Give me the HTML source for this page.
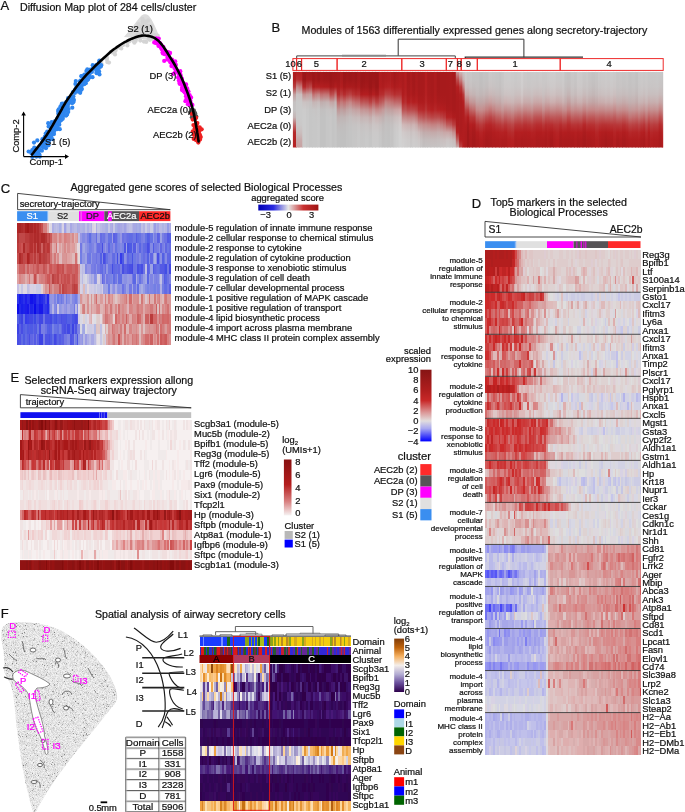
<!DOCTYPE html>
<html><head><meta charset="utf-8"><style>
html,body{margin:0;padding:0;background:#fff;width:685px;height:812px;overflow:hidden}
svg{display:block;will-change:transform}
text{font-family:"Liberation Sans",sans-serif}
</style></head><body>
<svg width="685" height="812" viewBox="0 0 685 812" font-family="Liberation Sans, sans-serif">
<text x="0.5" y="9.8" font-size="13" fill="#111" stroke="#111" stroke-width="0.22">A</text>
<text x="20.0" y="10.9" font-size="10.67" fill="#111" stroke="#111" stroke-width="0.22">Diffusion Map plot of 284 cells/cluster</text>
<path d="M124 37 C130 30 136 22 141 16 C143 13.5 147 13.5 149 16 C153 21 156 28 159 36 C160 40 157 42 153 41 L136 38 Z" fill="#dcdcdc"/>
<circle cx="119.4" cy="47.5" r="2.1" fill="#d4d4d4"/>
<circle cx="115.0" cy="51.2" r="2.1" fill="#d4d4d4"/>
<circle cx="151.0" cy="29.7" r="2.1" fill="#d4d4d4"/>
<circle cx="133.5" cy="41.1" r="2.1" fill="#d4d4d4"/>
<circle cx="152.3" cy="38.2" r="2.1" fill="#d4d4d4"/>
<circle cx="135.6" cy="40.9" r="2.1" fill="#d4d4d4"/>
<circle cx="127.4" cy="45.5" r="2.1" fill="#d4d4d4"/>
<circle cx="139.1" cy="37.0" r="2.1" fill="#d4d4d4"/>
<circle cx="134.0" cy="28.0" r="2.1" fill="#d4d4d4"/>
<circle cx="109.0" cy="62.6" r="2.1" fill="#d4d4d4"/>
<circle cx="146.2" cy="41.9" r="2.1" fill="#d4d4d4"/>
<circle cx="112.2" cy="52.4" r="2.1" fill="#d4d4d4"/>
<circle cx="106.8" cy="59.2" r="2.1" fill="#d4d4d4"/>
<circle cx="149.1" cy="26.2" r="2.1" fill="#d4d4d4"/>
<circle cx="139.6" cy="35.7" r="2.1" fill="#d4d4d4"/>
<circle cx="123.1" cy="44.9" r="2.1" fill="#d4d4d4"/>
<circle cx="154.9" cy="35.1" r="2.1" fill="#d4d4d4"/>
<circle cx="151.2" cy="35.7" r="2.1" fill="#d4d4d4"/>
<circle cx="147.2" cy="27.2" r="2.1" fill="#d4d4d4"/>
<circle cx="121.3" cy="48.5" r="2.1" fill="#d4d4d4"/>
<circle cx="101.6" cy="64.2" r="2.1" fill="#d4d4d4"/>
<circle cx="143.9" cy="31.9" r="2.1" fill="#d4d4d4"/>
<circle cx="110.8" cy="51.9" r="2.1" fill="#d4d4d4"/>
<circle cx="138.1" cy="34.6" r="2.1" fill="#d4d4d4"/>
<circle cx="100.4" cy="67.1" r="2.1" fill="#d4d4d4"/>
<circle cx="115.0" cy="54.4" r="2.1" fill="#d4d4d4"/>
<circle cx="137.7" cy="28.2" r="2.1" fill="#d4d4d4"/>
<circle cx="148.8" cy="39.1" r="2.1" fill="#d4d4d4"/>
<circle cx="134.4" cy="42.7" r="2.1" fill="#d4d4d4"/>
<circle cx="137.9" cy="27.6" r="2.1" fill="#d4d4d4"/>
<circle cx="100.2" cy="65.8" r="2.1" fill="#d4d4d4"/>
<circle cx="138.3" cy="24.0" r="2.1" fill="#d4d4d4"/>
<circle cx="107.3" cy="62.1" r="2.1" fill="#d4d4d4"/>
<circle cx="101.3" cy="60.7" r="2.1" fill="#d4d4d4"/>
<circle cx="143.2" cy="25.6" r="2.1" fill="#d4d4d4"/>
<circle cx="143.9" cy="41.6" r="2.1" fill="#d4d4d4"/>
<circle cx="142.4" cy="18.8" r="2.1" fill="#d4d4d4"/>
<circle cx="107.0" cy="57.7" r="2.1" fill="#d4d4d4"/>
<circle cx="148.1" cy="20.4" r="2.1" fill="#d4d4d4"/>
<circle cx="151.5" cy="31.5" r="2.1" fill="#d4d4d4"/>
<circle cx="149.2" cy="38.0" r="2.1" fill="#d4d4d4"/>
<circle cx="119.6" cy="46.6" r="2.1" fill="#d4d4d4"/>
<circle cx="129.4" cy="41.3" r="2.1" fill="#d4d4d4"/>
<circle cx="140.5" cy="26.5" r="2.1" fill="#d4d4d4"/>
<circle cx="143.2" cy="35.6" r="2.1" fill="#d4d4d4"/>
<circle cx="151.4" cy="34.9" r="2.1" fill="#d4d4d4"/>
<circle cx="136.6" cy="29.3" r="2.1" fill="#d4d4d4"/>
<circle cx="113.2" cy="51.9" r="2.1" fill="#d4d4d4"/>
<circle cx="137.4" cy="34.7" r="2.1" fill="#d4d4d4"/>
<circle cx="115.8" cy="49.8" r="2.1" fill="#d4d4d4"/>
<circle cx="143.7" cy="30.8" r="2.1" fill="#d4d4d4"/>
<circle cx="143.3" cy="20.9" r="2.1" fill="#d4d4d4"/>
<circle cx="150.7" cy="27.2" r="2.1" fill="#d4d4d4"/>
<circle cx="137.4" cy="28.7" r="2.1" fill="#d4d4d4"/>
<circle cx="147.0" cy="26.1" r="2.1" fill="#d4d4d4"/>
<circle cx="144.3" cy="32.5" r="2.1" fill="#d4d4d4"/>
<circle cx="119.8" cy="47.4" r="2.1" fill="#d4d4d4"/>
<circle cx="151.8" cy="26.1" r="2.1" fill="#d4d4d4"/>
<circle cx="145.8" cy="22.5" r="2.1" fill="#d4d4d4"/>
<circle cx="142.8" cy="33.5" r="2.1" fill="#d4d4d4"/>
<circle cx="157.7" cy="35.5" r="2.1" fill="#d4d4d4"/>
<circle cx="144.6" cy="21.3" r="2.1" fill="#d4d4d4"/>
<circle cx="127.2" cy="42.6" r="2.1" fill="#d4d4d4"/>
<circle cx="149.8" cy="39.8" r="2.1" fill="#d4d4d4"/>
<circle cx="140.3" cy="40.6" r="2.1" fill="#d4d4d4"/>
<circle cx="144.6" cy="24.6" r="2.1" fill="#d4d4d4"/>
<circle cx="149.1" cy="29.8" r="2.1" fill="#d4d4d4"/>
<circle cx="140.9" cy="33.6" r="2.1" fill="#d4d4d4"/>
<circle cx="149.1" cy="38.3" r="2.1" fill="#d4d4d4"/>
<circle cx="144.0" cy="29.9" r="2.1" fill="#d4d4d4"/>
<circle cx="142.8" cy="22.1" r="2.1" fill="#d4d4d4"/>
<circle cx="136.0" cy="39.2" r="2.1" fill="#d4d4d4"/>
<circle cx="135.8" cy="36.8" r="2.1" fill="#d4d4d4"/>
<circle cx="98.7" cy="68.7" r="2.1" fill="#d4d4d4"/>
<circle cx="137.0" cy="37.6" r="2.1" fill="#d4d4d4"/>
<circle cx="51.4" cy="135.7" r="2.1" fill="#2f86ee"/>
<circle cx="63.9" cy="111.8" r="2.1" fill="#2f86ee"/>
<circle cx="40.9" cy="145.9" r="2.1" fill="#2f86ee"/>
<circle cx="34.3" cy="155.2" r="2.1" fill="#2f86ee"/>
<circle cx="61.9" cy="111.3" r="2.1" fill="#2f86ee"/>
<circle cx="79.1" cy="90.5" r="2.1" fill="#2f86ee"/>
<circle cx="59.7" cy="116.3" r="2.1" fill="#2f86ee"/>
<circle cx="93.5" cy="68.6" r="2.1" fill="#2f86ee"/>
<circle cx="62.7" cy="118.8" r="2.1" fill="#2f86ee"/>
<circle cx="42.4" cy="139.2" r="2.1" fill="#2f86ee"/>
<circle cx="32.3" cy="157.0" r="2.1" fill="#2f86ee"/>
<circle cx="31.6" cy="151.9" r="2.1" fill="#2f86ee"/>
<circle cx="99.5" cy="74.5" r="2.1" fill="#2f86ee"/>
<circle cx="66.2" cy="115.5" r="2.1" fill="#2f86ee"/>
<circle cx="54.5" cy="130.3" r="2.1" fill="#2f86ee"/>
<circle cx="80.2" cy="92.8" r="2.1" fill="#2f86ee"/>
<circle cx="54.8" cy="124.9" r="2.1" fill="#2f86ee"/>
<circle cx="46.0" cy="141.9" r="2.1" fill="#2f86ee"/>
<circle cx="46.6" cy="140.4" r="2.1" fill="#2f86ee"/>
<circle cx="85.2" cy="76.2" r="2.1" fill="#2f86ee"/>
<circle cx="35.3" cy="153.5" r="2.1" fill="#2f86ee"/>
<circle cx="70.5" cy="101.4" r="2.1" fill="#2f86ee"/>
<circle cx="39.4" cy="154.6" r="2.1" fill="#2f86ee"/>
<circle cx="58.7" cy="109.3" r="2.1" fill="#2f86ee"/>
<circle cx="64.0" cy="109.1" r="2.1" fill="#2f86ee"/>
<circle cx="33.1" cy="154.2" r="2.1" fill="#2f86ee"/>
<circle cx="84.4" cy="78.3" r="2.1" fill="#2f86ee"/>
<circle cx="36.5" cy="150.8" r="2.1" fill="#2f86ee"/>
<circle cx="42.2" cy="142.6" r="2.1" fill="#2f86ee"/>
<circle cx="58.2" cy="110.8" r="2.1" fill="#2f86ee"/>
<circle cx="89.3" cy="77.2" r="2.1" fill="#2f86ee"/>
<circle cx="55.4" cy="124.0" r="2.1" fill="#2f86ee"/>
<circle cx="91.9" cy="71.9" r="2.1" fill="#2f86ee"/>
<circle cx="49.3" cy="132.8" r="2.1" fill="#2f86ee"/>
<circle cx="49.3" cy="137.1" r="2.1" fill="#2f86ee"/>
<circle cx="81.4" cy="86.4" r="2.1" fill="#2f86ee"/>
<circle cx="55.1" cy="121.2" r="2.1" fill="#2f86ee"/>
<circle cx="54.4" cy="122.2" r="2.1" fill="#2f86ee"/>
<circle cx="75.8" cy="81.1" r="2.1" fill="#2f86ee"/>
<circle cx="60.5" cy="119.7" r="2.1" fill="#2f86ee"/>
<circle cx="38.4" cy="150.2" r="2.1" fill="#2f86ee"/>
<circle cx="87.0" cy="74.9" r="2.1" fill="#2f86ee"/>
<circle cx="99.1" cy="66.4" r="2.1" fill="#2f86ee"/>
<circle cx="66.9" cy="109.0" r="2.1" fill="#2f86ee"/>
<circle cx="60.1" cy="109.7" r="2.1" fill="#2f86ee"/>
<circle cx="97.6" cy="66.8" r="2.1" fill="#2f86ee"/>
<circle cx="87.3" cy="69.4" r="2.1" fill="#2f86ee"/>
<circle cx="62.4" cy="107.2" r="2.1" fill="#2f86ee"/>
<circle cx="70.7" cy="98.0" r="2.1" fill="#2f86ee"/>
<circle cx="59.2" cy="117.9" r="2.1" fill="#2f86ee"/>
<circle cx="96.1" cy="69.1" r="2.1" fill="#2f86ee"/>
<circle cx="47.5" cy="134.1" r="2.1" fill="#2f86ee"/>
<circle cx="36.4" cy="156.6" r="2.1" fill="#2f86ee"/>
<circle cx="50.8" cy="132.3" r="2.1" fill="#2f86ee"/>
<circle cx="37.3" cy="140.4" r="2.1" fill="#2f86ee"/>
<circle cx="76.7" cy="88.9" r="2.1" fill="#2f86ee"/>
<circle cx="100.8" cy="66.4" r="2.1" fill="#2f86ee"/>
<circle cx="66.2" cy="115.3" r="2.1" fill="#2f86ee"/>
<circle cx="96.6" cy="72.6" r="2.1" fill="#2f86ee"/>
<circle cx="95.5" cy="67.4" r="2.1" fill="#2f86ee"/>
<circle cx="92.5" cy="77.2" r="2.1" fill="#2f86ee"/>
<circle cx="63.2" cy="110.9" r="2.1" fill="#2f86ee"/>
<circle cx="58.9" cy="111.3" r="2.1" fill="#2f86ee"/>
<circle cx="64.5" cy="106.1" r="2.1" fill="#2f86ee"/>
<circle cx="83.1" cy="83.2" r="2.1" fill="#2f86ee"/>
<circle cx="45.5" cy="147.0" r="2.1" fill="#2f86ee"/>
<circle cx="89.6" cy="74.0" r="2.1" fill="#2f86ee"/>
<circle cx="50.6" cy="132.1" r="2.1" fill="#2f86ee"/>
<circle cx="63.0" cy="112.6" r="2.1" fill="#2f86ee"/>
<circle cx="37.7" cy="151.2" r="2.1" fill="#2f86ee"/>
<circle cx="58.9" cy="122.4" r="2.1" fill="#2f86ee"/>
<circle cx="46.4" cy="137.7" r="2.1" fill="#2f86ee"/>
<circle cx="57.0" cy="126.7" r="2.1" fill="#2f86ee"/>
<circle cx="38.4" cy="148.9" r="2.1" fill="#2f86ee"/>
<circle cx="62.2" cy="103.5" r="2.1" fill="#2f86ee"/>
<circle cx="31.3" cy="152.9" r="2.1" fill="#2f86ee"/>
<circle cx="96.4" cy="70.8" r="2.1" fill="#2f86ee"/>
<circle cx="81.9" cy="89.1" r="2.1" fill="#2f86ee"/>
<circle cx="84.4" cy="84.1" r="2.1" fill="#2f86ee"/>
<circle cx="43.0" cy="147.4" r="2.1" fill="#2f86ee"/>
<circle cx="65.4" cy="108.0" r="2.1" fill="#2f86ee"/>
<circle cx="61.8" cy="111.9" r="2.1" fill="#2f86ee"/>
<circle cx="52.9" cy="128.9" r="2.1" fill="#2f86ee"/>
<circle cx="67.0" cy="114.4" r="2.1" fill="#2f86ee"/>
<circle cx="49.6" cy="139.6" r="2.1" fill="#2f86ee"/>
<circle cx="60.6" cy="113.0" r="2.1" fill="#2f86ee"/>
<circle cx="70.8" cy="97.7" r="2.1" fill="#2f86ee"/>
<circle cx="43.5" cy="144.7" r="2.1" fill="#2f86ee"/>
<circle cx="67.4" cy="106.7" r="2.1" fill="#2f86ee"/>
<circle cx="89.3" cy="77.4" r="2.1" fill="#2f86ee"/>
<circle cx="85.1" cy="76.7" r="2.1" fill="#2f86ee"/>
<circle cx="47.8" cy="135.1" r="2.1" fill="#2f86ee"/>
<circle cx="64.4" cy="108.1" r="2.1" fill="#2f86ee"/>
<circle cx="61.1" cy="113.0" r="2.1" fill="#2f86ee"/>
<circle cx="58.6" cy="112.0" r="2.1" fill="#2f86ee"/>
<circle cx="60.3" cy="106.9" r="2.1" fill="#2f86ee"/>
<circle cx="96.7" cy="73.2" r="2.1" fill="#2f86ee"/>
<circle cx="64.4" cy="115.6" r="2.1" fill="#2f86ee"/>
<circle cx="44.9" cy="136.6" r="2.1" fill="#2f86ee"/>
<circle cx="66.3" cy="103.7" r="2.1" fill="#2f86ee"/>
<circle cx="50.6" cy="135.6" r="2.1" fill="#2f86ee"/>
<circle cx="54.0" cy="134.1" r="2.1" fill="#2f86ee"/>
<circle cx="73.0" cy="92.1" r="2.1" fill="#2f86ee"/>
<circle cx="52.6" cy="131.3" r="2.1" fill="#2f86ee"/>
<circle cx="58.6" cy="117.6" r="2.1" fill="#2f86ee"/>
<circle cx="60.9" cy="116.8" r="2.1" fill="#2f86ee"/>
<circle cx="46.8" cy="133.7" r="2.1" fill="#2f86ee"/>
<circle cx="72.3" cy="107.7" r="2.1" fill="#2f86ee"/>
<circle cx="50.7" cy="132.0" r="2.1" fill="#2f86ee"/>
<circle cx="70.5" cy="102.0" r="2.1" fill="#2f86ee"/>
<circle cx="32.0" cy="151.7" r="2.1" fill="#2f86ee"/>
<circle cx="61.9" cy="115.5" r="2.1" fill="#2f86ee"/>
<circle cx="83.7" cy="76.0" r="2.1" fill="#2f86ee"/>
<circle cx="61.3" cy="120.1" r="2.1" fill="#2f86ee"/>
<circle cx="81.9" cy="81.7" r="2.1" fill="#2f86ee"/>
<circle cx="48.8" cy="139.3" r="2.1" fill="#2f86ee"/>
<circle cx="69.5" cy="100.3" r="2.1" fill="#2f86ee"/>
<circle cx="48.5" cy="145.3" r="2.1" fill="#2f86ee"/>
<circle cx="63.6" cy="106.0" r="2.1" fill="#2f86ee"/>
<circle cx="60.9" cy="113.8" r="2.1" fill="#2f86ee"/>
<circle cx="62.3" cy="118.4" r="2.1" fill="#2f86ee"/>
<circle cx="70.3" cy="100.8" r="2.1" fill="#2f86ee"/>
<circle cx="82.6" cy="84.6" r="2.1" fill="#2f86ee"/>
<circle cx="34.5" cy="153.3" r="2.1" fill="#2f86ee"/>
<circle cx="62.4" cy="104.2" r="2.1" fill="#2f86ee"/>
<circle cx="73.2" cy="102.3" r="2.1" fill="#2f86ee"/>
<circle cx="50.9" cy="132.6" r="2.1" fill="#2f86ee"/>
<circle cx="81.3" cy="82.0" r="2.1" fill="#2f86ee"/>
<circle cx="53.8" cy="125.4" r="2.1" fill="#2f86ee"/>
<circle cx="34.7" cy="150.6" r="2.1" fill="#2f86ee"/>
<circle cx="75.4" cy="89.7" r="2.1" fill="#2f86ee"/>
<circle cx="77.8" cy="87.5" r="2.1" fill="#2f86ee"/>
<circle cx="43.8" cy="140.0" r="2.1" fill="#2f86ee"/>
<circle cx="52.4" cy="128.5" r="2.1" fill="#2f86ee"/>
<circle cx="45.7" cy="133.5" r="2.1" fill="#2f86ee"/>
<circle cx="48.8" cy="142.1" r="2.1" fill="#2f86ee"/>
<circle cx="50.5" cy="127.5" r="2.1" fill="#2f86ee"/>
<circle cx="50.0" cy="131.5" r="2.1" fill="#2f86ee"/>
<circle cx="48.2" cy="123.2" r="2.1" fill="#2f86ee"/>
<circle cx="68.6" cy="109.0" r="2.1" fill="#2f86ee"/>
<circle cx="61.8" cy="114.8" r="2.1" fill="#2f86ee"/>
<circle cx="39.7" cy="149.9" r="2.1" fill="#2f86ee"/>
<circle cx="63.7" cy="105.5" r="2.1" fill="#2f86ee"/>
<circle cx="52.4" cy="139.2" r="2.1" fill="#2f86ee"/>
<circle cx="76.3" cy="87.4" r="2.1" fill="#2f86ee"/>
<circle cx="84.4" cy="82.6" r="2.1" fill="#2f86ee"/>
<circle cx="52.0" cy="130.9" r="2.1" fill="#2f86ee"/>
<circle cx="60.7" cy="115.0" r="2.1" fill="#2f86ee"/>
<circle cx="58.3" cy="113.7" r="2.1" fill="#2f86ee"/>
<circle cx="60.8" cy="116.7" r="2.1" fill="#2f86ee"/>
<circle cx="45.0" cy="143.2" r="2.1" fill="#2f86ee"/>
<circle cx="99.4" cy="60.6" r="2.1" fill="#2f86ee"/>
<circle cx="41.9" cy="150.7" r="2.1" fill="#2f86ee"/>
<circle cx="57.5" cy="118.3" r="2.1" fill="#2f86ee"/>
<circle cx="73.8" cy="100.8" r="2.1" fill="#2f86ee"/>
<circle cx="79.4" cy="87.2" r="2.1" fill="#2f86ee"/>
<circle cx="67.2" cy="103.6" r="2.1" fill="#2f86ee"/>
<circle cx="61.7" cy="104.2" r="2.1" fill="#2f86ee"/>
<circle cx="68.1" cy="104.2" r="2.1" fill="#2f86ee"/>
<circle cx="56.6" cy="122.0" r="2.1" fill="#2f86ee"/>
<circle cx="67.5" cy="106.3" r="2.1" fill="#2f86ee"/>
<circle cx="84.4" cy="74.6" r="2.1" fill="#2f86ee"/>
<circle cx="47.4" cy="141.0" r="2.1" fill="#2f86ee"/>
<circle cx="34.0" cy="142.6" r="2.1" fill="#2f86ee"/>
<circle cx="56.8" cy="122.8" r="2.1" fill="#2f86ee"/>
<circle cx="98.8" cy="68.1" r="2.1" fill="#2f86ee"/>
<circle cx="79.9" cy="81.6" r="2.1" fill="#2f86ee"/>
<circle cx="58.4" cy="122.4" r="2.1" fill="#2f86ee"/>
<circle cx="84.6" cy="81.7" r="2.1" fill="#2f86ee"/>
<circle cx="79.2" cy="84.9" r="2.1" fill="#2f86ee"/>
<circle cx="51.8" cy="131.5" r="2.1" fill="#2f86ee"/>
<circle cx="73.6" cy="99.3" r="2.1" fill="#2f86ee"/>
<circle cx="54.7" cy="124.2" r="2.1" fill="#2f86ee"/>
<circle cx="57.0" cy="129.2" r="2.1" fill="#2f86ee"/>
<circle cx="59.3" cy="124.7" r="2.1" fill="#2f86ee"/>
<circle cx="47.7" cy="132.9" r="2.1" fill="#2f86ee"/>
<circle cx="75.1" cy="90.1" r="2.1" fill="#2f86ee"/>
<circle cx="68.1" cy="99.5" r="2.1" fill="#2f86ee"/>
<circle cx="57.4" cy="127.3" r="2.1" fill="#2f86ee"/>
<circle cx="48.0" cy="136.1" r="2.1" fill="#2f86ee"/>
<circle cx="38.8" cy="151.3" r="2.1" fill="#2f86ee"/>
<circle cx="84.3" cy="83.7" r="2.1" fill="#2f86ee"/>
<circle cx="54.5" cy="127.3" r="2.1" fill="#2f86ee"/>
<circle cx="80.8" cy="90.3" r="2.1" fill="#2f86ee"/>
<circle cx="97.8" cy="71.0" r="2.1" fill="#2f86ee"/>
<circle cx="45.8" cy="142.0" r="2.1" fill="#2f86ee"/>
<circle cx="34.4" cy="155.3" r="2.1" fill="#2f86ee"/>
<circle cx="94.8" cy="66.0" r="2.1" fill="#2f86ee"/>
<circle cx="64.4" cy="110.0" r="2.1" fill="#2f86ee"/>
<circle cx="85.7" cy="79.5" r="2.1" fill="#2f86ee"/>
<circle cx="33.4" cy="154.0" r="2.1" fill="#2f86ee"/>
<circle cx="80.5" cy="86.0" r="2.1" fill="#2f86ee"/>
<circle cx="45.5" cy="140.9" r="2.1" fill="#2f86ee"/>
<circle cx="36.2" cy="153.5" r="2.1" fill="#2f86ee"/>
<circle cx="62.0" cy="117.2" r="2.1" fill="#2f86ee"/>
<circle cx="55.8" cy="129.1" r="2.1" fill="#2f86ee"/>
<circle cx="47.9" cy="141.3" r="2.1" fill="#2f86ee"/>
<circle cx="34.3" cy="147.5" r="2.1" fill="#2f86ee"/>
<circle cx="63.1" cy="110.0" r="2.1" fill="#2f86ee"/>
<circle cx="48.6" cy="126.5" r="2.1" fill="#2f86ee"/>
<circle cx="85.8" cy="83.2" r="2.1" fill="#2f86ee"/>
<circle cx="75.7" cy="91.2" r="2.1" fill="#2f86ee"/>
<circle cx="101.2" cy="65.2" r="2.1" fill="#2f86ee"/>
<circle cx="45.7" cy="138.7" r="2.1" fill="#2f86ee"/>
<circle cx="45.9" cy="148.2" r="2.1" fill="#2f86ee"/>
<circle cx="51.6" cy="124.1" r="2.1" fill="#2f86ee"/>
<circle cx="83.4" cy="82.5" r="2.1" fill="#2f86ee"/>
<circle cx="86.8" cy="80.5" r="2.1" fill="#2f86ee"/>
<circle cx="34.1" cy="149.7" r="2.1" fill="#2f86ee"/>
<circle cx="71.8" cy="102.8" r="2.1" fill="#2f86ee"/>
<circle cx="89.6" cy="77.1" r="2.1" fill="#2f86ee"/>
<circle cx="42.3" cy="146.0" r="2.1" fill="#2f86ee"/>
<circle cx="86.4" cy="71.1" r="2.1" fill="#2f86ee"/>
<circle cx="59.1" cy="122.3" r="2.1" fill="#2f86ee"/>
<circle cx="56.2" cy="123.9" r="2.1" fill="#2f86ee"/>
<circle cx="48.4" cy="136.2" r="2.1" fill="#2f86ee"/>
<circle cx="57.6" cy="121.1" r="2.1" fill="#2f86ee"/>
<circle cx="69.3" cy="99.9" r="2.1" fill="#2f86ee"/>
<circle cx="68.9" cy="102.7" r="2.1" fill="#2f86ee"/>
<circle cx="80.4" cy="80.7" r="2.1" fill="#2f86ee"/>
<circle cx="92.9" cy="68.6" r="2.1" fill="#2f86ee"/>
<circle cx="66.2" cy="102.2" r="2.1" fill="#2f86ee"/>
<circle cx="53.9" cy="131.8" r="2.1" fill="#2f86ee"/>
<circle cx="46.8" cy="133.5" r="2.1" fill="#2f86ee"/>
<circle cx="46.5" cy="137.8" r="2.1" fill="#2f86ee"/>
<circle cx="86.6" cy="80.3" r="2.1" fill="#2f86ee"/>
<circle cx="34.4" cy="149.2" r="2.1" fill="#2f86ee"/>
<circle cx="32.3" cy="150.2" r="2.1" fill="#2f86ee"/>
<circle cx="64.1" cy="111.8" r="2.1" fill="#2f86ee"/>
<circle cx="50.4" cy="133.8" r="2.1" fill="#2f86ee"/>
<circle cx="92.7" cy="65.2" r="2.1" fill="#2f86ee"/>
<circle cx="82.2" cy="83.2" r="2.1" fill="#2f86ee"/>
<circle cx="61.3" cy="116.9" r="2.1" fill="#2f86ee"/>
<circle cx="33.4" cy="154.3" r="2.1" fill="#2f86ee"/>
<circle cx="37.1" cy="154.3" r="2.1" fill="#2f86ee"/>
<circle cx="99.1" cy="62.3" r="2.1" fill="#2f86ee"/>
<circle cx="47.2" cy="131.6" r="2.1" fill="#2f86ee"/>
<circle cx="75.4" cy="83.9" r="2.1" fill="#2f86ee"/>
<circle cx="64.2" cy="106.3" r="2.1" fill="#2f86ee"/>
<circle cx="67.3" cy="110.8" r="2.1" fill="#2f86ee"/>
<circle cx="61.9" cy="109.9" r="2.1" fill="#2f86ee"/>
<circle cx="50.3" cy="134.8" r="2.1" fill="#2f86ee"/>
<circle cx="96.5" cy="64.9" r="2.1" fill="#2f86ee"/>
<circle cx="68.1" cy="98.2" r="2.1" fill="#2f86ee"/>
<circle cx="62.2" cy="115.3" r="2.1" fill="#2f86ee"/>
<circle cx="60.3" cy="111.4" r="2.1" fill="#2f86ee"/>
<circle cx="39.8" cy="156.6" r="2.1" fill="#2f86ee"/>
<circle cx="81.6" cy="76.3" r="2.1" fill="#2f86ee"/>
<circle cx="74.9" cy="93.0" r="2.1" fill="#2f86ee"/>
<circle cx="71.4" cy="98.4" r="2.1" fill="#2f86ee"/>
<circle cx="56.7" cy="123.0" r="2.1" fill="#2f86ee"/>
<circle cx="68.2" cy="112.1" r="2.1" fill="#2f86ee"/>
<circle cx="78.0" cy="91.6" r="2.1" fill="#2f86ee"/>
<circle cx="50.6" cy="131.5" r="2.1" fill="#2f86ee"/>
<circle cx="51.3" cy="135.3" r="2.1" fill="#2f86ee"/>
<circle cx="65.1" cy="107.9" r="2.1" fill="#2f86ee"/>
<circle cx="28.6" cy="151.5" r="2.1" fill="#2f86ee"/>
<circle cx="90.2" cy="69.5" r="2.1" fill="#2f86ee"/>
<circle cx="36.5" cy="150.5" r="2.1" fill="#2f86ee"/>
<circle cx="56.4" cy="121.8" r="2.1" fill="#2f86ee"/>
<circle cx="64.8" cy="106.3" r="2.1" fill="#2f86ee"/>
<circle cx="73.4" cy="96.3" r="2.1" fill="#2f86ee"/>
<circle cx="55.4" cy="126.4" r="2.1" fill="#2f86ee"/>
<circle cx="50.4" cy="135.8" r="2.1" fill="#2f86ee"/>
<circle cx="81.3" cy="76.1" r="2.1" fill="#2f86ee"/>
<circle cx="44.3" cy="144.4" r="2.1" fill="#2f86ee"/>
<circle cx="68.1" cy="100.2" r="2.1" fill="#2f86ee"/>
<circle cx="51.2" cy="128.8" r="2.1" fill="#2f86ee"/>
<circle cx="99.1" cy="71.6" r="2.1" fill="#2f86ee"/>
<circle cx="37.3" cy="150.6" r="2.1" fill="#2f86ee"/>
<circle cx="51.4" cy="128.5" r="2.1" fill="#2f86ee"/>
<circle cx="83.3" cy="80.5" r="2.1" fill="#2f86ee"/>
<circle cx="64.2" cy="103.6" r="2.1" fill="#2f86ee"/>
<circle cx="82.0" cy="82.9" r="2.1" fill="#2f86ee"/>
<circle cx="71.7" cy="99.5" r="2.1" fill="#2f86ee"/>
<circle cx="51.7" cy="122.2" r="2.1" fill="#2f86ee"/>
<circle cx="32.8" cy="150.0" r="2.1" fill="#2f86ee"/>
<circle cx="35.7" cy="148.7" r="2.1" fill="#2f86ee"/>
<circle cx="88.1" cy="79.5" r="2.1" fill="#2f86ee"/>
<circle cx="72.4" cy="102.8" r="2.1" fill="#2f86ee"/>
<circle cx="62.9" cy="110.6" r="2.1" fill="#2f86ee"/>
<circle cx="72.1" cy="97.4" r="2.1" fill="#2f86ee"/>
<circle cx="44.7" cy="144.2" r="2.1" fill="#2f86ee"/>
<circle cx="59.8" cy="129.2" r="2.1" fill="#2f86ee"/>
<circle cx="43.5" cy="142.5" r="2.1" fill="#2f86ee"/>
<circle cx="52.0" cy="130.8" r="2.1" fill="#2f86ee"/>
<circle cx="59.9" cy="117.5" r="2.1" fill="#2f86ee"/>
<circle cx="44.8" cy="145.9" r="2.1" fill="#2f86ee"/>
<circle cx="31.9" cy="152.9" r="2.1" fill="#2f86ee"/>
<circle cx="83.0" cy="80.3" r="2.1" fill="#2f86ee"/>
<circle cx="156.0" cy="42.4" r="2.1" fill="#ff00ff"/>
<circle cx="170.5" cy="62.5" r="2.1" fill="#ff00ff"/>
<circle cx="156.0" cy="42.5" r="2.1" fill="#ff00ff"/>
<circle cx="161.6" cy="49.0" r="2.1" fill="#ff00ff"/>
<circle cx="171.6" cy="61.4" r="2.1" fill="#ff00ff"/>
<circle cx="157.8" cy="41.1" r="2.1" fill="#ff00ff"/>
<circle cx="187.9" cy="104.3" r="2.1" fill="#ff00ff"/>
<circle cx="156.7" cy="39.5" r="2.1" fill="#ff00ff"/>
<circle cx="162.0" cy="49.3" r="2.1" fill="#ff00ff"/>
<circle cx="175.9" cy="64.9" r="2.1" fill="#ff00ff"/>
<circle cx="181.9" cy="78.6" r="2.1" fill="#ff00ff"/>
<circle cx="187.2" cy="98.6" r="2.1" fill="#ff00ff"/>
<circle cx="179.9" cy="83.9" r="2.1" fill="#ff00ff"/>
<circle cx="180.3" cy="71.2" r="2.1" fill="#ff00ff"/>
<circle cx="187.6" cy="92.6" r="2.1" fill="#ff00ff"/>
<circle cx="182.0" cy="90.1" r="2.1" fill="#ff00ff"/>
<circle cx="183.6" cy="84.7" r="2.1" fill="#ff00ff"/>
<circle cx="185.6" cy="91.8" r="2.1" fill="#ff00ff"/>
<circle cx="166.7" cy="54.8" r="2.1" fill="#ff00ff"/>
<circle cx="185.9" cy="93.8" r="2.1" fill="#ff00ff"/>
<circle cx="172.2" cy="60.6" r="2.1" fill="#ff00ff"/>
<circle cx="180.8" cy="80.0" r="2.1" fill="#ff00ff"/>
<circle cx="161.0" cy="45.2" r="2.1" fill="#ff00ff"/>
<circle cx="160.5" cy="45.2" r="2.1" fill="#ff00ff"/>
<circle cx="167.4" cy="59.6" r="2.1" fill="#ff00ff"/>
<circle cx="166.3" cy="52.3" r="2.1" fill="#ff00ff"/>
<circle cx="174.4" cy="68.0" r="2.1" fill="#ff00ff"/>
<circle cx="157.3" cy="43.5" r="2.1" fill="#ff00ff"/>
<circle cx="178.5" cy="73.8" r="2.1" fill="#ff00ff"/>
<circle cx="172.1" cy="59.7" r="2.1" fill="#ff00ff"/>
<circle cx="179.4" cy="82.9" r="2.1" fill="#ff00ff"/>
<circle cx="172.0" cy="62.3" r="2.1" fill="#ff00ff"/>
<circle cx="166.8" cy="52.6" r="2.1" fill="#ff00ff"/>
<circle cx="185.7" cy="84.5" r="2.1" fill="#ff00ff"/>
<circle cx="190.6" cy="102.5" r="2.1" fill="#ff00ff"/>
<circle cx="175.5" cy="68.5" r="2.1" fill="#ff00ff"/>
<circle cx="175.0" cy="72.6" r="2.1" fill="#ff00ff"/>
<circle cx="185.2" cy="86.3" r="2.1" fill="#ff00ff"/>
<circle cx="160.7" cy="47.3" r="2.1" fill="#ff00ff"/>
<circle cx="189.8" cy="100.4" r="2.1" fill="#ff00ff"/>
<circle cx="188.3" cy="91.8" r="2.1" fill="#ff00ff"/>
<circle cx="189.6" cy="95.1" r="2.1" fill="#ff00ff"/>
<circle cx="156.4" cy="40.8" r="2.1" fill="#ff00ff"/>
<circle cx="158.7" cy="43.6" r="2.1" fill="#ff00ff"/>
<circle cx="170.2" cy="61.8" r="2.1" fill="#ff00ff"/>
<circle cx="154.2" cy="42.4" r="2.1" fill="#ff00ff"/>
<circle cx="175.2" cy="61.3" r="2.1" fill="#ff00ff"/>
<circle cx="162.2" cy="47.0" r="2.1" fill="#ff00ff"/>
<circle cx="174.8" cy="67.5" r="2.1" fill="#ff00ff"/>
<circle cx="157.4" cy="41.9" r="2.1" fill="#ff00ff"/>
<circle cx="180.3" cy="77.0" r="2.1" fill="#ff00ff"/>
<circle cx="174.1" cy="64.5" r="2.1" fill="#ff00ff"/>
<circle cx="180.1" cy="80.5" r="2.1" fill="#ff00ff"/>
<circle cx="178.0" cy="77.4" r="2.1" fill="#ff00ff"/>
<circle cx="183.7" cy="91.3" r="2.1" fill="#ff00ff"/>
<circle cx="187.8" cy="95.8" r="2.1" fill="#ff00ff"/>
<circle cx="157.5" cy="42.2" r="2.1" fill="#ff00ff"/>
<circle cx="169.3" cy="58.1" r="2.1" fill="#ff00ff"/>
<circle cx="182.1" cy="87.4" r="2.1" fill="#ff00ff"/>
<circle cx="158.6" cy="42.7" r="2.1" fill="#ff00ff"/>
<circle cx="171.4" cy="66.1" r="2.1" fill="#ff00ff"/>
<circle cx="171.4" cy="62.1" r="2.1" fill="#ff00ff"/>
<circle cx="190.3" cy="100.6" r="2.1" fill="#ff00ff"/>
<circle cx="180.7" cy="78.1" r="2.1" fill="#ff00ff"/>
<circle cx="192.4" cy="104.9" r="2.1" fill="#ff00ff"/>
<circle cx="169.2" cy="59.7" r="2.1" fill="#ff00ff"/>
<circle cx="177.3" cy="70.8" r="2.1" fill="#ff00ff"/>
<circle cx="188.1" cy="99.9" r="2.1" fill="#ff00ff"/>
<circle cx="180.7" cy="75.6" r="2.1" fill="#ff00ff"/>
<circle cx="187.4" cy="90.8" r="2.1" fill="#ff00ff"/>
<circle cx="188.4" cy="91.4" r="2.1" fill="#ff00ff"/>
<circle cx="164.6" cy="54.2" r="2.1" fill="#ff00ff"/>
<circle cx="190.3" cy="105.2" r="2.1" fill="#ff00ff"/>
<circle cx="155.4" cy="42.8" r="2.1" fill="#ff00ff"/>
<circle cx="191.1" cy="97.6" r="2.1" fill="#ff00ff"/>
<circle cx="156.7" cy="41.4" r="2.1" fill="#ff00ff"/>
<circle cx="186.1" cy="84.4" r="2.1" fill="#ff00ff"/>
<circle cx="172.3" cy="64.6" r="2.1" fill="#ff00ff"/>
<circle cx="182.8" cy="85.2" r="2.1" fill="#ff00ff"/>
<circle cx="187.3" cy="90.9" r="2.1" fill="#ff00ff"/>
<circle cx="168.1" cy="55.0" r="2.1" fill="#ff00ff"/>
<circle cx="162.6" cy="52.3" r="2.1" fill="#ff00ff"/>
<circle cx="184.0" cy="88.7" r="2.1" fill="#ff00ff"/>
<circle cx="158.8" cy="38.5" r="2.1" fill="#ff00ff"/>
<circle cx="165.6" cy="53.2" r="2.1" fill="#ff00ff"/>
<circle cx="183.5" cy="88.5" r="2.1" fill="#ff00ff"/>
<circle cx="189.3" cy="103.1" r="2.1" fill="#ff00ff"/>
<circle cx="157.8" cy="40.2" r="2.1" fill="#ff00ff"/>
<circle cx="158.9" cy="43.8" r="2.1" fill="#ff00ff"/>
<circle cx="181.9" cy="80.3" r="2.1" fill="#ff00ff"/>
<circle cx="185.4" cy="101.2" r="2.1" fill="#ff00ff"/>
<circle cx="185.2" cy="84.9" r="2.1" fill="#ff00ff"/>
<circle cx="164.2" cy="60.9" r="2.1" fill="#ff00ff"/>
<circle cx="168.2" cy="52.0" r="2.1" fill="#ff00ff"/>
<circle cx="186.7" cy="95.8" r="2.1" fill="#ff00ff"/>
<circle cx="160.3" cy="43.4" r="2.1" fill="#ff00ff"/>
<circle cx="168.1" cy="56.3" r="2.1" fill="#ff00ff"/>
<circle cx="184.7" cy="88.7" r="2.1" fill="#ff00ff"/>
<circle cx="166.3" cy="52.0" r="2.1" fill="#ff00ff"/>
<circle cx="190.7" cy="104.9" r="2.1" fill="#ff00ff"/>
<circle cx="163.3" cy="46.8" r="2.1" fill="#ff00ff"/>
<circle cx="162.9" cy="53.4" r="2.1" fill="#ff00ff"/>
<circle cx="176.3" cy="69.9" r="2.1" fill="#ff00ff"/>
<circle cx="187.2" cy="88.4" r="2.1" fill="#ff00ff"/>
<circle cx="188.0" cy="100.1" r="2.1" fill="#ff00ff"/>
<circle cx="156.7" cy="43.2" r="2.1" fill="#ff00ff"/>
<circle cx="179.3" cy="77.0" r="2.1" fill="#ff00ff"/>
<circle cx="182.3" cy="82.7" r="2.1" fill="#ff00ff"/>
<circle cx="178.9" cy="80.5" r="2.1" fill="#ff00ff"/>
<circle cx="180.4" cy="82.4" r="2.1" fill="#ff00ff"/>
<circle cx="165.4" cy="50.5" r="2.1" fill="#ff00ff"/>
<circle cx="174.6" cy="62.0" r="2.1" fill="#ff00ff"/>
<circle cx="182.3" cy="89.3" r="2.1" fill="#ff00ff"/>
<circle cx="190.6" cy="97.2" r="2.1" fill="#ff00ff"/>
<circle cx="184.8" cy="92.6" r="2.1" fill="#ff00ff"/>
<circle cx="160.6" cy="47.0" r="2.1" fill="#ff00ff"/>
<circle cx="188.5" cy="97.4" r="2.1" fill="#ff00ff"/>
<circle cx="167.5" cy="57.6" r="2.1" fill="#ff00ff"/>
<circle cx="158.5" cy="45.9" r="2.1" fill="#ff00ff"/>
<circle cx="169.0" cy="54.3" r="2.1" fill="#ff00ff"/>
<circle cx="186.0" cy="96.3" r="2.1" fill="#ff00ff"/>
<circle cx="189.6" cy="102.3" r="2.1" fill="#ff00ff"/>
<circle cx="186.4" cy="98.9" r="2.1" fill="#ff00ff"/>
<circle cx="175.6" cy="69.8" r="2.1" fill="#ff00ff"/>
<circle cx="173.4" cy="73.9" r="2.1" fill="#ff00ff"/>
<circle cx="170.1" cy="52.9" r="2.1" fill="#ff00ff"/>
<circle cx="180.2" cy="73.9" r="2.1" fill="#ff00ff"/>
<circle cx="156.2" cy="38.3" r="2.1" fill="#ff00ff"/>
<circle cx="183.0" cy="82.5" r="2.1" fill="#ff00ff"/>
<circle cx="158.8" cy="43.5" r="2.1" fill="#ff00ff"/>
<circle cx="193.8" cy="110.3" r="2.1" fill="#555555"/>
<circle cx="194.6" cy="118.4" r="2.1" fill="#555555"/>
<circle cx="191.4" cy="111.3" r="2.1" fill="#555555"/>
<circle cx="192.2" cy="114.9" r="2.1" fill="#555555"/>
<circle cx="193.6" cy="117.0" r="2.1" fill="#555555"/>
<circle cx="193.3" cy="113.8" r="2.1" fill="#555555"/>
<circle cx="189.9" cy="112.5" r="2.1" fill="#555555"/>
<circle cx="191.8" cy="109.6" r="2.1" fill="#555555"/>
<circle cx="194.6" cy="112.7" r="2.1" fill="#555555"/>
<circle cx="191.9" cy="117.3" r="2.1" fill="#555555"/>
<circle cx="193.6" cy="111.2" r="2.1" fill="#555555"/>
<circle cx="194.8" cy="114.6" r="2.1" fill="#555555"/>
<circle cx="195.1" cy="113.3" r="2.1" fill="#555555"/>
<circle cx="196.2" cy="116.3" r="2.1" fill="#555555"/>
<circle cx="193.8" cy="117.3" r="2.1" fill="#555555"/>
<circle cx="192.5" cy="110.9" r="2.1" fill="#555555"/>
<circle cx="194.9" cy="119.3" r="2.1" fill="#ee2222"/>
<circle cx="196.3" cy="123.7" r="2.1" fill="#ee2222"/>
<circle cx="196.3" cy="129.5" r="2.1" fill="#ee2222"/>
<circle cx="198.3" cy="130.0" r="2.1" fill="#ee2222"/>
<circle cx="193.4" cy="125.1" r="2.1" fill="#ee2222"/>
<circle cx="197.4" cy="138.4" r="2.1" fill="#ee2222"/>
<circle cx="200.5" cy="137.6" r="2.1" fill="#ee2222"/>
<circle cx="197.6" cy="131.2" r="2.1" fill="#ee2222"/>
<circle cx="199.3" cy="138.5" r="2.1" fill="#ee2222"/>
<circle cx="193.7" cy="138.9" r="2.1" fill="#ee2222"/>
<circle cx="200.5" cy="136.6" r="2.1" fill="#ee2222"/>
<circle cx="196.1" cy="140.2" r="2.1" fill="#ee2222"/>
<circle cx="197.4" cy="123.1" r="2.1" fill="#ee2222"/>
<circle cx="198.3" cy="142.6" r="2.1" fill="#ee2222"/>
<circle cx="201.7" cy="129.3" r="2.1" fill="#ee2222"/>
<circle cx="197.1" cy="134.7" r="2.1" fill="#ee2222"/>
<circle cx="196.4" cy="138.7" r="2.1" fill="#ee2222"/>
<circle cx="192.8" cy="131.3" r="2.1" fill="#ee2222"/>
<circle cx="194.6" cy="128.5" r="2.1" fill="#ee2222"/>
<circle cx="195.1" cy="131.8" r="2.1" fill="#ee2222"/>
<circle cx="199.9" cy="134.8" r="2.1" fill="#ee2222"/>
<circle cx="199.9" cy="138.7" r="2.1" fill="#ee2222"/>
<circle cx="195.6" cy="126.2" r="2.1" fill="#ee2222"/>
<circle cx="194.5" cy="131.8" r="2.1" fill="#ee2222"/>
<circle cx="197.2" cy="127.5" r="2.1" fill="#ee2222"/>
<circle cx="197.6" cy="128.8" r="2.1" fill="#ee2222"/>
<circle cx="198.3" cy="141.3" r="2.1" fill="#ee2222"/>
<circle cx="196.0" cy="138.9" r="2.1" fill="#ee2222"/>
<circle cx="196.3" cy="128.2" r="2.1" fill="#ee2222"/>
<circle cx="195.1" cy="129.7" r="2.1" fill="#ee2222"/>
<circle cx="198.3" cy="132.0" r="2.1" fill="#ee2222"/>
<circle cx="196.0" cy="126.9" r="2.1" fill="#ee2222"/>
<circle cx="194.7" cy="118.9" r="2.1" fill="#ee2222"/>
<circle cx="196.2" cy="133.8" r="2.1" fill="#ee2222"/>
<circle cx="196.4" cy="125.3" r="2.1" fill="#ee2222"/>
<circle cx="191.8" cy="113.8" r="2.1" fill="#ee2222"/>
<circle cx="196.5" cy="123.0" r="2.1" fill="#ee2222"/>
<circle cx="196.2" cy="124.5" r="2.1" fill="#ee2222"/>
<circle cx="194.7" cy="118.1" r="2.1" fill="#ee2222"/>
<circle cx="196.3" cy="137.1" r="2.1" fill="#ee2222"/>
<circle cx="199.2" cy="131.5" r="2.1" fill="#ee2222"/>
<circle cx="199.7" cy="127.3" r="2.1" fill="#ee2222"/>
<circle cx="197.1" cy="130.0" r="2.1" fill="#ee2222"/>
<circle cx="200.0" cy="139.6" r="2.1" fill="#ee2222"/>
<circle cx="192.7" cy="119.6" r="2.1" fill="#ee2222"/>
<circle cx="195.0" cy="126.6" r="2.1" fill="#ee2222"/>
<circle cx="198.1" cy="130.0" r="2.1" fill="#ee2222"/>
<circle cx="196.4" cy="139.0" r="2.1" fill="#ee2222"/>
<circle cx="195.3" cy="132.4" r="2.1" fill="#ee2222"/>
<circle cx="193.8" cy="134.8" r="2.1" fill="#ee2222"/>
<circle cx="198.2" cy="133.1" r="2.1" fill="#ee2222"/>
<circle cx="196.2" cy="117.8" r="2.1" fill="#ee2222"/>
<circle cx="195.1" cy="131.7" r="2.1" fill="#ee2222"/>
<circle cx="198.4" cy="135.4" r="2.1" fill="#ee2222"/>
<circle cx="194.9" cy="130.4" r="2.1" fill="#ee2222"/>
<path d="M32.0 154.5 L33.2 153.0 L34.7 151.0 L36.6 148.6 L38.6 146.0 L40.8 143.2 L42.9 140.4 L44.9 137.6 L46.7 135.0 L48.3 132.5 L49.9 130.0 L51.4 127.4 L52.9 124.9 L54.3 122.3 L55.7 119.9 L57.1 117.5 L58.4 115.2 L59.6 113.1 L60.7 111.1 L61.7 109.3 L62.6 107.5 L63.7 105.7 L64.8 103.8 L66.0 101.7 L67.5 99.5 L69.2 97.1 L71.0 94.4 L72.9 91.7 L74.9 88.9 L77.1 86.0 L79.3 83.1 L81.6 80.3 L84.0 77.5 L86.6 74.7 L89.4 71.8 L92.4 68.8 L95.4 65.8 L98.4 63.0 L101.3 60.3 L104.0 57.8 L106.4 55.6 L108.5 53.7 L110.4 52.1 L112.2 50.6 L113.8 49.3 L115.4 48.2 L116.9 47.1 L118.4 46.1 L120.0 45.0 L121.6 44.0 L123.2 43.0 L124.7 42.1 L126.3 41.3 L127.8 40.5 L129.3 39.8 L130.8 39.1 L132.4 38.5 L134.0 37.9 L135.5 37.3 L137.1 36.8 L138.7 36.3 L140.2 35.9 L141.8 35.6 L143.4 35.5 L145.0 35.5 L146.6 35.7 L148.2 35.9 L149.9 36.3 L151.6 36.7 L153.2 37.4 L154.8 38.2 L156.4 39.2 L158.0 40.4 L159.5 41.9 L161.0 43.6 L162.5 45.5 L164.0 47.5 L165.4 49.7 L166.9 52.0 L168.3 54.4 L169.8 56.7 L171.3 59.1 L172.8 61.5 L174.3 64.0 L175.8 66.6 L177.3 69.3 L178.7 72.1 L180.1 74.9 L181.5 77.8 L182.9 80.9 L184.2 84.1 L185.5 87.5 L186.8 90.9 L188.1 94.3 L189.3 97.7 L190.3 100.9 L191.3 104.0 L192.1 106.9 L192.9 109.7 L193.5 112.5 L194.1 115.1 L194.6 117.7 L195.1 120.2 L195.5 122.6 L196.0 125.0 L196.4 127.4 L196.9 129.8 L197.2 132.2 L197.6 134.6 L197.9 136.7 L198.2 138.6 L198.4 140.3 L198.6 141.5" fill="none" stroke="#000" stroke-width="2.6" stroke-linecap="round"/>
<text x="127.3" y="31.5" font-size="9.35" fill="#111" stroke="#111" stroke-width="0.22">S2 (1)</text>
<text x="149.5" y="78.5" font-size="9.35" fill="#111" stroke="#111" stroke-width="0.22">DP (3)</text>
<text x="147.5" y="112.8" font-size="9.35" fill="#111" stroke="#111" stroke-width="0.22">AEC2a (0)</text>
<text x="153.0" y="137.9" font-size="9.35" fill="#111" stroke="#111" stroke-width="0.22">AEC2b (2)</text>
<text x="45.0" y="145.0" font-size="9.35" fill="#111" stroke="#111" stroke-width="0.22">S1 (5)</text>
<path d="M23.6 156.6 V114.5 M23.6 156.6 H66" fill="none" stroke="#000" stroke-width="1.1"/>
<path d="M21.3 115.5 L23.6 111.5 L25.9 115.5 Z M65 154.3 L69 156.6 L65 158.9 Z" fill="#000"/>
<text x="29.6" y="165.3" font-size="9.35" fill="#111" stroke="#111" stroke-width="0.22">Comp-1</text>
<text x="0" y="0" font-size="9.35" fill="#111" stroke="#111" stroke-width="0.22" text-anchor="middle" transform="translate(18.6 136) rotate(-90)">Comp-2</text>
<text x="271.5" y="31.5" font-size="13" fill="#111" stroke="#111" stroke-width="0.22">B</text>
<text x="301.5" y="34.0" font-size="10.67" fill="#111" stroke="#111" stroke-width="0.22">Modules of 1563 differentially expressed genes along secretory-trajectory</text>
<path d="M398.2 55.7 V39.2 H523.9 V57.4" fill="none" stroke="#333" stroke-width="1"/>
<path d="M296.7 58.3 V55.9 H455.3 V58.3" fill="none" stroke="#444" stroke-width="1"/>
<path d="M342 55.6 H386" fill="none" stroke="#888" stroke-width="1.6"/>
<path d="M465.3 58.3 V57.2 H583" fill="none" stroke="#333" stroke-width="1.3"/>
<rect x="292.9" y="71.9" width="3.9" height="75.6" fill="url(#b0)"/>
<rect x="296.0" y="71.9" width="3.3" height="75.6" fill="url(#b1)"/>
<rect x="298.5" y="71.9" width="4.5" height="75.6" fill="url(#b2)"/>
<rect x="302.3" y="71.9" width="4.5" height="75.6" fill="url(#b3)"/>
<rect x="306.0" y="71.9" width="3.7" height="75.6" fill="url(#b4)"/>
<rect x="308.9" y="71.9" width="4.1" height="75.6" fill="url(#b5)"/>
<rect x="312.2" y="71.9" width="3.3" height="75.6" fill="url(#b6)"/>
<rect x="314.7" y="71.9" width="3.4" height="75.6" fill="url(#b7)"/>
<rect x="317.3" y="71.9" width="3.5" height="75.6" fill="url(#b8)"/>
<rect x="319.9" y="71.9" width="4.1" height="75.6" fill="url(#b9)"/>
<rect x="323.2" y="71.9" width="3.3" height="75.6" fill="url(#b10)"/>
<rect x="325.8" y="71.9" width="4.6" height="75.6" fill="url(#b11)"/>
<rect x="329.5" y="71.9" width="3.1" height="75.6" fill="url(#b12)"/>
<rect x="331.8" y="71.9" width="3.3" height="75.6" fill="url(#b13)"/>
<rect x="334.4" y="71.9" width="3.1" height="75.6" fill="url(#b14)"/>
<rect x="336.7" y="71.9" width="4.2" height="75.6" fill="url(#b15)"/>
<rect x="340.1" y="71.9" width="3.6" height="75.6" fill="url(#b16)"/>
<rect x="342.9" y="71.9" width="3.8" height="75.6" fill="url(#b17)"/>
<rect x="345.9" y="71.9" width="3.5" height="75.6" fill="url(#b18)"/>
<rect x="348.6" y="71.9" width="4.0" height="75.6" fill="url(#b19)"/>
<rect x="351.8" y="71.9" width="3.6" height="75.6" fill="url(#b20)"/>
<rect x="354.7" y="71.9" width="3.3" height="75.6" fill="url(#b21)"/>
<rect x="357.2" y="71.9" width="3.7" height="75.6" fill="url(#b22)"/>
<rect x="360.1" y="71.9" width="3.5" height="75.6" fill="url(#b23)"/>
<rect x="362.8" y="71.9" width="3.2" height="75.6" fill="url(#b24)"/>
<rect x="365.1" y="71.9" width="4.3" height="75.6" fill="url(#b25)"/>
<rect x="368.7" y="71.9" width="4.1" height="75.6" fill="url(#b26)"/>
<rect x="372.0" y="71.9" width="4.1" height="75.6" fill="url(#b27)"/>
<rect x="375.2" y="71.9" width="4.4" height="75.6" fill="url(#b28)"/>
<rect x="378.8" y="71.9" width="3.6" height="75.6" fill="url(#b29)"/>
<rect x="381.7" y="71.9" width="3.6" height="75.6" fill="url(#b30)"/>
<rect x="384.5" y="71.9" width="3.7" height="75.6" fill="url(#b31)"/>
<rect x="387.3" y="71.9" width="3.6" height="75.6" fill="url(#b32)"/>
<rect x="390.2" y="71.9" width="4.1" height="75.6" fill="url(#b33)"/>
<rect x="393.5" y="71.9" width="3.0" height="75.6" fill="url(#b34)"/>
<rect x="395.7" y="71.9" width="3.7" height="75.6" fill="url(#b35)"/>
<rect x="398.6" y="71.9" width="3.9" height="75.6" fill="url(#b36)"/>
<rect x="401.7" y="71.9" width="3.6" height="75.6" fill="url(#b37)"/>
<rect x="404.4" y="71.9" width="3.0" height="75.6" fill="url(#b38)"/>
<rect x="406.7" y="71.9" width="4.1" height="75.6" fill="url(#b39)"/>
<rect x="410.0" y="71.9" width="3.0" height="75.6" fill="url(#b40)"/>
<rect x="412.2" y="71.9" width="3.9" height="75.6" fill="url(#b41)"/>
<rect x="415.3" y="71.9" width="3.2" height="75.6" fill="url(#b42)"/>
<rect x="417.7" y="71.9" width="3.1" height="75.6" fill="url(#b43)"/>
<rect x="420.0" y="71.9" width="3.3" height="75.6" fill="url(#b44)"/>
<rect x="422.5" y="71.9" width="3.1" height="75.6" fill="url(#b45)"/>
<rect x="424.8" y="71.9" width="3.2" height="75.6" fill="url(#b46)"/>
<rect x="427.2" y="71.9" width="4.1" height="75.6" fill="url(#b47)"/>
<rect x="430.5" y="71.9" width="4.2" height="75.6" fill="url(#b48)"/>
<rect x="433.9" y="71.9" width="3.6" height="75.6" fill="url(#b49)"/>
<rect x="436.7" y="71.9" width="4.0" height="75.6" fill="url(#b50)"/>
<rect x="439.9" y="71.9" width="3.8" height="75.6" fill="url(#b51)"/>
<rect x="442.9" y="71.9" width="3.8" height="75.6" fill="url(#b52)"/>
<rect x="445.9" y="71.9" width="4.4" height="75.6" fill="url(#b53)"/>
<rect x="449.5" y="71.9" width="3.5" height="75.6" fill="url(#b54)"/>
<rect x="452.2" y="71.9" width="4.4" height="75.6" fill="url(#b55)"/>
<rect x="455.8" y="71.9" width="4.1" height="75.6" fill="url(#b56)"/>
<rect x="459.1" y="71.9" width="4.1" height="75.6" fill="url(#b57)"/>
<rect x="462.4" y="71.9" width="3.0" height="75.6" fill="url(#b58)"/>
<rect x="464.6" y="71.9" width="3.1" height="75.6" fill="url(#b59)"/>
<rect x="466.9" y="71.9" width="3.1" height="75.6" fill="url(#b60)"/>
<rect x="469.2" y="71.9" width="3.6" height="75.6" fill="url(#b61)"/>
<rect x="471.9" y="71.9" width="4.5" height="75.6" fill="url(#b62)"/>
<rect x="475.6" y="71.9" width="4.4" height="75.6" fill="url(#b63)"/>
<rect x="479.2" y="71.9" width="4.3" height="75.6" fill="url(#b64)"/>
<rect x="482.8" y="71.9" width="3.2" height="75.6" fill="url(#b65)"/>
<rect x="485.2" y="71.9" width="4.1" height="75.6" fill="url(#b66)"/>
<rect x="488.5" y="71.9" width="4.2" height="75.6" fill="url(#b67)"/>
<rect x="491.9" y="71.9" width="4.3" height="75.6" fill="url(#b68)"/>
<rect x="495.4" y="71.9" width="4.3" height="75.6" fill="url(#b69)"/>
<rect x="498.9" y="71.9" width="3.2" height="75.6" fill="url(#b70)"/>
<rect x="501.3" y="71.9" width="3.3" height="75.6" fill="url(#b71)"/>
<rect x="503.8" y="71.9" width="4.3" height="75.6" fill="url(#b72)"/>
<rect x="507.3" y="71.9" width="4.2" height="75.6" fill="url(#b73)"/>
<rect x="510.7" y="71.9" width="4.4" height="75.6" fill="url(#b74)"/>
<rect x="514.3" y="71.9" width="3.7" height="75.6" fill="url(#b75)"/>
<rect x="517.2" y="71.9" width="4.4" height="75.6" fill="url(#b76)"/>
<rect x="520.8" y="71.9" width="3.2" height="75.6" fill="url(#b77)"/>
<rect x="523.2" y="71.9" width="4.5" height="75.6" fill="url(#b78)"/>
<rect x="527.0" y="71.9" width="4.4" height="75.6" fill="url(#b79)"/>
<rect x="530.6" y="71.9" width="3.5" height="75.6" fill="url(#b80)"/>
<rect x="533.3" y="71.9" width="3.1" height="75.6" fill="url(#b81)"/>
<rect x="535.6" y="71.9" width="3.9" height="75.6" fill="url(#b82)"/>
<rect x="538.7" y="71.9" width="4.1" height="75.6" fill="url(#b83)"/>
<rect x="542.0" y="71.9" width="3.6" height="75.6" fill="url(#b84)"/>
<rect x="544.8" y="71.9" width="3.1" height="75.6" fill="url(#b85)"/>
<rect x="547.1" y="71.9" width="3.4" height="75.6" fill="url(#b86)"/>
<rect x="549.7" y="71.9" width="4.3" height="75.6" fill="url(#b87)"/>
<rect x="553.2" y="71.9" width="3.1" height="75.6" fill="url(#b88)"/>
<rect x="555.6" y="71.9" width="4.5" height="75.6" fill="url(#b89)"/>
<rect x="559.3" y="71.9" width="3.4" height="75.6" fill="url(#b90)"/>
<rect x="561.9" y="71.9" width="3.3" height="75.6" fill="url(#b91)"/>
<rect x="564.4" y="71.9" width="3.2" height="75.6" fill="url(#b92)"/>
<rect x="566.8" y="71.9" width="4.6" height="75.6" fill="url(#b93)"/>
<rect x="570.6" y="71.9" width="4.4" height="75.6" fill="url(#b94)"/>
<rect x="574.2" y="71.9" width="3.5" height="75.6" fill="url(#b95)"/>
<rect x="576.9" y="71.9" width="3.2" height="75.6" fill="url(#b96)"/>
<rect x="579.3" y="71.9" width="4.0" height="75.6" fill="url(#b97)"/>
<rect x="582.5" y="71.9" width="4.4" height="75.6" fill="url(#b98)"/>
<rect x="586.1" y="71.9" width="3.0" height="75.6" fill="url(#b99)"/>
<rect x="588.3" y="71.9" width="4.0" height="75.6" fill="url(#b100)"/>
<rect x="591.6" y="71.9" width="4.4" height="75.6" fill="url(#b101)"/>
<rect x="595.1" y="71.9" width="3.7" height="75.6" fill="url(#b102)"/>
<rect x="598.1" y="71.9" width="3.9" height="75.6" fill="url(#b103)"/>
<rect x="601.2" y="71.9" width="4.3" height="75.6" fill="url(#b104)"/>
<rect x="604.7" y="71.9" width="3.4" height="75.6" fill="url(#b105)"/>
<rect x="607.2" y="71.9" width="3.4" height="75.6" fill="url(#b106)"/>
<rect x="609.9" y="71.9" width="4.1" height="75.6" fill="url(#b107)"/>
<rect x="613.1" y="71.9" width="3.9" height="75.6" fill="url(#b108)"/>
<rect x="616.2" y="71.9" width="3.9" height="75.6" fill="url(#b109)"/>
<rect x="619.3" y="71.9" width="3.5" height="75.6" fill="url(#b110)"/>
<rect x="622.0" y="71.9" width="4.5" height="75.6" fill="url(#b111)"/>
<rect x="625.7" y="71.9" width="3.5" height="75.6" fill="url(#b112)"/>
<rect x="628.4" y="71.9" width="4.1" height="75.6" fill="url(#b113)"/>
<rect x="631.7" y="71.9" width="4.4" height="75.6" fill="url(#b114)"/>
<rect x="635.3" y="71.9" width="3.6" height="75.6" fill="url(#b115)"/>
<rect x="638.1" y="71.9" width="3.1" height="75.6" fill="url(#b116)"/>
<rect x="640.4" y="71.9" width="3.4" height="75.6" fill="url(#b117)"/>
<rect x="643.0" y="71.9" width="3.1" height="75.6" fill="url(#b118)"/>
<rect x="645.3" y="71.9" width="3.2" height="75.6" fill="url(#b119)"/>
<rect x="647.7" y="71.9" width="3.2" height="75.6" fill="url(#b120)"/>
<rect x="650.1" y="71.9" width="3.5" height="75.6" fill="url(#b121)"/>
<rect x="652.9" y="71.9" width="3.6" height="75.6" fill="url(#b122)"/>
<rect x="655.6" y="71.9" width="3.7" height="75.6" fill="url(#b123)"/>
<rect x="658.6" y="71.9" width="4.1" height="75.6" fill="url(#b124)"/>
<rect x="661.8" y="71.9" width="1.4" height="75.6" fill="url(#b125)"/>
<defs><linearGradient id="b0" x2="0" y2="1"><stop offset="0" stop-color="#ad1c1e"/><stop offset="0.1" stop-color="#af1d1f"/><stop offset="0.2" stop-color="#b93d3f"/><stop offset="0.3" stop-color="#c3a0a0"/><stop offset="0.4" stop-color="#c5c1c1"/><stop offset="0.5" stop-color="#c5c4c4"/><stop offset="0.6" stop-color="#c4b4b4"/><stop offset="0.7" stop-color="#c06869"/><stop offset="0.8" stop-color="#b62b2c"/><stop offset="0.9" stop-color="#b52324"/><stop offset="1" stop-color="#b52224"/></linearGradient><linearGradient id="b1" x2="0" y2="1"><stop offset="0" stop-color="#b21d1f"/><stop offset="0.1" stop-color="#b72e30"/><stop offset="0.2" stop-color="#c58a8a"/><stop offset="0.3" stop-color="#c9c2c2"/><stop offset="0.4" stop-color="#c9c9c9"/><stop offset="0.5" stop-color="#cac9c9"/><stop offset="0.6" stop-color="#cac9c9"/><stop offset="0.7" stop-color="#c9c7c7"/><stop offset="0.8" stop-color="#c9bebe"/><stop offset="0.9" stop-color="#c8a9a9"/><stop offset="1" stop-color="#c79f9f"/></linearGradient><linearGradient id="b2" x2="0" y2="1"><stop offset="0" stop-color="#b31e20"/><stop offset="0.1" stop-color="#b6292b"/><stop offset="0.2" stop-color="#c47c7c"/><stop offset="0.3" stop-color="#cabfbf"/><stop offset="0.4" stop-color="#cac9c9"/><stop offset="0.5" stop-color="#cacaca"/><stop offset="0.6" stop-color="#cacaca"/><stop offset="0.7" stop-color="#cac8c8"/><stop offset="0.8" stop-color="#cabebe"/><stop offset="0.9" stop-color="#c8aaaa"/><stop offset="1" stop-color="#c8a1a1"/></linearGradient><linearGradient id="b3" x2="0" y2="1"><stop offset="0" stop-color="#9b1618"/><stop offset="0.1" stop-color="#9b1618"/><stop offset="0.2" stop-color="#b6282a"/><stop offset="0.3" stop-color="#c59393"/><stop offset="0.4" stop-color="#cbc2c2"/><stop offset="0.5" stop-color="#cccbcb"/><stop offset="0.6" stop-color="#cccccc"/><stop offset="0.7" stop-color="#cccccc"/><stop offset="0.8" stop-color="#cccccc"/><stop offset="0.9" stop-color="#cccccc"/><stop offset="1" stop-color="#cccccc"/></linearGradient><linearGradient id="b4" x2="0" y2="1"><stop offset="0" stop-color="#a0181a"/><stop offset="0.1" stop-color="#a71a1c"/><stop offset="0.2" stop-color="#b93d3f"/><stop offset="0.3" stop-color="#c79c9c"/><stop offset="0.4" stop-color="#c9c1c1"/><stop offset="0.5" stop-color="#c9c8c8"/><stop offset="0.6" stop-color="#c9c9c9"/><stop offset="0.7" stop-color="#c9c9c9"/><stop offset="0.8" stop-color="#c9c9c9"/><stop offset="0.9" stop-color="#c9c9c9"/><stop offset="1" stop-color="#c9c9c9"/></linearGradient><linearGradient id="b5" x2="0" y2="1"><stop offset="0" stop-color="#9e1719"/><stop offset="0.1" stop-color="#a61a1c"/><stop offset="0.2" stop-color="#bb4849"/><stop offset="0.3" stop-color="#c4a1a1"/><stop offset="0.4" stop-color="#c6c0c0"/><stop offset="0.5" stop-color="#c6c5c5"/><stop offset="0.6" stop-color="#c6c6c6"/><stop offset="0.7" stop-color="#c6c6c6"/><stop offset="0.8" stop-color="#c6c6c6"/><stop offset="0.9" stop-color="#c6c6c6"/><stop offset="1" stop-color="#c6c6c6"/></linearGradient><linearGradient id="b6" x2="0" y2="1"><stop offset="0" stop-color="#9b1618"/><stop offset="0.1" stop-color="#9c1618"/><stop offset="0.2" stop-color="#ad1c1e"/><stop offset="0.3" stop-color="#c26f70"/><stop offset="0.4" stop-color="#c6b4b4"/><stop offset="0.5" stop-color="#c7c5c5"/><stop offset="0.6" stop-color="#c7c7c7"/><stop offset="0.7" stop-color="#c7c7c7"/><stop offset="0.8" stop-color="#c7c7c7"/><stop offset="0.9" stop-color="#c7c7c7"/><stop offset="1" stop-color="#c7c7c7"/></linearGradient><linearGradient id="b7" x2="0" y2="1"><stop offset="0" stop-color="#a0181a"/><stop offset="0.1" stop-color="#a3181a"/><stop offset="0.2" stop-color="#b42022"/><stop offset="0.3" stop-color="#c47d7d"/><stop offset="0.4" stop-color="#c6b7b7"/><stop offset="0.5" stop-color="#c7c4c4"/><stop offset="0.6" stop-color="#c7c6c6"/><stop offset="0.7" stop-color="#c7c7c7"/><stop offset="0.8" stop-color="#c7c7c7"/><stop offset="0.9" stop-color="#c7c7c7"/><stop offset="1" stop-color="#c7c7c7"/></linearGradient><linearGradient id="b8" x2="0" y2="1"><stop offset="0" stop-color="#9b1618"/><stop offset="0.1" stop-color="#9c1618"/><stop offset="0.2" stop-color="#b42022"/><stop offset="0.3" stop-color="#c48686"/><stop offset="0.4" stop-color="#c8bcbc"/><stop offset="0.5" stop-color="#c8c7c7"/><stop offset="0.6" stop-color="#c9c8c8"/><stop offset="0.7" stop-color="#c9c9c9"/><stop offset="0.8" stop-color="#c9c9c9"/><stop offset="0.9" stop-color="#c9c9c9"/><stop offset="1" stop-color="#c9c9c9"/></linearGradient><linearGradient id="b9" x2="0" y2="1"><stop offset="0" stop-color="#a2181a"/><stop offset="0.1" stop-color="#a4191b"/><stop offset="0.2" stop-color="#b31e20"/><stop offset="0.3" stop-color="#c26e6f"/><stop offset="0.4" stop-color="#c1adad"/><stop offset="0.5" stop-color="#c2bfbf"/><stop offset="0.6" stop-color="#c2c2c2"/><stop offset="0.7" stop-color="#c2c2c2"/><stop offset="0.8" stop-color="#c2c2c2"/><stop offset="0.9" stop-color="#c2c2c2"/><stop offset="1" stop-color="#c2c2c2"/></linearGradient><linearGradient id="b10" x2="0" y2="1"><stop offset="0" stop-color="#9e1719"/><stop offset="0.1" stop-color="#a1181a"/><stop offset="0.2" stop-color="#b21d1f"/><stop offset="0.3" stop-color="#c37475"/><stop offset="0.4" stop-color="#c1b0b0"/><stop offset="0.5" stop-color="#c2c0c0"/><stop offset="0.6" stop-color="#c2c2c2"/><stop offset="0.7" stop-color="#c2c2c2"/><stop offset="0.8" stop-color="#c2c2c2"/><stop offset="0.9" stop-color="#c2c2c2"/><stop offset="1" stop-color="#c2c2c2"/></linearGradient><linearGradient id="b11" x2="0" y2="1"><stop offset="0" stop-color="#9e1719"/><stop offset="0.1" stop-color="#a1181a"/><stop offset="0.2" stop-color="#b21d1f"/><stop offset="0.3" stop-color="#c27474"/><stop offset="0.4" stop-color="#c5b3b3"/><stop offset="0.5" stop-color="#c6c3c3"/><stop offset="0.6" stop-color="#c6c6c6"/><stop offset="0.7" stop-color="#c6c6c6"/><stop offset="0.8" stop-color="#c6c6c6"/><stop offset="0.9" stop-color="#c6c6c6"/><stop offset="1" stop-color="#c6c6c6"/></linearGradient><linearGradient id="b12" x2="0" y2="1"><stop offset="0" stop-color="#9b1618"/><stop offset="0.1" stop-color="#9c1618"/><stop offset="0.2" stop-color="#a6191b"/><stop offset="0.3" stop-color="#bc4b4c"/><stop offset="0.4" stop-color="#c6a5a5"/><stop offset="0.5" stop-color="#c7c2c2"/><stop offset="0.6" stop-color="#c8c7c7"/><stop offset="0.7" stop-color="#c8c7c7"/><stop offset="0.8" stop-color="#c8c8c8"/><stop offset="0.9" stop-color="#c8c8c8"/><stop offset="1" stop-color="#c8c8c8"/></linearGradient><linearGradient id="b13" x2="0" y2="1"><stop offset="0" stop-color="#9e1719"/><stop offset="0.1" stop-color="#a0181a"/><stop offset="0.2" stop-color="#a91b1d"/><stop offset="0.3" stop-color="#bd5152"/><stop offset="0.4" stop-color="#c3a4a4"/><stop offset="0.5" stop-color="#c4bfbf"/><stop offset="0.6" stop-color="#c4c4c4"/><stop offset="0.7" stop-color="#c4c4c4"/><stop offset="0.8" stop-color="#c4c4c4"/><stop offset="0.9" stop-color="#c4c4c4"/><stop offset="1" stop-color="#c4c4c4"/></linearGradient><linearGradient id="b14" x2="0" y2="1"><stop offset="0" stop-color="#9f1719"/><stop offset="0.1" stop-color="#a2181a"/><stop offset="0.2" stop-color="#b31e20"/><stop offset="0.3" stop-color="#c37676"/><stop offset="0.4" stop-color="#c5b4b4"/><stop offset="0.5" stop-color="#c6c3c3"/><stop offset="0.6" stop-color="#c6c5c5"/><stop offset="0.7" stop-color="#c6c6c6"/><stop offset="0.8" stop-color="#c6c6c6"/><stop offset="0.9" stop-color="#c6c6c6"/><stop offset="1" stop-color="#c6c6c6"/></linearGradient><linearGradient id="b15" x2="0" y2="1"><stop offset="0" stop-color="#a1181a"/><stop offset="0.1" stop-color="#a3181a"/><stop offset="0.2" stop-color="#aa1b1d"/><stop offset="0.3" stop-color="#b62c2e"/><stop offset="0.4" stop-color="#c06868"/><stop offset="0.5" stop-color="#bf9797"/><stop offset="0.6" stop-color="#c0b2b2"/><stop offset="0.7" stop-color="#c1bcbc"/><stop offset="0.8" stop-color="#c1c0c0"/><stop offset="0.9" stop-color="#c1c1c1"/><stop offset="1" stop-color="#c1c1c1"/></linearGradient><linearGradient id="b16" x2="0" y2="1"><stop offset="0" stop-color="#a71a1c"/><stop offset="0.1" stop-color="#aa1b1d"/><stop offset="0.2" stop-color="#b21d1f"/><stop offset="0.3" stop-color="#b93d3e"/><stop offset="0.4" stop-color="#c37a7a"/><stop offset="0.5" stop-color="#be9f9f"/><stop offset="0.6" stop-color="#bfb5b5"/><stop offset="0.7" stop-color="#c0bcbc"/><stop offset="0.8" stop-color="#c0bfbf"/><stop offset="0.9" stop-color="#c0c0c0"/><stop offset="1" stop-color="#c0c0c0"/></linearGradient><linearGradient id="b17" x2="0" y2="1"><stop offset="0" stop-color="#9b1618"/><stop offset="0.1" stop-color="#9d1719"/><stop offset="0.2" stop-color="#a6191b"/><stop offset="0.3" stop-color="#b72d2f"/><stop offset="0.4" stop-color="#c26f70"/><stop offset="0.5" stop-color="#be9b9b"/><stop offset="0.6" stop-color="#c0b4b4"/><stop offset="0.7" stop-color="#c0bdbd"/><stop offset="0.8" stop-color="#c0bfbf"/><stop offset="0.9" stop-color="#c0c0c0"/><stop offset="1" stop-color="#c0c0c0"/></linearGradient><linearGradient id="b18" x2="0" y2="1"><stop offset="0" stop-color="#9e1719"/><stop offset="0.1" stop-color="#a1181a"/><stop offset="0.2" stop-color="#ac1b1d"/><stop offset="0.3" stop-color="#b93b3c"/><stop offset="0.4" stop-color="#c47e7e"/><stop offset="0.5" stop-color="#c2a5a5"/><stop offset="0.6" stop-color="#c3b9b9"/><stop offset="0.7" stop-color="#c3c0c0"/><stop offset="0.8" stop-color="#c3c2c2"/><stop offset="0.9" stop-color="#c3c3c3"/><stop offset="1" stop-color="#c3c3c3"/></linearGradient><linearGradient id="b19" x2="0" y2="1"><stop offset="0" stop-color="#9b1618"/><stop offset="0.1" stop-color="#9e1719"/><stop offset="0.2" stop-color="#ab1b1d"/><stop offset="0.3" stop-color="#ba4344"/><stop offset="0.4" stop-color="#c58787"/><stop offset="0.5" stop-color="#c3abab"/><stop offset="0.6" stop-color="#c4bdbd"/><stop offset="0.7" stop-color="#c4c2c2"/><stop offset="0.8" stop-color="#c4c4c4"/><stop offset="0.9" stop-color="#c4c4c4"/><stop offset="1" stop-color="#c4c4c4"/></linearGradient><linearGradient id="b20" x2="0" y2="1"><stop offset="0" stop-color="#9e1719"/><stop offset="0.1" stop-color="#a1181a"/><stop offset="0.2" stop-color="#aa1b1d"/><stop offset="0.3" stop-color="#b83435"/><stop offset="0.4" stop-color="#c37575"/><stop offset="0.5" stop-color="#c4a4a4"/><stop offset="0.6" stop-color="#c6bbbb"/><stop offset="0.7" stop-color="#c6c3c3"/><stop offset="0.8" stop-color="#c6c5c5"/><stop offset="0.9" stop-color="#c6c6c6"/><stop offset="1" stop-color="#c6c6c6"/></linearGradient><linearGradient id="b21" x2="0" y2="1"><stop offset="0" stop-color="#9b1618"/><stop offset="0.1" stop-color="#9d1719"/><stop offset="0.2" stop-color="#a6191b"/><stop offset="0.3" stop-color="#b62c2d"/><stop offset="0.4" stop-color="#c16c6d"/><stop offset="0.5" stop-color="#c4a0a0"/><stop offset="0.6" stop-color="#c6b9b9"/><stop offset="0.7" stop-color="#c6c3c3"/><stop offset="0.8" stop-color="#c6c5c5"/><stop offset="0.9" stop-color="#c7c6c6"/><stop offset="1" stop-color="#c7c6c6"/></linearGradient><linearGradient id="b22" x2="0" y2="1"><stop offset="0" stop-color="#a3181a"/><stop offset="0.1" stop-color="#a5191b"/><stop offset="0.2" stop-color="#ac1b1d"/><stop offset="0.3" stop-color="#b73032"/><stop offset="0.4" stop-color="#c16b6c"/><stop offset="0.5" stop-color="#c7a1a1"/><stop offset="0.6" stop-color="#c8bbbb"/><stop offset="0.7" stop-color="#c9c5c5"/><stop offset="0.8" stop-color="#c9c8c8"/><stop offset="0.9" stop-color="#c9c9c9"/><stop offset="1" stop-color="#c9c9c9"/></linearGradient><linearGradient id="b23" x2="0" y2="1"><stop offset="0" stop-color="#9b1618"/><stop offset="0.1" stop-color="#9b1618"/><stop offset="0.2" stop-color="#9f1719"/><stop offset="0.3" stop-color="#b11d1f"/><stop offset="0.4" stop-color="#bd5354"/><stop offset="0.5" stop-color="#c59393"/><stop offset="0.6" stop-color="#c6b3b3"/><stop offset="0.7" stop-color="#c6c1c1"/><stop offset="0.8" stop-color="#c7c5c5"/><stop offset="0.9" stop-color="#c7c6c6"/><stop offset="1" stop-color="#c7c7c7"/></linearGradient><linearGradient id="b24" x2="0" y2="1"><stop offset="0" stop-color="#9b1618"/><stop offset="0.1" stop-color="#9c1618"/><stop offset="0.2" stop-color="#a2181a"/><stop offset="0.3" stop-color="#b41e20"/><stop offset="0.4" stop-color="#be5858"/><stop offset="0.5" stop-color="#c59595"/><stop offset="0.6" stop-color="#c7b5b5"/><stop offset="0.7" stop-color="#c7c2c2"/><stop offset="0.8" stop-color="#c7c6c6"/><stop offset="0.9" stop-color="#c7c7c7"/><stop offset="1" stop-color="#c8c7c7"/></linearGradient><linearGradient id="b25" x2="0" y2="1"><stop offset="0" stop-color="#9d1719"/><stop offset="0.1" stop-color="#9f1719"/><stop offset="0.2" stop-color="#a4191b"/><stop offset="0.3" stop-color="#b41e20"/><stop offset="0.4" stop-color="#bd5455"/><stop offset="0.5" stop-color="#c59292"/><stop offset="0.6" stop-color="#c8b5b5"/><stop offset="0.7" stop-color="#c9c3c3"/><stop offset="0.8" stop-color="#c9c7c7"/><stop offset="0.9" stop-color="#c9c9c9"/><stop offset="1" stop-color="#c9c9c9"/></linearGradient><linearGradient id="b26" x2="0" y2="1"><stop offset="0" stop-color="#9b1618"/><stop offset="0.1" stop-color="#9b1618"/><stop offset="0.2" stop-color="#9c1618"/><stop offset="0.3" stop-color="#aa1b1d"/><stop offset="0.4" stop-color="#ba4243"/><stop offset="0.5" stop-color="#c58787"/><stop offset="0.6" stop-color="#c5adad"/><stop offset="0.7" stop-color="#c6bebe"/><stop offset="0.8" stop-color="#c6c4c4"/><stop offset="0.9" stop-color="#c6c6c6"/><stop offset="1" stop-color="#c6c6c6"/></linearGradient><linearGradient id="b27" x2="0" y2="1"><stop offset="0" stop-color="#9b1618"/><stop offset="0.1" stop-color="#9d1719"/><stop offset="0.2" stop-color="#a3191b"/><stop offset="0.3" stop-color="#b41f21"/><stop offset="0.4" stop-color="#be5859"/><stop offset="0.5" stop-color="#c59595"/><stop offset="0.6" stop-color="#cab9b9"/><stop offset="0.7" stop-color="#cbc5c5"/><stop offset="0.8" stop-color="#cbc9c9"/><stop offset="0.9" stop-color="#cbcaca"/><stop offset="1" stop-color="#cbcbcb"/></linearGradient><linearGradient id="b28" x2="0" y2="1"><stop offset="0" stop-color="#9b1618"/><stop offset="0.1" stop-color="#9b1618"/><stop offset="0.2" stop-color="#9b1618"/><stop offset="0.3" stop-color="#aa1b1d"/><stop offset="0.4" stop-color="#ba4344"/><stop offset="0.5" stop-color="#c58888"/><stop offset="0.6" stop-color="#cab3b3"/><stop offset="0.7" stop-color="#cbc3c3"/><stop offset="0.8" stop-color="#cbc9c9"/><stop offset="0.9" stop-color="#cbcaca"/><stop offset="1" stop-color="#cbcbcb"/></linearGradient><linearGradient id="b29" x2="0" y2="1"><stop offset="0" stop-color="#ad1c1e"/><stop offset="0.1" stop-color="#af1c1e"/><stop offset="0.2" stop-color="#b21d1f"/><stop offset="0.3" stop-color="#b62c2e"/><stop offset="0.4" stop-color="#bd5657"/><stop offset="0.5" stop-color="#c58e8e"/><stop offset="0.6" stop-color="#c6b1b1"/><stop offset="0.7" stop-color="#c7c0c0"/><stop offset="0.8" stop-color="#c7c5c5"/><stop offset="0.9" stop-color="#c7c7c7"/><stop offset="1" stop-color="#c7c7c7"/></linearGradient><linearGradient id="b30" x2="0" y2="1"><stop offset="0" stop-color="#a81a1c"/><stop offset="0.1" stop-color="#aa1b1d"/><stop offset="0.2" stop-color="#af1c1e"/><stop offset="0.3" stop-color="#b72e2f"/><stop offset="0.4" stop-color="#bf6161"/><stop offset="0.5" stop-color="#c59898"/><stop offset="0.6" stop-color="#c1b0b0"/><stop offset="0.7" stop-color="#c1bcbc"/><stop offset="0.8" stop-color="#c2c0c0"/><stop offset="0.9" stop-color="#c2c1c1"/><stop offset="1" stop-color="#c2c2c2"/></linearGradient><linearGradient id="b31" x2="0" y2="1"><stop offset="0" stop-color="#aa1b1d"/><stop offset="0.1" stop-color="#ad1c1e"/><stop offset="0.2" stop-color="#b42022"/><stop offset="0.3" stop-color="#ba4344"/><stop offset="0.4" stop-color="#c47f7f"/><stop offset="0.5" stop-color="#c1a4a4"/><stop offset="0.6" stop-color="#c2b9b9"/><stop offset="0.7" stop-color="#c3c0c0"/><stop offset="0.8" stop-color="#c3c2c2"/><stop offset="0.9" stop-color="#c3c3c3"/><stop offset="1" stop-color="#c3c3c3"/></linearGradient><linearGradient id="b32" x2="0" y2="1"><stop offset="0" stop-color="#ad1c1e"/><stop offset="0.1" stop-color="#af1c1e"/><stop offset="0.2" stop-color="#b52224"/><stop offset="0.3" stop-color="#ba4042"/><stop offset="0.4" stop-color="#c37979"/><stop offset="0.5" stop-color="#c1a0a0"/><stop offset="0.6" stop-color="#c2b7b7"/><stop offset="0.7" stop-color="#c2bfbf"/><stop offset="0.8" stop-color="#c2c1c1"/><stop offset="0.9" stop-color="#c2c2c2"/><stop offset="1" stop-color="#c2c2c2"/></linearGradient><linearGradient id="b33" x2="0" y2="1"><stop offset="0" stop-color="#aa1b1d"/><stop offset="0.1" stop-color="#ac1b1d"/><stop offset="0.2" stop-color="#b31e20"/><stop offset="0.3" stop-color="#b9393a"/><stop offset="0.4" stop-color="#c27171"/><stop offset="0.5" stop-color="#c29e9e"/><stop offset="0.6" stop-color="#c3b7b7"/><stop offset="0.7" stop-color="#c4c0c0"/><stop offset="0.8" stop-color="#c4c3c3"/><stop offset="0.9" stop-color="#c4c3c3"/><stop offset="1" stop-color="#c4c4c4"/></linearGradient><linearGradient id="b34" x2="0" y2="1"><stop offset="0" stop-color="#a2181a"/><stop offset="0.1" stop-color="#a5191b"/><stop offset="0.2" stop-color="#ab1b1d"/><stop offset="0.3" stop-color="#b72e2f"/><stop offset="0.4" stop-color="#c06768"/><stop offset="0.5" stop-color="#c8a0a0"/><stop offset="0.6" stop-color="#c9bbbb"/><stop offset="0.7" stop-color="#cac6c6"/><stop offset="0.8" stop-color="#cac9c9"/><stop offset="0.9" stop-color="#cacaca"/><stop offset="1" stop-color="#cacaca"/></linearGradient><linearGradient id="b35" x2="0" y2="1"><stop offset="0" stop-color="#a81a1c"/><stop offset="0.1" stop-color="#aa1b1d"/><stop offset="0.2" stop-color="#b01d1f"/><stop offset="0.3" stop-color="#b83334"/><stop offset="0.4" stop-color="#c1696a"/><stop offset="0.5" stop-color="#cba2a2"/><stop offset="0.6" stop-color="#ccbebe"/><stop offset="0.7" stop-color="#cdc8c8"/><stop offset="0.8" stop-color="#cdcccc"/><stop offset="0.9" stop-color="#cdcdcd"/><stop offset="1" stop-color="#cdcdcd"/></linearGradient><linearGradient id="b36" x2="0" y2="1"><stop offset="0" stop-color="#ac1b1d"/><stop offset="0.1" stop-color="#ae1c1e"/><stop offset="0.2" stop-color="#b31e20"/><stop offset="0.3" stop-color="#b83436"/><stop offset="0.4" stop-color="#c06767"/><stop offset="0.5" stop-color="#d0a5a5"/><stop offset="0.6" stop-color="#d1c2c2"/><stop offset="0.7" stop-color="#d2cdcd"/><stop offset="0.8" stop-color="#d2d1d1"/><stop offset="0.9" stop-color="#d2d2d2"/><stop offset="1" stop-color="#d2d2d2"/></linearGradient><linearGradient id="b37" x2="0" y2="1"><stop offset="0" stop-color="#ab1b1d"/><stop offset="0.1" stop-color="#ab1b1d"/><stop offset="0.2" stop-color="#ac1c1e"/><stop offset="0.3" stop-color="#b01d1f"/><stop offset="0.4" stop-color="#b62829"/><stop offset="0.5" stop-color="#bc5051"/><stop offset="0.6" stop-color="#c58a8a"/><stop offset="0.7" stop-color="#d0b9b9"/><stop offset="0.8" stop-color="#d1caca"/><stop offset="0.9" stop-color="#d1cfcf"/><stop offset="1" stop-color="#d2d1d1"/></linearGradient><linearGradient id="b38" x2="0" y2="1"><stop offset="0" stop-color="#b31e20"/><stop offset="0.1" stop-color="#b31e20"/><stop offset="0.2" stop-color="#b41e20"/><stop offset="0.3" stop-color="#b52325"/><stop offset="0.4" stop-color="#b73032"/><stop offset="0.5" stop-color="#bd5354"/><stop offset="0.6" stop-color="#c58989"/><stop offset="0.7" stop-color="#ceb5b5"/><stop offset="0.8" stop-color="#cfc7c7"/><stop offset="0.9" stop-color="#cfcdcd"/><stop offset="1" stop-color="#cfcece"/></linearGradient><linearGradient id="b39" x2="0" y2="1"><stop offset="0" stop-color="#a5191b"/><stop offset="0.1" stop-color="#a6191b"/><stop offset="0.2" stop-color="#a71a1c"/><stop offset="0.3" stop-color="#aa1b1d"/><stop offset="0.4" stop-color="#b41e20"/><stop offset="0.5" stop-color="#bb4647"/><stop offset="0.6" stop-color="#c48383"/><stop offset="0.7" stop-color="#ccb2b2"/><stop offset="0.8" stop-color="#cdc5c5"/><stop offset="0.9" stop-color="#cecbcb"/><stop offset="1" stop-color="#cecdcd"/></linearGradient><linearGradient id="b40" x2="0" y2="1"><stop offset="0" stop-color="#ab1b1d"/><stop offset="0.1" stop-color="#ab1b1d"/><stop offset="0.2" stop-color="#ac1c1e"/><stop offset="0.3" stop-color="#af1c1e"/><stop offset="0.4" stop-color="#b52527"/><stop offset="0.5" stop-color="#bb494b"/><stop offset="0.6" stop-color="#c48484"/><stop offset="0.7" stop-color="#c9aeae"/><stop offset="0.8" stop-color="#cac1c1"/><stop offset="0.9" stop-color="#cac7c7"/><stop offset="1" stop-color="#cac9c9"/></linearGradient><linearGradient id="b41" x2="0" y2="1"><stop offset="0" stop-color="#a4191b"/><stop offset="0.1" stop-color="#a4191b"/><stop offset="0.2" stop-color="#a5191b"/><stop offset="0.3" stop-color="#a91a1c"/><stop offset="0.4" stop-color="#b31e20"/><stop offset="0.5" stop-color="#bb4748"/><stop offset="0.6" stop-color="#c48585"/><stop offset="0.7" stop-color="#cdb3b3"/><stop offset="0.8" stop-color="#cec5c5"/><stop offset="0.9" stop-color="#cecbcb"/><stop offset="1" stop-color="#cecdcd"/></linearGradient><linearGradient id="b42" x2="0" y2="1"><stop offset="0" stop-color="#ab1b1d"/><stop offset="0.1" stop-color="#ac1b1d"/><stop offset="0.2" stop-color="#ac1c1e"/><stop offset="0.3" stop-color="#af1c1e"/><stop offset="0.4" stop-color="#b52123"/><stop offset="0.5" stop-color="#ba4142"/><stop offset="0.6" stop-color="#c37a7a"/><stop offset="0.7" stop-color="#cbabab"/><stop offset="0.8" stop-color="#ccc1c1"/><stop offset="0.9" stop-color="#ccc9c9"/><stop offset="1" stop-color="#cdcccc"/></linearGradient><linearGradient id="b43" x2="0" y2="1"><stop offset="0" stop-color="#a6191b"/><stop offset="0.1" stop-color="#a61a1c"/><stop offset="0.2" stop-color="#a61a1c"/><stop offset="0.3" stop-color="#a81a1c"/><stop offset="0.4" stop-color="#ad1c1e"/><stop offset="0.5" stop-color="#b62a2c"/><stop offset="0.6" stop-color="#bf5d5d"/><stop offset="0.7" stop-color="#c59696"/><stop offset="0.8" stop-color="#ccbbbb"/><stop offset="0.9" stop-color="#cdc7c7"/><stop offset="1" stop-color="#cdcbcb"/></linearGradient><linearGradient id="b44" x2="0" y2="1"><stop offset="0" stop-color="#a71a1c"/><stop offset="0.1" stop-color="#a71a1c"/><stop offset="0.2" stop-color="#a81a1c"/><stop offset="0.3" stop-color="#a91a1c"/><stop offset="0.4" stop-color="#ae1c1e"/><stop offset="0.5" stop-color="#b6292b"/><stop offset="0.6" stop-color="#be595a"/><stop offset="0.7" stop-color="#c59393"/><stop offset="0.8" stop-color="#c6b3b3"/><stop offset="0.9" stop-color="#c7c1c1"/><stop offset="1" stop-color="#c7c5c5"/></linearGradient><linearGradient id="b45" x2="0" y2="1"><stop offset="0" stop-color="#a81a1c"/><stop offset="0.1" stop-color="#a81a1c"/><stop offset="0.2" stop-color="#a91a1c"/><stop offset="0.3" stop-color="#aa1b1d"/><stop offset="0.4" stop-color="#ae1c1e"/><stop offset="0.5" stop-color="#b52628"/><stop offset="0.6" stop-color="#bc5051"/><stop offset="0.7" stop-color="#c58b8b"/><stop offset="0.8" stop-color="#c1abab"/><stop offset="0.9" stop-color="#c2bbbb"/><stop offset="1" stop-color="#c2c0c0"/></linearGradient><linearGradient id="b46" x2="0" y2="1"><stop offset="0" stop-color="#b41e20"/><stop offset="0.1" stop-color="#b41e20"/><stop offset="0.2" stop-color="#b41f21"/><stop offset="0.3" stop-color="#b42022"/><stop offset="0.4" stop-color="#b52527"/><stop offset="0.5" stop-color="#b83435"/><stop offset="0.6" stop-color="#be5959"/><stop offset="0.7" stop-color="#c58d8d"/><stop offset="0.8" stop-color="#c3acac"/><stop offset="0.9" stop-color="#c3bcbc"/><stop offset="1" stop-color="#c4c2c2"/></linearGradient><linearGradient id="b47" x2="0" y2="1"><stop offset="0" stop-color="#a91a1c"/><stop offset="0.1" stop-color="#a91a1c"/><stop offset="0.2" stop-color="#a91b1d"/><stop offset="0.3" stop-color="#aa1b1d"/><stop offset="0.4" stop-color="#ae1c1e"/><stop offset="0.5" stop-color="#b52426"/><stop offset="0.6" stop-color="#bc4d4e"/><stop offset="0.7" stop-color="#c58888"/><stop offset="0.8" stop-color="#c3abab"/><stop offset="0.9" stop-color="#c4bcbc"/><stop offset="1" stop-color="#c4c2c2"/></linearGradient><linearGradient id="b48" x2="0" y2="1"><stop offset="0" stop-color="#a71a1c"/><stop offset="0.1" stop-color="#a71a1c"/><stop offset="0.2" stop-color="#a71a1c"/><stop offset="0.3" stop-color="#a81a1c"/><stop offset="0.4" stop-color="#ab1b1d"/><stop offset="0.5" stop-color="#b41f21"/><stop offset="0.6" stop-color="#bb4647"/><stop offset="0.7" stop-color="#c48282"/><stop offset="0.8" stop-color="#c4a9a9"/><stop offset="0.9" stop-color="#c5bcbc"/><stop offset="1" stop-color="#c6c3c3"/></linearGradient><linearGradient id="b49" x2="0" y2="1"><stop offset="0" stop-color="#ad1c1e"/><stop offset="0.1" stop-color="#ad1c1e"/><stop offset="0.2" stop-color="#ad1c1e"/><stop offset="0.3" stop-color="#ae1c1e"/><stop offset="0.4" stop-color="#b11d1f"/><stop offset="0.5" stop-color="#b52729"/><stop offset="0.6" stop-color="#bb4a4b"/><stop offset="0.7" stop-color="#c48383"/><stop offset="0.8" stop-color="#c4a9a9"/><stop offset="0.9" stop-color="#c5bcbc"/><stop offset="1" stop-color="#c6c3c3"/></linearGradient><linearGradient id="b50" x2="0" y2="1"><stop offset="0" stop-color="#a5191b"/><stop offset="0.1" stop-color="#a5191b"/><stop offset="0.2" stop-color="#a5191b"/><stop offset="0.3" stop-color="#a61a1c"/><stop offset="0.4" stop-color="#aa1b1d"/><stop offset="0.5" stop-color="#b42022"/><stop offset="0.6" stop-color="#bc4b4c"/><stop offset="0.7" stop-color="#c58888"/><stop offset="0.8" stop-color="#c5adad"/><stop offset="0.9" stop-color="#c6bebe"/><stop offset="1" stop-color="#c6c4c4"/></linearGradient><linearGradient id="b51" x2="0" y2="1"><stop offset="0" stop-color="#a71a1c"/><stop offset="0.1" stop-color="#a71a1c"/><stop offset="0.2" stop-color="#a71a1c"/><stop offset="0.3" stop-color="#a81a1c"/><stop offset="0.4" stop-color="#ab1b1d"/><stop offset="0.5" stop-color="#b41e20"/><stop offset="0.6" stop-color="#ba4344"/><stop offset="0.7" stop-color="#c48080"/><stop offset="0.8" stop-color="#c7abab"/><stop offset="0.9" stop-color="#c9bfbf"/><stop offset="1" stop-color="#c9c6c6"/></linearGradient><linearGradient id="b52" x2="0" y2="1"><stop offset="0" stop-color="#a71a1c"/><stop offset="0.1" stop-color="#a71a1c"/><stop offset="0.2" stop-color="#a71a1c"/><stop offset="0.3" stop-color="#a81a1c"/><stop offset="0.4" stop-color="#aa1b1d"/><stop offset="0.5" stop-color="#b21d1f"/><stop offset="0.6" stop-color="#b93a3c"/><stop offset="0.7" stop-color="#c37575"/><stop offset="0.8" stop-color="#c9a7a7"/><stop offset="0.9" stop-color="#cabfbf"/><stop offset="1" stop-color="#cbc7c7"/></linearGradient><linearGradient id="b53" x2="0" y2="1"><stop offset="0" stop-color="#a81a1c"/><stop offset="0.1" stop-color="#a81a1c"/><stop offset="0.2" stop-color="#a81a1c"/><stop offset="0.3" stop-color="#a81a1c"/><stop offset="0.4" stop-color="#a81a1c"/><stop offset="0.5" stop-color="#ab1b1d"/><stop offset="0.6" stop-color="#b52224"/><stop offset="0.7" stop-color="#bf5d5d"/><stop offset="0.8" stop-color="#caa7a7"/><stop offset="0.9" stop-color="#ccc4c4"/><stop offset="1" stop-color="#cccbcb"/></linearGradient><linearGradient id="b54" x2="0" y2="1"><stop offset="0" stop-color="#a91b1d"/><stop offset="0.1" stop-color="#a91b1d"/><stop offset="0.2" stop-color="#a91b1d"/><stop offset="0.3" stop-color="#aa1b1d"/><stop offset="0.4" stop-color="#aa1b1d"/><stop offset="0.5" stop-color="#ac1b1d"/><stop offset="0.6" stop-color="#b52224"/><stop offset="0.7" stop-color="#be5859"/><stop offset="0.8" stop-color="#c8a1a1"/><stop offset="0.9" stop-color="#cac0c0"/><stop offset="1" stop-color="#cac8c8"/></linearGradient><linearGradient id="b55" x2="0" y2="1"><stop offset="0" stop-color="#a61a1c"/><stop offset="0.1" stop-color="#a61a1c"/><stop offset="0.2" stop-color="#a61a1c"/><stop offset="0.3" stop-color="#a61a1c"/><stop offset="0.4" stop-color="#a71a1c"/><stop offset="0.5" stop-color="#a81a1c"/><stop offset="0.6" stop-color="#af1c1e"/><stop offset="0.7" stop-color="#ba3f40"/><stop offset="0.8" stop-color="#c58d8d"/><stop offset="0.9" stop-color="#c9baba"/><stop offset="1" stop-color="#c9c6c6"/></linearGradient><linearGradient id="b56" x2="0" y2="1"><stop offset="0" stop-color="#c59797"/><stop offset="0.1" stop-color="#bc4e4f"/><stop offset="0.2" stop-color="#b41f21"/><stop offset="0.3" stop-color="#ad1c1e"/><stop offset="0.4" stop-color="#ab1b1d"/><stop offset="0.5" stop-color="#ab1b1d"/><stop offset="0.6" stop-color="#ab1b1d"/><stop offset="0.7" stop-color="#ac1c1e"/><stop offset="0.8" stop-color="#b42123"/><stop offset="0.9" stop-color="#bf6262"/><stop offset="1" stop-color="#c7adad"/></linearGradient><linearGradient id="b57" x2="0" y2="1"><stop offset="0" stop-color="#ccb7b7"/><stop offset="0.1" stop-color="#c48080"/><stop offset="0.2" stop-color="#b83839"/><stop offset="0.3" stop-color="#b21d1f"/><stop offset="0.4" stop-color="#ad1c1e"/><stop offset="0.5" stop-color="#ad1c1e"/><stop offset="0.6" stop-color="#ac1c1e"/><stop offset="0.7" stop-color="#ac1c1e"/><stop offset="0.8" stop-color="#ad1c1e"/><stop offset="0.9" stop-color="#b21d1f"/><stop offset="1" stop-color="#bb4546"/></linearGradient><linearGradient id="b58" x2="0" y2="1"><stop offset="0" stop-color="#cac5c5"/><stop offset="0.1" stop-color="#c9b3b3"/><stop offset="0.2" stop-color="#c47e7e"/><stop offset="0.3" stop-color="#b9393a"/><stop offset="0.4" stop-color="#b41f21"/><stop offset="0.5" stop-color="#b11d1f"/><stop offset="0.6" stop-color="#b01d1f"/><stop offset="0.7" stop-color="#b01d1f"/><stop offset="0.8" stop-color="#b01d1f"/><stop offset="0.9" stop-color="#b01d1f"/><stop offset="1" stop-color="#b41e20"/></linearGradient><linearGradient id="b59" x2="0" y2="1"><stop offset="0" stop-color="#cdcbcb"/><stop offset="0.1" stop-color="#ccc7c7"/><stop offset="0.2" stop-color="#ccbdbd"/><stop offset="0.3" stop-color="#cba6a6"/><stop offset="0.4" stop-color="#c37979"/><stop offset="0.5" stop-color="#bb4546"/><stop offset="0.6" stop-color="#b52628"/><stop offset="0.7" stop-color="#b11d1f"/><stop offset="0.8" stop-color="#ae1c1e"/><stop offset="0.9" stop-color="#ad1c1e"/><stop offset="1" stop-color="#ac1c1e"/></linearGradient><linearGradient id="b60" x2="0" y2="1"><stop offset="0" stop-color="#c9c7c7"/><stop offset="0.1" stop-color="#c8c4c4"/><stop offset="0.2" stop-color="#c8bcbc"/><stop offset="0.3" stop-color="#c7a7a7"/><stop offset="0.4" stop-color="#c47e7e"/><stop offset="0.5" stop-color="#ba4344"/><stop offset="0.6" stop-color="#b21d1f"/><stop offset="0.7" stop-color="#a61a1c"/><stop offset="0.8" stop-color="#a2181a"/><stop offset="0.9" stop-color="#a1181a"/><stop offset="1" stop-color="#a0181a"/></linearGradient><linearGradient id="b61" x2="0" y2="1"><stop offset="0" stop-color="#c8c7c7"/><stop offset="0.1" stop-color="#c8c6c6"/><stop offset="0.2" stop-color="#c8c1c1"/><stop offset="0.3" stop-color="#c7b3b3"/><stop offset="0.4" stop-color="#c59696"/><stop offset="0.5" stop-color="#c06566"/><stop offset="0.6" stop-color="#b83738"/><stop offset="0.7" stop-color="#b41e20"/><stop offset="0.8" stop-color="#ae1c1e"/><stop offset="0.9" stop-color="#ab1b1d"/><stop offset="1" stop-color="#ab1b1d"/></linearGradient><linearGradient id="b62" x2="0" y2="1"><stop offset="0" stop-color="#c5c4c4"/><stop offset="0.1" stop-color="#c5c3c3"/><stop offset="0.2" stop-color="#c4bebe"/><stop offset="0.3" stop-color="#c4b3b3"/><stop offset="0.4" stop-color="#c29898"/><stop offset="0.5" stop-color="#c16c6c"/><stop offset="0.6" stop-color="#b83738"/><stop offset="0.7" stop-color="#b01d1f"/><stop offset="0.8" stop-color="#a81a1c"/><stop offset="0.9" stop-color="#a5191b"/><stop offset="1" stop-color="#a4191b"/></linearGradient><linearGradient id="b63" x2="0" y2="1"><stop offset="0" stop-color="#c5c4c4"/><stop offset="0.1" stop-color="#c5c3c3"/><stop offset="0.2" stop-color="#c5c0c0"/><stop offset="0.3" stop-color="#c4b9b9"/><stop offset="0.4" stop-color="#c3a7a7"/><stop offset="0.5" stop-color="#c58b8b"/><stop offset="0.6" stop-color="#be5b5c"/><stop offset="0.7" stop-color="#b73233"/><stop offset="0.8" stop-color="#b21d1f"/><stop offset="0.9" stop-color="#ac1b1d"/><stop offset="1" stop-color="#a91b1d"/></linearGradient><linearGradient id="b64" x2="0" y2="1"><stop offset="0" stop-color="#c1c1c1"/><stop offset="0.1" stop-color="#c1c0c0"/><stop offset="0.2" stop-color="#c1bdbd"/><stop offset="0.3" stop-color="#c1b6b6"/><stop offset="0.4" stop-color="#c0a6a6"/><stop offset="0.5" stop-color="#c58f8f"/><stop offset="0.6" stop-color="#c06464"/><stop offset="0.7" stop-color="#b93b3c"/><stop offset="0.8" stop-color="#b52426"/><stop offset="0.9" stop-color="#b21d1f"/><stop offset="1" stop-color="#af1c1e"/></linearGradient><linearGradient id="b65" x2="0" y2="1"><stop offset="0" stop-color="#c4c4c4"/><stop offset="0.1" stop-color="#c4c3c3"/><stop offset="0.2" stop-color="#c4c0c0"/><stop offset="0.3" stop-color="#c4b8b8"/><stop offset="0.4" stop-color="#c3a6a6"/><stop offset="0.5" stop-color="#c58a8a"/><stop offset="0.6" stop-color="#be5b5c"/><stop offset="0.7" stop-color="#b73334"/><stop offset="0.8" stop-color="#b31e20"/><stop offset="0.9" stop-color="#ad1c1e"/><stop offset="1" stop-color="#ab1b1d"/></linearGradient><linearGradient id="b66" x2="0" y2="1"><stop offset="0" stop-color="#c4c3c3"/><stop offset="0.1" stop-color="#c4c2c2"/><stop offset="0.2" stop-color="#c4bebe"/><stop offset="0.3" stop-color="#c3b4b4"/><stop offset="0.4" stop-color="#c29f9f"/><stop offset="0.5" stop-color="#c47f7f"/><stop offset="0.6" stop-color="#bc4d4e"/><stop offset="0.7" stop-color="#b62729"/><stop offset="0.8" stop-color="#ae1c1e"/><stop offset="0.9" stop-color="#a81a1c"/><stop offset="1" stop-color="#a61a1c"/></linearGradient><linearGradient id="b67" x2="0" y2="1"><stop offset="0" stop-color="#cac9c9"/><stop offset="0.1" stop-color="#cac7c7"/><stop offset="0.2" stop-color="#cac3c3"/><stop offset="0.3" stop-color="#c9b7b7"/><stop offset="0.4" stop-color="#c89f9f"/><stop offset="0.5" stop-color="#c37676"/><stop offset="0.6" stop-color="#bb4547"/><stop offset="0.7" stop-color="#b52527"/><stop offset="0.8" stop-color="#ae1c1e"/><stop offset="0.9" stop-color="#aa1b1d"/><stop offset="1" stop-color="#a91a1c"/></linearGradient><linearGradient id="b68" x2="0" y2="1"><stop offset="0" stop-color="#c8c7c7"/><stop offset="0.1" stop-color="#c8c6c6"/><stop offset="0.2" stop-color="#c8c2c2"/><stop offset="0.3" stop-color="#c7b8b8"/><stop offset="0.4" stop-color="#c6a4a4"/><stop offset="0.5" stop-color="#c48181"/><stop offset="0.6" stop-color="#bc5051"/><stop offset="0.7" stop-color="#b62c2e"/><stop offset="0.8" stop-color="#b21d1f"/><stop offset="0.9" stop-color="#ad1c1e"/><stop offset="1" stop-color="#ab1b1d"/></linearGradient><linearGradient id="b69" x2="0" y2="1"><stop offset="0" stop-color="#c6c6c6"/><stop offset="0.1" stop-color="#c6c5c5"/><stop offset="0.2" stop-color="#c6c2c2"/><stop offset="0.3" stop-color="#c6baba"/><stop offset="0.4" stop-color="#c5a9a9"/><stop offset="0.5" stop-color="#c58c8c"/><stop offset="0.6" stop-color="#bf5e5e"/><stop offset="0.7" stop-color="#b83637"/><stop offset="0.8" stop-color="#b41f21"/><stop offset="0.9" stop-color="#af1c1e"/><stop offset="1" stop-color="#ac1b1d"/></linearGradient><linearGradient id="b70" x2="0" y2="1"><stop offset="0" stop-color="#c4c4c4"/><stop offset="0.1" stop-color="#c4c3c3"/><stop offset="0.2" stop-color="#c4c0c0"/><stop offset="0.3" stop-color="#c4b9b9"/><stop offset="0.4" stop-color="#c3a8a8"/><stop offset="0.5" stop-color="#c58e8e"/><stop offset="0.6" stop-color="#bf6161"/><stop offset="0.7" stop-color="#b83839"/><stop offset="0.8" stop-color="#b52123"/><stop offset="0.9" stop-color="#b01d1f"/><stop offset="1" stop-color="#ad1c1e"/></linearGradient><linearGradient id="b71" x2="0" y2="1"><stop offset="0" stop-color="#c8c7c7"/><stop offset="0.1" stop-color="#c8c7c7"/><stop offset="0.2" stop-color="#c8c5c5"/><stop offset="0.3" stop-color="#c7bfbf"/><stop offset="0.4" stop-color="#c7b2b2"/><stop offset="0.5" stop-color="#c59898"/><stop offset="0.6" stop-color="#c26e6f"/><stop offset="0.7" stop-color="#ba3f41"/><stop offset="0.8" stop-color="#b52224"/><stop offset="0.9" stop-color="#ae1c1e"/><stop offset="1" stop-color="#aa1b1d"/></linearGradient><linearGradient id="b72" x2="0" y2="1"><stop offset="0" stop-color="#cdcccc"/><stop offset="0.1" stop-color="#cdcbcb"/><stop offset="0.2" stop-color="#cdc9c9"/><stop offset="0.3" stop-color="#ccc2c2"/><stop offset="0.4" stop-color="#ccb1b1"/><stop offset="0.5" stop-color="#c58e8e"/><stop offset="0.6" stop-color="#bf6061"/><stop offset="0.7" stop-color="#b83638"/><stop offset="0.8" stop-color="#b41f21"/><stop offset="0.9" stop-color="#ae1c1e"/><stop offset="1" stop-color="#ab1b1d"/></linearGradient><linearGradient id="b73" x2="0" y2="1"><stop offset="0" stop-color="#cdcccc"/><stop offset="0.1" stop-color="#cdcccc"/><stop offset="0.2" stop-color="#cdc9c9"/><stop offset="0.3" stop-color="#ccc3c3"/><stop offset="0.4" stop-color="#ccb4b4"/><stop offset="0.5" stop-color="#c59292"/><stop offset="0.6" stop-color="#c16869"/><stop offset="0.7" stop-color="#ba4041"/><stop offset="0.8" stop-color="#b6292a"/><stop offset="0.9" stop-color="#b41e20"/><stop offset="1" stop-color="#b11d1f"/></linearGradient><linearGradient id="b74" x2="0" y2="1"><stop offset="0" stop-color="#cccbcb"/><stop offset="0.1" stop-color="#cccbcb"/><stop offset="0.2" stop-color="#ccc8c8"/><stop offset="0.3" stop-color="#cbc3c3"/><stop offset="0.4" stop-color="#cbb6b6"/><stop offset="0.5" stop-color="#c59898"/><stop offset="0.6" stop-color="#c27070"/><stop offset="0.7" stop-color="#bb4647"/><stop offset="0.8" stop-color="#b62d2e"/><stop offset="0.9" stop-color="#b52123"/><stop offset="1" stop-color="#b31e20"/></linearGradient><linearGradient id="b75" x2="0" y2="1"><stop offset="0" stop-color="#cacaca"/><stop offset="0.1" stop-color="#cac9c9"/><stop offset="0.2" stop-color="#cac6c6"/><stop offset="0.3" stop-color="#cabfbf"/><stop offset="0.4" stop-color="#c9afaf"/><stop offset="0.5" stop-color="#c58f8f"/><stop offset="0.6" stop-color="#bf6161"/><stop offset="0.7" stop-color="#b83638"/><stop offset="0.8" stop-color="#b41e20"/><stop offset="0.9" stop-color="#ad1c1e"/><stop offset="1" stop-color="#aa1b1d"/></linearGradient><linearGradient id="b76" x2="0" y2="1"><stop offset="0" stop-color="#cccbcb"/><stop offset="0.1" stop-color="#cccaca"/><stop offset="0.2" stop-color="#cbc7c7"/><stop offset="0.3" stop-color="#cbbfbf"/><stop offset="0.4" stop-color="#caaeae"/><stop offset="0.5" stop-color="#c58a8a"/><stop offset="0.6" stop-color="#be5c5c"/><stop offset="0.7" stop-color="#b83536"/><stop offset="0.8" stop-color="#b41f21"/><stop offset="0.9" stop-color="#af1c1e"/><stop offset="1" stop-color="#ac1c1e"/></linearGradient><linearGradient id="b77" x2="0" y2="1"><stop offset="0" stop-color="#d1d0d0"/><stop offset="0.1" stop-color="#d1cfcf"/><stop offset="0.2" stop-color="#d0cdcd"/><stop offset="0.3" stop-color="#d0c7c7"/><stop offset="0.4" stop-color="#cfb8b8"/><stop offset="0.5" stop-color="#c59292"/><stop offset="0.6" stop-color="#c06566"/><stop offset="0.7" stop-color="#b8393a"/><stop offset="0.8" stop-color="#b41e20"/><stop offset="0.9" stop-color="#ac1b1d"/><stop offset="1" stop-color="#a91a1c"/></linearGradient><linearGradient id="b78" x2="0" y2="1"><stop offset="0" stop-color="#cbcaca"/><stop offset="0.1" stop-color="#cbc9c9"/><stop offset="0.2" stop-color="#cbc6c6"/><stop offset="0.3" stop-color="#cabdbd"/><stop offset="0.4" stop-color="#c9abab"/><stop offset="0.5" stop-color="#c58787"/><stop offset="0.6" stop-color="#be5758"/><stop offset="0.7" stop-color="#b73032"/><stop offset="0.8" stop-color="#b21e20"/><stop offset="0.9" stop-color="#ad1c1e"/><stop offset="1" stop-color="#aa1b1d"/></linearGradient><linearGradient id="b79" x2="0" y2="1"><stop offset="0" stop-color="#c9c9c9"/><stop offset="0.1" stop-color="#c9c8c8"/><stop offset="0.2" stop-color="#c9c5c5"/><stop offset="0.3" stop-color="#c9bdbd"/><stop offset="0.4" stop-color="#c8abab"/><stop offset="0.5" stop-color="#c58a8a"/><stop offset="0.6" stop-color="#be5b5c"/><stop offset="0.7" stop-color="#b83435"/><stop offset="0.8" stop-color="#b41e20"/><stop offset="0.9" stop-color="#ae1c1e"/><stop offset="1" stop-color="#ac1b1d"/></linearGradient><linearGradient id="b80" x2="0" y2="1"><stop offset="0" stop-color="#cbcaca"/><stop offset="0.1" stop-color="#cbc9c9"/><stop offset="0.2" stop-color="#cbc7c7"/><stop offset="0.3" stop-color="#cac0c0"/><stop offset="0.4" stop-color="#c9b1b1"/><stop offset="0.5" stop-color="#c59090"/><stop offset="0.6" stop-color="#c06464"/><stop offset="0.7" stop-color="#b93a3b"/><stop offset="0.8" stop-color="#b52224"/><stop offset="0.9" stop-color="#b01d1f"/><stop offset="1" stop-color="#ad1c1e"/></linearGradient><linearGradient id="b81" x2="0" y2="1"><stop offset="0" stop-color="#cbcbcb"/><stop offset="0.1" stop-color="#cbc9c9"/><stop offset="0.2" stop-color="#cbc6c6"/><stop offset="0.3" stop-color="#cbbcbc"/><stop offset="0.4" stop-color="#caa8a8"/><stop offset="0.5" stop-color="#c48383"/><stop offset="0.6" stop-color="#bd5455"/><stop offset="0.7" stop-color="#b73234"/><stop offset="0.8" stop-color="#b42123"/><stop offset="0.9" stop-color="#b11d1f"/><stop offset="1" stop-color="#af1c1e"/></linearGradient><linearGradient id="b82" x2="0" y2="1"><stop offset="0" stop-color="#cacaca"/><stop offset="0.1" stop-color="#cac8c8"/><stop offset="0.2" stop-color="#cac5c5"/><stop offset="0.3" stop-color="#cabbbb"/><stop offset="0.4" stop-color="#c9a7a7"/><stop offset="0.5" stop-color="#c48282"/><stop offset="0.6" stop-color="#bd5152"/><stop offset="0.7" stop-color="#b72d2f"/><stop offset="0.8" stop-color="#b21d1f"/><stop offset="0.9" stop-color="#ac1c1e"/><stop offset="1" stop-color="#aa1b1d"/></linearGradient><linearGradient id="b83" x2="0" y2="1"><stop offset="0" stop-color="#cccbcb"/><stop offset="0.1" stop-color="#cccaca"/><stop offset="0.2" stop-color="#ccc6c6"/><stop offset="0.3" stop-color="#cbbdbd"/><stop offset="0.4" stop-color="#caa8a8"/><stop offset="0.5" stop-color="#c48282"/><stop offset="0.6" stop-color="#bd5152"/><stop offset="0.7" stop-color="#b72d2f"/><stop offset="0.8" stop-color="#b21d1f"/><stop offset="0.9" stop-color="#ad1c1e"/><stop offset="1" stop-color="#ab1b1d"/></linearGradient><linearGradient id="b84" x2="0" y2="1"><stop offset="0" stop-color="#cac9c9"/><stop offset="0.1" stop-color="#cac8c8"/><stop offset="0.2" stop-color="#cac6c6"/><stop offset="0.3" stop-color="#c9bfbf"/><stop offset="0.4" stop-color="#c9afaf"/><stop offset="0.5" stop-color="#c58f8f"/><stop offset="0.6" stop-color="#bf6162"/><stop offset="0.7" stop-color="#b83738"/><stop offset="0.8" stop-color="#b41f21"/><stop offset="0.9" stop-color="#ad1c1e"/><stop offset="1" stop-color="#ab1b1d"/></linearGradient><linearGradient id="b85" x2="0" y2="1"><stop offset="0" stop-color="#cac9c9"/><stop offset="0.1" stop-color="#cac8c8"/><stop offset="0.2" stop-color="#c9c4c4"/><stop offset="0.3" stop-color="#c9bbbb"/><stop offset="0.4" stop-color="#c8a7a7"/><stop offset="0.5" stop-color="#c48383"/><stop offset="0.6" stop-color="#bd5253"/><stop offset="0.7" stop-color="#b62c2e"/><stop offset="0.8" stop-color="#b01d1f"/><stop offset="0.9" stop-color="#ab1b1d"/><stop offset="1" stop-color="#a81a1c"/></linearGradient><linearGradient id="b86" x2="0" y2="1"><stop offset="0" stop-color="#cccbcb"/><stop offset="0.1" stop-color="#cccaca"/><stop offset="0.2" stop-color="#ccc6c6"/><stop offset="0.3" stop-color="#ccbdbd"/><stop offset="0.4" stop-color="#caa8a8"/><stop offset="0.5" stop-color="#c48181"/><stop offset="0.6" stop-color="#bd5152"/><stop offset="0.7" stop-color="#b72e30"/><stop offset="0.8" stop-color="#b31e20"/><stop offset="0.9" stop-color="#ae1c1e"/><stop offset="1" stop-color="#ac1c1e"/></linearGradient><linearGradient id="b87" x2="0" y2="1"><stop offset="0" stop-color="#cecdcd"/><stop offset="0.1" stop-color="#cecccc"/><stop offset="0.2" stop-color="#cdc9c9"/><stop offset="0.3" stop-color="#cdc1c1"/><stop offset="0.4" stop-color="#ccb0b0"/><stop offset="0.5" stop-color="#c58989"/><stop offset="0.6" stop-color="#be5859"/><stop offset="0.7" stop-color="#b72d2f"/><stop offset="0.8" stop-color="#af1c1e"/><stop offset="0.9" stop-color="#a81a1c"/><stop offset="1" stop-color="#a5191b"/></linearGradient><linearGradient id="b88" x2="0" y2="1"><stop offset="0" stop-color="#cecece"/><stop offset="0.1" stop-color="#cecccc"/><stop offset="0.2" stop-color="#cec9c9"/><stop offset="0.3" stop-color="#cec1c1"/><stop offset="0.4" stop-color="#cdafaf"/><stop offset="0.5" stop-color="#c58888"/><stop offset="0.6" stop-color="#be595a"/><stop offset="0.7" stop-color="#b83435"/><stop offset="0.8" stop-color="#b42022"/><stop offset="0.9" stop-color="#b01d1f"/><stop offset="1" stop-color="#ad1c1e"/></linearGradient><linearGradient id="b89" x2="0" y2="1"><stop offset="0" stop-color="#cbcaca"/><stop offset="0.1" stop-color="#cbc9c9"/><stop offset="0.2" stop-color="#cbc5c5"/><stop offset="0.3" stop-color="#cabcbc"/><stop offset="0.4" stop-color="#c9a8a8"/><stop offset="0.5" stop-color="#c48383"/><stop offset="0.6" stop-color="#bd5657"/><stop offset="0.7" stop-color="#b83536"/><stop offset="0.8" stop-color="#b52426"/><stop offset="0.9" stop-color="#b41e20"/><stop offset="1" stop-color="#b21d1f"/></linearGradient><linearGradient id="b90" x2="0" y2="1"><stop offset="0" stop-color="#cbcaca"/><stop offset="0.1" stop-color="#cac9c9"/><stop offset="0.2" stop-color="#cac5c5"/><stop offset="0.3" stop-color="#cabdbd"/><stop offset="0.4" stop-color="#c9aaaa"/><stop offset="0.5" stop-color="#c48686"/><stop offset="0.6" stop-color="#bd5455"/><stop offset="0.7" stop-color="#b62c2e"/><stop offset="0.8" stop-color="#af1c1e"/><stop offset="0.9" stop-color="#a91b1d"/><stop offset="1" stop-color="#a71a1c"/></linearGradient><linearGradient id="b91" x2="0" y2="1"><stop offset="0" stop-color="#cccccc"/><stop offset="0.1" stop-color="#cccbcb"/><stop offset="0.2" stop-color="#ccc8c8"/><stop offset="0.3" stop-color="#ccc1c1"/><stop offset="0.4" stop-color="#cbb1b1"/><stop offset="0.5" stop-color="#c58f8f"/><stop offset="0.6" stop-color="#bf6161"/><stop offset="0.7" stop-color="#b83537"/><stop offset="0.8" stop-color="#b31e20"/><stop offset="0.9" stop-color="#ac1b1d"/><stop offset="1" stop-color="#a91b1d"/></linearGradient><linearGradient id="b92" x2="0" y2="1"><stop offset="0" stop-color="#c5c5c5"/><stop offset="0.1" stop-color="#c5c4c4"/><stop offset="0.2" stop-color="#c5c1c1"/><stop offset="0.3" stop-color="#c5baba"/><stop offset="0.4" stop-color="#c4aaaa"/><stop offset="0.5" stop-color="#c58e8e"/><stop offset="0.6" stop-color="#bf6060"/><stop offset="0.7" stop-color="#b83435"/><stop offset="0.8" stop-color="#b21d1f"/><stop offset="0.9" stop-color="#ab1b1d"/><stop offset="1" stop-color="#a81a1c"/></linearGradient><linearGradient id="b93" x2="0" y2="1"><stop offset="0" stop-color="#c4c3c3"/><stop offset="0.1" stop-color="#c4c2c2"/><stop offset="0.2" stop-color="#c4bebe"/><stop offset="0.3" stop-color="#c4b4b4"/><stop offset="0.4" stop-color="#c29f9f"/><stop offset="0.5" stop-color="#c47f7f"/><stop offset="0.6" stop-color="#bc4d4e"/><stop offset="0.7" stop-color="#b62a2b"/><stop offset="0.8" stop-color="#b01d1f"/><stop offset="0.9" stop-color="#ab1b1d"/><stop offset="1" stop-color="#a91a1c"/></linearGradient><linearGradient id="b94" x2="0" y2="1"><stop offset="0" stop-color="#c9c8c8"/><stop offset="0.1" stop-color="#c9c7c7"/><stop offset="0.2" stop-color="#c9c5c5"/><stop offset="0.3" stop-color="#c8bebe"/><stop offset="0.4" stop-color="#c7aeae"/><stop offset="0.5" stop-color="#c58e8e"/><stop offset="0.6" stop-color="#bf6060"/><stop offset="0.7" stop-color="#b83436"/><stop offset="0.8" stop-color="#b21d1f"/><stop offset="0.9" stop-color="#ab1b1d"/><stop offset="1" stop-color="#a81a1c"/></linearGradient><linearGradient id="b95" x2="0" y2="1"><stop offset="0" stop-color="#c7c6c6"/><stop offset="0.1" stop-color="#c7c5c5"/><stop offset="0.2" stop-color="#c6c2c2"/><stop offset="0.3" stop-color="#c6baba"/><stop offset="0.4" stop-color="#c5a8a8"/><stop offset="0.5" stop-color="#c58989"/><stop offset="0.6" stop-color="#be5b5c"/><stop offset="0.7" stop-color="#b83435"/><stop offset="0.8" stop-color="#b41f21"/><stop offset="0.9" stop-color="#af1c1e"/><stop offset="1" stop-color="#ac1c1e"/></linearGradient><linearGradient id="b96" x2="0" y2="1"><stop offset="0" stop-color="#cdcccc"/><stop offset="0.1" stop-color="#cdcbcb"/><stop offset="0.2" stop-color="#cdc8c8"/><stop offset="0.3" stop-color="#ccc1c1"/><stop offset="0.4" stop-color="#cbb0b0"/><stop offset="0.5" stop-color="#c58c8c"/><stop offset="0.6" stop-color="#be5c5d"/><stop offset="0.7" stop-color="#b73133"/><stop offset="0.8" stop-color="#b11d1f"/><stop offset="0.9" stop-color="#aa1b1d"/><stop offset="1" stop-color="#a71a1c"/></linearGradient><linearGradient id="b97" x2="0" y2="1"><stop offset="0" stop-color="#cccbcb"/><stop offset="0.1" stop-color="#cccaca"/><stop offset="0.2" stop-color="#ccc8c8"/><stop offset="0.3" stop-color="#cbc1c1"/><stop offset="0.4" stop-color="#cab1b1"/><stop offset="0.5" stop-color="#c58f8f"/><stop offset="0.6" stop-color="#bf6061"/><stop offset="0.7" stop-color="#b83537"/><stop offset="0.8" stop-color="#b31e20"/><stop offset="0.9" stop-color="#ac1b1d"/><stop offset="1" stop-color="#a91b1d"/></linearGradient><linearGradient id="b98" x2="0" y2="1"><stop offset="0" stop-color="#c8c8c8"/><stop offset="0.1" stop-color="#c8c6c6"/><stop offset="0.2" stop-color="#c8c3c3"/><stop offset="0.3" stop-color="#c8baba"/><stop offset="0.4" stop-color="#c7a7a7"/><stop offset="0.5" stop-color="#c48383"/><stop offset="0.6" stop-color="#bc5051"/><stop offset="0.7" stop-color="#b62729"/><stop offset="0.8" stop-color="#ac1c1e"/><stop offset="0.9" stop-color="#a61a1c"/><stop offset="1" stop-color="#a4191b"/></linearGradient><linearGradient id="b99" x2="0" y2="1"><stop offset="0" stop-color="#cac9c9"/><stop offset="0.1" stop-color="#cac8c8"/><stop offset="0.2" stop-color="#c9c5c5"/><stop offset="0.3" stop-color="#c9bebe"/><stop offset="0.4" stop-color="#c8aeae"/><stop offset="0.5" stop-color="#c58d8d"/><stop offset="0.6" stop-color="#bf5e5f"/><stop offset="0.7" stop-color="#b83335"/><stop offset="0.8" stop-color="#b21d1f"/><stop offset="0.9" stop-color="#ab1b1d"/><stop offset="1" stop-color="#a81a1c"/></linearGradient><linearGradient id="b100" x2="0" y2="1"><stop offset="0" stop-color="#c6c5c5"/><stop offset="0.1" stop-color="#c6c4c4"/><stop offset="0.2" stop-color="#c6c1c1"/><stop offset="0.3" stop-color="#c5b9b9"/><stop offset="0.4" stop-color="#c4a7a7"/><stop offset="0.5" stop-color="#c58888"/><stop offset="0.6" stop-color="#be5858"/><stop offset="0.7" stop-color="#b73031"/><stop offset="0.8" stop-color="#b21d1f"/><stop offset="0.9" stop-color="#ab1b1d"/><stop offset="1" stop-color="#a91a1c"/></linearGradient><linearGradient id="b101" x2="0" y2="1"><stop offset="0" stop-color="#c4c3c3"/><stop offset="0.1" stop-color="#c4c2c2"/><stop offset="0.2" stop-color="#c3bebe"/><stop offset="0.3" stop-color="#c3b6b6"/><stop offset="0.4" stop-color="#c2a4a4"/><stop offset="0.5" stop-color="#c58787"/><stop offset="0.6" stop-color="#be5758"/><stop offset="0.7" stop-color="#b73132"/><stop offset="0.8" stop-color="#b31e20"/><stop offset="0.9" stop-color="#ad1c1e"/><stop offset="1" stop-color="#ab1b1d"/></linearGradient><linearGradient id="b102" x2="0" y2="1"><stop offset="0" stop-color="#c6c5c5"/><stop offset="0.1" stop-color="#c6c4c4"/><stop offset="0.2" stop-color="#c6c1c1"/><stop offset="0.3" stop-color="#c5baba"/><stop offset="0.4" stop-color="#c4a8a8"/><stop offset="0.5" stop-color="#c58c8c"/><stop offset="0.6" stop-color="#bf6060"/><stop offset="0.7" stop-color="#b93a3b"/><stop offset="0.8" stop-color="#b52628"/><stop offset="0.9" stop-color="#b31e20"/><stop offset="1" stop-color="#b11d1f"/></linearGradient><linearGradient id="b103" x2="0" y2="1"><stop offset="0" stop-color="#cac9c9"/><stop offset="0.1" stop-color="#cac8c8"/><stop offset="0.2" stop-color="#c9c5c5"/><stop offset="0.3" stop-color="#c9bdbd"/><stop offset="0.4" stop-color="#c8acac"/><stop offset="0.5" stop-color="#c58a8a"/><stop offset="0.6" stop-color="#be5c5c"/><stop offset="0.7" stop-color="#b83436"/><stop offset="0.8" stop-color="#b41e20"/><stop offset="0.9" stop-color="#ae1c1e"/><stop offset="1" stop-color="#ac1b1d"/></linearGradient><linearGradient id="b104" x2="0" y2="1"><stop offset="0" stop-color="#cbcaca"/><stop offset="0.1" stop-color="#cbc9c9"/><stop offset="0.2" stop-color="#cbc6c6"/><stop offset="0.3" stop-color="#cabfbf"/><stop offset="0.4" stop-color="#c9adad"/><stop offset="0.5" stop-color="#c58a8a"/><stop offset="0.6" stop-color="#be5a5b"/><stop offset="0.7" stop-color="#b73132"/><stop offset="0.8" stop-color="#b11d1f"/><stop offset="0.9" stop-color="#ab1b1d"/><stop offset="1" stop-color="#a81a1c"/></linearGradient><linearGradient id="b105" x2="0" y2="1"><stop offset="0" stop-color="#cccbcb"/><stop offset="0.1" stop-color="#cccaca"/><stop offset="0.2" stop-color="#ccc8c8"/><stop offset="0.3" stop-color="#cbc1c1"/><stop offset="0.4" stop-color="#cbb2b2"/><stop offset="0.5" stop-color="#c58f8f"/><stop offset="0.6" stop-color="#bf6060"/><stop offset="0.7" stop-color="#b73133"/><stop offset="0.8" stop-color="#af1c1e"/><stop offset="0.9" stop-color="#a71a1c"/><stop offset="1" stop-color="#a3191b"/></linearGradient><linearGradient id="b106" x2="0" y2="1"><stop offset="0" stop-color="#cbcaca"/><stop offset="0.1" stop-color="#cbc9c9"/><stop offset="0.2" stop-color="#cbc6c6"/><stop offset="0.3" stop-color="#cabfbf"/><stop offset="0.4" stop-color="#c9afaf"/><stop offset="0.5" stop-color="#c58d8d"/><stop offset="0.6" stop-color="#bf5d5e"/><stop offset="0.7" stop-color="#b83334"/><stop offset="0.8" stop-color="#b21d1f"/><stop offset="0.9" stop-color="#ab1b1d"/><stop offset="1" stop-color="#a81a1c"/></linearGradient><linearGradient id="b107" x2="0" y2="1"><stop offset="0" stop-color="#cccccc"/><stop offset="0.1" stop-color="#cccbcb"/><stop offset="0.2" stop-color="#ccc8c8"/><stop offset="0.3" stop-color="#ccc2c2"/><stop offset="0.4" stop-color="#cbb2b2"/><stop offset="0.5" stop-color="#c58f8f"/><stop offset="0.6" stop-color="#bf6162"/><stop offset="0.7" stop-color="#b83536"/><stop offset="0.8" stop-color="#b21d1f"/><stop offset="0.9" stop-color="#ab1b1d"/><stop offset="1" stop-color="#a81a1c"/></linearGradient><linearGradient id="b108" x2="0" y2="1"><stop offset="0" stop-color="#cbcaca"/><stop offset="0.1" stop-color="#cbc9c9"/><stop offset="0.2" stop-color="#cbc6c6"/><stop offset="0.3" stop-color="#cbbebe"/><stop offset="0.4" stop-color="#caabab"/><stop offset="0.5" stop-color="#c58888"/><stop offset="0.6" stop-color="#be5a5b"/><stop offset="0.7" stop-color="#b83638"/><stop offset="0.8" stop-color="#b52426"/><stop offset="0.9" stop-color="#b21e20"/><stop offset="1" stop-color="#b01d1f"/></linearGradient><linearGradient id="b109" x2="0" y2="1"><stop offset="0" stop-color="#c7c6c6"/><stop offset="0.1" stop-color="#c7c5c5"/><stop offset="0.2" stop-color="#c6c3c3"/><stop offset="0.3" stop-color="#c6bdbd"/><stop offset="0.4" stop-color="#c5afaf"/><stop offset="0.5" stop-color="#c59393"/><stop offset="0.6" stop-color="#c06667"/><stop offset="0.7" stop-color="#b83839"/><stop offset="0.8" stop-color="#b31e20"/><stop offset="0.9" stop-color="#aa1b1d"/><stop offset="1" stop-color="#a71a1c"/></linearGradient><linearGradient id="b110" x2="0" y2="1"><stop offset="0" stop-color="#c8c7c7"/><stop offset="0.1" stop-color="#c8c6c6"/><stop offset="0.2" stop-color="#c8c4c4"/><stop offset="0.3" stop-color="#c7bdbd"/><stop offset="0.4" stop-color="#c6aeae"/><stop offset="0.5" stop-color="#c59090"/><stop offset="0.6" stop-color="#c06364"/><stop offset="0.7" stop-color="#b9393a"/><stop offset="0.8" stop-color="#b42123"/><stop offset="0.9" stop-color="#af1c1e"/><stop offset="1" stop-color="#ac1b1d"/></linearGradient><linearGradient id="b111" x2="0" y2="1"><stop offset="0" stop-color="#c7c6c6"/><stop offset="0.1" stop-color="#c6c5c5"/><stop offset="0.2" stop-color="#c6c2c2"/><stop offset="0.3" stop-color="#c6bbbb"/><stop offset="0.4" stop-color="#c5aaaa"/><stop offset="0.5" stop-color="#c58d8d"/><stop offset="0.6" stop-color="#bf5d5d"/><stop offset="0.7" stop-color="#b73133"/><stop offset="0.8" stop-color="#b11d1f"/><stop offset="0.9" stop-color="#a91b1d"/><stop offset="1" stop-color="#a71a1c"/></linearGradient><linearGradient id="b112" x2="0" y2="1"><stop offset="0" stop-color="#c8c7c7"/><stop offset="0.1" stop-color="#c8c6c6"/><stop offset="0.2" stop-color="#c7c4c4"/><stop offset="0.3" stop-color="#c7bdbd"/><stop offset="0.4" stop-color="#c6aeae"/><stop offset="0.5" stop-color="#c59191"/><stop offset="0.6" stop-color="#c06465"/><stop offset="0.7" stop-color="#b9393a"/><stop offset="0.8" stop-color="#b42022"/><stop offset="0.9" stop-color="#ae1c1e"/><stop offset="1" stop-color="#ab1b1d"/></linearGradient><linearGradient id="b113" x2="0" y2="1"><stop offset="0" stop-color="#c4c4c4"/><stop offset="0.1" stop-color="#c4c3c3"/><stop offset="0.2" stop-color="#c4c1c1"/><stop offset="0.3" stop-color="#c4bcbc"/><stop offset="0.4" stop-color="#c3b0b0"/><stop offset="0.5" stop-color="#c29898"/><stop offset="0.6" stop-color="#c27474"/><stop offset="0.7" stop-color="#bb4546"/><stop offset="0.8" stop-color="#b6282a"/><stop offset="0.9" stop-color="#b11d1f"/><stop offset="1" stop-color="#ad1c1e"/></linearGradient><linearGradient id="b114" x2="0" y2="1"><stop offset="0" stop-color="#c6c6c6"/><stop offset="0.1" stop-color="#c6c5c5"/><stop offset="0.2" stop-color="#c6c3c3"/><stop offset="0.3" stop-color="#c6bdbd"/><stop offset="0.4" stop-color="#c5b0b0"/><stop offset="0.5" stop-color="#c59898"/><stop offset="0.6" stop-color="#c26e6f"/><stop offset="0.7" stop-color="#ba4142"/><stop offset="0.8" stop-color="#b52527"/><stop offset="0.9" stop-color="#b01d1f"/><stop offset="1" stop-color="#ac1c1e"/></linearGradient><linearGradient id="b115" x2="0" y2="1"><stop offset="0" stop-color="#c3c3c3"/><stop offset="0.1" stop-color="#c3c2c2"/><stop offset="0.2" stop-color="#c3c0c0"/><stop offset="0.3" stop-color="#c3b9b9"/><stop offset="0.4" stop-color="#c2abab"/><stop offset="0.5" stop-color="#c59494"/><stop offset="0.6" stop-color="#c16969"/><stop offset="0.7" stop-color="#b93d3f"/><stop offset="0.8" stop-color="#b52426"/><stop offset="0.9" stop-color="#b01d1f"/><stop offset="1" stop-color="#ad1c1e"/></linearGradient><linearGradient id="b116" x2="0" y2="1"><stop offset="0" stop-color="#c9c9c9"/><stop offset="0.1" stop-color="#c9c8c8"/><stop offset="0.2" stop-color="#c9c6c6"/><stop offset="0.3" stop-color="#c9c1c1"/><stop offset="0.4" stop-color="#c8b5b5"/><stop offset="0.5" stop-color="#c69b9b"/><stop offset="0.6" stop-color="#c27373"/><stop offset="0.7" stop-color="#ba4446"/><stop offset="0.8" stop-color="#b62729"/><stop offset="0.9" stop-color="#b11d1f"/><stop offset="1" stop-color="#ad1c1e"/></linearGradient><linearGradient id="b117" x2="0" y2="1"><stop offset="0" stop-color="#cbcaca"/><stop offset="0.1" stop-color="#cbc9c9"/><stop offset="0.2" stop-color="#cbc7c7"/><stop offset="0.3" stop-color="#cac1c1"/><stop offset="0.4" stop-color="#c9b3b3"/><stop offset="0.5" stop-color="#c59595"/><stop offset="0.6" stop-color="#c16969"/><stop offset="0.7" stop-color="#b93b3d"/><stop offset="0.8" stop-color="#b42022"/><stop offset="0.9" stop-color="#ad1c1e"/><stop offset="1" stop-color="#aa1b1d"/></linearGradient><linearGradient id="b118" x2="0" y2="1"><stop offset="0" stop-color="#c9c9c9"/><stop offset="0.1" stop-color="#c9c8c8"/><stop offset="0.2" stop-color="#c9c5c5"/><stop offset="0.3" stop-color="#c9bebe"/><stop offset="0.4" stop-color="#c8afaf"/><stop offset="0.5" stop-color="#c59090"/><stop offset="0.6" stop-color="#bf6162"/><stop offset="0.7" stop-color="#b83537"/><stop offset="0.8" stop-color="#b31e20"/><stop offset="0.9" stop-color="#ab1b1d"/><stop offset="1" stop-color="#a81a1c"/></linearGradient><linearGradient id="b119" x2="0" y2="1"><stop offset="0" stop-color="#cbcaca"/><stop offset="0.1" stop-color="#cbc9c9"/><stop offset="0.2" stop-color="#cbc7c7"/><stop offset="0.3" stop-color="#cac2c2"/><stop offset="0.4" stop-color="#cab6b6"/><stop offset="0.5" stop-color="#c69a9a"/><stop offset="0.6" stop-color="#c27373"/><stop offset="0.7" stop-color="#bb4748"/><stop offset="0.8" stop-color="#b62c2e"/><stop offset="0.9" stop-color="#b42022"/><stop offset="1" stop-color="#b21d1f"/></linearGradient><linearGradient id="b120" x2="0" y2="1"><stop offset="0" stop-color="#c8c8c8"/><stop offset="0.1" stop-color="#c8c7c7"/><stop offset="0.2" stop-color="#c8c4c4"/><stop offset="0.3" stop-color="#c8bdbd"/><stop offset="0.4" stop-color="#c7acac"/><stop offset="0.5" stop-color="#c58d8d"/><stop offset="0.6" stop-color="#bf5e5f"/><stop offset="0.7" stop-color="#b83536"/><stop offset="0.8" stop-color="#b41e20"/><stop offset="0.9" stop-color="#ad1c1e"/><stop offset="1" stop-color="#ab1b1d"/></linearGradient><linearGradient id="b121" x2="0" y2="1"><stop offset="0" stop-color="#c9c8c8"/><stop offset="0.1" stop-color="#c9c7c7"/><stop offset="0.2" stop-color="#c8c5c5"/><stop offset="0.3" stop-color="#c8bebe"/><stop offset="0.4" stop-color="#c7afaf"/><stop offset="0.5" stop-color="#c59292"/><stop offset="0.6" stop-color="#c06768"/><stop offset="0.7" stop-color="#b93f40"/><stop offset="0.8" stop-color="#b62729"/><stop offset="0.9" stop-color="#b31e20"/><stop offset="1" stop-color="#b11d1f"/></linearGradient><linearGradient id="b122" x2="0" y2="1"><stop offset="0" stop-color="#c9c8c8"/><stop offset="0.1" stop-color="#c9c7c7"/><stop offset="0.2" stop-color="#c9c5c5"/><stop offset="0.3" stop-color="#c8bebe"/><stop offset="0.4" stop-color="#c8aeae"/><stop offset="0.5" stop-color="#c59090"/><stop offset="0.6" stop-color="#c06464"/><stop offset="0.7" stop-color="#b93b3d"/><stop offset="0.8" stop-color="#b52426"/><stop offset="0.9" stop-color="#b11d1f"/><stop offset="1" stop-color="#af1c1e"/></linearGradient><linearGradient id="b123" x2="0" y2="1"><stop offset="0" stop-color="#cac9c9"/><stop offset="0.1" stop-color="#c9c8c8"/><stop offset="0.2" stop-color="#c9c6c6"/><stop offset="0.3" stop-color="#c9bfbf"/><stop offset="0.4" stop-color="#c8b1b1"/><stop offset="0.5" stop-color="#c59393"/><stop offset="0.6" stop-color="#c06768"/><stop offset="0.7" stop-color="#b93d3e"/><stop offset="0.8" stop-color="#b52426"/><stop offset="0.9" stop-color="#b11d1f"/><stop offset="1" stop-color="#ae1c1e"/></linearGradient><linearGradient id="b124" x2="0" y2="1"><stop offset="0" stop-color="#c9c8c8"/><stop offset="0.1" stop-color="#c8c6c6"/><stop offset="0.2" stop-color="#c8c3c3"/><stop offset="0.3" stop-color="#c8baba"/><stop offset="0.4" stop-color="#c7a6a6"/><stop offset="0.5" stop-color="#c48282"/><stop offset="0.6" stop-color="#bd5152"/><stop offset="0.7" stop-color="#b62c2d"/><stop offset="0.8" stop-color="#b01d1f"/><stop offset="0.9" stop-color="#ab1b1d"/><stop offset="1" stop-color="#a91a1c"/></linearGradient><linearGradient id="b125" x2="0" y2="1"><stop offset="0" stop-color="#c6c6c6"/><stop offset="0.1" stop-color="#c6c5c5"/><stop offset="0.2" stop-color="#c6c2c2"/><stop offset="0.3" stop-color="#c6bcbc"/><stop offset="0.4" stop-color="#c5adad"/><stop offset="0.5" stop-color="#c59292"/><stop offset="0.6" stop-color="#c06768"/><stop offset="0.7" stop-color="#b93f40"/><stop offset="0.8" stop-color="#b62729"/><stop offset="0.9" stop-color="#b31e20"/><stop offset="1" stop-color="#b11d1f"/></linearGradient></defs>
<rect x="292.9" y="58.6" width="3.7" height="11.8" fill="none" stroke="#ee2a2a" stroke-width="1"/>
<rect x="296.6" y="58.6" width="5.0" height="11.8" fill="none" stroke="#ee2a2a" stroke-width="1"/>
<rect x="301.6" y="58.6" width="35.5" height="11.8" fill="none" stroke="#ee2a2a" stroke-width="1"/>
<rect x="337.1" y="58.6" width="64.7" height="11.8" fill="none" stroke="#ee2a2a" stroke-width="1"/>
<rect x="401.8" y="58.6" width="44.5" height="11.8" fill="none" stroke="#ee2a2a" stroke-width="1"/>
<rect x="446.3" y="58.6" width="11.1" height="11.8" fill="none" stroke="#ee2a2a" stroke-width="1"/>
<rect x="457.4" y="58.6" width="3.8" height="11.8" fill="none" stroke="#ee2a2a" stroke-width="1"/>
<rect x="461.2" y="58.6" width="16.1" height="11.8" fill="none" stroke="#ee2a2a" stroke-width="1"/>
<rect x="477.3" y="58.6" width="82.9" height="11.8" fill="none" stroke="#ee2a2a" stroke-width="1"/>
<rect x="560.2" y="58.6" width="103.0" height="11.8" fill="none" stroke="#ee2a2a" stroke-width="1"/>
<text x="295.6" y="67.2" font-size="9.35" text-anchor="end" fill="#111" stroke="#111" stroke-width="0.22">10</text>
<text x="299.3" y="67.2" font-size="9.35" text-anchor="middle" fill="#111" stroke="#111" stroke-width="0.22">6</text>
<text x="316.4" y="67.2" font-size="9.35" text-anchor="middle" fill="#111" stroke="#111" stroke-width="0.22">5</text>
<text x="364.0" y="67.2" font-size="9.35" text-anchor="middle" fill="#111" stroke="#111" stroke-width="0.22">2</text>
<text x="422.2" y="67.2" font-size="9.35" text-anchor="middle" fill="#111" stroke="#111" stroke-width="0.22">3</text>
<text x="450.3" y="67.2" font-size="9.35" text-anchor="middle" fill="#111" stroke="#111" stroke-width="0.22">7</text>
<text x="459.3" y="67.2" font-size="9.35" text-anchor="middle" fill="#111" stroke="#111" stroke-width="0.22">8</text>
<text x="468.4" y="67.2" font-size="9.35" text-anchor="middle" fill="#111" stroke="#111" stroke-width="0.22">9</text>
<text x="515.1" y="67.2" font-size="9.35" text-anchor="middle" fill="#111" stroke="#111" stroke-width="0.22">1</text>
<text x="609.2" y="67.2" font-size="9.35" text-anchor="middle" fill="#111" stroke="#111" stroke-width="0.22">4</text>
<text x="291.2" y="79.4" font-size="9.35" text-anchor="end" fill="#111" stroke="#111" stroke-width="0.22">S1 (5)</text>
<text x="291.2" y="96.0" font-size="9.35" text-anchor="end" fill="#111" stroke="#111" stroke-width="0.22">S2 (1)</text>
<text x="291.2" y="112.6" font-size="9.35" text-anchor="end" fill="#111" stroke="#111" stroke-width="0.22">DP (3)</text>
<text x="291.2" y="129.0" font-size="9.35" text-anchor="end" fill="#111" stroke="#111" stroke-width="0.22">AEC2a (0)</text>
<text x="291.2" y="145.2" font-size="9.35" text-anchor="end" fill="#111" stroke="#111" stroke-width="0.22">AEC2b (2)</text>
<text x="0.8" y="192.6" font-size="13" fill="#111" stroke="#111" stroke-width="0.22">C</text>
<text x="70.4" y="190.6" font-size="10.67" fill="#111" stroke="#111" stroke-width="0.22">Aggregated gene scores of selected Biological Processes</text>
<text x="251.2" y="201.3" font-size="9.35" fill="#111" stroke="#111" stroke-width="0.22">aggregated score</text>
<defs><linearGradient id="cbC" x1="0" x2="1" y1="0" y2="0"><stop offset="0" stop-color="#0000b4"/><stop offset="0.25" stop-color="#2a2ae0"/><stop offset="0.5" stop-color="#e6e6e6"/><stop offset="0.75" stop-color="#c83030"/><stop offset="1" stop-color="#a01414"/></linearGradient></defs>
<rect x="258.30" y="204.60" width="60.10" height="5.90" fill="url(#cbC)"/>
<text x="265.6" y="218.4" font-size="9.35" text-anchor="middle" fill="#111" stroke="#111" stroke-width="0.22">−3</text>
<text x="289.0" y="218.4" font-size="9.35" text-anchor="middle" fill="#111" stroke="#111" stroke-width="0.22">0</text>
<text x="311.6" y="218.4" font-size="9.35" text-anchor="middle" fill="#111" stroke="#111" stroke-width="0.22">3</text>
<path d="M17.6 193.4 L170.3 209.7 L17.6 209.7 Z" fill="none" stroke="#333" stroke-width="0.9"/>
<text x="19.7" y="207.0" font-size="9.35" fill="#111" stroke="#111" stroke-width="0.22">secretory-trajectory</text>
<rect x="17.10" y="211.20" width="30.60" height="9.90" fill="#3a8ef0"/>
<rect x="47.70" y="211.20" width="0.90" height="9.90" fill="#9cc4f4"/>
<rect x="48.60" y="211.20" width="30.40" height="9.90" fill="#e0e0e0"/>
<rect x="79.00" y="211.20" width="25.30" height="9.90" fill="#ff00ff"/>
<rect x="80.60" y="211.20" width="1.00" height="9.90" fill="#e890e8"/>
<rect x="104.30" y="211.20" width="34.70" height="9.90" fill="#575457"/>
<rect x="108.00" y="211.20" width="3.70" height="9.90" fill="#ff00ff"/>
<rect x="139.00" y="211.20" width="31.40" height="9.90" fill="#ff2a2a"/>
<text x="32.3" y="218.8" font-size="9.35" text-anchor="middle" fill="#ffffff" stroke="#ffffff" stroke-width="0.22">S1</text>
<text x="62.6" y="218.8" font-size="9.35" text-anchor="middle" fill="#222" stroke="#222" stroke-width="0.22">S2</text>
<text x="92.6" y="218.8" font-size="9.35" text-anchor="middle" fill="#222" stroke="#222" stroke-width="0.22">DP</text>
<text x="121.7" y="218.8" font-size="9.35" text-anchor="middle" fill="#ffffff" stroke="#ffffff" stroke-width="0.22">AEC2a</text>
<text x="155.2" y="218.8" font-size="9.35" text-anchor="middle" fill="#111" stroke="#111" stroke-width="0.22">AEC2b</text>
<g transform="scale(.5)" shape-rendering="crispEdges">
<path fill="#ae2424" d="M34 446h4v20h-4zM57 446h3v20h-3zM67 446h4v20h-4zM53 506h4v21h-4z"/>
<path fill="#a82424" d="M38 446h4v20h-4zM60 446h5v20h-5z"/>
<path fill="#ae2a2a" d="M42 446h4v20h-4zM74 446h4v20h-4zM67 466h4v20h-4zM74 466h4v20h-4zM81 466h8v20h-8zM46 486h3v20h-3zM74 486h4v20h-4zM38 506h4v21h-4z"/>
<path fill="#b43030" d="M46 446h3v20h-3zM65 446h2v20h-2zM71 446h3v20h-3zM60 466h5v20h-5zM71 466h3v20h-3zM60 486h5v20h-5zM67 486h4v20h-4zM57 506h3v21h-3zM78 506h3v21h-3z"/>
<path fill="#a81e1e" d="M49 446h4v20h-4z"/>
<path fill="#a21818" d="M53 446h4v20h-4z"/>
<path fill="#ba3c3c" d="M78 446h3v20h-3zM49 466h8v20h-8zM34 486h4v20h-4zM97 486h3v20h-3zM67 506h4v21h-4zM86 506h3v21h-3zM147 567h3v20h-3zM300 628h5v20h-5z"/>
<path fill="#c64e4e" d="M81 446h5v20h-5zM93 466h4v20h-4zM34 506h4v21h-4zM93 506h4v21h-4zM124 527h4v20h-4zM67 547h4v20h-4zM107 547h4v20h-4zM121 547h3v20h-3zM128 547h3v20h-3zM134 547h5v20h-5zM147 547h3v20h-3zM128 567h6v20h-6zM153 567h3v20h-3z"/>
<path fill="#d27e7e" d="M86 446h3v20h-3zM49 527h4v20h-4zM81 547h5v20h-5zM100 567h3v20h-3zM107 567h10v20h-10zM121 567h3v20h-3zM318 587h2v21h-2zM166 608h3v20h-3zM263 628h3v20h-3zM320 628h3v20h-3zM240 648h3v20h-3zM314 648h4v20h-4zM323 648h4v20h-4zM248 668h3v21h-3z"/>
<path fill="#d87e7e" d="M89 446h4v20h-4zM128 466h3v20h-3zM57 527h3v20h-3zM93 527h4v20h-4zM86 547h3v20h-3zM236 628h4v20h-4zM243 628h5v20h-5zM334 648h4v20h-4zM334 668h4v21h-4z"/>
<path fill="#deaeae" d="M93 446h4v20h-4zM103 486h4v20h-4zM49 547h4v20h-4zM86 567h3v20h-3zM236 587h4v21h-4zM300 587h5v21h-5zM320 587h3v21h-3zM184 608h4v20h-4zM233 608h3v20h-3zM181 628h3v20h-3zM285 628h4v20h-4zM210 648h2v20h-2zM243 668h5v21h-5z"/>
<path fill="#e4dee4" d="M97 446h3v20h-3zM184 628h4v20h-4zM206 648h4v20h-4zM194 668h5v21h-5z"/>
<path fill="#ded8e4" d="M100 446h3v20h-3zM188 446h3v20h-3zM46 567h7v20h-7zM156 608h4v20h-4zM163 628h3v20h-3zM173 628h4v20h-4z"/>
<path fill="#aeaee4" d="M103 446h4v20h-4zM156 446h4v20h-4zM166 446h3v20h-3zM173 446h4v20h-4zM181 446h3v20h-3zM191 446h3v20h-3zM210 446h2v20h-2zM219 446h4v20h-4zM243 446h5v20h-5zM251 446h3v20h-3zM338 446h3v20h-3zM184 547h4v20h-4zM271 547h3v20h-3zM219 567h4v20h-4zM230 567h3v20h-3zM320 567h3v20h-3zM156 587h4v21h-4zM173 668h4v21h-4z"/>
<path fill="#babae4" d="M107 446h4v20h-4zM114 446h3v20h-3zM121 446h3v20h-3zM131 446h3v20h-3zM147 446h6v20h-6zM177 446h4v20h-4zM199 446h4v20h-4zM254 446h4v20h-4zM293 446h4v20h-4zM318 446h5v20h-5zM327 446h3v20h-3zM163 527h3v20h-3zM163 547h3v20h-3zM150 608h3v20h-3zM166 668h3v21h-3zM177 668h4v21h-4zM188 668h3v21h-3z"/>
<path fill="#c0c0e4" d="M111 446h3v20h-3zM169 446h4v20h-4zM258 446h5v20h-5zM281 446h4v20h-4zM156 466h4v20h-4zM166 527h3v20h-3zM289 527h4v20h-4zM320 547h3v20h-3zM53 567h4v20h-4zM199 567h4v20h-4zM199 648h4v20h-4z"/>
<path fill="#a8aee4" d="M117 446h4v20h-4zM153 446h3v20h-3zM212 446h4v20h-4zM230 446h3v20h-3zM274 446h4v20h-4zM308 506h3v21h-3zM281 567h4v20h-4zM163 648h3v20h-3z"/>
<path fill="#d8d2e4" d="M124 446h4v20h-4zM184 446h4v20h-4zM194 547h5v20h-5zM60 567h5v20h-5zM67 567h4v20h-4zM160 567h3v20h-3zM191 668h3v21h-3z"/>
<path fill="#a2a2e4" d="M128 446h3v20h-3zM236 446h4v20h-4zM248 446h3v20h-3zM210 567h2v20h-2zM124 608h4v20h-4zM134 608h5v20h-5z"/>
<path fill="#c6c6e4" d="M134 446h5v20h-5zM194 446h5v20h-5zM216 446h3v20h-3zM226 446h4v20h-4zM160 527h3v20h-3zM173 547h4v20h-4zM42 567h4v20h-4zM169 567h4v20h-4zM188 567h3v20h-3zM194 567h5v20h-5zM199 668h4v21h-4z"/>
<path fill="#a8a8e4" d="M139 446h4v20h-4zM223 446h3v20h-3zM240 446h3v20h-3zM266 446h5v20h-5zM314 446h4v20h-4zM199 547h4v20h-4zM181 668h7v21h-7z"/>
<path fill="#b4b4e4" d="M143 446h4v20h-4zM160 446h3v20h-3zM203 446h7v20h-7zM263 446h3v20h-3zM285 446h4v20h-4zM297 446h3v20h-3zM330 446h4v20h-4zM177 547h4v20h-4zM103 608h4v20h-4z"/>
<path fill="#aeb4e4" d="M163 446h3v20h-3zM305 446h3v20h-3zM311 446h3v20h-3zM323 446h4v20h-4z"/>
<path fill="#a2a8e4" d="M233 446h3v20h-3zM271 446h3v20h-3zM278 446h3v20h-3zM166 486h3v20h-3zM181 547h3v20h-3zM289 547h4v20h-4zM263 567h3v20h-3zM166 648h3v20h-3z"/>
<path fill="#cccce4" d="M289 446h4v20h-4zM300 446h5v20h-5zM160 547h3v20h-3zM71 567h10v20h-10zM163 567h3v20h-3zM181 567h3v20h-3zM177 648h7v20h-7z"/>
<path fill="#9c9ce4" d="M308 446h3v20h-3zM223 466h3v20h-3zM210 547h2v20h-2zM128 587h3v21h-3zM160 668h3v21h-3zM169 668h4v21h-4z"/>
<path fill="#969ce4" d="M334 446h4v20h-4zM194 466h5v20h-5zM163 486h3v20h-3zM254 547h4v20h-4zM285 547h4v20h-4zM305 547h3v20h-3zM223 567h3v20h-3zM254 567h4v20h-4zM285 567h4v20h-4zM111 587h3v21h-3zM121 608h3v20h-3z"/>
<path fill="#b43636" d="M34 466h4v20h-4zM57 466h3v20h-3zM89 466h4v20h-4zM78 486h3v20h-3zM86 486h3v20h-3z"/>
<path fill="#c04848" d="M38 466h11v20h-11zM49 486h4v20h-4zM46 506h3v21h-3zM74 506h4v21h-4zM97 506h3v21h-3zM114 547h3v20h-3zM143 567h4v20h-4z"/>
<path fill="#ba3636" d="M65 466h2v20h-2zM78 466h3v20h-3zM57 486h3v20h-3zM93 486h4v20h-4zM42 506h4v21h-4z"/>
<path fill="#ba4242" d="M97 466h3v20h-3zM89 506h4v21h-4zM103 547h4v20h-4z"/>
<path fill="#cc5a5a" d="M100 466h3v20h-3zM71 506h3v21h-3zM46 527h3v20h-3zM97 527h3v20h-3zM111 527h3v20h-3zM121 527h3v20h-3zM134 527h9v20h-9zM150 527h6v20h-6zM93 547h4v20h-4zM124 547h4v20h-4zM131 547h3v20h-3zM150 547h3v20h-3zM134 567h5v20h-5zM320 668h3v21h-3zM330 668h4v21h-4z"/>
<path fill="#d88a8a" d="M103 466h4v20h-4zM134 466h5v20h-5zM143 466h4v20h-4zM128 486h3v20h-3zM114 506h3v21h-3zM156 527h4v20h-4zM65 547h2v20h-2zM248 587h3v21h-3zM274 587h4v21h-4zM314 587h4v21h-4zM163 608h3v20h-3zM194 608h5v20h-5zM212 608h4v20h-4zM230 608h3v20h-3zM243 608h5v20h-5zM263 608h3v20h-3zM271 608h3v20h-3zM278 608h3v20h-3zM293 608h7v20h-7zM323 608h4v20h-4zM216 628h3v20h-3zM254 628h4v20h-4zM297 628h3v20h-3zM233 648h3v20h-3zM271 648h3v20h-3zM297 648h3v20h-3zM308 648h3v20h-3zM327 648h3v20h-3zM223 668h3v21h-3zM254 668h4v21h-4zM308 668h3v21h-3z"/>
<path fill="#d88484" d="M107 466h7v20h-7zM117 466h4v20h-4zM131 466h3v20h-3zM34 527h4v20h-4zM38 547h4v20h-4zM78 547h3v20h-3zM210 587h2v21h-2zM216 587h3v21h-3zM327 587h3v21h-3zM258 608h5v20h-5zM281 608h4v20h-4zM330 608h4v20h-4zM233 628h3v20h-3zM266 628h5v20h-5zM226 648h4v20h-4zM258 648h5v20h-5zM240 668h3v21h-3zM266 668h5v21h-5zM274 668h4v21h-4zM285 668h4v21h-4zM297 668h3v21h-3z"/>
<path fill="#dea2a2" d="M114 466h3v20h-3zM150 466h3v20h-3zM107 486h4v20h-4zM117 486h4v20h-4zM139 486h4v20h-4zM111 506h3v21h-3zM134 506h5v21h-5zM34 547h4v20h-4zM74 547h4v20h-4zM285 587h4v21h-4zM216 608h3v20h-3zM223 628h3v20h-3zM219 648h4v20h-4zM318 668h2v21h-2z"/>
<path fill="#d89090" d="M121 466h3v20h-3zM134 486h5v20h-5zM131 506h3v21h-3zM42 547h4v20h-4zM156 547h4v20h-4zM89 567h4v20h-4zM223 587h3v21h-3zM266 587h8v21h-8zM173 608h4v20h-4zM191 608h3v20h-3zM289 608h4v20h-4zM305 608h3v20h-3zM248 628h3v20h-3zM271 628h3v20h-3zM281 628h4v20h-4zM314 628h4v20h-4zM230 648h3v20h-3zM305 648h3v20h-3zM216 668h3v21h-3zM281 668h4v21h-4zM338 668h3v21h-3z"/>
<path fill="#de9c9c" d="M124 466h4v20h-4zM143 486h4v20h-4zM53 547h4v20h-4zM203 587h3v21h-3zM219 587h4v21h-4zM251 608h3v20h-3zM274 648h4v20h-4zM233 668h3v21h-3zM251 668h3v21h-3zM258 668h5v21h-5zM305 668h3v21h-3zM311 668h3v21h-3z"/>
<path fill="#d89c9c" d="M139 466h4v20h-4zM124 486h4v20h-4zM147 486h3v20h-3zM93 567h4v20h-4zM156 567h4v20h-4zM199 587h4v21h-4zM240 587h3v21h-3zM223 608h3v20h-3zM236 648h4v20h-4zM263 648h3v20h-3zM289 648h4v20h-4zM330 648h4v20h-4zM219 668h4v21h-4z"/>
<path fill="#deb4b4" d="M147 466h3v20h-3zM121 486h3v20h-3zM150 486h3v20h-3zM153 506h3v21h-3zM169 587h4v21h-4zM194 587h5v21h-5zM212 587h4v21h-4zM226 587h4v21h-4zM293 587h4v21h-4zM305 587h3v21h-3zM199 608h7v20h-7zM320 608h3v20h-3zM203 628h3v20h-3zM251 648h7v20h-7zM318 648h2v20h-2z"/>
<path fill="#d89696" d="M153 466h3v20h-3zM103 506h4v21h-4zM124 506h7v21h-7zM46 547h3v20h-3zM103 567h4v20h-4zM160 587h3v21h-3zM173 587h4v21h-4zM181 587h3v21h-3zM188 587h3v21h-3zM243 587h5v21h-5zM334 587h7v21h-7zM181 608h3v20h-3zM240 608h3v20h-3zM248 608h3v20h-3zM266 608h5v20h-5zM308 608h3v20h-3zM327 608h3v20h-3zM338 608h3v20h-3zM206 628h4v20h-4zM219 628h4v20h-4zM240 628h3v20h-3zM216 648h3v20h-3zM266 648h5v20h-5zM281 648h4v20h-4zM293 648h4v20h-4zM300 648h5v20h-5zM230 668h3v21h-3z"/>
<path fill="#9696e4" d="M160 466h3v20h-3zM240 466h3v20h-3zM210 486h2v20h-2zM173 527h8v20h-8zM258 547h5v20h-5zM103 587h4v21h-4zM128 608h3v20h-3z"/>
<path fill="#848ae4" d="M163 466h6v20h-6zM184 466h7v20h-7zM212 466h4v20h-4zM173 486h4v20h-4zM240 486h3v20h-3zM300 486h5v20h-5zM327 486h3v20h-3zM203 506h3v21h-3zM278 506h3v21h-3zM297 506h3v21h-3zM330 506h4v21h-4zM169 527h4v20h-4zM223 547h3v20h-3zM274 547h4v20h-4zM289 567h4v20h-4zM297 567h3v20h-3zM311 567h3v20h-3zM143 587h4v21h-4zM107 608h4v20h-4zM153 608h3v20h-3z"/>
<path fill="#9090e4" d="M169 466h4v20h-4zM226 567h4v20h-4z"/>
<path fill="#787ee4" d="M173 466h4v20h-4zM281 466h4v20h-4zM308 466h3v20h-3zM323 466h4v20h-4zM181 486h3v20h-3zM191 486h3v20h-3zM233 486h3v20h-3zM274 486h4v20h-4zM314 486h4v20h-4zM323 486h4v20h-4zM184 506h7v21h-7zM194 506h5v21h-5zM216 506h3v21h-3zM230 506h3v21h-3zM271 506h3v21h-3zM181 527h7v20h-7zM206 527h4v20h-4zM240 527h3v20h-3zM216 547h3v20h-3zM311 547h3v20h-3zM314 567h4v20h-4zM97 587h3v21h-3zM111 608h3v20h-3zM81 648h8v20h-8zM153 648h3v20h-3zM86 668h3v21h-3z"/>
<path fill="#606ce4" d="M177 466h4v20h-4zM258 466h5v20h-5zM274 466h4v20h-4zM285 486h4v20h-4zM226 506h4v21h-4zM203 527h3v20h-3zM230 527h3v20h-3zM297 527h3v20h-3zM318 527h2v20h-2zM226 547h4v20h-4zM236 547h7v20h-7zM274 567h4v20h-4zM330 567h4v20h-4zM46 628h3v20h-3zM114 648h3v20h-3zM42 668h4v21h-4zM49 668h4v21h-4zM103 668h4v21h-4z"/>
<path fill="#7884e4" d="M181 466h3v20h-3zM236 486h4v20h-4zM243 486h5v20h-5zM263 486h3v20h-3zM219 547h4v20h-4zM293 567h4v20h-4zM305 567h3v20h-3zM318 567h2v20h-2zM103 648h4v20h-4z"/>
<path fill="#666ce4" d="M191 466h3v20h-3zM199 466h4v20h-4zM254 466h4v20h-4zM263 466h3v20h-3zM194 486h5v20h-5zM338 486h3v20h-3zM223 506h3v21h-3zM285 506h4v21h-4zM199 527h4v20h-4zM210 527h2v20h-2zM233 527h3v20h-3zM311 527h3v20h-3zM327 567h3v20h-3zM121 648h3v20h-3zM147 648h3v20h-3z"/>
<path fill="#6c78e4" d="M203 466h3v20h-3zM266 466h5v20h-5zM334 486h4v20h-4zM177 506h4v21h-4zM266 506h5v21h-5zM281 506h4v21h-4zM318 506h2v21h-2zM216 527h3v20h-3zM271 527h3v20h-3zM216 567h3v20h-3zM114 587h3v21h-3zM121 587h3v21h-3zM74 648h4v20h-4z"/>
<path fill="#6c72e4" d="M206 466h4v20h-4zM243 466h5v20h-5zM251 466h3v20h-3zM327 466h7v20h-7zM199 486h4v20h-4zM191 506h3v21h-3zM219 527h4v20h-4zM266 527h5v20h-5zM285 527h4v20h-4zM334 547h4v20h-4zM243 567h5v20h-5zM86 628h3v20h-3zM89 648h4v20h-4zM65 668h2v21h-2z"/>
<path fill="#7e84e4" d="M210 466h2v20h-2zM285 466h4v20h-4zM311 466h3v20h-3zM184 486h4v20h-4zM206 486h4v20h-4zM212 486h4v20h-4zM219 506h4v21h-4zM236 506h4v21h-4zM251 506h3v21h-3zM281 547h4v20h-4zM300 547h5v20h-5zM308 547h3v20h-3zM314 547h4v20h-4zM323 547h4v20h-4zM338 547h3v20h-3zM248 567h3v20h-3zM300 567h5v20h-5zM107 587h4v21h-4zM117 587h4v21h-4zM124 587h4v21h-4zM147 587h3v21h-3zM156 648h4v20h-4zM134 668h5v21h-5z"/>
<path fill="#6672e4" d="M216 466h7v20h-7zM278 466h3v20h-3zM289 466h4v20h-4zM300 466h5v20h-5zM230 486h3v20h-3zM212 506h4v21h-4zM258 506h5v21h-5zM327 506h3v21h-3zM314 527h4v20h-4zM278 547h3v20h-3zM107 648h7v20h-7z"/>
<path fill="#5a60e4" d="M226 466h4v20h-4zM297 466h3v20h-3zM314 466h4v20h-4zM248 527h6v20h-6zM293 527h4v20h-4zM338 567h3v20h-3zM139 628h4v20h-4zM38 648h4v20h-4zM131 648h3v20h-3zM53 668h4v21h-4zM74 668h4v21h-4zM124 668h4v21h-4z"/>
<path fill="#6066e4" d="M230 466h3v20h-3zM318 466h2v20h-2zM216 486h3v20h-3zM289 486h4v20h-4zM320 486h3v20h-3zM330 486h4v20h-4zM254 506h4v21h-4zM300 506h5v21h-5zM334 506h4v21h-4zM226 527h4v20h-4zM236 527h4v20h-4zM308 527h3v20h-3zM203 547h3v20h-3zM60 668h5v21h-5z"/>
<path fill="#727ee4" d="M233 466h3v20h-3zM177 486h4v20h-4zM219 486h4v20h-4zM160 506h3v21h-3zM308 567h3v20h-3zM323 567h4v20h-4zM131 587h3v21h-3zM150 587h3v21h-3zM117 648h4v20h-4zM150 668h3v21h-3z"/>
<path fill="#7e8ae4" d="M236 466h4v20h-4z"/>
<path fill="#7278e4" d="M248 466h3v20h-3zM160 486h3v20h-3zM223 486h3v20h-3zM281 486h4v20h-4zM308 486h6v20h-6zM173 506h4v21h-4zM274 506h4v21h-4zM289 506h4v21h-4zM188 527h3v20h-3zM194 527h5v20h-5zM334 527h4v20h-4zM206 547h4v20h-4zM212 547h4v20h-4zM230 547h3v20h-3zM263 547h3v20h-3zM258 567h5v20h-5zM266 567h5v20h-5zM334 567h4v20h-4zM147 608h3v20h-3zM71 668h3v21h-3zM128 668h6v21h-6z"/>
<path fill="#545ae4" d="M271 466h3v20h-3zM334 466h4v20h-4zM266 486h5v20h-5zM297 486h3v20h-3zM210 506h2v21h-2zM320 527h7v20h-7zM327 547h3v20h-3zM74 628h4v20h-4zM117 628h4v20h-4zM57 648h3v20h-3zM67 648h4v20h-4zM97 648h3v20h-3zM67 668h4v21h-4zM117 668h4v21h-4zM143 668h4v21h-4z"/>
<path fill="#5460e4" d="M293 466h4v20h-4zM338 466h3v20h-3zM199 506h4v21h-4zM293 506h4v21h-4zM323 506h4v21h-4zM34 628h4v20h-4zM71 628h3v20h-3zM103 628h4v20h-4zM114 628h3v20h-3zM134 628h5v20h-5zM46 648h3v20h-3zM93 648h4v20h-4zM100 648h3v20h-3z"/>
<path fill="#9096e4" d="M305 466h3v20h-3zM169 486h4v20h-4zM188 486h3v20h-3zM271 486h3v20h-3zM163 506h6v21h-6zM181 506h3v21h-3zM305 506h3v21h-3zM212 527h4v20h-4zM191 547h3v20h-3zM233 547h3v20h-3zM243 547h5v20h-5zM297 547h3v20h-3zM233 567h3v20h-3zM240 567h3v20h-3zM271 567h3v20h-3zM100 587h3v21h-3zM117 608h4v20h-4zM139 608h8v20h-8zM156 668h4v21h-4zM163 668h3v21h-3z"/>
<path fill="#9ca2e4" d="M320 466h3v20h-3zM251 486h3v20h-3zM169 506h4v21h-4zM300 527h5v20h-5zM318 547h2v20h-2zM206 567h4v20h-4zM212 567h4v20h-4zM251 567h3v20h-3zM278 567h3v20h-3zM139 587h4v21h-4z"/>
<path fill="#c64848" d="M38 486h4v20h-4zM65 486h2v20h-2zM49 506h4v21h-4zM114 527h3v20h-3z"/>
<path fill="#cc5454" d="M42 486h4v20h-4zM100 527h3v20h-3zM117 527h4v20h-4zM97 547h3v20h-3zM111 547h3v20h-3zM97 567h3v20h-3zM236 668h4v21h-4z"/>
<path fill="#c04242" d="M53 486h4v20h-4zM89 486h4v20h-4zM60 506h5v21h-5zM81 506h5v21h-5zM124 567h4v20h-4zM150 567h3v20h-3z"/>
<path fill="#c65454" d="M71 486h3v20h-3zM65 506h2v21h-2zM74 527h4v20h-4zM86 527h3v20h-3zM143 547h4v20h-4zM117 567h4v20h-4z"/>
<path fill="#cc6060" d="M81 486h5v20h-5zM38 527h8v20h-8zM53 527h4v20h-4zM65 527h2v20h-2zM71 527h3v20h-3zM89 527h4v20h-4zM107 527h4v20h-4zM153 547h3v20h-3zM139 567h4v20h-4zM311 608h3v20h-3zM251 628h3v20h-3zM274 628h4v20h-4zM289 628h8v20h-8zM300 668h5v21h-5zM327 668h3v21h-3z"/>
<path fill="#d27878" d="M100 486h3v20h-3zM107 506h4v21h-4zM57 547h3v20h-3zM251 587h3v21h-3zM281 587h4v21h-4zM308 587h3v21h-3zM330 587h4v21h-4zM210 608h2v20h-2zM219 608h4v20h-4zM274 608h4v20h-4zM300 608h5v20h-5zM212 628h4v20h-4zM338 628h3v20h-3zM338 648h3v20h-3zM226 668h4v21h-4zM263 668h3v21h-3z"/>
<path fill="#d27272" d="M111 486h3v20h-3zM100 506h3v21h-3zM150 506h3v21h-3zM60 527h5v20h-5zM128 527h3v20h-3zM71 547h3v20h-3zM100 547h3v20h-3zM297 587h3v21h-3zM236 608h4v20h-4zM318 608h2v20h-2zM334 608h4v20h-4zM210 628h2v20h-2zM318 628h2v20h-2zM223 648h3v20h-3zM271 668h3v21h-3z"/>
<path fill="#dec0c6" d="M114 486h3v20h-3z"/>
<path fill="#dea8a8" d="M131 486h3v20h-3zM139 506h4v21h-4zM60 547h5v20h-5zM254 587h4v21h-4zM263 587h3v21h-3zM311 587h3v21h-3zM188 608h3v20h-3zM206 608h4v20h-4zM226 608h4v20h-4zM285 608h4v20h-4zM258 628h5v20h-5zM243 648h5v20h-5zM212 668h4v21h-4z"/>
<path fill="#e4d8de" d="M153 486h7v20h-7zM173 567h4v20h-4zM199 628h4v20h-4zM203 648h3v20h-3z"/>
<path fill="#484ee4" d="M203 486h3v20h-3zM293 486h4v20h-4zM206 506h4v21h-4zM314 506h4v21h-4zM243 527h5v20h-5zM258 527h5v20h-5zM274 527h4v20h-4zM281 527h4v20h-4zM89 587h4v21h-4zM89 628h11v20h-11zM121 628h3v20h-3zM147 628h3v20h-3zM42 648h4v20h-4zM78 648h3v20h-3zM128 648h3v20h-3zM34 668h4v21h-4zM57 668h3v21h-3zM97 668h3v21h-3z"/>
<path fill="#8a8ae4" d="M226 486h4v20h-4z"/>
<path fill="#4e54e4" d="M248 486h3v20h-3zM254 527h4v20h-4zM327 527h3v20h-3zM124 628h7v20h-7zM153 628h3v20h-3zM124 648h4v20h-4zM150 648h3v20h-3zM38 668h4v21h-4zM89 668h8v21h-8zM111 668h3v21h-3zM139 668h4v21h-4zM153 668h3v21h-3z"/>
<path fill="#4854e4" d="M254 486h4v20h-4zM263 506h3v21h-3zM107 628h4v20h-4zM131 628h3v20h-3zM143 628h4v20h-4z"/>
<path fill="#4e5ae4" d="M258 486h5v20h-5zM305 486h3v20h-3zM243 506h5v21h-5zM278 527h3v20h-3zM305 527h3v20h-3zM65 628h2v20h-2zM53 648h4v20h-4zM60 648h5v20h-5zM71 648h3v20h-3zM46 668h3v21h-3zM100 668h3v21h-3z"/>
<path fill="#5a66e4" d="M278 486h3v20h-3zM338 506h3v21h-3zM266 547h5v20h-5zM293 547h4v20h-4zM330 547h4v20h-4zM97 608h3v20h-3zM49 648h4v20h-4zM65 648h2v20h-2zM139 648h4v20h-4zM114 668h3v21h-3zM121 668h3v21h-3z"/>
<path fill="#8a90e4" d="M318 486h2v20h-2zM248 506h3v21h-3zM311 506h3v21h-3zM320 506h3v21h-3zM191 527h3v20h-3zM188 547h3v20h-3zM248 547h6v20h-6zM236 567h4v20h-4zM134 587h5v21h-5zM153 587h3v21h-3zM100 608h3v20h-3zM131 608h3v20h-3zM147 668h3v21h-3z"/>
<path fill="#debaba" d="M117 506h4v21h-4zM143 506h7v21h-7zM166 567h3v20h-3zM166 587h3v21h-3zM233 587h3v21h-3zM323 587h4v21h-4zM169 608h4v20h-4zM177 608h4v20h-4zM278 668h3v21h-3z"/>
<path fill="#debac0" d="M121 506h3v21h-3zM206 587h4v21h-4zM177 628h4v20h-4z"/>
<path fill="#e4d8d8" d="M156 506h4v21h-4z"/>
<path fill="#424ee4" d="M233 506h3v21h-3zM223 527h3v20h-3zM330 527h4v20h-4zM38 628h4v20h-4zM111 628h3v20h-3z"/>
<path fill="#363cea" d="M240 506h3v21h-3zM86 608h3v20h-3zM49 628h4v20h-4z"/>
<path fill="#d26c6c" d="M67 527h4v20h-4zM78 527h8v20h-8zM89 547h4v20h-4zM191 587h3v21h-3zM258 587h5v21h-5zM278 628h3v20h-3zM327 628h7v20h-7zM248 648h3v20h-3zM311 648h3v20h-3zM320 648h3v20h-3zM289 668h8v21h-8zM314 668h4v21h-4z"/>
<path fill="#d26666" d="M103 527h4v20h-4zM131 527h3v20h-3zM117 547h4v20h-4zM139 547h4v20h-4zM230 628h3v20h-3zM305 628h9v20h-9zM323 628h4v20h-4zM334 628h4v20h-4zM323 668h4v21h-4z"/>
<path fill="#cc6666" d="M143 527h7v20h-7z"/>
<path fill="#4248e4" d="M263 527h3v20h-3zM338 527h3v20h-3zM57 628h8v20h-8zM78 628h8v20h-8zM100 628h3v20h-3zM150 628h3v20h-3zM134 648h5v20h-5zM107 668h4v21h-4z"/>
<path fill="#d2d2e4" d="M166 547h3v20h-3zM65 567h2v20h-2zM191 567h3v20h-3zM169 628h4v20h-4z"/>
<path fill="#d8d8e4" d="M169 547h4v20h-4zM38 567h4v20h-4zM160 628h3v20h-3zM160 648h3v20h-3zM203 668h3v21h-3z"/>
<path fill="#c6c0e4" d="M34 567h4v20h-4z"/>
<path fill="#ccc6e4" d="M57 567h3v20h-3zM114 608h3v20h-3z"/>
<path fill="#e4d2d2" d="M81 567h5v20h-5zM226 628h4v20h-4z"/>
<path fill="#d2cce4" d="M177 567h4v20h-4zM184 567h4v20h-4zM203 567h3v20h-3zM156 628h4v20h-4zM173 648h4v20h-4zM184 648h4v20h-4zM210 668h2v21h-2z"/>
<path fill="#3036ea" d="M34 587h4v21h-4zM74 587h4v21h-4zM86 587h3v21h-3zM89 608h4v20h-4z"/>
<path fill="#181eea" d="M38 587h4v21h-4zM65 587h2v21h-2zM42 608h4v20h-4z"/>
<path fill="#1e24ea" d="M42 587h4v21h-4zM78 587h3v21h-3zM46 608h3v20h-3zM60 608h5v20h-5z"/>
<path fill="#2a30ea" d="M46 587h3v21h-3zM53 587h4v21h-4zM71 587h3v21h-3zM65 608h2v20h-2z"/>
<path fill="#1e1eea" d="M49 587h4v21h-4zM49 608h4v20h-4z"/>
<path fill="#2a2aea" d="M57 587h3v21h-3z"/>
<path fill="#1212ea" d="M60 587h5v21h-5z"/>
<path fill="#1818ea" d="M67 587h4v21h-4zM53 608h4v20h-4zM78 608h8v20h-8z"/>
<path fill="#242aea" d="M81 587h5v21h-5zM38 608h4v20h-4zM71 608h7v20h-7zM93 608h4v20h-4z"/>
<path fill="#2424ea" d="M93 587h4v21h-4z"/>
<path fill="#deaeb4" d="M163 587h3v21h-3z"/>
<path fill="#dec6c6" d="M177 587h4v21h-4zM230 587h3v21h-3zM194 648h5v20h-5z"/>
<path fill="#dec0c0" d="M184 587h4v21h-4zM278 587h3v21h-3zM160 608h3v20h-3zM314 608h4v20h-4zM191 648h3v20h-3zM278 648h3v20h-3zM285 648h4v20h-4z"/>
<path fill="#dec6cc" d="M289 587h4v21h-4z"/>
<path fill="#0c0cea" d="M34 608h4v20h-4zM67 608h4v20h-4z"/>
<path fill="#3636ea" d="M57 608h3v20h-3z"/>
<path fill="#deb4ba" d="M254 608h4v20h-4z"/>
<path fill="#3c42e4" d="M42 628h4v20h-4zM34 648h4v20h-4zM143 648h4v20h-4zM78 668h8v21h-8z"/>
<path fill="#3c42ea" d="M53 628h4v20h-4z"/>
<path fill="#3c48e4" d="M67 628h4v20h-4z"/>
<path fill="#ded2d2" d="M166 628h3v20h-3zM191 628h3v20h-3z"/>
<path fill="#dedee4" d="M188 628h3v20h-3zM169 648h4v20h-4z"/>
<path fill="#decccc" d="M194 628h5v20h-5zM212 648h4v20h-4zM206 668h4v21h-4z"/>
<path fill="#b4bae4" d="M188 648h3v20h-3z"/>
</g>
<text x="174.5" y="231.0" font-size="9.35" fill="#111" stroke="#111" stroke-width="0.22">module-5 regulation of innate immune response</text>
<text x="174.5" y="241.0" font-size="9.35" fill="#111" stroke="#111" stroke-width="0.22">module-2 cellular response to chemical stimulus</text>
<text x="174.5" y="251.0" font-size="9.35" fill="#111" stroke="#111" stroke-width="0.22">module-2 response to cytokine</text>
<text x="174.5" y="261.0" font-size="9.35" fill="#111" stroke="#111" stroke-width="0.22">module-2 regulation of cytokine production</text>
<text x="174.5" y="271.0" font-size="9.35" fill="#111" stroke="#111" stroke-width="0.22">module-3 response to xenobiotic stimulus</text>
<text x="174.5" y="280.9" font-size="9.35" fill="#111" stroke="#111" stroke-width="0.22">module-3 regulation of cell death</text>
<text x="174.5" y="290.9" font-size="9.35" fill="#111" stroke="#111" stroke-width="0.22">module-7 cellular developmental process</text>
<text x="174.5" y="300.9" font-size="9.35" fill="#111" stroke="#111" stroke-width="0.22">module-1 positive regulation of MAPK cascade</text>
<text x="174.5" y="310.9" font-size="9.35" fill="#111" stroke="#111" stroke-width="0.22">module-1 positive regulation of transport</text>
<text x="174.5" y="320.9" font-size="9.35" fill="#111" stroke="#111" stroke-width="0.22">module-4 lipid biosynthetic process</text>
<text x="174.5" y="330.9" font-size="9.35" fill="#111" stroke="#111" stroke-width="0.22">module-4 import across plasma membrane</text>
<text x="174.5" y="340.9" font-size="9.35" fill="#111" stroke="#111" stroke-width="0.22">module-4 MHC class II protein complex assembly</text>
<text x="471.8" y="208.2" font-size="13" fill="#111" stroke="#111" stroke-width="0.22">D</text>
<text x="558.7" y="205.7" font-size="10.67" text-anchor="middle" fill="#111" stroke="#111" stroke-width="0.22">Top5 markers in the selected</text>
<text x="558.7" y="215.9" font-size="10.67" text-anchor="middle" fill="#111" stroke="#111" stroke-width="0.22">Biological Processes</text>
<path d="M485 221.4 L641 237 L485 237 Z" fill="none" stroke="#333" stroke-width="0.9"/>
<text x="488.5" y="233.3" font-size="10.4" fill="#111" stroke="#111" stroke-width="0.22">S1</text>
<text x="642.6" y="233.3" font-size="10.4" text-anchor="end" fill="#111" stroke="#111" stroke-width="0.22">AEC2b</text>
<rect x="485.10" y="241.20" width="31.20" height="6.80" fill="#3a8ef0"/>
<rect x="514.80" y="241.20" width="1.60" height="6.80" fill="#8ab8f4"/>
<rect x="516.40" y="241.20" width="30.60" height="6.80" fill="#e0e0e0"/>
<rect x="547.00" y="241.20" width="26.60" height="6.80" fill="#ff00ff"/>
<rect x="573.60" y="241.20" width="34.40" height="6.80" fill="#575457"/>
<rect x="576.50" y="241.20" width="0.80" height="6.80" fill="#ff00ff"/>
<rect x="580.60" y="241.20" width="1.30" height="6.80" fill="#ff00ff"/>
<rect x="583.50" y="241.20" width="0.80" height="6.80" fill="#ff00ff"/>
<rect x="585.30" y="241.20" width="1.00" height="6.80" fill="#ff00ff"/>
<rect x="608.00" y="241.20" width="32.50" height="6.80" fill="#ff2a2a"/>
<g transform="scale(.5)" shape-rendering="crispEdges">
<path fill="#ae1e1e" d="M970 500h15v17h-15zM990 500h3v17h-3zM997 500h11v17h-11zM1012 500h4v17h-4zM1019 500h4v17h-4zM981 517h4v17h-4zM1019 517h4v17h-4zM993 534h4v17h-4zM993 769h4v17h-4z"/>
<path fill="#b41e1e" d="M985 500h5v17h-5zM993 500h4v17h-4zM1008 500h4v17h-4zM1016 500h3v17h-3zM970 517h11v17h-11zM985 517h34v17h-34zM973 534h5v17h-5zM985 534h5v17h-5zM970 568h3v16h-3zM981 568h4v16h-4zM973 769h5v17h-5zM1016 769h3v17h-3z"/>
<path fill="#ba1e1e" d="M1023 500h4v17h-4zM970 534h3v17h-3zM978 534h7v17h-7zM1016 534h3v17h-3zM973 568h5v16h-5zM993 568h4v16h-4zM978 769h3v17h-3zM985 769h5v17h-5zM1004 769h4v17h-4zM1012 769h4v17h-4z"/>
<path fill="#c62424" d="M1027 500h3v17h-3zM1027 517h3v17h-3zM973 551h5v17h-5zM997 551h3v17h-3zM1016 551h3v17h-3zM997 584h3v17h-3zM1046 584h4v17h-4zM990 669h3v16h-3zM1042 669h4v16h-4zM970 753h3v16h-3zM985 753h8v16h-8zM1000 837h4v16h-4zM1034 837h4v16h-4zM985 971h5v17h-5z"/>
<path fill="#d24848" d="M1030 500h4v17h-4zM1000 551h4v17h-4zM990 584h3v17h-3zM1004 584h4v17h-4zM1027 584h3v17h-3zM1030 601h4v17h-4zM1023 618h4v17h-4zM981 635h4v17h-4zM1000 635h4v17h-4zM1008 635h4v17h-4zM1038 635h4v17h-4zM1012 669h4v16h-4zM1030 685h4v17h-4zM1058 685h3v17h-3zM993 753h4v16h-4zM1008 753h4v16h-4zM1000 853h4v17h-4zM1050 853h4v17h-4zM970 870h3v17h-3zM978 870h3v17h-3zM985 870h5v17h-5zM1004 870h4v17h-4zM1012 870h4v17h-4zM1019 870h4v17h-4zM1027 870h3v17h-3zM1076 870h4v17h-4zM973 887h5v17h-5zM997 887h3v17h-3zM1012 887h7v17h-7zM1046 887h4v17h-4zM1068 887h4v17h-4zM1076 887h4v17h-4zM1088 887h4v17h-4zM1042 904h4v17h-4zM981 921h4v17h-4zM1038 921h4v17h-4zM1088 921h4v17h-4zM993 954h4v17h-4zM978 971h3v17h-3zM1042 971h4v17h-4zM1038 1005h4v17h-4zM1061 1005h4v17h-4zM1109 1005h4v17h-4z"/>
<path fill="#d27878" d="M1034 500h4v17h-4zM1042 652h4v17h-4zM1023 702h4v17h-4zM1000 803h4v17h-4zM1084 870h4v17h-4zM1084 954h4v17h-4zM1272 1089h4v17h-4zM1212 1106h3v17h-3zM1258 1106h3v17h-3zM1212 1207h3v16h-3zM1250 1257h4v17h-4zM1272 1257h4v17h-4zM1190 1324h3v17h-3z"/>
<path fill="#d88a8a" d="M1038 500h4v17h-4zM1065 601h3v17h-3zM1046 635h4v17h-4zM1054 635h4v17h-4zM1061 635h4v17h-4zM1034 652h4v17h-4zM1050 652h4v17h-4zM1058 669h3v16h-3zM1068 669h4v16h-4zM1100 685h5v17h-5zM1038 702h4v17h-4zM997 736h3v17h-3zM1027 736h3v17h-3zM978 786h3v17h-3zM993 786h4v17h-4zM1072 803h4v17h-4zM973 820h5v17h-5zM1012 820h4v17h-4zM1096 837h4v16h-4zM1109 853h4v17h-4zM1038 904h4v17h-4zM1072 904h4v17h-4zM1092 904h4v17h-4zM1215 938h5v16h-5zM1080 954h4v17h-4zM1088 971h4v17h-4zM1034 988h4v17h-4zM1061 988h4v17h-4zM1072 988h4v17h-4zM1016 1022h3v16h-3zM1065 1038h3v17h-3zM1088 1038h4v17h-4zM1054 1072h4v17h-4zM1122 1089h4v17h-4zM1193 1089h5v17h-5zM1261 1089h7v17h-7zM1276 1089h3v17h-3zM1220 1106h2v17h-2zM1279 1106h2v17h-2zM1100 1123h5v16h-5zM1165 1123h4v16h-4zM1178 1123h4v16h-4zM1235 1123h4v16h-4zM1205 1139h7v17h-7zM1220 1139h2v17h-2zM1229 1156h3v17h-3zM1157 1173h4v17h-4zM1186 1173h4v17h-4zM1232 1173h3v17h-3zM1239 1173h3v17h-3zM1258 1173h3v17h-3zM1264 1173h4v17h-4zM1138 1190h4v17h-4zM1154 1190h3v17h-3zM1169 1190h4v17h-4zM1226 1190h3v17h-3zM1279 1190h2v17h-2zM1126 1207h5v16h-5zM1145 1207h4v16h-4zM1198 1207h3v16h-3zM1222 1207h4v16h-4zM1235 1207h4v16h-4zM1242 1207h4v16h-4zM1254 1207h4v16h-4zM1279 1207h2v16h-2zM1173 1240h5v17h-5zM1186 1240h4v17h-4zM1215 1240h5v17h-5zM1272 1240h7v17h-7zM1212 1257h8v17h-8zM1232 1257h3v17h-3zM1242 1257h4v17h-4zM1276 1257h3v17h-3zM1186 1274h7v17h-7zM1205 1274h4v17h-4zM1212 1274h8v17h-8zM1222 1274h4v17h-4zM1229 1274h3v17h-3zM1250 1274h4v17h-4zM1258 1274h3v17h-3zM1149 1291h5v16h-5zM1235 1291h4v16h-4zM1246 1291h4v16h-4zM1254 1291h4v16h-4zM1154 1307h3v17h-3zM1169 1307h4v17h-4zM1209 1307h3v17h-3zM1239 1307h3v17h-3zM1246 1307h4v17h-4zM1261 1307h11v17h-11zM1169 1324h4v17h-4zM1239 1341h3v17h-3zM1268 1341h4v17h-4zM1279 1341h2v17h-2zM1118 1358h4v17h-4zM1261 1358h7v17h-7zM1242 1375h4v17h-4zM1254 1375h4v17h-4zM1276 1375h3v17h-3zM1226 1425h6v17h-6zM1235 1425h4v17h-4zM1246 1425h4v17h-4zM1268 1425h4v17h-4zM1276 1425h3v17h-3zM1205 1442h4v17h-4zM1239 1442h3v17h-3zM1250 1442h8v17h-8zM1239 1459h3v17h-3zM1276 1459h3v17h-3zM1232 1476h3v16h-3zM1272 1476h9v16h-9zM1268 1492h4v17h-4z"/>
<path fill="#debaba" d="M1042 500h4v17h-4zM1050 500h4v17h-4zM1169 534h4v17h-4zM1215 534h5v17h-5zM1272 534h4v17h-4zM1080 551h4v17h-4zM1135 551h14v17h-14zM1205 551h4v17h-4zM1258 551h3v17h-3zM1038 568h4v16h-4zM1080 568h4v16h-4zM1205 568h4v16h-4zM1250 568h4v16h-4zM1264 568h4v16h-4zM1092 584h4v17h-4zM1096 601h9v17h-9zM1135 601h3v17h-3zM1201 601h8v17h-8zM1239 601h3v17h-3zM1058 618h3v17h-3zM1109 618h4v17h-4zM1276 618h3v17h-3zM1092 635h4v17h-4zM1229 652h3v17h-3zM1209 669h3v16h-3zM1222 669h4v16h-4zM1072 685h4v17h-4zM1122 685h4v17h-4zM985 702h8v17h-8zM997 702h3v17h-3zM1058 702h3v17h-3zM1190 719h3v17h-3zM981 736h4v17h-4zM1100 736h5v17h-5zM1165 736h4v17h-4zM1173 736h5v17h-5zM1186 736h4v17h-4zM1154 753h3v16h-3zM1109 769h4v17h-4zM1058 786h3v17h-3zM1068 786h4v17h-4zM1232 803h3v17h-3zM1261 803h3v17h-3zM1038 820h12v17h-12zM1126 820h5v17h-5zM1165 820h4v17h-4zM1261 820h3v17h-3zM1272 820h4v17h-4zM1118 837h4v16h-4zM1113 870h5v17h-5zM1068 904h4v17h-4zM1118 904h4v17h-4zM1173 904h5v17h-5zM973 938h5v16h-5zM1145 938h4v16h-4zM1118 988h4v17h-4zM1169 988h4v17h-4zM1178 988h4v17h-4zM1008 1022h4v16h-4zM978 1038h3v17h-3zM1004 1038h4v17h-4zM1023 1038h4v17h-4zM1072 1055h4v17h-4zM1084 1055h12v17h-12zM1058 1072h3v17h-3zM1068 1072h4v17h-4zM1109 1089h9v17h-9zM1242 1123h4v16h-4zM1096 1156h4v17h-4zM1105 1156h4v17h-4zM1135 1156h3v17h-3zM1242 1156h4v17h-4zM1113 1190h5v17h-5zM1142 1240h3v17h-3zM1193 1257h5v17h-5zM1100 1274h5v17h-5zM1138 1274h4v17h-4zM1096 1291h4v16h-4zM1126 1291h5v16h-5zM1169 1291h4v16h-4zM1100 1307h5v17h-5zM1118 1341h8v17h-8zM1165 1341h4v17h-4zM1076 1358h4v17h-4zM1122 1358h4v17h-4zM1109 1375h13v17h-13zM1142 1375h7v17h-7zM1126 1392h5v16h-5zM1138 1392h4v16h-4zM1149 1392h8v16h-8zM1173 1392h9v16h-9zM1186 1392h7v16h-7zM1205 1392h4v16h-4zM1109 1408h4v17h-4zM1142 1408h7v17h-7zM1161 1408h4v17h-4zM1178 1408h4v17h-4zM1220 1408h6v17h-6zM1250 1408h4v17h-4zM1135 1442h3v17h-3zM1109 1459h4v17h-4zM1131 1459h4v17h-4zM1096 1476h9v16h-9zM1109 1476h4v16h-4zM1154 1476h3v16h-3zM1100 1492h9v17h-9zM1126 1492h5v17h-5zM1135 1492h3v17h-3zM1145 1492h4v17h-4z"/>
<path fill="#dec6c6" d="M1046 500h4v17h-4zM1058 500h7v17h-7zM1157 500h4v17h-4zM1169 500h4v17h-4zM1190 500h3v17h-3zM1054 517h4v17h-4zM1061 517h4v17h-4zM1105 517h4v17h-4zM1142 517h3v17h-3zM1215 517h5v17h-5zM1242 517h4v17h-4zM1050 534h4v17h-4zM1065 534h3v17h-3zM1072 534h8v17h-8zM1096 534h9v17h-9zM1109 534h4v17h-4zM1201 534h4v17h-4zM1212 534h3v17h-3zM1232 534h3v17h-3zM1239 534h3v17h-3zM1264 534h8v17h-8zM1050 551h4v17h-4zM1068 551h8v17h-8zM1186 551h4v17h-4zM1246 551h4v17h-4zM1268 551h4v17h-4zM1276 551h3v17h-3zM1072 568h4v16h-4zM1118 568h4v16h-4zM1161 568h4v16h-4zM1169 568h9v16h-9zM1198 568h7v16h-7zM1215 568h5v16h-5zM1239 568h7v16h-7zM1122 601h4v17h-4zM1186 601h4v17h-4zM1215 601h5v17h-5zM1272 601h4v17h-4zM1096 618h4v17h-4zM1126 618h5v17h-5zM1084 635h4v17h-4zM1264 635h4v17h-4zM1023 652h4v17h-4zM1126 652h5v17h-5zM1100 669h5v16h-5zM1229 669h3v16h-3zM1235 669h4v16h-4zM1084 685h4v17h-4zM1061 702h4v17h-4zM1080 702h4v17h-4zM1105 736h8v17h-8zM1239 736h3v17h-3zM1096 753h4v16h-4zM1126 753h9v16h-9zM1157 753h4v16h-4zM1190 753h3v16h-3zM1058 769h3v17h-3zM1072 769h4v17h-4zM1092 769h4v17h-4zM1118 769h4v17h-4zM1126 769h5v17h-5zM1178 769h4v17h-4zM1201 769h8v17h-8zM1212 769h3v17h-3zM1264 769h4v17h-4zM1276 769h3v17h-3zM970 786h3v17h-3zM1076 786h4v17h-4zM985 820h8v17h-8zM1076 820h4v17h-4zM1226 820h3v17h-3zM1242 820h4v17h-4zM1254 820h4v17h-4zM1131 853h4v17h-4zM1142 853h3v17h-3zM1138 870h4v17h-4zM1113 904h5v17h-5zM1212 904h3v17h-3zM1242 904h4v17h-4zM1254 904h4v17h-4zM1261 904h3v17h-3zM970 938h3v16h-3zM1100 938h9v16h-9zM1118 938h4v16h-4zM1118 971h4v17h-4zM1157 971h4v17h-4zM1100 988h5v17h-5zM1113 988h5v17h-5zM1122 988h4v17h-4zM970 1022h3v16h-3zM1004 1022h4v16h-4zM1046 1022h8v16h-8zM1058 1022h3v16h-3zM1076 1022h4v16h-4zM1000 1038h4v17h-4zM1027 1038h3v17h-3zM1135 1038h3v17h-3zM973 1055h5v17h-5zM981 1055h4v17h-4zM1030 1055h8v17h-8zM1042 1055h4v17h-4zM981 1072h4v17h-4zM1027 1072h3v17h-3zM1198 1072h3v17h-3zM1165 1156h4v17h-4zM1126 1190h5v17h-5zM1061 1223h4v17h-4zM1126 1223h5v17h-5zM1205 1223h4v17h-4zM1229 1223h3v17h-3zM1100 1358h5v17h-5zM1109 1358h4v17h-4zM1096 1375h4v17h-4zM1105 1375h4v17h-4zM1096 1392h4v16h-4zM1105 1392h8v16h-8zM1131 1392h4v16h-4zM1105 1408h4v17h-4zM1122 1408h4v17h-4z"/>
<path fill="#decccc" d="M1054 500h4v17h-4zM1065 500h23v17h-23zM1092 500h4v17h-4zM1100 500h5v17h-5zM1118 500h8v17h-8zM1131 500h7v17h-7zM1142 500h3v17h-3zM1149 500h5v17h-5zM1161 500h8v17h-8zM1173 500h17v17h-17zM1193 500h5v17h-5zM1201 500h8v17h-8zM1220 500h2v17h-2zM1226 500h3v17h-3zM1232 500h3v17h-3zM1239 500h7v17h-7zM1250 500h8v17h-8zM1261 500h3v17h-3zM1272 500h4v17h-4zM1050 517h4v17h-4zM1058 517h3v17h-3zM1068 517h8v17h-8zM1080 517h12v17h-12zM1096 517h4v17h-4zM1113 517h22v17h-22zM1157 517h8v17h-8zM1169 517h13v17h-13zM1186 517h4v17h-4zM1193 517h5v17h-5zM1201 517h4v17h-4zM1220 517h2v17h-2zM1232 517h3v17h-3zM1239 517h3v17h-3zM1258 517h23v17h-23zM1058 534h7v17h-7zM1068 534h4v17h-4zM1088 534h4v17h-4zM1113 534h9v17h-9zM1135 534h3v17h-3zM1149 534h5v17h-5zM1182 534h4v17h-4zM1198 534h3v17h-3zM1254 534h7v17h-7zM1061 551h4v17h-4zM1084 551h4v17h-4zM1100 551h5v17h-5zM1109 551h4v17h-4zM1122 551h9v17h-9zM1157 551h4v17h-4zM1173 551h5v17h-5zM1182 551h4v17h-4zM1198 551h3v17h-3zM1215 551h5v17h-5zM1226 551h3v17h-3zM1272 551h4v17h-4zM1042 568h4v16h-4zM1050 568h4v16h-4zM1088 568h8v16h-8zM1122 568h4v16h-4zM1131 568h7v16h-7zM1182 568h4v16h-4zM1232 568h3v16h-3zM1246 568h4v16h-4zM1138 601h4v17h-4zM1149 601h5v17h-5zM1246 601h4v17h-4zM1258 601h3v17h-3zM1264 601h4v17h-4zM1118 618h4v17h-4zM1165 618h4v17h-4zM1212 618h8v17h-8zM1264 618h4v17h-4zM1092 652h4v17h-4zM1113 652h5v17h-5zM1138 652h4v17h-4zM1226 652h3v17h-3zM1096 669h4v16h-4zM1105 669h4v16h-4zM1113 669h5v16h-5zM1135 669h3v16h-3zM1157 669h4v16h-4zM1173 669h5v16h-5zM1182 669h4v16h-4zM1193 669h5v16h-5zM1205 669h4v16h-4zM1264 669h4v16h-4zM1080 685h4v17h-4zM1088 685h4v17h-4zM1142 685h3v17h-3zM1232 685h3v17h-3zM1242 685h4v17h-4zM1261 685h3v17h-3zM1276 685h3v17h-3zM1193 702h5v17h-5zM1080 719h4v17h-4zM1088 719h4v17h-4zM1126 719h5v17h-5zM1165 719h4v17h-4zM1209 719h3v17h-3zM1268 719h4v17h-4zM1038 736h4v17h-4zM1092 736h4v17h-4zM1126 736h5v17h-5zM1142 736h3v17h-3zM1161 736h4v17h-4zM1209 736h11v17h-11zM1254 736h4v17h-4zM1264 736h4v17h-4zM1279 736h2v17h-2zM1100 753h5v16h-5zM1138 753h11v16h-11zM1165 753h4v16h-4zM1182 753h4v16h-4zM1250 753h4v16h-4zM1084 769h8v17h-8zM1096 769h9v17h-9zM1131 769h7v17h-7zM1142 769h3v17h-3zM1161 769h4v17h-4zM1190 769h3v17h-3zM1198 769h3v17h-3zM1215 769h5v17h-5zM1229 769h3v17h-3zM1268 769h4v17h-4zM1279 769h2v17h-2zM1100 786h5v17h-5zM1135 786h3v17h-3zM1222 786h4v17h-4zM1046 803h8v17h-8zM1058 803h3v17h-3zM1084 803h4v17h-4zM1092 803h4v17h-4zM1138 803h4v17h-4zM1193 803h5v17h-5zM1050 820h8v17h-8zM1061 820h4v17h-4zM1072 820h4v17h-4zM1084 820h4v17h-4zM1105 820h8v17h-8zM1145 820h9v17h-9zM1157 820h4v17h-4zM1193 820h5v17h-5zM1212 820h3v17h-3zM1220 820h6v17h-6zM1250 820h4v17h-4zM1258 820h3v17h-3zM1268 820h4v17h-4zM1113 837h5v16h-5zM1126 837h9v16h-9zM1138 837h4v16h-4zM1161 837h4v16h-4zM1201 837h4v16h-4zM1209 837h3v16h-3zM1145 853h4v17h-4zM1142 870h3v17h-3zM1149 870h5v17h-5zM1190 870h3v17h-3zM1100 887h5v17h-5zM1165 887h4v17h-4zM1126 904h5v17h-5zM1145 904h4v17h-4zM1157 904h4v17h-4zM1186 904h4v17h-4zM1222 904h17v17h-17zM1109 938h4v16h-4zM1229 938h3v16h-3zM1279 938h2v16h-2zM1092 954h13v17h-13zM1105 971h4v17h-4zM1113 971h5v17h-5zM1254 971h4v17h-4zM1193 988h5v17h-5zM985 1005h5v17h-5zM1154 1005h3v17h-3zM981 1022h4v16h-4zM1012 1022h4v16h-4zM1038 1022h4v16h-4zM1068 1022h4v16h-4zM1080 1022h4v16h-4zM1088 1022h4v16h-4zM1149 1022h5v16h-5zM981 1038h9v17h-9zM1016 1038h3v17h-3zM1058 1038h3v17h-3zM1096 1038h4v17h-4zM1113 1038h5v17h-5zM1209 1038h3v17h-3zM990 1055h3v17h-3zM1016 1055h3v17h-3zM1054 1055h4v17h-4zM1096 1055h4v17h-4zM1239 1055h3v17h-3zM970 1072h8v17h-8zM990 1072h3v17h-3zM997 1072h3v17h-3zM1012 1072h4v17h-4zM1023 1072h4v17h-4zM1030 1072h12v17h-12zM1105 1072h4v17h-4zM1138 1072h4v17h-4zM1154 1072h3v17h-3zM1276 1072h3v17h-3zM1092 1123h4v16h-4zM1118 1156h4v17h-4zM1126 1156h5v17h-5zM1157 1156h4v17h-4zM1088 1223h4v17h-4zM1246 1223h4v17h-4zM1019 1341h4v17h-4zM1054 1375h4v17h-4zM1126 1408h5v17h-5zM1135 1408h7v17h-7z"/>
<path fill="#deccd2" d="M1088 500h4v17h-4zM1154 500h3v17h-3zM1198 500h3v17h-3zM1229 500h3v17h-3zM1268 500h4v17h-4zM1182 517h4v17h-4zM1046 534h4v17h-4zM1142 534h3v17h-3zM1178 551h4v17h-4zM1232 551h3v17h-3zM1058 568h3v16h-3zM1182 601h4v17h-4zM1198 601h3v17h-3zM1072 618h4v17h-4zM1182 635h4v17h-4zM1242 669h4v16h-4zM1084 736h4v17h-4zM1261 736h3v17h-3zM1226 753h3v16h-3zM1276 753h3v16h-3zM1154 769h3v17h-3zM1193 769h5v17h-5zM1135 837h3v16h-3zM1149 904h5v17h-5zM1239 988h3v17h-3z"/>
<path fill="#ded2d2" d="M1096 500h4v17h-4zM1105 500h13v17h-13zM1126 500h5v17h-5zM1138 500h4v17h-4zM1145 500h4v17h-4zM1209 500h6v17h-6zM1222 500h4v17h-4zM1235 500h4v17h-4zM1246 500h4v17h-4zM1258 500h3v17h-3zM1264 500h4v17h-4zM1276 500h5v17h-5zM1065 517h3v17h-3zM1076 517h4v17h-4zM1092 517h4v17h-4zM1100 517h5v17h-5zM1109 517h4v17h-4zM1135 517h7v17h-7zM1145 517h4v17h-4zM1154 517h3v17h-3zM1165 517h4v17h-4zM1198 517h3v17h-3zM1205 517h10v17h-10zM1222 517h10v17h-10zM1235 517h4v17h-4zM1246 517h12v17h-12zM1122 534h9v17h-9zM1173 534h5v17h-5zM1190 534h3v17h-3zM1205 534h4v17h-4zM1220 534h2v17h-2zM1229 534h3v17h-3zM1235 534h4v17h-4zM1250 534h4v17h-4zM1276 534h5v17h-5zM1058 551h3v17h-3zM1092 551h4v17h-4zM1190 551h3v17h-3zM1201 551h4v17h-4zM1242 551h4v17h-4zM1250 551h4v17h-4zM1261 551h3v17h-3zM1068 568h4v16h-4zM1096 568h13v16h-13zM1138 568h7v16h-7zM1178 568h4v16h-4zM1186 568h12v16h-12zM1222 568h4v16h-4zM1229 568h3v16h-3zM1258 568h3v16h-3zM1276 568h3v16h-3zM1198 584h3v17h-3zM1209 584h3v17h-3zM1131 601h4v17h-4zM1173 601h5v17h-5zM1212 601h3v17h-3zM1220 601h2v17h-2zM1232 601h7v17h-7zM1250 601h4v17h-4zM1261 601h3v17h-3zM1084 618h4v17h-4zM1105 618h4v17h-4zM1131 618h4v17h-4zM1145 618h4v17h-4zM1161 618h4v17h-4zM1193 618h5v17h-5zM1246 618h4v17h-4zM1254 618h7v17h-7zM1068 635h4v17h-4zM1113 635h5v17h-5zM1126 635h9v17h-9zM1065 652h7v17h-7zM1142 652h3v17h-3zM1205 652h4v17h-4zM1246 652h8v17h-8zM1264 652h4v17h-4zM1109 669h4v16h-4zM1122 669h4v16h-4zM1138 669h4v16h-4zM1145 669h4v16h-4zM1178 669h4v16h-4zM1212 669h3v16h-3zM1226 669h3v16h-3zM1232 669h3v16h-3zM1239 669h3v16h-3zM1254 669h7v16h-7zM1268 669h4v16h-4zM1276 669h3v16h-3zM1118 685h4v17h-4zM1138 685h4v17h-4zM1182 685h4v17h-4zM1235 685h4v17h-4zM1165 702h8v17h-8zM1178 702h4v17h-4zM1261 702h3v17h-3zM1092 719h4v17h-4zM1100 719h5v17h-5zM1235 719h4v17h-4zM1261 719h3v17h-3zM1096 736h4v17h-4zM1113 736h5v17h-5zM1145 736h4v17h-4zM1154 736h3v17h-3zM1178 736h4v17h-4zM1193 736h8v17h-8zM1220 736h2v17h-2zM1226 736h6v17h-6zM1113 753h5v16h-5zM1173 753h5v16h-5zM1186 753h4v16h-4zM1193 753h5v16h-5zM1201 753h14v16h-14zM1222 753h4v16h-4zM1242 753h4v16h-4zM1268 753h4v16h-4zM1065 769h3v17h-3zM1122 769h4v17h-4zM1157 769h4v17h-4zM1182 769h4v17h-4zM1220 769h6v17h-6zM1239 769h7v17h-7zM1261 769h3v17h-3zM1072 786h4v17h-4zM1080 786h8v17h-8zM1173 786h5v17h-5zM1193 786h5v17h-5zM1215 786h5v17h-5zM1229 786h3v17h-3zM1113 803h5v17h-5zM1131 803h4v17h-4zM1154 803h3v17h-3zM1096 820h4v17h-4zM1135 820h3v17h-3zM1182 820h8v17h-8zM1198 820h3v17h-3zM1215 820h5v17h-5zM1235 820h4v17h-4zM1246 820h4v17h-4zM1264 820h4v17h-4zM1145 837h9v16h-9zM1173 837h5v16h-5zM1182 837h4v16h-4zM1239 837h7v16h-7zM1254 837h4v16h-4zM1161 870h4v17h-4zM1186 870h4v17h-4zM1193 870h5v17h-5zM1113 887h5v17h-5zM1122 887h4v17h-4zM1135 887h7v17h-7zM1193 887h5v17h-5zM1220 887h6v17h-6zM1169 904h4v17h-4zM1190 904h11v17h-11zM1205 904h4v17h-4zM1246 904h4v17h-4zM1268 904h4v17h-4zM1096 921h4v17h-4zM1113 938h5v16h-5zM1122 938h4v16h-4zM1135 938h3v16h-3zM1182 938h4v16h-4zM1201 938h4v16h-4zM1254 938h4v16h-4zM1261 938h3v16h-3zM1272 938h4v16h-4zM1193 954h5v17h-5zM1161 971h4v17h-4zM1250 971h4v17h-4zM1261 971h3v17h-3zM1109 988h4v17h-4zM1242 988h4v17h-4zM1149 1005h5v17h-5zM1161 1005h4v17h-4zM997 1022h3v16h-3zM1054 1022h4v16h-4zM1061 1022h4v16h-4zM1084 1022h4v16h-4zM1092 1022h8v16h-8zM1135 1022h3v16h-3zM1145 1022h4v16h-4zM1161 1022h4v16h-4zM1169 1022h9v16h-9zM1229 1022h3v16h-3zM1264 1022h4v16h-4zM973 1038h5v17h-5zM1118 1038h4v17h-4zM1161 1038h4v17h-4zM1205 1038h4v17h-4zM1215 1038h5v17h-5zM1232 1038h3v17h-3zM1246 1038h4v17h-4zM1264 1038h4v17h-4zM997 1055h11v17h-11zM1046 1055h4v17h-4zM1122 1055h4v17h-4zM1165 1055h8v17h-8zM1242 1055h4v17h-4zM1258 1055h3v17h-3zM1268 1055h4v17h-4zM978 1072h3v17h-3zM985 1072h5v17h-5zM1016 1072h3v17h-3zM1080 1072h4v17h-4zM1100 1072h5v17h-5zM1122 1072h4v17h-4zM1145 1072h4v17h-4zM1173 1072h5v17h-5zM1258 1072h3v17h-3zM1279 1072h2v17h-2zM1092 1358h4v17h-4z"/>
<path fill="#ded8d8" d="M1215 500h5v17h-5zM1054 534h4v17h-4zM1084 534h4v17h-4zM1154 534h7v17h-7zM1226 534h3v17h-3zM1161 551h4v17h-4zM1169 551h4v17h-4zM1222 551h4v17h-4zM1239 551h3v17h-3zM1254 551h4v17h-4zM1279 551h2v17h-2zM1046 568h4v16h-4zM1061 568h4v16h-4zM1084 568h4v16h-4zM1109 568h4v16h-4zM1145 568h4v16h-4zM1209 568h3v16h-3zM1261 568h3v16h-3zM1096 584h4v17h-4zM1279 584h2v17h-2zM1118 601h4v17h-4zM1145 601h4v17h-4zM1226 601h6v17h-6zM1279 601h2v17h-2zM1092 618h4v17h-4zM1138 618h7v17h-7zM1154 618h3v17h-3zM1178 618h4v17h-4zM1209 618h3v17h-3zM1235 618h7v17h-7zM1138 635h19v17h-19zM1186 635h4v17h-4zM1220 635h6v17h-6zM1229 635h3v17h-3zM1272 635h4v17h-4zM1084 652h4v17h-4zM1105 652h4v17h-4zM1135 652h3v17h-3zM1165 652h4v17h-4zM1118 669h4v16h-4zM1131 669h4v16h-4zM1154 669h3v16h-3zM1161 669h12v16h-12zM1198 669h7v16h-7zM1220 669h2v16h-2zM1272 669h4v16h-4zM1126 685h5v17h-5zM1161 685h4v17h-4zM1169 685h4v17h-4zM1198 685h3v17h-3zM1222 685h4v17h-4zM1239 685h3v17h-3zM1250 685h4v17h-4zM1258 685h3v17h-3zM1268 685h4v17h-4zM1088 702h4v17h-4zM1118 702h4v17h-4zM1138 702h4v17h-4zM1145 702h4v17h-4zM1198 702h3v17h-3zM1239 702h3v17h-3zM1246 702h4v17h-4zM1068 719h4v17h-4zM1109 719h4v17h-4zM1118 719h4v17h-4zM1131 719h4v17h-4zM1169 719h4v17h-4zM1182 719h8v17h-8zM1138 736h4v17h-4zM1149 736h5v17h-5zM1157 736h4v17h-4zM1169 736h4v17h-4zM1222 736h4v17h-4zM1235 736h4v17h-4zM1118 753h4v16h-4zM1149 753h5v16h-5zM1198 753h3v16h-3zM1232 753h3v16h-3zM1239 753h3v16h-3zM1246 753h4v16h-4zM1258 753h3v16h-3zM1264 753h4v16h-4zM1272 753h4v16h-4zM1279 753h2v16h-2zM1145 769h9v17h-9zM1169 769h4v17h-4zM1209 769h3v17h-3zM1232 769h7v17h-7zM1246 769h4v17h-4zM1254 769h7v17h-7zM1272 769h4v17h-4zM1092 786h4v17h-4zM1169 786h4v17h-4zM1165 803h4v17h-4zM1088 820h4v17h-4zM1131 820h4v17h-4zM1138 820h4v17h-4zM1209 820h3v17h-3zM1276 820h3v17h-3zM1154 837h7v16h-7zM1178 837h4v16h-4zM1220 837h2v16h-2zM1246 837h4v16h-4zM1268 837h4v16h-4zM1279 837h2v16h-2zM1165 870h13v17h-13zM1182 870h4v17h-4zM1209 870h6v17h-6zM1222 870h4v17h-4zM1242 870h8v17h-8zM1254 870h4v17h-4zM1261 870h7v17h-7zM1096 887h4v17h-4zM1118 887h4v17h-4zM1126 887h9v17h-9zM1142 887h3v17h-3zM1149 887h5v17h-5zM1161 887h4v17h-4zM1178 887h8v17h-8zM1209 887h3v17h-3zM1226 887h3v17h-3zM1239 887h3v17h-3zM1250 887h4v17h-4zM1109 904h4v17h-4zM1161 904h4v17h-4zM1215 904h5v17h-5zM1239 904h3v17h-3zM1264 904h4v17h-4zM1276 904h3v17h-3zM1165 921h4v17h-4zM1138 938h7v16h-7zM1154 938h3v16h-3zM1190 938h3v16h-3zM1205 938h4v16h-4zM1235 938h4v16h-4zM1258 938h3v16h-3zM1264 938h4v16h-4zM1109 954h4v17h-4zM1239 954h3v17h-3zM1122 971h9v17h-9zM1154 971h3v17h-3zM1229 971h3v17h-3zM1246 971h4v17h-4zM1264 971h8v17h-8zM1105 988h4v17h-4zM1131 988h7v17h-7zM1142 988h3v17h-3zM1161 988h4v17h-4zM1261 988h3v17h-3zM1276 988h3v17h-3zM1145 1005h4v17h-4zM1198 1005h3v17h-3zM1226 1005h3v17h-3zM1232 1005h3v17h-3zM1246 1005h4v17h-4zM1254 1005h4v17h-4zM1272 1005h4v17h-4zM985 1022h5v16h-5zM993 1022h4v16h-4zM1023 1022h4v16h-4zM1034 1022h4v16h-4zM1109 1022h9v16h-9zM1138 1022h7v16h-7zM1157 1022h4v16h-4zM1182 1022h8v16h-8zM1215 1022h5v16h-5zM1226 1022h3v16h-3zM1105 1038h4v17h-4zM1131 1038h4v17h-4zM1149 1038h8v17h-8zM1201 1038h4v17h-4zM1212 1038h3v17h-3zM1254 1038h4v17h-4zM970 1055h3v17h-3zM1068 1055h4v17h-4zM1100 1055h5v17h-5zM1154 1055h3v17h-3zM1161 1055h4v17h-4zM1182 1055h4v17h-4zM1201 1055h4v17h-4zM1235 1055h4v17h-4zM1246 1055h4v17h-4zM1272 1055h4v17h-4zM1000 1072h4v17h-4zM1019 1072h4v17h-4zM1109 1072h4v17h-4zM1135 1072h3v17h-3zM1165 1072h4v17h-4zM1178 1072h4v17h-4zM1193 1072h5v17h-5zM1261 1072h3v17h-3zM1092 1223h4v17h-4zM1092 1392h4v16h-4zM1092 1408h4v17h-4z"/>
<path fill="#c02424" d="M1023 517h4v17h-4zM1004 534h8v17h-8zM970 551h3v17h-3zM978 568h3v16h-3zM985 568h8v16h-8zM1012 568h4v16h-4zM970 769h3v17h-3zM981 769h4v17h-4zM990 769h3v17h-3zM997 769h7v17h-7zM1008 769h4v17h-4zM1019 769h8v17h-8zM981 870h4v17h-4z"/>
<path fill="#d25a5a" d="M1030 517h4v17h-4zM1012 551h4v17h-4zM1027 551h3v17h-3zM1264 551h4v17h-4zM1050 584h4v17h-4zM1076 584h4v17h-4zM985 635h5v17h-5zM970 652h3v17h-3zM1000 652h4v17h-4zM1023 669h4v16h-4zM1038 669h4v16h-4zM978 685h7v17h-7zM1008 702h4v17h-4zM985 719h5v17h-5zM985 736h5v17h-5zM1030 736h4v17h-4zM978 753h7v16h-7zM997 753h3v16h-3zM1019 753h4v16h-4zM1050 753h4v16h-4zM1012 786h4v17h-4zM1027 786h3v17h-3zM997 803h3v17h-3zM1012 803h4v17h-4zM1054 803h4v17h-4zM1016 837h3v16h-3zM1030 837h4v16h-4zM1080 837h4v16h-4zM1042 870h4v17h-4zM997 904h3v17h-3zM1034 904h4v17h-4zM970 921h3v17h-3zM990 921h3v17h-3zM1012 921h7v17h-7zM970 954h3v17h-3zM985 954h5v17h-5zM1027 954h3v17h-3zM1038 954h4v17h-4zM973 971h5v17h-5zM1012 971h4v17h-4zM1050 971h8v17h-8zM1042 1005h4v17h-4zM1076 1005h4v17h-4zM1092 1005h4v17h-4zM1100 1005h5v17h-5zM1239 1190h3v17h-3zM1212 1408h3v17h-3zM1261 1459h3v17h-3z"/>
<path fill="#d26c6c" d="M1034 517h4v17h-4zM1023 568h4v16h-4zM1054 618h4v17h-4zM993 635h4v17h-4zM1034 635h4v17h-4zM981 652h4v17h-4zM990 652h3v17h-3zM1008 652h8v17h-8zM1046 669h4v16h-4zM993 702h4v17h-4zM1027 702h3v17h-3zM1042 702h4v17h-4zM981 719h4v17h-4zM993 719h4v17h-4zM1004 719h4v17h-4zM1046 719h4v17h-4zM1050 786h4v17h-4zM981 803h4v17h-4zM970 820h3v17h-3zM970 837h3v16h-3zM997 837h3v16h-3zM1100 837h5v16h-5zM1072 870h4v17h-4zM973 904h8v17h-8zM1016 904h3v17h-3zM1027 904h3v17h-3zM1061 904h4v17h-4zM1088 904h4v17h-4zM985 938h5v16h-5zM1046 938h8v16h-8zM1072 938h4v16h-4zM1008 954h4v17h-4zM1019 954h4v17h-4zM985 988h5v17h-5zM1076 988h4v17h-4zM1068 1005h4v17h-4zM1080 1005h4v17h-4zM1126 1005h5v17h-5zM1205 1123h4v16h-4zM1264 1190h4v17h-4zM1118 1207h4v16h-4zM1229 1207h6v16h-6zM1264 1207h4v16h-4zM1242 1223h4v17h-4zM1109 1274h4v17h-4zM1250 1291h4v16h-4zM1209 1324h3v17h-3zM1215 1324h5v17h-5zM1229 1324h3v17h-3zM1261 1324h3v17h-3zM1246 1392h4v16h-4z"/>
<path fill="#d89c9c" d="M1038 517h4v17h-4zM1030 534h4v17h-4zM1149 551h5v17h-5zM1088 601h4v17h-4zM1042 618h4v17h-4zM1113 618h5v17h-5zM1229 618h3v17h-3zM1142 669h3v16h-3zM1016 702h3v17h-3zM1050 736h4v17h-4zM1076 736h4v17h-4zM978 820h3v17h-3zM1105 853h4v17h-4zM1122 870h4v17h-4zM1135 870h3v17h-3zM1080 904h4v17h-4zM1105 904h4v17h-4zM1096 938h4v16h-4zM1068 954h4v17h-4zM1096 971h4v17h-4zM1084 988h4v17h-4zM993 1038h4v17h-4zM1038 1038h4v17h-4zM1061 1055h4v17h-4zM1050 1072h4v17h-4zM1178 1089h8v17h-8zM1250 1089h4v17h-4zM1122 1106h4v17h-4zM1186 1106h4v17h-4zM1201 1106h4v17h-4zM1215 1106h5v17h-5zM1229 1106h3v17h-3zM1105 1123h8v16h-8zM1118 1123h4v16h-4zM1157 1123h4v16h-4zM1232 1123h3v16h-3zM1122 1139h4v17h-4zM1190 1139h3v17h-3zM1198 1139h3v17h-3zM1226 1139h3v17h-3zM1250 1139h4v17h-4zM1212 1156h3v17h-3zM1261 1156h3v17h-3zM1113 1173h5v17h-5zM1122 1173h9v17h-9zM1165 1173h4v17h-4zM1182 1173h4v17h-4zM1205 1173h4v17h-4zM1215 1173h5v17h-5zM1096 1190h4v17h-4zM1145 1190h4v17h-4zM1157 1190h4v17h-4zM1178 1190h4v17h-4zM1186 1190h7v17h-7zM1222 1190h4v17h-4zM1182 1207h4v16h-4zM1190 1207h3v16h-3zM1118 1223h8v17h-8zM1131 1223h4v17h-4zM1138 1223h4v17h-4zM1161 1223h8v17h-8zM1190 1223h3v17h-3zM1209 1223h3v17h-3zM1254 1223h4v17h-4zM1268 1223h11v17h-11zM1131 1240h4v17h-4zM1165 1240h4v17h-4zM1205 1240h10v17h-10zM1222 1240h4v17h-4zM1242 1240h8v17h-8zM1254 1240h4v17h-4zM1096 1257h4v17h-4zM1157 1257h4v17h-4zM1165 1257h4v17h-4zM1190 1257h3v17h-3zM1226 1257h3v17h-3zM1235 1257h4v17h-4zM1246 1257h4v17h-4zM1105 1274h4v17h-4zM1142 1274h3v17h-3zM1157 1274h4v17h-4zM1169 1274h4v17h-4zM1113 1291h5v16h-5zM1131 1291h4v16h-4zM1138 1291h4v16h-4zM1154 1291h3v16h-3zM1215 1291h5v16h-5zM1135 1307h3v17h-3zM1193 1307h5v17h-5zM1220 1307h2v17h-2zM1096 1324h4v17h-4zM1145 1324h4v17h-4zM1138 1341h4v17h-4zM1201 1341h4v17h-4zM1169 1358h4v17h-4zM1220 1358h2v17h-2zM1232 1358h3v17h-3zM1220 1375h2v17h-2zM1229 1375h3v17h-3zM1239 1375h3v17h-3zM1229 1392h3v16h-3zM1268 1392h11v16h-11zM1254 1408h4v17h-4zM1113 1425h5v17h-5zM1165 1425h8v17h-8zM1178 1425h4v17h-4zM1186 1425h4v17h-4zM1209 1425h3v17h-3zM1222 1425h4v17h-4zM1105 1442h4v17h-4zM1138 1442h4v17h-4zM1169 1442h4v17h-4zM1178 1442h4v17h-4zM1258 1442h3v17h-3zM1182 1459h4v17h-4zM1222 1459h10v17h-10zM1235 1459h4v17h-4zM1258 1459h3v17h-3zM1264 1459h4v17h-4zM1209 1476h6v16h-6zM1222 1476h4v16h-4zM1235 1476h4v16h-4zM1242 1476h8v16h-8zM1258 1476h3v16h-3zM1268 1476h4v16h-4zM1201 1492h4v17h-4zM1258 1492h6v17h-6zM1279 1492h2v17h-2z"/>
<path fill="#deb4b4" d="M1042 517h4v17h-4zM1261 534h3v17h-3zM1165 551h4v17h-4zM1209 551h3v17h-3zM1220 551h2v17h-2zM1076 568h4v16h-4zM1149 568h5v16h-5zM1092 601h4v17h-4zM1016 618h3v17h-3zM1068 618h4v17h-4zM1065 635h3v17h-3zM1165 635h4v17h-4zM1088 652h4v17h-4zM1088 669h4v16h-4zM1279 685h2v17h-2zM1068 702h4v17h-4zM1065 719h3v17h-3zM1072 736h4v17h-4zM1084 753h4v16h-4zM1178 753h4v16h-4zM1042 769h4v17h-4zM1050 769h4v17h-4zM1068 769h4v17h-4zM1080 769h4v17h-4zM1105 769h4v17h-4zM1065 786h3v17h-3zM1161 803h4v17h-4zM993 820h4v17h-4zM1178 820h4v17h-4zM1279 820h2v17h-2zM1109 837h4v16h-4zM1232 837h3v16h-3zM1126 870h5v17h-5zM1145 870h4v17h-4zM1076 904h4v17h-4zM1131 904h7v17h-7zM1142 904h3v17h-3zM1165 904h4v17h-4zM1201 904h4v17h-4zM1209 904h3v17h-3zM1279 904h2v17h-2zM993 988h4v17h-4zM970 1005h3v17h-3zM981 1005h4v17h-4zM993 1005h4v17h-4zM1000 1022h4v16h-4zM1030 1022h4v16h-4zM970 1038h3v17h-3zM990 1038h3v17h-3zM1008 1038h8v17h-8zM1046 1038h4v17h-4zM1061 1038h4v17h-4zM1076 1038h4v17h-4zM1092 1038h4v17h-4zM985 1055h5v17h-5zM1050 1055h4v17h-4zM1004 1072h4v17h-4zM1042 1072h8v17h-8zM1065 1072h3v17h-3zM1088 1072h4v17h-4zM1201 1089h4v17h-4zM1131 1106h4v17h-4zM1142 1106h3v17h-3zM1149 1106h5v17h-5zM1198 1106h3v17h-3zM1131 1123h4v16h-4zM1154 1123h3v16h-3zM1198 1123h3v16h-3zM1096 1139h4v17h-4zM1113 1139h9v17h-9zM1161 1139h4v17h-4zM1109 1156h4v17h-4zM1145 1156h4v17h-4zM1193 1156h5v17h-5zM1220 1156h2v17h-2zM1096 1173h4v17h-4zM1138 1173h4v17h-4zM1149 1173h5v17h-5zM1154 1223h7v17h-7zM1186 1223h4v17h-4zM1118 1240h4v17h-4zM1122 1257h4v17h-4zM1178 1257h4v17h-4zM1149 1274h5v17h-5zM1105 1291h4v16h-4zM1118 1291h4v16h-4zM1178 1291h4v16h-4zM1105 1307h4v17h-4zM1113 1307h5v17h-5zM1096 1341h9v17h-9zM1109 1341h9v17h-9zM1135 1341h3v17h-3zM1169 1341h4v17h-4zM1242 1341h4v17h-4zM1113 1358h5v17h-5zM1135 1358h14v17h-14zM1154 1358h3v17h-3zM1178 1358h4v17h-4zM1193 1358h5v17h-5zM1122 1375h4v17h-4zM1135 1375h3v17h-3zM1173 1375h13v17h-13zM1226 1375h3v17h-3zM1135 1392h3v16h-3zM1142 1392h3v16h-3zM1157 1392h4v16h-4zM1169 1392h4v16h-4zM1182 1392h4v16h-4zM1193 1392h5v16h-5zM1100 1408h5v17h-5zM1131 1408h4v17h-4zM1154 1408h3v17h-3zM1165 1408h4v17h-4zM1193 1408h8v17h-8zM1232 1408h3v17h-3zM1258 1408h3v17h-3zM1096 1425h4v17h-4zM1096 1459h4v17h-4zM1126 1459h5v17h-5zM1161 1459h4v17h-4zM1118 1476h4v16h-4zM1138 1476h7v16h-7zM1149 1476h5v16h-5zM1186 1476h4v16h-4zM1122 1492h4v17h-4zM1131 1492h4v17h-4zM1142 1492h3v17h-3zM1149 1492h5v17h-5zM1193 1492h8v17h-8zM1215 1492h5v17h-5zM1250 1492h4v17h-4z"/>
<path fill="#dec0c0" d="M1046 517h4v17h-4zM1131 534h4v17h-4zM1138 534h4v17h-4zM1145 534h4v17h-4zM1161 534h4v17h-4zM1186 534h4v17h-4zM1246 534h4v17h-4zM1042 551h8v17h-8zM1096 551h4v17h-4zM1131 551h4v17h-4zM1212 551h3v17h-3zM1235 551h4v17h-4zM1030 568h4v16h-4zM1154 568h3v16h-3zM1165 568h4v16h-4zM1122 584h4v17h-4zM1105 601h8v17h-8zM1165 601h4v17h-4zM1276 601h3v17h-3zM1080 618h4v17h-4zM1135 618h3v17h-3zM1198 618h3v17h-3zM1080 635h4v17h-4zM1215 635h5v17h-5zM1092 669h4v16h-4zM1190 669h3v16h-3zM1023 685h4v17h-4zM1076 685h4v17h-4zM1149 685h5v17h-5zM1186 685h4v17h-4zM1201 685h8v17h-8zM1076 702h4v17h-4zM1135 736h3v17h-3zM1232 736h3v17h-3zM1076 753h4v16h-4zM1092 753h4v16h-4zM1161 753h4v16h-4zM1038 769h4v17h-4zM1046 769h4v17h-4zM1061 769h4v17h-4zM1076 769h4v17h-4zM1113 769h5v17h-5zM1165 769h4v17h-4zM1173 769h5v17h-5zM1186 769h4v17h-4zM1226 769h3v17h-3zM1088 786h4v17h-4zM1109 786h4v17h-4zM1061 803h4v17h-4zM1076 803h8v17h-8zM1080 820h4v17h-4zM1113 820h5v17h-5zM1173 820h5v17h-5zM1201 820h4v17h-4zM1122 837h4v16h-4zM1142 837h3v16h-3zM1198 837h3v16h-3zM1138 904h4v17h-4zM1250 904h4v17h-4zM1100 971h5v17h-5zM1109 971h4v17h-4zM1235 988h4v17h-4zM1138 1005h4v17h-4zM1072 1022h4v16h-4zM997 1038h3v17h-3zM1019 1038h4v17h-4zM1019 1055h8v17h-8zM1038 1055h4v17h-4zM1058 1055h3v17h-3zM1065 1055h3v17h-3zM1076 1055h4v17h-4zM1186 1072h4v17h-4zM1161 1156h4v17h-4zM1198 1156h3v17h-3zM1084 1207h4v16h-4zM1027 1223h3v17h-3zM1096 1223h4v17h-4zM1215 1223h5v17h-5zM1080 1341h4v17h-4zM1105 1341h4v17h-4zM1126 1358h9v17h-9zM1149 1358h5v17h-5zM1173 1358h5v17h-5zM1100 1375h5v17h-5zM1126 1375h9v17h-9zM1138 1375h4v17h-4zM1149 1375h5v17h-5zM1190 1375h3v17h-3zM1100 1392h5v16h-5zM1113 1392h13v16h-13zM1165 1392h4v16h-4zM1096 1408h4v17h-4zM1113 1408h9v17h-9zM1157 1408h4v17h-4zM1173 1408h5v17h-5zM1122 1476h4v16h-4zM1096 1492h4v17h-4zM1109 1492h4v17h-4zM1118 1492h4v17h-4zM1138 1492h4v17h-4z"/>
<path fill="#ded2d8" d="M1149 517h5v17h-5zM1190 517h3v17h-3zM1178 534h4v17h-4zM1193 534h5v17h-5zM1209 534h3v17h-3zM1222 534h4v17h-4zM1113 551h5v17h-5zM1113 568h5v16h-5zM1190 584h3v17h-3zM1157 601h4v17h-4zM1209 601h3v17h-3zM1222 601h4v17h-4zM1254 601h4v17h-4zM1182 618h4v17h-4zM1201 618h4v17h-4zM1088 635h4v17h-4zM1054 652h4v17h-4zM1076 652h4v17h-4zM1173 652h5v17h-5zM1246 669h4v16h-4zM1096 685h4v17h-4zM1105 685h4v17h-4zM1254 685h4v17h-4zM1178 719h4v17h-4zM1131 736h4v17h-4zM1242 736h4v17h-4zM1276 736h3v17h-3zM1220 753h2v16h-2zM1229 753h3v16h-3zM1254 753h4v16h-4zM1068 820h4v17h-4zM1190 820h3v17h-3zM1232 820h3v17h-3zM1239 820h3v17h-3zM1157 870h4v17h-4zM1109 887h4v17h-4zM1145 887h4v17h-4zM1258 887h3v17h-3zM1272 887h4v17h-4zM1154 904h3v17h-3zM1268 938h4v16h-4zM1205 954h4v17h-4zM1145 988h4v17h-4zM1246 988h4v17h-4zM1264 988h4v17h-4zM1019 1022h4v16h-4zM1232 1022h3v16h-3zM1250 1022h4v16h-4zM1268 1038h4v17h-4zM993 1055h4v17h-4zM1118 1055h4v17h-4zM1178 1055h4v17h-4zM970 1408h3v17h-3zM1030 1492h4v17h-4z"/>
<path fill="#cc3c3c" d="M990 534h3v17h-3zM981 551h4v17h-4zM1004 551h4v17h-4zM1019 551h4v17h-4zM997 568h3v16h-3zM1034 584h8v17h-8zM1058 584h3v17h-3zM1084 584h4v17h-4zM981 601h4v17h-4zM1016 601h7v17h-7zM1023 635h4v17h-4zM1004 669h4v16h-4zM973 685h5v17h-5zM1012 736h4v17h-4zM1016 753h3v16h-3zM1023 753h7v16h-7zM981 837h4v16h-4zM1042 837h4v16h-4zM1050 837h4v16h-4zM1065 837h3v16h-3zM1076 837h4v16h-4zM1084 837h8v16h-8zM970 853h3v17h-3zM1027 853h3v17h-3zM1042 853h4v17h-4zM1038 870h4v17h-4zM1061 870h4v17h-4zM990 887h3v17h-3zM1004 921h4v17h-4zM1050 921h4v17h-4zM1072 921h4v17h-4zM1038 938h4v16h-4zM997 954h3v17h-3zM1012 954h4v17h-4zM1000 971h4v17h-4zM1054 1005h4v17h-4z"/>
<path fill="#c62a2a" d="M997 534h3v17h-3zM1004 568h4v16h-4zM973 584h5v17h-5zM993 584h4v17h-4zM1080 584h4v17h-4zM1004 601h4v17h-4zM978 635h3v17h-3zM1016 669h3v16h-3zM1000 753h4v16h-4zM973 803h5v17h-5zM973 837h5v16h-5zM1023 837h4v16h-4zM1068 837h4v16h-4zM973 870h5v17h-5zM970 887h3v17h-3zM978 887h3v17h-3z"/>
<path fill="#cc2a2a" d="M1000 534h4v17h-4zM1012 534h4v17h-4zM1019 534h8v17h-8zM978 551h3v17h-3zM990 551h3v17h-3zM970 584h3v17h-3zM981 584h9v17h-9zM1016 584h3v17h-3zM1042 584h4v17h-4zM970 601h8v17h-8zM990 601h3v17h-3zM1000 601h4v17h-4zM1023 601h4v17h-4zM973 635h5v17h-5zM990 635h3v17h-3zM1042 635h4v17h-4zM973 652h5v17h-5zM997 652h3v17h-3zM1027 652h3v17h-3zM978 669h3v16h-3zM997 669h3v16h-3zM1008 669h4v16h-4zM1027 669h3v16h-3zM985 685h5v17h-5zM1038 685h4v17h-4zM993 736h4v17h-4zM1004 736h4v17h-4zM973 753h5v16h-5zM1012 753h4v16h-4zM1046 753h4v16h-4zM1027 769h3v17h-3zM1038 803h4v17h-4zM985 837h5v16h-5zM993 837h4v16h-4zM1004 837h4v16h-4zM1038 837h4v16h-4zM1061 837h4v16h-4zM1092 837h4v16h-4zM981 853h4v17h-4zM990 853h3v17h-3zM1004 853h4v17h-4zM1012 853h4v17h-4zM1023 853h4v17h-4zM1030 853h4v17h-4zM1038 853h4v17h-4zM1058 853h3v17h-3zM1080 853h4v17h-4zM1008 870h4v17h-4zM981 887h4v17h-4zM1000 887h8v17h-8zM1027 887h7v17h-7zM1038 887h4v17h-4zM1050 887h4v17h-4zM978 921h3v17h-3zM1019 921h4v17h-4zM1023 938h4v16h-4zM1000 954h4v17h-4zM1016 954h3v17h-3zM1072 954h4v17h-4zM1019 971h4v17h-4zM1046 971h4v17h-4zM1076 971h4v17h-4zM1072 1005h4v17h-4zM1096 1005h4v17h-4z"/>
<path fill="#d26060" d="M1027 534h3v17h-3zM985 551h5v17h-5zM993 601h4v17h-4zM1034 601h12v17h-12zM1008 618h4v17h-4zM1019 618h4v17h-4zM1016 635h3v17h-3zM985 652h5v17h-5zM990 685h3v17h-3zM970 719h3v17h-3zM978 719h3v17h-3zM978 736h3v17h-3zM1023 736h4v17h-4zM1038 786h4v17h-4zM970 803h3v17h-3zM990 803h3v17h-3zM1023 803h4v17h-4zM1027 837h3v16h-3zM1054 853h4v17h-4zM1046 870h4v17h-4zM1054 870h4v17h-4zM1019 887h4v17h-4zM985 904h5v17h-5zM1004 904h4v17h-4zM1054 904h7v17h-7zM1042 921h4v17h-4zM1061 921h4v17h-4zM1076 921h4v17h-4zM1008 938h4v16h-4zM1019 938h4v16h-4zM1080 938h8v16h-8zM981 954h4v17h-4zM1042 954h4v17h-4zM981 971h4v17h-4zM1105 1005h4v17h-4zM1264 1106h4v17h-4zM1279 1156h2v17h-2zM1264 1324h4v17h-4zM1276 1324h3v17h-3zM1096 1358h4v17h-4z"/>
<path fill="#d27272" d="M1034 534h4v17h-4zM985 618h5v17h-5zM993 618h4v17h-4zM1050 635h4v17h-4zM1019 652h4v17h-4zM997 685h3v17h-3zM1012 719h7v17h-7zM1050 719h4v17h-4zM973 736h5v17h-5zM1008 736h4v17h-4zM1080 753h4v16h-4zM981 786h4v17h-4zM1034 803h4v17h-4zM1016 870h3v17h-3zM1065 904h3v17h-3zM1076 938h4v16h-4zM973 954h5v17h-5zM1023 954h4v17h-4zM1065 971h3v17h-3zM973 988h5v17h-5zM997 988h3v17h-3zM1023 988h4v17h-4zM1042 988h8v17h-8zM1068 988h4v17h-4zM1246 1106h4v17h-4zM1261 1106h3v17h-3zM1264 1123h4v16h-4zM1279 1123h2v16h-2zM1239 1156h3v17h-3zM1276 1156h3v17h-3zM1242 1173h4v17h-4zM1232 1190h3v17h-3zM1258 1190h3v17h-3zM1250 1207h4v16h-4zM1169 1223h4v17h-4zM1201 1240h4v17h-4zM1258 1257h6v17h-6zM1226 1307h3v17h-3zM1232 1307h3v17h-3zM1254 1307h7v17h-7zM1276 1307h3v17h-3zM1178 1324h8v17h-8zM1235 1324h4v17h-4zM1268 1324h4v17h-4z"/>
<path fill="#d8a8a8" d="M1038 534h4v17h-4zM1034 551h4v17h-4zM1105 551h4v17h-4zM1272 568h4v16h-4zM1076 601h8v17h-8zM1046 618h4v17h-4zM1076 618h4v17h-4zM1072 652h4v17h-4zM1109 652h4v17h-4zM1072 669h4v16h-4zM1084 669h4v16h-4zM1030 702h4v17h-4zM1065 702h3v17h-3zM1072 702h4v17h-4zM1084 719h4v17h-4zM1019 736h4v17h-4zM1034 736h4v17h-4zM1088 736h4v17h-4zM1205 736h4v17h-4zM1072 753h4v16h-4zM1000 820h4v17h-4zM1008 820h4v17h-4zM1023 820h4v17h-4zM1118 820h4v17h-4zM1154 820h3v17h-3zM1122 853h4v17h-4zM1135 853h3v17h-3zM1109 870h4v17h-4zM1178 904h4v17h-4zM1027 988h3v17h-3zM973 1005h5v17h-5zM1000 1005h4v17h-4zM1016 1005h3v17h-3zM1135 1005h3v17h-3zM1068 1038h4v17h-4zM1135 1089h7v17h-7zM1154 1089h7v17h-7zM1169 1089h4v17h-4zM1186 1089h4v17h-4zM1229 1089h3v17h-3zM1239 1089h3v17h-3zM1190 1106h3v17h-3zM1126 1123h5v16h-5zM1193 1123h5v16h-5zM1100 1139h5v17h-5zM1109 1139h4v17h-4zM1126 1139h12v17h-12zM1169 1139h4v17h-4zM1201 1139h4v17h-4zM1222 1139h4v17h-4zM1276 1139h3v17h-3zM1100 1156h5v17h-5zM1131 1156h4v17h-4zM1138 1156h4v17h-4zM1215 1156h5v17h-5zM1250 1156h8v17h-8zM1118 1173h4v17h-4zM1173 1173h5v17h-5zM1272 1173h4v17h-4zM1100 1190h9v17h-9zM1173 1190h5v17h-5zM1268 1190h4v17h-4zM1096 1207h9v16h-9zM1113 1207h5v16h-5zM1100 1223h9v17h-9zM1142 1223h3v17h-3zM1232 1223h3v17h-3zM1261 1223h3v17h-3zM1279 1223h2v17h-2zM1109 1240h4v17h-4zM1154 1240h3v17h-3zM1190 1240h3v17h-3zM1250 1240h4v17h-4zM1118 1257h4v17h-4zM1131 1257h4v17h-4zM1149 1257h5v17h-5zM1096 1274h4v17h-4zM1135 1274h3v17h-3zM1161 1274h4v17h-4zM1173 1274h5v17h-5zM1246 1274h4v17h-4zM1109 1291h4v16h-4zM1122 1291h4v16h-4zM1135 1291h3v16h-3zM1173 1291h5v16h-5zM1201 1291h4v16h-4zM1226 1291h3v16h-3zM1096 1307h4v17h-4zM1109 1307h4v17h-4zM1118 1307h4v17h-4zM1126 1307h5v17h-5zM1142 1307h3v17h-3zM1157 1324h4v17h-4zM1126 1341h9v17h-9zM1142 1341h15v17h-15zM1161 1341h4v17h-4zM1173 1341h5v17h-5zM1182 1341h4v17h-4zM1205 1341h7v17h-7zM1190 1358h3v17h-3zM1201 1358h4v17h-4zM1209 1358h3v17h-3zM1229 1358h3v17h-3zM1246 1358h8v17h-8zM1193 1375h8v17h-8zM1205 1375h4v17h-4zM1212 1375h3v17h-3zM1250 1375h4v17h-4zM1212 1392h3v16h-3zM1222 1392h4v16h-4zM1232 1392h3v16h-3zM1242 1392h4v16h-4zM1149 1408h5v17h-5zM1169 1408h4v17h-4zM1190 1408h3v17h-3zM1239 1408h3v17h-3zM1268 1408h4v17h-4zM1100 1425h13v17h-13zM1118 1425h24v17h-24zM1145 1425h9v17h-9zM1161 1425h4v17h-4zM1096 1442h9v17h-9zM1109 1442h9v17h-9zM1122 1442h4v17h-4zM1154 1442h11v17h-11zM1186 1442h4v17h-4zM1118 1459h8v17h-8zM1135 1459h7v17h-7zM1157 1459h4v17h-4zM1169 1459h4v17h-4zM1178 1459h4v17h-4zM1186 1459h4v17h-4zM1193 1459h5v17h-5zM1215 1459h5v17h-5zM1165 1476h13v16h-13zM1182 1476h4v16h-4zM1198 1476h3v16h-3zM1215 1476h5v16h-5zM1226 1476h3v16h-3zM1113 1492h5v17h-5zM1165 1492h4v17h-4zM1178 1492h8v17h-8zM1205 1492h4v17h-4zM1226 1492h3v17h-3zM1239 1492h3v17h-3zM1254 1492h4v17h-4zM1276 1492h3v17h-3z"/>
<path fill="#d8a2a2" d="M1042 534h4v17h-4zM1065 551h3v17h-3zM1154 551h3v17h-3zM1034 568h4v16h-4zM1088 584h4v17h-4zM1084 601h4v17h-4zM1142 601h3v17h-3zM1072 635h4v17h-4zM1061 652h4v17h-4zM1080 669h4v16h-4zM1261 669h3v16h-3zM1000 685h4v17h-4zM1065 685h3v17h-3zM997 719h3v17h-3zM1000 736h4v17h-4zM1080 736h4v17h-4zM1054 786h4v17h-4zM997 820h3v17h-3zM1034 820h4v17h-4zM1105 837h4v16h-4zM1100 870h9v17h-9zM1100 904h5v17h-5zM1122 904h4v17h-4zM1092 938h4v16h-4zM1023 1005h4v17h-4zM1034 1005h4v17h-4zM1030 1038h8v17h-8zM1061 1072h4v17h-4zM1072 1072h4v17h-4zM1084 1072h4v17h-4zM1126 1089h5v17h-5zM1142 1089h7v17h-7zM1161 1089h4v17h-4zM1209 1089h3v17h-3zM1215 1089h5v17h-5zM1222 1089h4v17h-4zM1232 1089h7v17h-7zM1279 1089h2v17h-2zM1100 1106h5v17h-5zM1118 1106h4v17h-4zM1113 1123h5v16h-5zM1135 1123h3v16h-3zM1149 1123h5v16h-5zM1186 1123h7v16h-7zM1239 1123h3v16h-3zM1246 1123h4v16h-4zM1149 1139h5v17h-5zM1157 1139h4v17h-4zM1178 1139h12v17h-12zM1193 1139h5v17h-5zM1235 1139h4v17h-4zM1261 1139h3v17h-3zM1268 1139h4v17h-4zM1113 1156h5v17h-5zM1178 1156h4v17h-4zM1186 1156h7v17h-7zM1205 1156h4v17h-4zM1222 1156h4v17h-4zM1258 1156h3v17h-3zM1142 1173h3v17h-3zM1169 1173h4v17h-4zM1193 1173h5v17h-5zM1201 1173h4v17h-4zM1220 1173h2v17h-2zM1109 1190h4v17h-4zM1142 1190h3v17h-3zM1182 1190h4v17h-4zM1201 1207h4v16h-4zM1276 1207h3v16h-3zM1113 1223h5v17h-5zM1135 1223h3v17h-3zM1145 1223h4v17h-4zM1182 1223h4v17h-4zM1193 1223h5v17h-5zM1226 1223h3v17h-3zM1250 1223h4v17h-4zM1258 1223h3v17h-3zM1122 1240h4v17h-4zM1145 1240h4v17h-4zM1157 1240h4v17h-4zM1182 1240h4v17h-4zM1229 1240h3v17h-3zM1279 1240h2v17h-2zM1100 1257h5v17h-5zM1161 1257h4v17h-4zM1209 1257h3v17h-3zM1122 1274h9v17h-9zM1165 1274h4v17h-4zM1201 1274h4v17h-4zM1100 1291h5v16h-5zM1145 1291h4v16h-4zM1157 1291h4v16h-4zM1205 1291h7v16h-7zM1232 1291h3v16h-3zM1131 1307h4v17h-4zM1157 1307h4v17h-4zM1173 1307h5v17h-5zM1212 1307h3v17h-3zM1229 1307h3v17h-3zM1100 1324h5v17h-5zM1126 1324h5v17h-5zM1173 1324h5v17h-5zM1157 1341h4v17h-4zM1186 1341h12v17h-12zM1212 1341h3v17h-3zM1222 1341h4v17h-4zM1229 1341h3v17h-3zM1254 1341h4v17h-4zM1264 1341h4v17h-4zM1272 1341h4v17h-4zM1157 1358h8v17h-8zM1198 1358h3v17h-3zM1215 1358h5v17h-5zM1222 1358h4v17h-4zM1161 1375h4v17h-4zM1169 1375h4v17h-4zM1201 1375h4v17h-4zM1215 1375h5v17h-5zM1235 1375h4v17h-4zM1246 1375h4v17h-4zM1258 1375h3v17h-3zM1198 1392h3v16h-3zM1226 1392h3v16h-3zM1239 1392h3v16h-3zM1250 1392h11v16h-11zM1279 1392h2v16h-2zM1182 1408h4v17h-4zM1235 1408h4v17h-4zM1242 1408h4v17h-4zM1264 1408h4v17h-4zM1142 1425h3v17h-3zM1157 1425h4v17h-4zM1193 1425h5v17h-5zM1126 1442h9v17h-9zM1149 1442h5v17h-5zM1190 1442h3v17h-3zM1212 1442h3v17h-3zM1142 1459h3v17h-3zM1205 1459h10v17h-10zM1220 1459h2v17h-2zM1105 1476h4v16h-4zM1190 1476h3v16h-3zM1201 1476h4v16h-4zM1229 1476h3v16h-3zM1239 1476h3v16h-3zM1264 1476h4v16h-4zM1173 1492h5v17h-5zM1186 1492h4v17h-4zM1222 1492h4v17h-4zM1229 1492h3v17h-3zM1235 1492h4v17h-4zM1246 1492h4v17h-4z"/>
<path fill="#dedede" d="M1080 534h4v17h-4zM1126 568h5v16h-5zM1279 568h2v16h-2zM1100 584h5v17h-5zM1113 601h5v17h-5zM1126 601h5v17h-5zM1232 618h3v17h-3zM1268 618h4v17h-4zM1178 635h4v17h-4zM1201 635h4v17h-4zM1254 635h4v17h-4zM1100 652h5v17h-5zM1131 652h4v17h-4zM1145 652h9v17h-9zM1161 652h4v17h-4zM1198 652h3v17h-3zM1215 652h5v17h-5zM1186 669h4v16h-4zM1215 669h5v16h-5zM1109 685h4v17h-4zM1229 685h3v17h-3zM1100 702h5v17h-5zM1113 702h5v17h-5zM1135 702h3v17h-3zM1186 702h4v17h-4zM1205 702h4v17h-4zM1235 702h4v17h-4zM1264 702h4v17h-4zM1113 719h5v17h-5zM1138 719h4v17h-4zM1145 719h4v17h-4zM1154 719h3v17h-3zM1193 719h5v17h-5zM1222 719h4v17h-4zM1239 719h3v17h-3zM1250 719h4v17h-4zM1122 753h4v16h-4zM1215 753h5v16h-5zM1261 753h3v16h-3zM1138 786h4v17h-4zM1239 786h3v17h-3zM1105 803h4v17h-4zM1190 837h3v16h-3zM1205 837h4v16h-4zM1178 870h4v17h-4zM1198 870h7v17h-7zM1226 870h3v17h-3zM1232 870h3v17h-3zM1186 887h4v17h-4zM1205 887h4v17h-4zM1212 887h3v17h-3zM1254 887h4v17h-4zM1276 887h3v17h-3zM1182 904h4v17h-4zM1272 904h4v17h-4zM1182 921h4v17h-4zM1279 921h2v17h-2zM1149 938h5v16h-5zM1157 938h12v16h-12zM1212 938h3v16h-3zM1226 938h3v16h-3zM1232 938h3v16h-3zM1105 954h4v17h-4zM1135 971h3v17h-3zM1142 971h3v17h-3zM1169 971h4v17h-4zM1226 971h3v17h-3zM1149 988h5v17h-5zM1173 988h5v17h-5zM1182 988h4v17h-4zM1215 988h5v17h-5zM1229 988h3v17h-3zM1209 1005h6v17h-6zM1239 1005h7v17h-7zM1258 1005h3v17h-3zM1279 1005h2v17h-2zM973 1022h8v16h-8zM1105 1022h4v16h-4zM1131 1022h4v16h-4zM1212 1022h3v16h-3zM1222 1022h4v16h-4zM1239 1022h3v16h-3zM1190 1038h3v17h-3zM1198 1038h3v17h-3zM1222 1038h4v17h-4zM1272 1038h4v17h-4zM1109 1055h9v17h-9zM1126 1055h5v17h-5zM1149 1055h5v17h-5zM1198 1055h3v17h-3zM1215 1055h5v17h-5zM1222 1055h4v17h-4zM1264 1055h4v17h-4zM1279 1055h2v17h-2zM1008 1072h4v17h-4zM1161 1072h4v17h-4zM1205 1072h4v17h-4zM1212 1072h8v17h-8zM1232 1072h3v17h-3zM1272 1072h4v17h-4zM1092 1139h4v17h-4zM1061 1173h4v17h-4zM1092 1207h4v16h-4zM1012 1223h4v17h-4zM1050 1223h4v17h-4zM1092 1375h4v17h-4zM985 1408h5v17h-5zM997 1408h3v17h-3zM1027 1408h3v17h-3zM1046 1408h4v17h-4z"/>
<path fill="#ded8de" d="M1092 534h4v17h-4zM1242 534h4v17h-4zM1118 551h4v17h-4zM1054 568h4v16h-4zM1065 568h3v16h-3zM1235 568h4v16h-4zM1254 568h4v16h-4zM1268 568h4v16h-4zM1105 584h4v17h-4zM1161 601h4v17h-4zM1178 601h4v17h-4zM1190 601h3v17h-3zM1242 601h4v17h-4zM1268 601h4v17h-4zM1100 618h5v17h-5zM1122 618h4v17h-4zM1149 618h5v17h-5zM1173 618h5v17h-5zM1186 618h7v17h-7zM1205 618h4v17h-4zM1220 618h6v17h-6zM1250 618h4v17h-4zM1261 618h3v17h-3zM1279 618h2v17h-2zM1105 635h4v17h-4zM1118 635h4v17h-4zM1157 635h4v17h-4zM1169 635h4v17h-4zM1198 635h3v17h-3zM1242 635h4v17h-4zM1250 635h4v17h-4zM1276 635h3v17h-3zM1080 652h4v17h-4zM1118 652h4v17h-4zM1169 652h4v17h-4zM1178 652h4v17h-4zM1190 652h3v17h-3zM1220 652h6v17h-6zM1126 669h5v16h-5zM1149 669h5v16h-5zM1279 669h2v16h-2zM1092 685h4v17h-4zM1190 685h3v17h-3zM1212 685h3v17h-3zM1226 685h3v17h-3zM1084 702h4v17h-4zM1096 702h4v17h-4zM1142 702h3v17h-3zM1149 702h8v17h-8zM1201 702h4v17h-4zM1220 702h2v17h-2zM1272 702h4v17h-4zM1135 719h3v17h-3zM1157 719h8v17h-8zM1205 719h4v17h-4zM1246 719h4v17h-4zM1264 719h4v17h-4zM1276 719h3v17h-3zM1201 736h4v17h-4zM1246 736h4v17h-4zM1272 736h4v17h-4zM1105 753h8v16h-8zM1135 753h3v16h-3zM1169 753h4v16h-4zM1235 753h4v16h-4zM1138 769h4v17h-4zM1250 769h4v17h-4zM1105 786h4v17h-4zM1113 786h5v17h-5zM1209 786h3v17h-3zM1135 803h3v17h-3zM1190 803h3v17h-3zM1264 803h4v17h-4zM1092 820h4v17h-4zM1122 820h4v17h-4zM1142 820h3v17h-3zM1169 820h4v17h-4zM1205 820h4v17h-4zM1229 820h3v17h-3zM1169 837h4v16h-4zM1186 837h4v16h-4zM1193 837h5v16h-5zM1215 837h5v16h-5zM1226 837h6v16h-6zM1235 837h4v16h-4zM1261 837h7v16h-7zM1272 837h7v16h-7zM1149 853h8v17h-8zM1165 853h8v17h-8zM1209 853h3v17h-3zM1279 853h2v17h-2zM1205 870h4v17h-4zM1215 870h5v17h-5zM1272 870h7v17h-7zM1154 887h3v17h-3zM1169 887h4v17h-4zM1190 887h3v17h-3zM1198 887h3v17h-3zM1229 887h10v17h-10zM1246 887h4v17h-4zM1261 887h11v17h-11zM1220 904h2v17h-2zM1100 921h9v17h-9zM1113 921h9v17h-9zM1173 921h9v17h-9zM1173 938h9v16h-9zM1246 938h4v16h-4zM1145 954h4v17h-4zM1157 954h4v17h-4zM1173 954h5v17h-5zM1138 988h4v17h-4zM1142 1005h3v17h-3zM1182 1005h11v17h-11zM1215 1005h5v17h-5zM1222 1005h4v17h-4zM1264 1005h4v17h-4zM1276 1005h3v17h-3zM1100 1022h5v16h-5zM1118 1022h13v16h-13zM1165 1022h4v16h-4zM1178 1022h4v16h-4zM1198 1022h11v16h-11zM1246 1022h4v16h-4zM1268 1022h8v16h-8zM1165 1038h4v17h-4zM1178 1038h8v17h-8zM1226 1038h6v17h-6zM1235 1038h4v17h-4zM1250 1038h4v17h-4zM1279 1038h2v17h-2zM1105 1055h4v17h-4zM1135 1055h3v17h-3zM1142 1055h3v17h-3zM1186 1055h12v17h-12zM1205 1055h4v17h-4zM1212 1055h3v17h-3zM1232 1055h3v17h-3zM1276 1055h3v17h-3zM993 1072h4v17h-4zM1113 1072h5v17h-5zM1142 1072h3v17h-3zM1157 1072h4v17h-4zM1169 1072h4v17h-4zM1182 1072h4v17h-4zM1220 1072h12v17h-12zM1239 1072h3v17h-3zM1246 1072h4v17h-4zM1268 1072h4v17h-4zM1016 1106h3v17h-3zM997 1123h3v16h-3zM1076 1156h4v17h-4zM1092 1156h4v17h-4zM1092 1173h4v17h-4zM1065 1190h3v17h-3zM1092 1190h4v17h-4zM1092 1240h4v17h-4zM1068 1307h4v17h-4zM1092 1341h4v17h-4zM981 1408h4v17h-4zM1008 1408h8v17h-8zM1076 1408h4v17h-4zM1092 1442h4v17h-4zM1092 1476h4v16h-4zM1092 1492h4v17h-4z"/>
<path fill="#d8aeae" d="M1105 534h4v17h-4zM1027 568h3v16h-3zM1154 601h3v17h-3zM1169 601h4v17h-4zM1000 702h4v17h-4zM1173 719h5v17h-5zM1012 1055h4v17h-4zM1105 1089h4v17h-4zM1131 1089h4v17h-4zM1165 1089h4v17h-4zM1212 1123h3v16h-3zM1105 1139h4v17h-4zM1161 1240h4v17h-4zM1193 1240h5v17h-5zM1109 1257h4v17h-4zM1126 1257h5v17h-5zM1154 1257h3v17h-3zM1182 1274h4v17h-4zM1138 1307h4v17h-4zM1178 1341h4v17h-4zM1198 1341h3v17h-3zM1182 1358h8v17h-8zM1154 1375h3v17h-3zM1235 1392h4v16h-4zM1215 1408h5v17h-5zM1272 1408h4v17h-4zM1118 1442h4v17h-4zM1154 1459h3v17h-3zM1198 1459h3v17h-3zM1145 1476h4v16h-4zM1190 1492h3v17h-3z"/>
<path fill="#deaeae" d="M1165 534h4v17h-4zM1038 551h4v17h-4zM1054 551h4v17h-4zM1088 551h4v17h-4zM1157 568h4v16h-4zM1220 568h2v16h-2zM1076 635h4v17h-4zM1226 635h3v17h-3zM1038 652h4v17h-4zM1220 685h2v17h-2zM1076 719h4v17h-4zM1061 736h4v17h-4zM1065 753h3v16h-3zM1088 753h4v16h-4zM1054 769h4v17h-4zM1042 786h4v17h-4zM1061 786h4v17h-4zM1126 803h5v17h-5zM981 820h4v17h-4zM1058 820h3v17h-3zM1065 820h3v17h-3zM1126 853h5v17h-5zM1138 853h4v17h-4zM1118 870h4v17h-4zM1131 870h4v17h-4zM970 988h3v17h-3zM1088 988h4v17h-4zM1096 988h4v17h-4zM978 1005h3v17h-3zM1012 1005h4v17h-4zM1019 1005h4v17h-4zM1042 1022h4v16h-4zM1065 1022h3v16h-3zM1042 1038h4v17h-4zM1072 1038h4v17h-4zM1080 1038h8v17h-8zM1080 1055h4v17h-4zM1076 1072h4v17h-4zM1092 1072h4v17h-4zM1096 1089h9v17h-9zM1118 1089h4v17h-4zM1190 1089h3v17h-3zM1105 1106h4v17h-4zM1135 1106h3v17h-3zM1096 1123h4v16h-4zM1138 1123h4v16h-4zM1154 1139h3v17h-3zM1165 1139h4v17h-4zM1122 1156h4v17h-4zM1142 1156h3v17h-3zM1149 1156h8v17h-8zM1169 1156h9v17h-9zM1182 1156h4v17h-4zM1201 1156h4v17h-4zM1209 1156h3v17h-3zM1226 1156h3v17h-3zM1272 1156h4v17h-4zM1109 1173h4v17h-4zM1154 1173h3v17h-3zM1161 1173h4v17h-4zM1118 1190h8v17h-8zM1149 1190h5v17h-5zM1229 1190h3v17h-3zM1109 1223h4v17h-4zM1198 1223h3v17h-3zM1220 1223h2v17h-2zM1096 1240h13v17h-13zM1198 1240h3v17h-3zM1220 1240h2v17h-2zM1113 1257h5v17h-5zM1135 1257h7v17h-7zM1186 1257h4v17h-4zM1113 1274h9v17h-9zM1131 1274h4v17h-4zM1145 1274h4v17h-4zM1154 1274h3v17h-3zM1142 1291h3v16h-3zM1182 1291h8v16h-8zM1122 1307h4v17h-4zM1149 1307h5v17h-5zM1220 1341h2v17h-2zM1205 1358h4v17h-4zM1212 1358h3v17h-3zM1157 1375h4v17h-4zM1165 1375h4v17h-4zM1186 1375h4v17h-4zM1222 1375h4v17h-4zM1145 1392h4v16h-4zM1161 1392h4v16h-4zM1201 1392h4v16h-4zM1209 1392h3v16h-3zM1215 1392h7v16h-7zM1186 1408h4v17h-4zM1201 1408h11v17h-11zM1226 1408h6v17h-6zM1279 1408h2v17h-2zM1145 1442h4v17h-4zM1173 1442h5v17h-5zM1100 1459h9v17h-9zM1113 1459h5v17h-5zM1145 1459h9v17h-9zM1113 1476h5v16h-5zM1126 1476h12v16h-12zM1157 1476h8v16h-8zM1178 1476h4v16h-4zM1193 1476h5v16h-5zM1220 1476h2v16h-2zM1154 1492h11v17h-11zM1169 1492h4v17h-4zM1209 1492h6v17h-6zM1232 1492h3v17h-3z"/>
<path fill="#d24242" d="M993 551h4v17h-4zM1012 584h4v17h-4zM1030 584h4v17h-4zM985 601h5v17h-5zM1046 904h4v17h-4zM1034 921h4v17h-4zM1046 921h4v17h-4zM990 988h3v17h-3z"/>
<path fill="#d24e4e" d="M1008 551h4v17h-4zM1023 551h4v17h-4zM1008 568h4v16h-4zM1023 584h4v17h-4zM1054 584h4v17h-4zM1072 584h4v17h-4zM1012 601h4v17h-4zM990 618h3v17h-3zM997 618h3v17h-3zM997 635h3v17h-3zM1027 635h3v17h-3zM981 669h4v16h-4zM1000 669h4v16h-4zM1019 669h4v16h-4zM1050 669h4v16h-4zM1008 685h4v17h-4zM978 702h3v17h-3zM1061 719h4v17h-4zM1054 736h4v17h-4zM1030 753h4v16h-4zM1030 769h4v17h-4zM1016 786h3v17h-3zM1008 803h4v17h-4zM1016 803h3v17h-3zM973 853h5v17h-5zM1019 853h4v17h-4zM1092 853h4v17h-4zM990 870h3v17h-3zM1030 870h4v17h-4zM993 887h4v17h-4zM1080 887h4v17h-4zM1008 904h4v17h-4zM1050 904h4v17h-4zM973 921h5v17h-5zM1023 921h4v17h-4zM1080 921h4v17h-4zM1016 938h3v16h-3zM1034 938h4v16h-4zM1030 954h4v17h-4zM1061 954h4v17h-4zM1034 971h4v17h-4zM1061 971h4v17h-4zM978 988h3v17h-3zM1084 1005h4v17h-4zM1113 1005h5v17h-5zM1122 1005h4v17h-4zM1173 1123h5v16h-5z"/>
<path fill="#d89696" d="M1030 551h4v17h-4zM1072 601h4v17h-4zM1054 685h4v17h-4zM1061 685h4v17h-4zM1068 685h4v17h-4zM1105 702h4v17h-4zM1250 736h4v17h-4zM1019 786h4v17h-4zM1004 820h4v17h-4zM1016 820h3v17h-3zM1030 820h4v17h-4zM1113 853h5v17h-5zM1096 870h4v17h-4zM1084 904h4v17h-4zM1096 904h4v17h-4zM981 938h4v16h-4zM1065 938h3v16h-3zM1080 988h4v17h-4zM997 1005h3v17h-3zM1004 1005h4v17h-4zM1027 1005h3v17h-3zM1046 1005h4v17h-4zM1149 1089h5v17h-5zM1220 1089h2v17h-2zM1242 1089h8v17h-8zM1258 1089h3v17h-3zM1268 1089h4v17h-4zM1096 1106h4v17h-4zM1109 1106h4v17h-4zM1126 1106h5v17h-5zM1154 1106h15v17h-15zM1173 1106h5v17h-5zM1193 1106h5v17h-5zM1226 1106h3v17h-3zM1268 1106h4v17h-4zM1145 1123h4v16h-4zM1161 1123h4v16h-4zM1215 1123h5v16h-5zM1138 1139h11v17h-11zM1173 1139h5v17h-5zM1215 1139h5v17h-5zM1232 1139h3v17h-3zM1246 1139h4v17h-4zM1254 1139h7v17h-7zM1268 1156h4v17h-4zM1198 1173h3v17h-3zM1276 1173h3v17h-3zM1131 1190h7v17h-7zM1205 1190h4v17h-4zM1242 1190h4v17h-4zM1272 1190h4v17h-4zM1105 1207h4v16h-4zM1122 1207h4v16h-4zM1131 1207h4v16h-4zM1142 1207h3v16h-3zM1169 1207h13v16h-13zM1186 1207h4v16h-4zM1272 1207h4v16h-4zM1149 1223h5v17h-5zM1173 1223h9v17h-9zM1239 1223h3v17h-3zM1113 1240h5v17h-5zM1126 1240h5v17h-5zM1135 1240h3v17h-3zM1149 1240h5v17h-5zM1169 1240h4v17h-4zM1178 1240h4v17h-4zM1239 1240h3v17h-3zM1258 1240h10v17h-10zM1142 1257h7v17h-7zM1169 1257h4v17h-4zM1182 1257h4v17h-4zM1198 1257h3v17h-3zM1220 1257h2v17h-2zM1198 1274h3v17h-3zM1232 1274h3v17h-3zM1161 1291h8v16h-8zM1190 1291h3v16h-3zM1198 1291h3v16h-3zM1220 1291h2v16h-2zM1268 1291h4v16h-4zM1186 1307h7v17h-7zM1205 1307h4v17h-4zM1235 1307h4v17h-4zM1250 1307h4v17h-4zM1122 1324h4v17h-4zM1215 1341h5v17h-5zM1226 1341h3v17h-3zM1232 1341h7v17h-7zM1250 1341h4v17h-4zM1235 1358h7v17h-7zM1209 1375h3v17h-3zM1261 1392h7v16h-7zM1246 1408h4v17h-4zM1261 1408h3v17h-3zM1276 1408h3v17h-3zM1154 1425h3v17h-3zM1173 1425h5v17h-5zM1201 1425h8v17h-8zM1212 1425h8v17h-8zM1232 1425h3v17h-3zM1242 1425h4v17h-4zM1258 1425h3v17h-3zM1165 1442h4v17h-4zM1182 1442h4v17h-4zM1193 1442h12v17h-12zM1209 1442h3v17h-3zM1232 1442h3v17h-3zM1264 1442h4v17h-4zM1272 1442h4v17h-4zM1279 1442h2v17h-2zM1165 1459h4v17h-4zM1173 1459h5v17h-5zM1201 1459h4v17h-4zM1242 1459h4v17h-4zM1250 1459h4v17h-4zM1279 1459h2v17h-2zM1205 1476h4v16h-4zM1254 1476h4v16h-4zM1261 1476h3v16h-3zM1242 1492h4v17h-4zM1264 1492h4v17h-4z"/>
<path fill="#d87878" d="M1076 551h4v17h-4zM1054 601h4v17h-4zM1000 618h4v17h-4zM1030 618h4v17h-4zM1004 652h4v17h-4zM1046 652h4v17h-4zM1042 685h4v17h-4zM1012 702h4v17h-4zM1042 719h4v17h-4zM1054 719h4v17h-4zM1016 736h3v17h-3zM1042 736h4v17h-4zM1058 938h3v16h-3zM1050 954h4v17h-4zM1008 971h4v17h-4zM1030 971h4v17h-4zM1072 971h4v17h-4zM1008 988h8v17h-8zM1019 988h4v17h-4zM1050 988h4v17h-4zM1058 988h3v17h-3zM1118 1005h4v17h-4zM1182 1106h4v17h-4zM1242 1106h4v17h-4zM1272 1106h4v17h-4zM1142 1123h3v16h-3zM1246 1156h4v17h-4zM1209 1190h3v17h-3zM1239 1207h3v16h-3zM1264 1223h4v17h-4zM1279 1257h2v17h-2zM1272 1291h4v16h-4zM1272 1307h4v17h-4zM1279 1307h2v17h-2zM1201 1324h8v17h-8zM1212 1324h3v17h-3zM1220 1324h2v17h-2zM1226 1324h3v17h-3zM1272 1324h4v17h-4zM1279 1324h2v17h-2zM1165 1358h4v17h-4zM1276 1358h3v17h-3zM1232 1375h3v17h-3zM1261 1425h3v17h-3zM1142 1442h3v17h-3z"/>
<path fill="#d8d8de" d="M1193 551h5v17h-5zM1212 568h3v16h-3zM1226 568h3v16h-3zM1118 584h4v17h-4zM1220 584h2v17h-2zM1193 601h5v17h-5zM1157 618h4v17h-4zM1226 618h3v17h-3zM1242 618h4v17h-4zM1096 635h9v17h-9zM1122 635h4v17h-4zM1161 635h4v17h-4zM1173 635h5v17h-5zM1193 635h5v17h-5zM1205 635h4v17h-4zM1212 635h3v17h-3zM1232 635h3v17h-3zM1239 635h3v17h-3zM1096 652h4v17h-4zM1122 652h4v17h-4zM1182 652h4v17h-4zM1193 652h5v17h-5zM1201 652h4v17h-4zM1268 652h8v17h-8zM1250 669h4v16h-4zM1135 685h3v17h-3zM1145 685h4v17h-4zM1173 685h5v17h-5zM1126 702h9v17h-9zM1190 702h3v17h-3zM1279 702h2v17h-2zM1149 719h5v17h-5zM1212 719h8v17h-8zM1226 719h6v17h-6zM1254 719h4v17h-4zM1279 719h2v17h-2zM1118 736h8v17h-8zM1258 736h3v17h-3zM1157 786h12v17h-12zM1226 786h3v17h-3zM1258 786h3v17h-3zM1088 803h4v17h-4zM1096 803h9v17h-9zM1122 803h4v17h-4zM1169 803h4v17h-4zM1186 803h4v17h-4zM1235 803h4v17h-4zM1279 803h2v17h-2zM1100 820h5v17h-5zM1161 820h4v17h-4zM1165 837h4v16h-4zM1212 837h3v16h-3zM1222 837h4v16h-4zM1250 837h4v16h-4zM1198 853h3v17h-3zM1215 853h7v17h-7zM1226 853h3v17h-3zM1268 853h4v17h-4zM1154 870h3v17h-3zM1220 870h2v17h-2zM1229 870h3v17h-3zM1239 870h3v17h-3zM1250 870h4v17h-4zM1258 870h3v17h-3zM1268 870h4v17h-4zM1279 870h2v17h-2zM1105 887h4v17h-4zM1157 887h4v17h-4zM1173 887h5v17h-5zM1201 887h4v17h-4zM1215 887h5v17h-5zM1242 887h4v17h-4zM1279 887h2v17h-2zM1258 904h3v17h-3zM1109 921h4v17h-4zM1135 921h3v17h-3zM1154 921h3v17h-3zM1161 921h4v17h-4zM1186 921h12v17h-12zM1205 921h4v17h-4zM1226 921h3v17h-3zM1250 921h4v17h-4zM1258 921h3v17h-3zM1264 921h4v17h-4zM1276 921h3v17h-3zM1126 938h9v16h-9zM1169 938h4v16h-4zM1193 938h5v16h-5zM1154 954h3v17h-3zM1222 954h4v17h-4zM1261 954h3v17h-3zM1198 971h7v17h-7zM1215 971h5v17h-5zM1222 971h4v17h-4zM1235 971h7v17h-7zM1276 971h3v17h-3zM1154 988h7v17h-7zM1198 988h3v17h-3zM1205 988h4v17h-4zM1250 988h4v17h-4zM1258 988h3v17h-3zM1169 1005h4v17h-4zM1178 1005h4v17h-4zM1193 1005h5v17h-5zM1201 1005h8v17h-8zM1220 1005h2v17h-2zM1250 1005h4v17h-4zM1261 1005h3v17h-3zM1268 1005h4v17h-4zM990 1022h3v16h-3zM1154 1022h3v16h-3zM1193 1022h5v16h-5zM1220 1022h2v16h-2zM1242 1022h4v16h-4zM1254 1022h4v16h-4zM1261 1022h3v16h-3zM1122 1038h9v17h-9zM1173 1038h5v17h-5zM1239 1038h3v17h-3zM1276 1038h3v17h-3zM1145 1055h4v17h-4zM1173 1055h5v17h-5zM1209 1055h3v17h-3zM1229 1055h3v17h-3zM1250 1055h8v17h-8zM1261 1055h3v17h-3zM1118 1072h4v17h-4zM1126 1072h9v17h-9zM1250 1072h4v17h-4zM1092 1106h4v17h-4zM993 1190h4v17h-4zM1030 1223h4v17h-4zM1042 1223h8v17h-8zM1068 1240h4v17h-4zM1092 1307h4v17h-4zM970 1392h3v16h-3zM1027 1392h3v16h-3zM1050 1392h4v16h-4zM1080 1392h4v16h-4zM990 1408h3v17h-3zM1023 1408h4v17h-4zM1030 1408h4v17h-4zM1058 1408h3v17h-3zM1065 1408h3v17h-3zM1072 1408h4v17h-4zM1080 1408h4v17h-4zM1092 1425h4v17h-4z"/>
<path fill="#d89090" d="M1229 551h3v17h-3zM1068 601h4v17h-4zM1061 618h7v17h-7zM1088 618h4v17h-4zM1058 635h3v17h-3zM1016 652h3v17h-3zM1046 685h4v17h-4zM981 702h4v17h-4zM1034 702h4v17h-4zM1072 719h4v17h-4zM1065 736h3v17h-3zM1190 736h3v17h-3zM1068 753h4v16h-4zM1000 786h4v17h-4zM1042 803h4v17h-4zM1019 820h4v17h-4zM1027 820h3v17h-3zM1100 853h5v17h-5zM1092 887h4v17h-4zM1092 921h4v17h-4zM978 938h3v16h-3zM990 938h3v16h-3zM1058 971h3v17h-3zM1092 971h4v17h-4zM1092 988h4v17h-4zM990 1005h3v17h-3zM1008 1005h4v17h-4zM1050 1038h8v17h-8zM1008 1055h4v17h-4zM1173 1089h5v17h-5zM1198 1089h3v17h-3zM1212 1089h3v17h-3zM1226 1089h3v17h-3zM1113 1106h5v17h-5zM1145 1106h4v17h-4zM1169 1106h4v17h-4zM1178 1106h4v17h-4zM1122 1123h4v16h-4zM1169 1123h4v16h-4zM1182 1123h4v16h-4zM1226 1123h3v16h-3zM1276 1123h3v16h-3zM1212 1139h3v17h-3zM1229 1139h3v17h-3zM1239 1139h3v17h-3zM1264 1139h4v17h-4zM1264 1156h4v17h-4zM1105 1173h4v17h-4zM1131 1173h4v17h-4zM1145 1173h4v17h-4zM1190 1173h3v17h-3zM1209 1173h6v17h-6zM1222 1173h4v17h-4zM1229 1173h3v17h-3zM1235 1173h4v17h-4zM1268 1173h4v17h-4zM1161 1190h8v17h-8zM1198 1190h3v17h-3zM1212 1190h8v17h-8zM1235 1190h4v17h-4zM1261 1190h3v17h-3zM1109 1207h4v16h-4zM1135 1207h7v16h-7zM1154 1207h7v16h-7zM1193 1207h5v16h-5zM1209 1207h3v16h-3zM1220 1207h2v16h-2zM1226 1207h3v16h-3zM1222 1223h4v17h-4zM1235 1223h4v17h-4zM1138 1240h4v17h-4zM1232 1240h7v17h-7zM1105 1257h4v17h-4zM1173 1257h5v17h-5zM1205 1257h4v17h-4zM1178 1274h4v17h-4zM1193 1274h5v17h-5zM1209 1274h3v17h-3zM1220 1274h2v17h-2zM1235 1274h11v17h-11zM1261 1274h11v17h-11zM1193 1291h5v16h-5zM1212 1291h3v16h-3zM1229 1291h3v16h-3zM1242 1291h4v16h-4zM1261 1291h7v16h-7zM1276 1291h3v16h-3zM1145 1307h4v17h-4zM1161 1307h4v17h-4zM1178 1307h4v17h-4zM1215 1307h5v17h-5zM1222 1307h4v17h-4zM1242 1307h4v17h-4zM1105 1324h4v17h-4zM1118 1324h4v17h-4zM1135 1324h7v17h-7zM1161 1324h4v17h-4zM1186 1324h4v17h-4zM1222 1324h4v17h-4zM1232 1324h3v17h-3zM1239 1324h3v17h-3zM1246 1341h4v17h-4zM1258 1341h3v17h-3zM1226 1358h3v17h-3zM1242 1358h4v17h-4zM1254 1358h4v17h-4zM1272 1358h4v17h-4zM1261 1375h3v17h-3zM1268 1375h8v17h-8zM1182 1425h4v17h-4zM1190 1425h3v17h-3zM1198 1425h3v17h-3zM1220 1425h2v17h-2zM1239 1425h3v17h-3zM1250 1425h8v17h-8zM1264 1425h4v17h-4zM1215 1442h7v17h-7zM1226 1442h3v17h-3zM1235 1442h4v17h-4zM1242 1442h4v17h-4zM1261 1442h3v17h-3zM1276 1442h3v17h-3zM1190 1459h3v17h-3zM1254 1459h4v17h-4zM1272 1459h4v17h-4zM1250 1476h4v16h-4zM1220 1492h2v17h-2z"/>
<path fill="#d26666" d="M1000 568h4v16h-4zM1068 584h4v17h-4zM1058 601h3v17h-3zM981 618h4v17h-4zM1038 618h4v17h-4zM1030 635h4v17h-4zM1030 652h4v17h-4zM1046 702h8v17h-8zM1000 719h4v17h-4zM1008 719h4v17h-4zM1027 719h11v17h-11zM1058 719h3v17h-3zM1046 736h4v17h-4zM1038 753h8v16h-8zM990 786h3v17h-3zM1008 786h4v17h-4zM1023 786h4v17h-4zM1004 803h4v17h-4zM1030 803h4v17h-4zM1023 870h4v17h-4zM1023 887h4v17h-4zM981 904h4v17h-4zM1000 904h4v17h-4zM1023 904h4v17h-4zM1030 921h4v17h-4zM993 938h7v16h-7zM1027 938h3v16h-3zM1054 938h4v16h-4zM1061 938h4v16h-4zM1068 938h4v16h-4zM1088 938h4v16h-4zM978 954h3v17h-3zM990 954h3v17h-3zM1058 954h3v17h-3zM1084 971h4v17h-4zM1027 1055h3v17h-3zM1096 1072h4v17h-4zM1235 1106h4v17h-4zM1250 1324h4v17h-4z"/>
<path fill="#d25454" d="M1016 568h3v16h-3zM1008 584h4v17h-4zM997 601h3v17h-3zM1027 601h3v17h-3zM973 618h5v17h-5zM1012 618h4v17h-4zM970 635h3v17h-3zM973 669h5v16h-5zM1027 685h3v17h-3zM1004 702h4v17h-4zM973 719h5v17h-5zM1034 753h4v16h-4zM973 786h5v17h-5zM985 786h5v17h-5zM997 786h3v17h-3zM1004 786h4v17h-4zM1008 837h4v16h-4zM1019 837h4v16h-4zM1058 837h3v16h-3zM1046 853h4v17h-4zM1061 853h4v17h-4zM1072 853h8v17h-8zM993 870h4v17h-4zM1000 870h4v17h-4zM970 904h3v17h-3zM990 904h3v17h-3zM985 921h5v17h-5zM1058 921h3v17h-3zM1065 921h7v17h-7zM1084 921h4v17h-4zM1054 954h4v17h-4zM970 971h3v17h-3zM993 971h4v17h-4zM1004 971h4v17h-4zM1027 971h3v17h-3zM1038 971h4v17h-4zM1054 988h4v17h-4zM1065 1005h3v17h-3zM1027 1022h3v16h-3zM1279 1173h2v17h-2zM1258 1207h3v16h-3z"/>
<path fill="#d87e7e" d="M1019 568h4v16h-4zM1050 601h4v17h-4zM1034 618h4v17h-4zM1050 618h4v17h-4zM1019 635h4v17h-4zM993 652h4v17h-4zM1065 669h3v16h-3zM1034 685h4v17h-4zM990 719h3v17h-3zM970 736h3v17h-3zM1058 753h3v16h-3zM1046 786h4v17h-4zM985 803h5v17h-5zM1072 837h4v16h-4zM1096 853h4v17h-4zM1092 870h4v17h-4zM993 904h4v17h-4zM1012 938h4v16h-4zM1016 971h3v17h-3zM1004 988h4v17h-4zM1016 988h3v17h-3zM1030 988h4v17h-4zM1065 988h3v17h-3zM1030 1005h4v17h-4zM1209 1106h3v17h-3zM1254 1106h4v17h-4zM1209 1123h3v16h-3zM1220 1123h2v16h-2zM1254 1123h4v16h-4zM1272 1123h4v16h-4zM1272 1139h4v17h-4zM1235 1156h4v17h-4zM1100 1173h5v17h-5zM1226 1173h3v17h-3zM1250 1173h8v17h-8zM1261 1173h3v17h-3zM1193 1190h5v17h-5zM1201 1190h4v17h-4zM1246 1190h4v17h-4zM1149 1207h5v16h-5zM1205 1207h4v16h-4zM1215 1207h5v16h-5zM1268 1207h4v16h-4zM1212 1223h3v17h-3zM1226 1240h3v17h-3zM1268 1240h4v17h-4zM1222 1257h4v17h-4zM1229 1257h3v17h-3zM1268 1257h4v17h-4zM1272 1274h9v17h-9zM1258 1291h3v16h-3zM1131 1324h4v17h-4zM1142 1324h3v17h-3zM1165 1324h4v17h-4zM1242 1324h4v17h-4zM1276 1341h3v17h-3zM1105 1358h4v17h-4zM1279 1425h2v17h-2zM1229 1442h3v17h-3zM1268 1442h4v17h-4z"/>
<path fill="#cc3030" d="M978 584h3v17h-3zM1000 584h4v17h-4zM1019 584h4v17h-4zM978 601h3v17h-3zM970 669h3v16h-3zM985 669h5v16h-5zM993 669h4v16h-4zM1030 669h4v16h-4zM1004 685h4v17h-4zM970 702h8v17h-8zM1038 719h4v17h-4zM1004 753h4v16h-4zM1012 837h4v16h-4zM978 853h3v17h-3zM993 853h4v17h-4zM1034 853h4v17h-4zM1065 853h3v17h-3zM1084 853h4v17h-4zM997 870h3v17h-3zM1034 870h4v17h-4zM1058 870h3v17h-3zM993 921h4v17h-4zM1008 921h4v17h-4zM1046 954h4v17h-4zM1076 954h4v17h-4zM997 971h3v17h-3zM1088 1005h4v17h-4zM1246 1207h4v16h-4z"/>
<path fill="#cc4242" d="M1061 584h7v17h-7zM1004 635h4v17h-4zM1012 635h4v17h-4zM970 685h3v17h-3zM1058 736h3v17h-3zM978 803h3v17h-3zM1054 837h4v16h-4zM985 853h5v17h-5zM1068 853h4v17h-4zM1050 870h4v17h-4zM1068 870h4v17h-4zM1088 870h4v17h-4zM1034 887h4v17h-4zM1061 887h4v17h-4zM1072 887h4v17h-4zM1084 887h4v17h-4zM1030 904h4v17h-4zM997 921h3v17h-3zM1054 921h4v17h-4zM1004 954h4v17h-4zM1034 954h4v17h-4zM1065 954h3v17h-3zM1068 971h4v17h-4zM1080 971h4v17h-4zM1000 988h4v17h-4zM1050 1005h4v17h-4zM1058 1005h3v17h-3zM1279 1375h2v17h-2z"/>
<path fill="#d8d8e4" d="M1109 584h4v17h-4zM1135 584h3v17h-3zM1226 584h6v17h-6zM1268 635h4v17h-4zM1279 635h2v17h-2zM1258 652h3v17h-3zM1154 685h7v17h-7zM1173 702h5v17h-5zM1212 702h3v17h-3zM1268 702h4v17h-4zM1276 702h3v17h-3zM1096 719h4v17h-4zM1220 719h2v17h-2zM1242 719h4v17h-4zM1186 786h4v17h-4zM1109 803h4v17h-4zM1173 803h5v17h-5zM1205 803h4v17h-4zM1212 803h3v17h-3zM1258 837h3v16h-3zM1239 853h3v17h-3zM1250 853h8v17h-8zM1235 870h4v17h-4zM1142 921h3v17h-3zM1149 921h5v17h-5zM1209 921h11v17h-11zM1222 921h4v17h-4zM1229 921h6v17h-6zM1254 921h4v17h-4zM1186 938h4v16h-4zM1209 938h3v16h-3zM1222 938h4v16h-4zM1135 954h3v17h-3zM1190 954h3v17h-3zM1145 971h9v17h-9zM1190 971h3v17h-3zM1126 988h5v17h-5zM1186 988h4v17h-4zM1220 988h2v17h-2zM1232 988h3v17h-3zM1268 988h8v17h-8zM1279 988h2v17h-2zM1157 1005h4v17h-4zM1165 1005h4v17h-4zM1173 1005h5v17h-5zM1229 1005h3v17h-3zM1190 1022h3v16h-3zM1235 1022h4v16h-4zM1258 1022h3v16h-3zM1276 1022h3v16h-3zM1142 1038h7v17h-7zM1169 1038h4v17h-4zM1261 1038h3v17h-3zM1131 1055h4v17h-4zM1220 1055h2v17h-2zM1226 1055h3v17h-3zM1092 1089h4v17h-4zM997 1173h3v17h-3zM1065 1223h3v17h-3zM1072 1223h4v17h-4zM1092 1324h4v17h-4zM978 1392h3v16h-3zM1012 1392h4v16h-4zM1084 1392h4v16h-4zM1034 1408h12v17h-12zM1068 1408h4v17h-4zM1084 1408h4v17h-4zM1092 1459h4v17h-4z"/>
<path fill="#d2d2e4" d="M1113 584h5v17h-5zM1126 584h5v17h-5zM1138 584h4v17h-4zM1149 584h5v17h-5zM1157 584h4v17h-4zM1169 584h13v17h-13zM1186 584h4v17h-4zM1201 584h8v17h-8zM1212 584h8v17h-8zM1222 584h4v17h-4zM1232 584h3v17h-3zM1239 584h3v17h-3zM1246 584h4v17h-4zM1254 584h4v17h-4zM1261 584h7v17h-7zM1169 618h4v17h-4zM1109 635h4v17h-4zM1135 635h3v17h-3zM1246 635h4v17h-4zM1258 635h3v17h-3zM1154 652h7v17h-7zM1186 652h4v17h-4zM1212 652h3v17h-3zM1235 652h4v17h-4zM1261 652h3v17h-3zM1279 652h2v17h-2zM1113 685h5v17h-5zM1165 685h4v17h-4zM1178 685h4v17h-4zM1209 685h3v17h-3zM1215 685h5v17h-5zM1272 685h4v17h-4zM1092 702h4v17h-4zM1109 702h4v17h-4zM1161 702h4v17h-4zM1182 702h4v17h-4zM1209 702h3v17h-3zM1215 702h5v17h-5zM1250 702h11v17h-11zM1122 719h4v17h-4zM1198 719h3v17h-3zM1258 719h3v17h-3zM1272 719h4v17h-4zM1182 736h4v17h-4zM1126 786h9v17h-9zM1149 786h5v17h-5zM1190 786h3v17h-3zM1232 786h7v17h-7zM1250 786h8v17h-8zM1268 786h4v17h-4zM1118 803h4v17h-4zM1142 803h3v17h-3zM1182 803h4v17h-4zM1209 803h3v17h-3zM1215 803h5v17h-5zM1226 803h3v17h-3zM1242 803h4v17h-4zM1250 803h4v17h-4zM1258 803h3v17h-3zM1268 803h11v17h-11zM1157 853h4v17h-4zM1173 853h9v17h-9zM1186 853h7v17h-7zM1212 853h3v17h-3zM1222 853h4v17h-4zM1229 853h3v17h-3zM1242 853h8v17h-8zM1258 853h3v17h-3zM1276 853h3v17h-3zM1126 921h9v17h-9zM1138 921h4v17h-4zM1169 921h4v17h-4zM1198 921h3v17h-3zM1220 921h2v17h-2zM1235 921h15v17h-15zM1268 921h8v17h-8zM1276 938h3v16h-3zM1122 954h9v17h-9zM1138 954h4v17h-4zM1178 954h4v17h-4zM1201 954h4v17h-4zM1209 954h6v17h-6zM1232 954h3v17h-3zM1246 954h4v17h-4zM1258 954h3v17h-3zM1264 954h4v17h-4zM1165 971h4v17h-4zM1173 971h5v17h-5zM1193 971h5v17h-5zM1220 971h2v17h-2zM1258 971h3v17h-3zM1272 971h4v17h-4zM1226 988h3v17h-3zM1235 1005h4v17h-4zM1279 1022h2v16h-2zM1100 1038h5v17h-5zM1109 1038h4v17h-4zM1138 1038h4v17h-4zM1157 1038h4v17h-4zM1186 1038h4v17h-4zM1193 1038h5v17h-5zM1242 1038h4v17h-4zM1258 1038h3v17h-3zM1138 1055h4v17h-4zM1149 1072h5v17h-5zM1190 1072h3v17h-3zM1201 1072h4v17h-4zM1209 1072h3v17h-3zM1235 1072h4v17h-4zM1254 1072h4v17h-4zM973 1106h5v17h-5zM997 1106h3v17h-3zM1004 1106h4v17h-4zM1050 1106h4v17h-4zM1065 1106h3v17h-3zM1084 1106h4v17h-4zM1012 1123h4v16h-4zM1072 1123h4v16h-4zM1080 1123h12v16h-12zM1076 1139h4v17h-4zM1016 1156h7v17h-7zM1050 1156h4v17h-4zM1080 1156h8v17h-8zM1084 1190h4v17h-4zM1088 1207h4v16h-4zM1034 1223h8v17h-8zM1058 1223h3v17h-3zM1092 1257h4v17h-4zM1088 1274h4v17h-4zM1092 1291h4v16h-4zM990 1307h3v17h-3zM997 1341h3v17h-3zM1004 1341h4v17h-4zM1004 1358h4v17h-4zM985 1375h5v17h-5zM973 1392h5v16h-5zM990 1392h22v16h-22zM1016 1392h11v16h-11zM1030 1392h8v16h-8zM1042 1392h8v16h-8zM1054 1392h11v16h-11zM1068 1392h12v16h-12zM1088 1392h4v16h-4zM973 1408h5v17h-5zM993 1408h4v17h-4zM1000 1408h8v17h-8zM1016 1408h3v17h-3zM1054 1408h4v17h-4zM1061 1408h4v17h-4zM1088 1408h4v17h-4zM1000 1425h4v17h-4zM1054 1442h4v17h-4zM1038 1476h4v16h-4z"/>
<path fill="#cccce4" d="M1131 584h4v17h-4zM1142 584h7v17h-7zM1154 584h3v17h-3zM1161 584h8v17h-8zM1182 584h4v17h-4zM1193 584h5v17h-5zM1242 584h4v17h-4zM1250 584h4v17h-4zM1258 584h3v17h-3zM1268 584h11v17h-11zM1209 635h3v17h-3zM1239 652h3v17h-3zM1254 652h4v17h-4zM1276 652h3v17h-3zM1131 685h4v17h-4zM1246 685h4v17h-4zM1122 702h4v17h-4zM1222 702h7v17h-7zM1242 702h4v17h-4zM1154 786h3v17h-3zM1178 786h4v17h-4zM1242 786h4v17h-4zM1264 786h4v17h-4zM1279 786h2v17h-2zM1149 803h5v17h-5zM1198 803h7v17h-7zM1220 803h2v17h-2zM1239 803h3v17h-3zM1161 853h4v17h-4zM1182 853h4v17h-4zM1232 853h7v17h-7zM1261 853h3v17h-3zM1157 921h4v17h-4zM1201 921h4v17h-4zM1198 938h3v16h-3zM1113 954h5v17h-5zM1131 954h4v17h-4zM1182 954h4v17h-4zM1242 954h4v17h-4zM1254 954h4v17h-4zM1268 954h11v17h-11zM1178 971h8v17h-8zM1209 971h6v17h-6zM1201 988h4v17h-4zM1254 988h4v17h-4zM1157 1055h4v17h-4zM985 1106h8v17h-8zM1000 1106h4v17h-4zM1019 1106h4v17h-4zM1027 1106h3v17h-3zM1034 1106h4v17h-4zM1042 1106h8v17h-8zM1088 1106h4v17h-4zM970 1123h8v16h-8zM990 1123h3v16h-3zM1019 1123h4v16h-4zM1030 1123h4v16h-4zM1054 1123h4v16h-4zM1068 1123h4v16h-4zM1076 1123h4v16h-4zM1000 1156h4v17h-4zM1046 1156h4v17h-4zM1054 1156h4v17h-4zM1065 1156h3v17h-3zM1042 1190h4v17h-4zM1058 1190h3v17h-3zM1042 1207h4v16h-4zM1050 1207h4v16h-4zM1016 1223h3v17h-3zM1054 1223h4v17h-4zM1084 1223h4v17h-4zM997 1240h3v17h-3zM1092 1274h4v17h-4zM1061 1307h4v17h-4zM1038 1341h12v17h-12zM1068 1341h4v17h-4zM1088 1341h4v17h-4zM970 1358h3v17h-3zM985 1358h8v17h-8zM1000 1358h4v17h-4zM1034 1358h4v17h-4zM1072 1358h4v17h-4zM1084 1358h4v17h-4zM973 1375h5v17h-5zM1016 1375h3v17h-3zM1027 1375h11v17h-11zM1046 1375h4v17h-4zM1068 1375h4v17h-4zM1076 1375h8v17h-8zM1016 1425h3v17h-3zM1019 1459h4v17h-4zM1046 1476h4v16h-4zM1072 1476h8v16h-8zM1088 1476h4v16h-4zM990 1492h3v17h-3zM1000 1492h8v17h-8zM1012 1492h7v17h-7zM1034 1492h4v17h-4zM1042 1492h8v17h-8zM1054 1492h4v17h-4zM1061 1492h11v17h-11zM1076 1492h4v17h-4z"/>
<path fill="#c6c6ea" d="M1235 584h4v17h-4zM1242 652h4v17h-4zM1142 786h3v17h-3zM1201 786h4v17h-4zM1220 786h2v17h-2zM1276 786h3v17h-3zM1157 803h4v17h-4zM1222 803h4v17h-4zM1215 954h5v17h-5zM1235 954h4v17h-4zM1222 988h4v17h-4zM1008 1106h4v17h-4zM1058 1106h7v17h-7zM1068 1106h4v17h-4zM1080 1106h4v17h-4zM1008 1123h4v16h-4zM1027 1123h3v16h-3zM1034 1123h4v16h-4zM1042 1123h4v16h-4zM1065 1123h3v16h-3zM970 1156h3v17h-3zM981 1156h9v17h-9zM985 1173h5v17h-5zM985 1190h5v17h-5zM1034 1190h4v17h-4zM1061 1190h4v17h-4zM1068 1190h4v17h-4zM1080 1190h4v17h-4zM1088 1190h4v17h-4zM1065 1307h3v17h-3zM978 1341h3v17h-3zM1034 1341h4v17h-4zM1054 1341h4v17h-4zM973 1358h5v17h-5zM997 1358h3v17h-3zM1008 1358h8v17h-8zM1027 1358h3v17h-3zM1042 1358h12v17h-12zM1058 1358h3v17h-3zM1065 1358h7v17h-7zM993 1375h4v17h-4zM1004 1375h4v17h-4zM1019 1375h4v17h-4zM1058 1442h3v17h-3zM1065 1459h3v17h-3zM981 1476h4v16h-4zM990 1476h3v16h-3zM1012 1476h4v16h-4zM1019 1476h11v16h-11zM1034 1476h4v16h-4zM1042 1476h4v16h-4zM1061 1476h4v16h-4zM1068 1476h4v16h-4zM1058 1492h3v17h-3z"/>
<path fill="#cc3636" d="M1008 601h4v17h-4zM970 618h3v17h-3zM978 618h3v17h-3zM1034 669h4v16h-4zM1012 685h4v17h-4zM1019 685h4v17h-4zM1054 702h4v17h-4zM1068 736h4v17h-4zM1034 786h4v17h-4zM993 803h4v17h-4zM1019 803h4v17h-4zM978 837h3v16h-3zM990 837h3v16h-3zM1046 837h4v16h-4zM997 853h3v17h-3zM1008 853h4v17h-4zM1016 853h3v17h-3zM1088 853h4v17h-4zM1065 870h3v17h-3zM1080 870h4v17h-4zM985 887h5v17h-5zM1008 887h4v17h-4zM1042 887h4v17h-4zM1054 887h7v17h-7zM1065 887h3v17h-3zM1000 921h4v17h-4zM1027 921h3v17h-3zM1030 938h4v16h-4zM990 971h3v17h-3z"/>
<path fill="#d88484" d="M1046 601h4v17h-4zM1061 601h4v17h-4zM1004 618h4v17h-4zM1027 618h3v17h-3zM978 652h3v17h-3zM1058 652h3v17h-3zM1054 669h4v16h-4zM1061 669h4v16h-4zM1076 669h4v16h-4zM993 685h4v17h-4zM1016 685h3v17h-3zM1050 685h4v17h-4zM1019 702h4v17h-4zM1019 719h8v17h-8zM990 736h3v17h-3zM1054 753h4v16h-4zM1061 753h4v16h-4zM1034 769h4v17h-4zM1030 786h4v17h-4zM1027 803h3v17h-3zM1065 803h7v17h-7zM1118 853h4v17h-4zM1012 904h4v17h-4zM1019 904h4v17h-4zM1000 938h8v16h-8zM1042 938h4v16h-4zM1088 954h4v17h-4zM1023 971h4v17h-4zM981 988h4v17h-4zM1038 988h4v17h-4zM1131 1005h4v17h-4zM978 1055h3v17h-3zM1205 1089h4v17h-4zM1254 1089h4v17h-4zM1138 1106h4v17h-4zM1205 1106h4v17h-4zM1222 1106h4v17h-4zM1232 1106h3v17h-3zM1239 1106h3v17h-3zM1250 1106h4v17h-4zM1276 1106h3v17h-3zM1201 1123h4v16h-4zM1222 1123h4v16h-4zM1229 1123h3v16h-3zM1250 1123h4v16h-4zM1258 1123h6v16h-6zM1268 1123h4v16h-4zM1242 1139h4v17h-4zM1279 1139h2v17h-2zM1232 1156h3v17h-3zM1135 1173h3v17h-3zM1178 1173h4v17h-4zM1246 1173h4v17h-4zM1220 1190h2v17h-2zM1250 1190h8v17h-8zM1276 1190h3v17h-3zM1161 1207h8v16h-8zM1261 1207h3v16h-3zM1201 1223h4v17h-4zM1201 1257h4v17h-4zM1239 1257h3v17h-3zM1254 1257h4v17h-4zM1264 1257h4v17h-4zM1226 1274h3v17h-3zM1254 1274h4v17h-4zM1222 1291h4v16h-4zM1239 1291h3v16h-3zM1279 1291h2v16h-2zM1165 1307h4v17h-4zM1182 1307h4v17h-4zM1198 1307h7v17h-7zM1109 1324h9v17h-9zM1149 1324h8v17h-8zM1193 1324h8v17h-8zM1246 1324h4v17h-4zM1254 1324h7v17h-7zM1261 1341h3v17h-3zM1258 1358h3v17h-3zM1268 1358h4v17h-4zM1279 1358h2v17h-2zM1264 1375h4v17h-4zM1272 1425h4v17h-4zM1222 1442h4v17h-4zM1246 1442h4v17h-4zM1232 1459h3v17h-3zM1246 1459h4v17h-4zM1268 1459h4v17h-4zM1272 1492h4v17h-4z"/>
<path fill="#d8d2e4" d="M1272 618h4v17h-4zM1190 635h3v17h-3zM1235 635h4v17h-4zM1261 635h3v17h-3zM1209 652h3v17h-3zM1232 652h3v17h-3zM1193 685h5v17h-5zM1142 719h3v17h-3zM1201 719h4v17h-4zM1268 736h4v17h-4zM1096 786h4v17h-4zM1118 786h4v17h-4zM1145 786h4v17h-4zM1198 786h3v17h-3zM1205 786h4v17h-4zM1212 786h3v17h-3zM1145 803h4v17h-4zM1178 803h4v17h-4zM1229 803h3v17h-3zM1246 803h4v17h-4zM1193 853h5v17h-5zM1201 853h4v17h-4zM1264 853h4v17h-4zM1272 853h4v17h-4zM1122 921h4v17h-4zM1145 921h4v17h-4zM1261 921h3v17h-3zM1220 938h2v16h-2zM1239 938h7v16h-7zM1142 954h3v17h-3zM1279 954h2v17h-2zM1131 971h4v17h-4zM1138 971h4v17h-4zM1205 971h4v17h-4zM1165 988h4v17h-4zM1190 988h3v17h-3zM1209 988h6v17h-6zM1209 1022h3v16h-3zM1220 1038h2v17h-2zM1242 1072h4v17h-4zM1264 1072h4v17h-4zM1016 1123h3v16h-3zM1068 1223h4v17h-4zM981 1392h9v16h-9zM1038 1392h4v16h-4zM1065 1392h3v16h-3zM978 1408h3v17h-3zM1019 1408h4v17h-4zM1050 1408h4v17h-4zM997 1492h3v17h-3zM1050 1492h4v17h-4z"/>
<path fill="#d2cce4" d="M1264 685h4v17h-4zM1229 702h3v17h-3zM1261 786h3v17h-3zM1250 938h4v16h-4zM1149 954h5v17h-5zM993 1123h4v16h-4zM978 1492h3v17h-3z"/>
<path fill="#c0c0ea" d="M1157 702h4v17h-4zM1232 702h3v17h-3zM1232 719h3v17h-3zM1205 853h4v17h-4zM1118 954h4v17h-4zM1161 954h4v17h-4zM1186 954h4v17h-4zM1220 954h2v17h-2zM1229 954h3v17h-3zM1186 971h4v17h-4zM970 1106h3v17h-3zM1076 1106h4v17h-4zM985 1123h5v16h-5zM1050 1139h8v17h-8zM993 1156h7v17h-7zM1027 1156h7v17h-7zM1038 1156h8v17h-8zM1061 1156h4v17h-4zM1072 1156h4v17h-4zM1034 1173h4v17h-4zM973 1190h5v17h-5zM997 1190h3v17h-3zM1004 1190h8v17h-8zM1019 1190h8v17h-8zM1030 1190h4v17h-4zM1076 1190h4v17h-4zM1054 1207h7v16h-7zM1068 1207h4v16h-4zM985 1223h5v17h-5zM990 1240h3v17h-3zM1027 1240h3v17h-3zM1046 1240h4v17h-4zM1054 1240h4v17h-4zM1084 1240h4v17h-4zM1058 1291h3v16h-3zM1080 1291h4v16h-4zM1088 1291h4v16h-4zM981 1307h4v17h-4zM997 1307h3v17h-3zM1012 1307h4v17h-4zM1019 1307h4v17h-4zM1050 1307h4v17h-4zM1072 1307h8v17h-8zM1084 1307h8v17h-8zM981 1341h9v17h-9zM993 1341h4v17h-4zM1000 1341h4v17h-4zM1012 1341h7v17h-7zM1030 1341h4v17h-4zM1058 1341h10v17h-10zM1072 1341h8v17h-8zM1084 1341h4v17h-4zM981 1358h4v17h-4zM1019 1358h8v17h-8zM1030 1358h4v17h-4zM1038 1358h4v17h-4zM1054 1358h4v17h-4zM1061 1358h4v17h-4zM1080 1358h4v17h-4zM1088 1358h4v17h-4zM981 1375h4v17h-4zM990 1375h3v17h-3zM997 1375h3v17h-3zM1012 1375h4v17h-4zM1023 1375h4v17h-4zM1038 1375h8v17h-8zM1050 1375h4v17h-4zM1058 1375h10v17h-10zM1088 1375h4v17h-4zM985 1442h5v17h-5zM997 1442h3v17h-3zM1008 1442h4v17h-4zM1023 1442h4v17h-4zM1061 1442h11v17h-11zM985 1459h5v17h-5zM1004 1459h8v17h-8zM1034 1459h4v17h-4zM1042 1459h12v17h-12zM1072 1459h4v17h-4zM1088 1459h4v17h-4zM973 1476h8v16h-8zM997 1476h3v16h-3zM1008 1476h4v16h-4zM1016 1476h3v16h-3zM1080 1476h8v16h-8zM973 1492h5v17h-5zM1019 1492h4v17h-4zM1038 1492h4v17h-4zM1072 1492h4v17h-4zM1088 1492h4v17h-4z"/>
<path fill="#c6c6e4" d="M1105 719h4v17h-4zM1182 786h4v17h-4zM1169 954h4v17h-4zM1198 954h3v17h-3zM1226 954h3v17h-3zM1250 954h4v17h-4zM1232 971h3v17h-3zM1242 971h4v17h-4zM1279 971h2v17h-2zM1030 1106h4v17h-4zM1038 1106h4v17h-4zM1054 1106h4v17h-4zM1000 1123h4v16h-4zM1023 1123h4v16h-4zM1058 1123h3v16h-3zM1046 1173h4v17h-4zM1054 1190h4v17h-4zM1076 1207h8v16h-8zM993 1223h4v17h-4zM1076 1223h4v17h-4zM978 1274h3v17h-3zM973 1341h5v17h-5zM1023 1341h4v17h-4zM978 1358h3v17h-3zM970 1375h3v17h-3zM1008 1375h4v17h-4zM1072 1375h4v17h-4zM1076 1459h4v17h-4zM993 1476h4v16h-4zM1000 1476h8v16h-8zM1050 1476h11v16h-11zM1065 1476h3v16h-3zM981 1492h4v17h-4zM993 1492h4v17h-4zM1008 1492h4v17h-4zM1023 1492h7v17h-7zM1080 1492h4v17h-4z"/>
<path fill="#b4b4ea" d="M1122 786h4v17h-4zM1246 786h4v17h-4zM978 1089h3v17h-3zM1088 1089h4v17h-4zM1042 1139h4v17h-4zM1058 1139h3v17h-3zM1072 1139h4v17h-4zM1084 1139h4v17h-4zM1004 1156h4v17h-4zM1023 1156h4v17h-4zM1034 1156h4v17h-4zM1088 1156h4v17h-4zM1008 1173h4v17h-4zM1065 1173h7v17h-7zM1076 1173h4v17h-4zM1088 1173h4v17h-4zM970 1190h3v17h-3zM1000 1190h4v17h-4zM1027 1190h3v17h-3zM1046 1190h4v17h-4zM1034 1207h4v16h-4zM1061 1207h4v16h-4zM1072 1207h4v16h-4zM1004 1223h4v17h-4zM1080 1223h4v17h-4zM973 1240h5v17h-5zM1000 1240h4v17h-4zM1030 1240h8v17h-8zM1061 1240h4v17h-4zM1072 1240h8v17h-8zM1088 1240h4v17h-4zM993 1257h4v17h-4zM1076 1257h4v17h-4zM1046 1274h4v17h-4zM1080 1274h4v17h-4zM1000 1291h8v16h-8zM1030 1291h4v16h-4zM1084 1291h4v16h-4zM985 1307h5v17h-5zM1000 1307h4v17h-4zM1030 1307h4v17h-4zM1042 1307h4v17h-4zM1054 1307h7v17h-7zM1080 1307h4v17h-4zM970 1341h3v17h-3zM993 1358h4v17h-4zM1000 1375h4v17h-4zM1084 1375h4v17h-4zM970 1425h3v17h-3zM978 1425h3v17h-3zM993 1425h7v17h-7zM1027 1425h3v17h-3zM1042 1425h4v17h-4zM1058 1425h3v17h-3zM1068 1425h4v17h-4zM1076 1425h8v17h-8zM970 1442h8v17h-8zM981 1442h4v17h-4zM990 1442h7v17h-7zM1000 1442h8v17h-8zM1027 1442h7v17h-7zM1038 1442h8v17h-8zM1050 1442h4v17h-4zM1072 1442h4v17h-4zM1080 1442h4v17h-4zM970 1459h3v17h-3zM1023 1459h7v17h-7zM1061 1459h4v17h-4zM1068 1459h4v17h-4zM1084 1459h4v17h-4z"/>
<path fill="#babaea" d="M1272 786h4v17h-4zM1254 803h4v17h-4zM1165 954h4v17h-4zM978 1106h7v17h-7zM993 1106h4v17h-4zM1012 1106h4v17h-4zM1072 1106h4v17h-4zM978 1123h7v16h-7zM1004 1123h4v16h-4zM1038 1123h4v16h-4zM1046 1123h8v16h-8zM1061 1123h4v16h-4zM1061 1139h7v17h-7zM973 1156h8v17h-8zM990 1156h3v17h-3zM1008 1156h8v17h-8zM990 1173h3v17h-3zM1050 1173h4v17h-4zM978 1190h3v17h-3zM990 1190h3v17h-3zM1016 1190h3v17h-3zM1050 1190h4v17h-4zM1038 1207h4v16h-4zM1065 1207h3v16h-3zM1023 1223h4v17h-4zM970 1240h3v17h-3zM1038 1240h4v17h-4zM1058 1240h3v17h-3zM1080 1240h4v17h-4zM1004 1274h4v17h-4zM970 1291h3v16h-3zM981 1291h4v16h-4zM1046 1291h4v16h-4zM1072 1291h4v16h-4zM970 1307h8v17h-8zM993 1307h4v17h-4zM1004 1307h8v17h-8zM1023 1307h7v17h-7zM1034 1307h8v17h-8zM1046 1307h4v17h-4zM990 1341h3v17h-3zM1008 1341h4v17h-4zM1027 1341h3v17h-3zM1050 1341h4v17h-4zM1016 1358h3v17h-3zM978 1375h3v17h-3zM973 1425h5v17h-5zM981 1425h4v17h-4zM1008 1425h8v17h-8zM1023 1425h4v17h-4zM1030 1425h12v17h-12zM1046 1425h4v17h-4zM1061 1425h7v17h-7zM1072 1425h4v17h-4zM1084 1425h8v17h-8zM978 1442h3v17h-3zM1016 1442h3v17h-3zM1034 1442h4v17h-4zM1046 1442h4v17h-4zM1076 1442h4v17h-4zM1084 1442h4v17h-4zM973 1459h5v17h-5zM981 1459h4v17h-4zM990 1459h3v17h-3zM1000 1459h4v17h-4zM1012 1459h7v17h-7zM1030 1459h4v17h-4zM1038 1459h4v17h-4zM1054 1459h7v17h-7zM1080 1459h4v17h-4zM970 1476h3v16h-3zM985 1476h5v16h-5zM1030 1476h4v16h-4zM970 1492h3v17h-3zM985 1492h5v17h-5zM1084 1492h4v17h-4z"/>
<path fill="#a8a8ea" d="M970 1089h3v17h-3zM1050 1089h4v17h-4zM1061 1089h23v17h-23zM1068 1156h4v17h-4zM978 1173h3v17h-3zM993 1173h4v17h-4zM1012 1173h4v17h-4zM1027 1173h7v17h-7zM1058 1173h3v17h-3zM981 1190h4v17h-4zM1027 1207h3v16h-3zM1046 1207h4v16h-4zM1000 1223h4v17h-4zM981 1240h4v17h-4zM1004 1240h12v17h-12zM1023 1240h4v17h-4zM970 1257h3v17h-3zM981 1257h9v17h-9zM1027 1257h3v17h-3zM1042 1257h4v17h-4zM970 1274h3v17h-3zM981 1274h4v17h-4zM1016 1274h7v17h-7zM1054 1274h4v17h-4zM1061 1274h4v17h-4zM1072 1274h4v17h-4zM985 1291h5v16h-5zM993 1291h7v16h-7zM1008 1291h15v16h-15zM1027 1291h3v16h-3zM1042 1291h4v16h-4zM1076 1291h4v16h-4zM1038 1324h12v17h-12zM1076 1324h4v17h-4zM985 1425h5v17h-5zM1004 1425h4v17h-4z"/>
<path fill="#9090f0" d="M973 1089h5v17h-5zM997 1089h3v17h-3zM1012 1089h4v17h-4zM993 1139h4v17h-4zM1023 1139h4v17h-4zM997 1207h3v16h-3zM997 1223h3v17h-3zM1016 1257h3v17h-3zM973 1324h5v17h-5zM1004 1324h4v17h-4zM1054 1324h4v17h-4z"/>
<path fill="#a2a2ea" d="M981 1089h4v17h-4zM993 1089h4v17h-4zM1000 1089h4v17h-4zM1016 1089h3v17h-3zM1030 1089h4v17h-4zM1058 1089h3v17h-3zM1084 1089h4v17h-4zM1008 1139h4v17h-4zM1068 1139h4v17h-4zM970 1173h8v17h-8zM1004 1173h4v17h-4zM1042 1173h4v17h-4zM1054 1173h4v17h-4zM1084 1173h4v17h-4zM973 1223h5v17h-5zM993 1240h4v17h-4zM1050 1240h4v17h-4zM978 1257h3v17h-3zM990 1257h3v17h-3zM1023 1257h4v17h-4zM1050 1257h4v17h-4zM1068 1257h8v17h-8zM1084 1257h8v17h-8zM1023 1274h7v17h-7zM1042 1274h4v17h-4zM1076 1274h4v17h-4zM1023 1291h4v16h-4zM1038 1291h4v16h-4zM1065 1291h3v16h-3zM1058 1324h7v17h-7zM1088 1324h4v17h-4z"/>
<path fill="#9c9cf0" d="M985 1089h8v17h-8zM1042 1089h4v17h-4zM1023 1173h4v17h-4zM1038 1173h4v17h-4zM1023 1207h4v16h-4zM978 1223h3v17h-3zM1008 1223h4v17h-4zM1042 1240h4v17h-4zM1065 1240h3v17h-3zM1038 1257h4v17h-4zM1080 1257h4v17h-4zM973 1274h5v17h-5zM997 1274h3v17h-3zM1034 1274h4v17h-4zM1058 1274h3v17h-3zM1027 1324h7v17h-7zM1072 1324h4v17h-4zM1080 1324h8v17h-8z"/>
<path fill="#aeaeea" d="M1004 1089h4v17h-4zM1034 1089h8v17h-8zM1023 1106h4v17h-4zM1038 1139h4v17h-4zM1046 1139h4v17h-4zM1080 1139h4v17h-4zM1088 1139h4v17h-4zM1058 1156h3v17h-3zM1016 1173h3v17h-3zM1072 1173h4v17h-4zM1080 1173h4v17h-4zM1012 1190h4v17h-4zM1038 1190h4v17h-4zM1072 1190h4v17h-4zM1019 1223h4v17h-4zM985 1240h5v17h-5zM1016 1240h7v17h-7zM1000 1257h8v17h-8zM1019 1257h4v17h-4zM1030 1257h8v17h-8zM1061 1257h7v17h-7zM1030 1274h4v17h-4zM1038 1274h4v17h-4zM1065 1274h3v17h-3zM1084 1274h4v17h-4zM973 1291h5v16h-5zM990 1291h3v16h-3zM1034 1291h4v16h-4zM1050 1291h8v16h-8zM1061 1291h4v16h-4zM1068 1291h4v16h-4zM978 1307h3v17h-3zM1016 1324h3v17h-3zM1023 1324h4v17h-4zM1050 1324h4v17h-4zM990 1425h3v17h-3zM1019 1425h4v17h-4zM1050 1425h8v17h-8zM1012 1442h4v17h-4zM1019 1442h4v17h-4zM1088 1442h4v17h-4zM978 1459h3v17h-3zM993 1459h7v17h-7z"/>
<path fill="#8a8af0" d="M1008 1089h4v17h-4zM981 1207h4v16h-4zM981 1223h4v17h-4zM1008 1257h4v17h-4zM985 1274h5v17h-5z"/>
<path fill="#8484f0" d="M1019 1089h4v17h-4zM1027 1089h3v17h-3zM990 1223h3v17h-3zM978 1324h3v17h-3zM985 1324h5v17h-5z"/>
<path fill="#7878f0" d="M1023 1089h4v17h-4zM1004 1139h4v17h-4zM1000 1324h4v17h-4z"/>
<path fill="#9c9cea" d="M1046 1089h4v17h-4zM1054 1089h4v17h-4zM1000 1173h4v17h-4zM978 1240h3v17h-3zM1054 1257h4v17h-4zM1000 1274h4v17h-4zM1008 1274h8v17h-8zM1068 1274h4v17h-4zM978 1291h3v16h-3zM1016 1307h3v17h-3zM981 1324h4v17h-4zM1019 1324h4v17h-4z"/>
<path fill="#6666f6" d="M970 1139h3v17h-3zM985 1139h5v17h-5zM1000 1139h4v17h-4zM985 1207h5v16h-5zM1012 1207h4v16h-4z"/>
<path fill="#5454f6" d="M973 1139h5v17h-5zM990 1139h3v17h-3zM1016 1139h3v17h-3z"/>
<path fill="#7272f0" d="M978 1139h3v17h-3zM997 1139h3v17h-3zM1030 1139h4v17h-4zM1004 1207h4v16h-4zM970 1223h3v17h-3zM997 1257h3v17h-3z"/>
<path fill="#5a5af6" d="M981 1139h4v17h-4z"/>
<path fill="#7e7ef0" d="M1012 1139h4v17h-4zM1027 1139h3v17h-3zM990 1207h7v16h-7zM1050 1274h4v17h-4z"/>
<path fill="#6c6cf0" d="M1019 1139h4v17h-4zM970 1207h3v16h-3zM1016 1207h3v16h-3zM1030 1207h4v16h-4z"/>
<path fill="#9696f0" d="M1034 1139h4v17h-4zM981 1173h4v17h-4zM1019 1173h4v17h-4zM1008 1207h4v16h-4zM973 1257h5v17h-5zM1012 1257h4v17h-4zM1046 1257h4v17h-4zM1058 1257h3v17h-3zM990 1274h7v17h-7zM970 1324h3v17h-3zM990 1324h10v17h-10zM1008 1324h8v17h-8zM1034 1324h4v17h-4zM1065 1324h7v17h-7z"/>
<path fill="#6c6cf6" d="M973 1207h5v16h-5z"/>
<path fill="#4242f6" d="M978 1207h3v16h-3z"/>
<path fill="#4848f6" d="M1000 1207h4v16h-4z"/>
<path fill="#4e4ef6" d="M1019 1207h4v16h-4z"/>
</g>
<line x1="485.10" y1="292.24" x2="640.50" y2="292.24" stroke="#3a3a3a" stroke-width="0.9"/>
<line x1="485.10" y1="334.27" x2="640.50" y2="334.27" stroke="#3a3a3a" stroke-width="0.9"/>
<line x1="485.10" y1="376.31" x2="640.50" y2="376.31" stroke="#3a3a3a" stroke-width="0.9"/>
<line x1="485.10" y1="418.34" x2="640.50" y2="418.34" stroke="#3a3a3a" stroke-width="0.9"/>
<line x1="485.10" y1="460.38" x2="640.50" y2="460.38" stroke="#3a3a3a" stroke-width="0.9"/>
<line x1="485.10" y1="502.41" x2="640.50" y2="502.41" stroke="#3a3a3a" stroke-width="0.9"/>
<line x1="485.10" y1="544.44" x2="640.50" y2="544.44" stroke="#3a3a3a" stroke-width="0.9"/>
<line x1="485.10" y1="586.48" x2="640.50" y2="586.48" stroke="#3a3a3a" stroke-width="0.9"/>
<line x1="485.10" y1="628.51" x2="640.50" y2="628.51" stroke="#3a3a3a" stroke-width="0.9"/>
<line x1="485.10" y1="670.55" x2="640.50" y2="670.55" stroke="#3a3a3a" stroke-width="0.9"/>
<line x1="485.10" y1="712.59" x2="640.50" y2="712.59" stroke="#3a3a3a" stroke-width="0.9"/>
<text x="642.2" y="258.0" font-size="9.35" fill="#111" stroke="#111" stroke-width="0.22">Reg3g</text>
<text x="642.2" y="266.4" font-size="9.35" fill="#111" stroke="#111" stroke-width="0.22">Bpifb1</text>
<text x="642.2" y="274.8" font-size="9.35" fill="#111" stroke="#111" stroke-width="0.22">Ltf</text>
<text x="642.2" y="283.2" font-size="9.35" fill="#111" stroke="#111" stroke-width="0.22">S100a14</text>
<text x="642.2" y="291.6" font-size="9.35" fill="#111" stroke="#111" stroke-width="0.22">Serpinb1a</text>
<text x="642.2" y="300.0" font-size="9.35" fill="#111" stroke="#111" stroke-width="0.22">Gsto1</text>
<text x="642.2" y="308.4" font-size="9.35" fill="#111" stroke="#111" stroke-width="0.22">Cxcl17</text>
<text x="642.2" y="316.8" font-size="9.35" fill="#111" stroke="#111" stroke-width="0.22">Ifitm3</text>
<text x="642.2" y="325.3" font-size="9.35" fill="#111" stroke="#111" stroke-width="0.22">Ly6a</text>
<text x="642.2" y="333.7" font-size="9.35" fill="#111" stroke="#111" stroke-width="0.22">Anxa1</text>
<text x="642.2" y="342.1" font-size="9.35" fill="#111" stroke="#111" stroke-width="0.22">Cxcl17</text>
<text x="642.2" y="350.5" font-size="9.35" fill="#111" stroke="#111" stroke-width="0.22">Ifitm3</text>
<text x="642.2" y="358.9" font-size="9.35" fill="#111" stroke="#111" stroke-width="0.22">Anxa1</text>
<text x="642.2" y="367.3" font-size="9.35" fill="#111" stroke="#111" stroke-width="0.22">Timp2</text>
<text x="642.2" y="375.7" font-size="9.35" fill="#111" stroke="#111" stroke-width="0.22">Plscr1</text>
<text x="642.2" y="384.1" font-size="9.35" fill="#111" stroke="#111" stroke-width="0.22">Cxcl17</text>
<text x="642.2" y="392.5" font-size="9.35" fill="#111" stroke="#111" stroke-width="0.22">Pglyrp1</text>
<text x="642.2" y="400.9" font-size="9.35" fill="#111" stroke="#111" stroke-width="0.22">Hspb1</text>
<text x="642.2" y="409.3" font-size="9.35" fill="#111" stroke="#111" stroke-width="0.22">Anxa1</text>
<text x="642.2" y="417.7" font-size="9.35" fill="#111" stroke="#111" stroke-width="0.22">Cxcl5</text>
<text x="642.2" y="426.1" font-size="9.35" fill="#111" stroke="#111" stroke-width="0.22">Mgst1</text>
<text x="642.2" y="434.5" font-size="9.35" fill="#111" stroke="#111" stroke-width="0.22">Gsta3</text>
<text x="642.2" y="443.0" font-size="9.35" fill="#111" stroke="#111" stroke-width="0.22">Cyp2f2</text>
<text x="642.2" y="451.4" font-size="9.35" fill="#111" stroke="#111" stroke-width="0.22">Aldh1a1</text>
<text x="642.2" y="459.8" font-size="9.35" fill="#111" stroke="#111" stroke-width="0.22">Gstm1</text>
<text x="642.2" y="468.2" font-size="9.35" fill="#111" stroke="#111" stroke-width="0.22">Aldh1a1</text>
<text x="642.2" y="476.6" font-size="9.35" fill="#111" stroke="#111" stroke-width="0.22">Hp</text>
<text x="642.2" y="485.0" font-size="9.35" fill="#111" stroke="#111" stroke-width="0.22">Krt18</text>
<text x="642.2" y="493.4" font-size="9.35" fill="#111" stroke="#111" stroke-width="0.22">Nupr1</text>
<text x="642.2" y="501.8" font-size="9.35" fill="#111" stroke="#111" stroke-width="0.22">Ier3</text>
<text x="642.2" y="510.2" font-size="9.35" fill="#111" stroke="#111" stroke-width="0.22">Cckar</text>
<text x="642.2" y="518.6" font-size="9.35" fill="#111" stroke="#111" stroke-width="0.22">Ces1g</text>
<text x="642.2" y="527.0" font-size="9.35" fill="#111" stroke="#111" stroke-width="0.22">Cdkn1c</text>
<text x="642.2" y="535.4" font-size="9.35" fill="#111" stroke="#111" stroke-width="0.22">Nr1d1</text>
<text x="642.2" y="543.8" font-size="9.35" fill="#111" stroke="#111" stroke-width="0.22">Shh</text>
<text x="642.2" y="552.2" font-size="9.35" fill="#111" stroke="#111" stroke-width="0.22">Cd81</text>
<text x="642.2" y="560.7" font-size="9.35" fill="#111" stroke="#111" stroke-width="0.22">Fgfr2</text>
<text x="642.2" y="569.1" font-size="9.35" fill="#111" stroke="#111" stroke-width="0.22">Lrrk2</text>
<text x="642.2" y="577.5" font-size="9.35" fill="#111" stroke="#111" stroke-width="0.22">Ager</text>
<text x="642.2" y="585.9" font-size="9.35" fill="#111" stroke="#111" stroke-width="0.22">Mbip</text>
<text x="642.2" y="594.3" font-size="9.35" fill="#111" stroke="#111" stroke-width="0.22">Abca3</text>
<text x="642.2" y="602.7" font-size="9.35" fill="#111" stroke="#111" stroke-width="0.22">Ank3</text>
<text x="642.2" y="611.1" font-size="9.35" fill="#111" stroke="#111" stroke-width="0.22">Atp8a1</text>
<text x="642.2" y="619.5" font-size="9.35" fill="#111" stroke="#111" stroke-width="0.22">Sftpd</text>
<text x="642.2" y="627.9" font-size="9.35" fill="#111" stroke="#111" stroke-width="0.22">Cd81</text>
<text x="642.2" y="636.3" font-size="9.35" fill="#111" stroke="#111" stroke-width="0.22">Scd1</text>
<text x="642.2" y="644.7" font-size="9.35" fill="#111" stroke="#111" stroke-width="0.22">Lpcat1</text>
<text x="642.2" y="653.1" font-size="9.35" fill="#111" stroke="#111" stroke-width="0.22">Fasn</text>
<text x="642.2" y="661.5" font-size="9.35" fill="#111" stroke="#111" stroke-width="0.22">Elovl1</text>
<text x="642.2" y="669.9" font-size="9.35" fill="#111" stroke="#111" stroke-width="0.22">Cd74</text>
<text x="642.2" y="678.4" font-size="9.35" fill="#111" stroke="#111" stroke-width="0.22">Slc39a8</text>
<text x="642.2" y="686.8" font-size="9.35" fill="#111" stroke="#111" stroke-width="0.22">Lrp2</text>
<text x="642.2" y="695.2" font-size="9.35" fill="#111" stroke="#111" stroke-width="0.22">Kcne2</text>
<text x="642.2" y="703.6" font-size="9.35" fill="#111" stroke="#111" stroke-width="0.22">Slc1a3</text>
<text x="642.2" y="712.0" font-size="9.35" fill="#111" stroke="#111" stroke-width="0.22">Steap2</text>
<text x="642.2" y="720.4" font-size="9.35" fill="#111" stroke="#111" stroke-width="0.22">H2−Aa</text>
<text x="642.2" y="728.8" font-size="9.35" fill="#111" stroke="#111" stroke-width="0.22">H2−Ab1</text>
<text x="642.2" y="737.2" font-size="9.35" fill="#111" stroke="#111" stroke-width="0.22">H2−Eb1</text>
<text x="642.2" y="745.6" font-size="9.35" fill="#111" stroke="#111" stroke-width="0.22">H2−DMb1</text>
<text x="642.2" y="754.0" font-size="9.35" fill="#111" stroke="#111" stroke-width="0.22">H2−DMa</text>
<text x="482.8" y="262.6" font-size="8.0" text-anchor="end" fill="#111" stroke="#111" stroke-width="0.22">module-5</text>
<text x="482.8" y="270.7" font-size="8.0" text-anchor="end" fill="#111" stroke="#111" stroke-width="0.22">regulation of</text>
<text x="482.8" y="278.8" font-size="8.0" text-anchor="end" fill="#111" stroke="#111" stroke-width="0.22">innate immune</text>
<text x="482.8" y="286.9" font-size="8.0" text-anchor="end" fill="#111" stroke="#111" stroke-width="0.22">response</text>
<text x="482.8" y="304.6" font-size="8.0" text-anchor="end" fill="#111" stroke="#111" stroke-width="0.22">module-2</text>
<text x="482.8" y="312.7" font-size="8.0" text-anchor="end" fill="#111" stroke="#111" stroke-width="0.22">cellular response</text>
<text x="482.8" y="320.8" font-size="8.0" text-anchor="end" fill="#111" stroke="#111" stroke-width="0.22">to chemical</text>
<text x="482.8" y="328.9" font-size="8.0" text-anchor="end" fill="#111" stroke="#111" stroke-width="0.22">stimulus</text>
<text x="482.8" y="350.7" font-size="8.0" text-anchor="end" fill="#111" stroke="#111" stroke-width="0.22">module-2</text>
<text x="482.8" y="358.8" font-size="8.0" text-anchor="end" fill="#111" stroke="#111" stroke-width="0.22">response to</text>
<text x="482.8" y="366.9" font-size="8.0" text-anchor="end" fill="#111" stroke="#111" stroke-width="0.22">cytokine</text>
<text x="482.8" y="388.7" font-size="8.0" text-anchor="end" fill="#111" stroke="#111" stroke-width="0.22">module-2</text>
<text x="482.8" y="396.8" font-size="8.0" text-anchor="end" fill="#111" stroke="#111" stroke-width="0.22">regulation of</text>
<text x="482.8" y="404.9" font-size="8.0" text-anchor="end" fill="#111" stroke="#111" stroke-width="0.22">cytokine</text>
<text x="482.8" y="413.0" font-size="8.0" text-anchor="end" fill="#111" stroke="#111" stroke-width="0.22">production</text>
<text x="482.8" y="430.7" font-size="8.0" text-anchor="end" fill="#111" stroke="#111" stroke-width="0.22">module-3</text>
<text x="482.8" y="438.8" font-size="8.0" text-anchor="end" fill="#111" stroke="#111" stroke-width="0.22">response to</text>
<text x="482.8" y="446.9" font-size="8.0" text-anchor="end" fill="#111" stroke="#111" stroke-width="0.22">xenobiotic</text>
<text x="482.8" y="455.0" font-size="8.0" text-anchor="end" fill="#111" stroke="#111" stroke-width="0.22">stimulus</text>
<text x="482.8" y="472.7" font-size="8.0" text-anchor="end" fill="#111" stroke="#111" stroke-width="0.22">module-3</text>
<text x="482.8" y="480.8" font-size="8.0" text-anchor="end" fill="#111" stroke="#111" stroke-width="0.22">regulation</text>
<text x="482.8" y="488.9" font-size="8.0" text-anchor="end" fill="#111" stroke="#111" stroke-width="0.22">of cell</text>
<text x="482.8" y="497.0" font-size="8.0" text-anchor="end" fill="#111" stroke="#111" stroke-width="0.22">death</text>
<text x="482.8" y="514.8" font-size="8.0" text-anchor="end" fill="#111" stroke="#111" stroke-width="0.22">module-7</text>
<text x="482.8" y="522.9" font-size="8.0" text-anchor="end" fill="#111" stroke="#111" stroke-width="0.22">cellular</text>
<text x="482.8" y="531.0" font-size="8.0" text-anchor="end" fill="#111" stroke="#111" stroke-width="0.22">developmental</text>
<text x="482.8" y="539.1" font-size="8.0" text-anchor="end" fill="#111" stroke="#111" stroke-width="0.22">process</text>
<text x="482.8" y="552.8" font-size="8.0" text-anchor="end" fill="#111" stroke="#111" stroke-width="0.22">module-1</text>
<text x="482.8" y="560.9" font-size="8.0" text-anchor="end" fill="#111" stroke="#111" stroke-width="0.22">positive</text>
<text x="482.8" y="569.0" font-size="8.0" text-anchor="end" fill="#111" stroke="#111" stroke-width="0.22">regulation of</text>
<text x="482.8" y="577.1" font-size="8.0" text-anchor="end" fill="#111" stroke="#111" stroke-width="0.22">MAPK</text>
<text x="482.8" y="585.2" font-size="8.0" text-anchor="end" fill="#111" stroke="#111" stroke-width="0.22">cascade</text>
<text x="482.8" y="598.8" font-size="8.0" text-anchor="end" fill="#111" stroke="#111" stroke-width="0.22">module-1</text>
<text x="482.8" y="606.9" font-size="8.0" text-anchor="end" fill="#111" stroke="#111" stroke-width="0.22">positive</text>
<text x="482.8" y="615.0" font-size="8.0" text-anchor="end" fill="#111" stroke="#111" stroke-width="0.22">regulation of</text>
<text x="482.8" y="623.1" font-size="8.0" text-anchor="end" fill="#111" stroke="#111" stroke-width="0.22">transport</text>
<text x="482.8" y="640.9" font-size="8.0" text-anchor="end" fill="#111" stroke="#111" stroke-width="0.22">module-4</text>
<text x="482.8" y="649.0" font-size="8.0" text-anchor="end" fill="#111" stroke="#111" stroke-width="0.22">lipid</text>
<text x="482.8" y="657.1" font-size="8.0" text-anchor="end" fill="#111" stroke="#111" stroke-width="0.22">biosynthetic</text>
<text x="482.8" y="665.2" font-size="8.0" text-anchor="end" fill="#111" stroke="#111" stroke-width="0.22">process</text>
<text x="482.8" y="678.9" font-size="8.0" text-anchor="end" fill="#111" stroke="#111" stroke-width="0.22">module-4</text>
<text x="482.8" y="687.0" font-size="8.0" text-anchor="end" fill="#111" stroke="#111" stroke-width="0.22">import</text>
<text x="482.8" y="695.1" font-size="8.0" text-anchor="end" fill="#111" stroke="#111" stroke-width="0.22">across</text>
<text x="482.8" y="703.2" font-size="8.0" text-anchor="end" fill="#111" stroke="#111" stroke-width="0.22">plasma</text>
<text x="482.8" y="711.3" font-size="8.0" text-anchor="end" fill="#111" stroke="#111" stroke-width="0.22">membrane</text>
<text x="482.8" y="720.9" font-size="8.0" text-anchor="end" fill="#111" stroke="#111" stroke-width="0.22">module-4</text>
<text x="482.8" y="729.0" font-size="8.0" text-anchor="end" fill="#111" stroke="#111" stroke-width="0.22">MHC class II</text>
<text x="482.8" y="737.1" font-size="8.0" text-anchor="end" fill="#111" stroke="#111" stroke-width="0.22">protein</text>
<text x="482.8" y="745.2" font-size="8.0" text-anchor="end" fill="#111" stroke="#111" stroke-width="0.22">complex</text>
<text x="482.8" y="753.3" font-size="8.0" text-anchor="end" fill="#111" stroke="#111" stroke-width="0.22">assembly</text>
<text x="431.0" y="353.6" font-size="9.35" text-anchor="end" fill="#111" stroke="#111" stroke-width="0.22">scaled</text>
<text x="431.0" y="362.2" font-size="9.35" text-anchor="end" fill="#111" stroke="#111" stroke-width="0.22">expression</text>
<defs><linearGradient id="cbD" x1="0" x2="0" y1="0" y2="1"><stop offset="0" stop-color="#861414"/><stop offset="0.29" stop-color="#b01e1e"/><stop offset="0.43" stop-color="#c82828"/><stop offset="0.6" stop-color="#dc9a9a"/><stop offset="0.714" stop-color="#e2dede"/><stop offset="0.82" stop-color="#a8a8f0"/><stop offset="1" stop-color="#0000ff"/></linearGradient></defs>
<rect x="420.30" y="369.70" width="11.20" height="71.70" fill="url(#cbD)"/>
<text x="418.4" y="372.9" font-size="9.35" text-anchor="end" fill="#111" stroke="#111" stroke-width="0.22">10</text>
<text x="418.4" y="383.1" font-size="9.35" text-anchor="end" fill="#111" stroke="#111" stroke-width="0.22">8</text>
<text x="418.4" y="393.4" font-size="9.35" text-anchor="end" fill="#111" stroke="#111" stroke-width="0.22">6</text>
<text x="418.4" y="403.6" font-size="9.35" text-anchor="end" fill="#111" stroke="#111" stroke-width="0.22">4</text>
<text x="418.4" y="413.9" font-size="9.35" text-anchor="end" fill="#111" stroke="#111" stroke-width="0.22">2</text>
<text x="418.4" y="424.1" font-size="9.35" text-anchor="end" fill="#111" stroke="#111" stroke-width="0.22">0</text>
<text x="418.4" y="434.3" font-size="9.35" text-anchor="end" fill="#111" stroke="#111" stroke-width="0.22">−2</text>
<text x="418.4" y="444.6" font-size="9.35" text-anchor="end" fill="#111" stroke="#111" stroke-width="0.22">−4</text>
<text x="431.0" y="460.1" font-size="11.3" text-anchor="end" fill="#111" stroke="#111" stroke-width="0.22">cluster</text>
<rect x="420.30" y="464.10" width="11.20" height="11.25" fill="#ff2a2a"/>
<text x="417.5" y="472.6" font-size="9.35" text-anchor="end" fill="#111" stroke="#111" stroke-width="0.22">AEC2b (2)</text>
<rect x="420.30" y="475.35" width="11.20" height="11.25" fill="#575457"/>
<text x="417.5" y="483.9" font-size="9.35" text-anchor="end" fill="#111" stroke="#111" stroke-width="0.22">AEC2a (0)</text>
<rect x="420.30" y="486.60" width="11.20" height="11.25" fill="#ff00ff"/>
<text x="417.5" y="495.1" font-size="9.35" text-anchor="end" fill="#111" stroke="#111" stroke-width="0.22">DP (3)</text>
<rect x="420.30" y="497.85" width="11.20" height="11.25" fill="#e0e0e0"/>
<text x="417.5" y="506.4" font-size="9.35" text-anchor="end" fill="#111" stroke="#111" stroke-width="0.22">S2 (1)</text>
<rect x="420.30" y="509.10" width="11.20" height="11.25" fill="#3a8ef0"/>
<text x="417.5" y="517.6" font-size="9.35" text-anchor="end" fill="#111" stroke="#111" stroke-width="0.22">S1 (5)</text>
<text x="10.6" y="382.4" font-size="13" fill="#111" stroke="#111" stroke-width="0.22">E</text>
<text x="108.8" y="384.4" font-size="10.67" text-anchor="middle" fill="#111" stroke="#111" stroke-width="0.22">Selected markers expression allong</text>
<text x="108.8" y="394.0" font-size="10.67" text-anchor="middle" fill="#111" stroke="#111" stroke-width="0.22">scRNA-Seq airway trajectory</text>
<path d="M20.4 394.6 L191.2 407.8 L20.4 407.8 Z" fill="none" stroke="#333" stroke-width="0.9"/>
<text x="25.7" y="404.9" font-size="9.35" fill="#111" stroke="#111" stroke-width="0.22">trajectory</text>
<rect x="20.40" y="412.20" width="87.00" height="5.80" fill="#1010f0"/>
<rect x="107.40" y="412.20" width="83.80" height="5.80" fill="#c0c0c0"/>
<rect x="99.30" y="412.20" width="0.70" height="5.80" fill="#9090f0"/>
<rect x="101.40" y="412.20" width="0.70" height="5.80" fill="#9090f0"/>
<rect x="103.80" y="412.20" width="0.70" height="5.80" fill="#9090f0"/>
<g transform="scale(.5)" shape-rendering="crispEdges">
<path fill="#a81818" d="M40 839h3v20h-3zM55 839h3v20h-3zM61 839h3v20h-3zM136 839h4v20h-4zM58 879h3v20h-3zM109 879h4v20h-4zM116 879h4v20h-4zM128 879h8v20h-8zM40 899h3v20h-3zM46 899h2v20h-2zM116 899h4v20h-4zM165 899h3v20h-3zM168 1019h4v20h-4zM253 1019h3v20h-3z"/>
<path fill="#961818" d="M43 839h3v20h-3zM75 839h3v20h-3zM91 839h3v20h-3zM120 839h3v20h-3zM161 839h4v20h-4zM177 879h5v20h-5zM98 899h2v20h-2zM327 1019h4v20h-4zM68 1119h7v20h-7zM133 1119h3v20h-3zM150 1119h4v20h-4zM203 1119h3v20h-3zM347 1119h4v20h-4z"/>
<path fill="#a21818" d="M46 839h5v20h-5zM72 839h3v20h-3zM107 839h2v20h-2zM113 839h3v20h-3zM133 839h3v20h-3zM140 839h3v20h-3zM165 839h3v20h-3zM172 839h3v20h-3zM40 879h3v20h-3zM61 879h3v20h-3zM143 879h4v20h-4zM150 879h4v20h-4zM55 899h3v20h-3zM109 899h4v20h-4zM147 899h3v20h-3zM231 1019h4v20h-4zM260 1019h6v20h-6zM293 1019h7v20h-7zM306 1019h4v20h-4zM337 1019h3v20h-3zM354 1019h4v20h-4zM380 1019h3v20h-3zM300 1039h3v20h-3z"/>
<path fill="#8a1212" d="M51 839h4v20h-4zM358 1019h4v20h-4zM51 1119h4v20h-4zM58 1119h3v20h-3zM78 1119h3v20h-3zM109 1119h14v20h-14zM126 1119h2v20h-2zM143 1119h4v20h-4zM172 1119h5v20h-5zM219 1119h4v20h-4zM231 1119h4v20h-4zM242 1119h7v20h-7zM263 1119h3v20h-3zM306 1119h4v20h-4zM319 1119h4v20h-4zM337 1119h3v20h-3zM351 1119h7v20h-7zM362 1119h7v20h-7z"/>
<path fill="#901212" d="M58 839h3v20h-3zM78 839h3v20h-3zM98 839h2v20h-2zM109 839h4v20h-4zM147 839h3v20h-3zM223 1019h4v20h-4zM40 1119h11v20h-11zM81 1119h8v20h-8zM100 1119h4v20h-4zM107 1119h2v20h-2zM136 1119h7v20h-7zM147 1119h3v20h-3zM154 1119h4v20h-4zM161 1119h7v20h-7zM182 1119h3v20h-3zM188 1119h6v20h-6zM200 1119h3v20h-3zM209 1119h10v20h-10zM223 1119h4v20h-4zM256 1119h4v20h-4zM269 1119h11v20h-11zM290 1119h7v20h-7zM300 1119h6v20h-6zM310 1119h3v20h-3zM316 1119h3v20h-3zM327 1119h4v20h-4zM334 1119h3v20h-3zM369 1119h3v20h-3zM376 1119h7v20h-7z"/>
<path fill="#961212" d="M64 839h4v20h-4zM55 879h3v20h-3zM81 879h4v20h-4zM313 1019h3v20h-3zM55 1119h3v20h-3zM61 1119h3v20h-3zM75 1119h3v20h-3zM89 1119h2v20h-2zM94 1119h4v20h-4zM104 1119h3v20h-3zM128 1119h5v20h-5zM177 1119h5v20h-5zM197 1119h3v20h-3zM206 1119h3v20h-3zM239 1119h3v20h-3zM249 1119h4v20h-4zM266 1119h3v20h-3zM280 1119h3v20h-3zM287 1119h3v20h-3zM297 1119h3v20h-3zM323 1119h4v20h-4zM331 1119h3v20h-3zM358 1119h4v20h-4zM372 1119h4v20h-4z"/>
<path fill="#9c1818" d="M68 839h4v20h-4zM85 839h4v20h-4zM94 839h4v20h-4zM123 839h3v20h-3zM143 839h4v20h-4zM150 839h11v20h-11zM168 839h4v20h-4zM85 879h4v20h-4zM168 879h4v20h-4zM185 1019h3v20h-3zM64 1119h4v20h-4zM98 1119h2v20h-2zM168 1119h4v20h-4zM185 1119h3v20h-3zM227 1119h4v20h-4zM253 1119h3v20h-3zM283 1119h4v20h-4z"/>
<path fill="#840c0c" d="M81 839h4v20h-4zM89 839h2v20h-2zM175 839h2v20h-2zM91 1119h3v20h-3zM123 1119h3v20h-3zM158 1119h3v20h-3zM194 1119h3v20h-3zM235 1119h4v20h-4zM260 1119h3v20h-3zM313 1119h3v20h-3zM340 1119h7v20h-7z"/>
<path fill="#ae2424" d="M100 839h4v20h-4zM126 839h2v20h-2zM188 839h3v20h-3zM68 879h4v20h-4zM123 879h3v20h-3zM147 879h3v20h-3zM158 879h7v20h-7zM172 879h3v20h-3zM185 879h3v20h-3zM194 879h3v20h-3zM75 899h3v20h-3zM150 899h8v20h-8zM168 919h4v20h-4zM113 1019h3v20h-3zM191 1019h3v20h-3zM197 1019h3v20h-3zM203 1019h3v20h-3zM340 1019h4v20h-4zM337 1039h3v20h-3z"/>
<path fill="#a81e1e" d="M104 839h3v20h-3zM116 839h4v20h-4zM128 839h5v20h-5zM94 879h4v20h-4zM140 879h3v20h-3zM175 879h2v20h-2zM43 899h3v20h-3zM136 899h4v20h-4zM143 899h4v20h-4zM133 1019h3v20h-3zM154 1019h4v20h-4zM165 1019h3v20h-3zM283 1019h4v20h-4zM310 1019h3v20h-3zM316 1019h3v20h-3zM334 1019h3v20h-3zM376 1019h4v20h-4z"/>
<path fill="#b42424" d="M177 839h5v20h-5zM197 839h3v20h-3zM58 859h3v20h-3zM43 879h3v20h-3zM78 879h3v20h-3zM188 879h3v20h-3zM78 899h3v20h-3zM89 899h2v20h-2zM126 899h2v20h-2zM172 899h3v20h-3zM182 899h3v20h-3zM188 899h3v20h-3zM89 1019h2v20h-2zM120 1019h3v20h-3zM126 1019h2v20h-2zM216 1019h3v20h-3zM269 1019h4v20h-4zM287 1019h3v20h-3zM365 1019h4v20h-4zM175 1039h2v20h-2zM203 1039h3v20h-3zM246 1039h3v20h-3zM273 1039h7v20h-7zM297 1039h3v20h-3z"/>
<path fill="#c03636" d="M182 839h3v20h-3zM191 839h3v20h-3zM68 859h4v20h-4zM81 859h4v20h-4zM107 859h2v20h-2zM120 859h3v20h-3zM150 859h8v20h-8zM48 879h3v20h-3zM104 879h3v20h-3zM203 879h3v20h-3zM91 899h3v20h-3zM113 899h3v20h-3zM194 899h6v20h-6zM46 919h2v20h-2zM126 919h2v20h-2zM104 1019h3v20h-3zM150 1019h4v20h-4zM161 1019h4v20h-4zM194 1019h3v20h-3zM213 1019h3v20h-3zM246 1019h3v20h-3zM290 1019h3v20h-3zM235 1039h4v20h-4zM242 1039h4v20h-4zM369 1039h3v20h-3z"/>
<path fill="#b42a2a" d="M185 839h3v20h-3zM46 879h2v20h-2zM72 879h3v20h-3zM107 879h2v20h-2zM120 879h3v20h-3zM136 879h4v20h-4zM58 899h3v20h-3zM72 899h3v20h-3zM85 899h4v20h-4zM140 899h3v20h-3zM177 899h5v20h-5zM109 919h4v20h-4zM116 919h4v20h-4zM75 1019h3v20h-3zM123 1019h3v20h-3zM172 1019h3v20h-3zM188 1019h3v20h-3zM200 1019h3v20h-3zM239 1019h3v20h-3zM256 1019h4v20h-4zM280 1019h3v20h-3zM347 1019h4v20h-4zM266 1039h3v20h-3zM358 1039h4v20h-4z"/>
<path fill="#ba2a2a" d="M194 839h3v20h-3zM43 859h3v20h-3zM100 879h4v20h-4zM61 899h3v20h-3zM81 899h4v20h-4zM94 899h4v20h-4zM104 899h3v20h-3zM123 899h3v20h-3zM168 899h4v20h-4zM175 899h2v20h-2zM43 919h3v20h-3zM85 919h4v20h-4zM113 919h3v20h-3zM48 1019h3v20h-3zM98 1019h2v20h-2zM128 1019h5v20h-5zM175 1019h2v20h-2zM182 1019h3v20h-3zM242 1019h4v20h-4zM266 1019h3v20h-3zM277 1019h3v20h-3zM319 1019h8v20h-8zM344 1039h3v20h-3zM362 1039h3v20h-3z"/>
<path fill="#c63636" d="M200 839h3v20h-3zM51 879h4v20h-4zM120 899h3v20h-3zM64 919h4v20h-4zM51 1019h4v20h-4zM91 1019h7v20h-7zM109 1019h4v20h-4zM263 1039h3v20h-3zM319 1039h4v20h-4zM327 1039h4v20h-4z"/>
<path fill="#cc4848" d="M203 839h6v20h-6zM104 859h3v20h-3zM143 859h4v20h-4zM120 919h3v20h-3zM249 1019h4v20h-4zM227 1039h4v20h-4zM313 1039h3v20h-3zM334 1039h3v20h-3z"/>
<path fill="#c63c3c" d="M209 839h4v20h-4zM128 859h5v20h-5zM136 859h4v20h-4zM175 859h2v20h-2zM64 879h4v20h-4zM75 879h3v20h-3zM200 879h3v20h-3zM48 899h3v20h-3zM128 899h5v20h-5zM191 899h3v20h-3zM200 899h3v20h-3zM68 919h4v20h-4zM78 919h3v20h-3zM175 919h2v20h-2zM68 1019h4v20h-4zM209 1019h4v20h-4zM344 1019h3v20h-3zM158 1039h3v20h-3zM200 1039h3v20h-3zM219 1039h4v20h-4zM249 1039h7v20h-7zM306 1039h4v20h-4zM316 1039h3v20h-3zM323 1039h4v20h-4zM331 1039h3v20h-3zM365 1039h4v20h-4zM376 1039h4v20h-4z"/>
<path fill="#d25a5a" d="M213 839h3v20h-3zM78 859h3v20h-3zM206 899h3v20h-3zM161 919h4v20h-4z"/>
<path fill="#de9696" d="M216 839h3v20h-3zM123 859h3v20h-3zM143 919h4v20h-4zM158 919h3v20h-3zM172 919h3v20h-3zM182 919h6v20h-6zM161 1039h4v20h-4zM172 1039h3v20h-3zM287 1039h3v20h-3zM303 1079h7v20h-7zM319 1079h4v20h-4z"/>
<path fill="#eab4b4" d="M219 839h4v20h-4zM213 859h3v20h-3zM216 899h3v20h-3zM209 919h4v20h-4zM136 1039h4v20h-4zM239 1079h3v20h-3zM249 1079h4v20h-4zM161 1099h4v20h-4z"/>
<path fill="#f0cccc" d="M223 839h4v20h-4zM206 859h3v20h-3zM219 879h4v20h-4zM40 939h3v20h-3zM61 939h3v20h-3zM98 939h2v20h-2zM107 939h6v20h-6zM126 939h2v20h-2zM136 939h7v20h-7zM158 939h3v20h-3zM165 939h7v20h-7zM158 999h3v20h-3zM91 1039h3v20h-3zM64 1059h4v20h-4zM209 1059h4v20h-4zM231 1059h4v20h-4zM239 1059h3v20h-3zM269 1059h4v20h-4zM280 1059h3v20h-3zM287 1059h3v20h-3zM293 1059h4v20h-4zM303 1059h3v20h-3zM331 1059h3v20h-3zM351 1059h3v20h-3zM380 1059h3v20h-3zM107 1099h2v20h-2z"/>
<path fill="#f6f0f0" d="M227 839h8v20h-8zM242 839h4v20h-4zM277 839h3v20h-3zM283 839h4v20h-4zM306 839h4v20h-4zM319 839h4v20h-4zM327 839h4v20h-4zM340 839h4v20h-4zM354 839h11v20h-11zM369 839h3v20h-3zM242 859h4v20h-4zM249 859h4v20h-4zM256 859h13v20h-13zM273 859h4v20h-4zM280 859h3v20h-3zM287 859h6v20h-6zM297 859h3v20h-3zM310 859h6v20h-6zM319 859h4v20h-4zM327 859h4v20h-4zM337 859h3v20h-3zM354 859h29v20h-29zM235 879h4v20h-4zM242 879h7v20h-7zM253 879h3v20h-3zM260 879h6v20h-6zM269 879h21v20h-21zM293 879h7v20h-7zM303 879h13v20h-13zM319 879h15v20h-15zM337 879h3v20h-3zM351 879h7v20h-7zM362 879h3v20h-3zM372 879h4v20h-4zM380 879h3v20h-3zM235 899h4v20h-4zM242 899h4v20h-4zM249 899h4v20h-4zM269 899h11v20h-11zM283 899h4v20h-4zM293 899h23v20h-23zM334 899h20v20h-20zM358 899h22v20h-22zM227 919h8v20h-8zM239 919h3v20h-3zM246 919h7v20h-7zM260 919h3v20h-3zM266 919h3v20h-3zM273 919h14v20h-14zM297 919h6v20h-6zM306 919h4v20h-4zM313 919h10v20h-10zM327 919h10v20h-10zM340 919h4v20h-4zM351 919h3v20h-3zM358 919h11v20h-11zM227 939h4v20h-4zM253 939h3v20h-3zM273 939h4v20h-4zM280 939h7v20h-7zM293 939h4v20h-4zM327 939h4v20h-4zM334 939h3v20h-3zM340 939h4v20h-4zM351 939h3v20h-3zM362 939h3v20h-3zM369 939h11v20h-11zM231 959h8v20h-8zM242 959h4v20h-4zM253 959h7v20h-7zM263 959h10v20h-10zM277 959h3v20h-3zM287 959h3v20h-3zM293 959h7v20h-7zM303 959h3v20h-3zM323 959h21v20h-21zM347 959h7v20h-7zM358 959h4v20h-4zM94 979h4v20h-4zM253 979h3v20h-3zM280 979h7v20h-7zM300 979h3v20h-3zM327 979h4v20h-4zM354 979h4v20h-4zM365 979h4v20h-4zM372 979h8v20h-8zM354 999h4v20h-4zM376 999h4v20h-4zM51 1039h4v20h-4zM61 1039h7v20h-7zM72 1039h3v20h-3zM78 1039h3v20h-3zM94 1059h4v20h-4zM55 1079h6v20h-6zM64 1079h4v20h-4zM75 1079h3v20h-3zM85 1079h9v20h-9zM104 1079h3v20h-3zM109 1079h4v20h-4zM116 1079h4v20h-4zM126 1079h2v20h-2zM147 1079h3v20h-3zM161 1079h4v20h-4zM168 1079h4v20h-4zM185 1079h3v20h-3zM197 1079h3v20h-3zM203 1079h6v20h-6zM219 1079h4v20h-4zM40 1099h3v20h-3zM64 1099h8v20h-8zM75 1099h3v20h-3zM81 1099h4v20h-4zM89 1099h11v20h-11zM113 1099h7v20h-7zM140 1099h3v20h-3zM147 1099h3v20h-3zM154 1099h4v20h-4zM297 1099h3v20h-3z"/>
<path fill="#f0eaea" d="M235 839h7v20h-7zM246 839h3v20h-3zM256 839h4v20h-4zM290 839h7v20h-7zM300 839h3v20h-3zM323 839h4v20h-4zM334 839h3v20h-3zM344 839h3v20h-3zM351 839h3v20h-3zM380 839h3v20h-3zM235 859h4v20h-4zM246 859h3v20h-3zM253 859h3v20h-3zM293 859h4v20h-4zM300 859h3v20h-3zM331 859h3v20h-3zM239 879h3v20h-3zM300 879h3v20h-3zM316 879h3v20h-3zM334 879h3v20h-3zM344 879h3v20h-3zM369 879h3v20h-3zM246 899h3v20h-3zM253 899h3v20h-3zM290 899h3v20h-3zM316 899h15v20h-15zM235 919h4v20h-4zM263 919h3v20h-3zM287 919h10v20h-10zM369 919h3v20h-3zM376 919h4v20h-4zM223 939h4v20h-4zM235 939h11v20h-11zM256 939h4v20h-4zM263 939h10v20h-10zM277 939h3v20h-3zM290 939h3v20h-3zM300 939h6v20h-6zM310 939h3v20h-3zM319 939h8v20h-8zM358 939h4v20h-4zM113 959h3v20h-3zM154 959h4v20h-4zM216 959h7v20h-7zM246 959h3v20h-3zM280 959h3v20h-3zM300 959h3v20h-3zM310 959h6v20h-6zM319 959h4v20h-4zM354 959h4v20h-4zM40 979h6v20h-6zM55 979h3v20h-3zM61 979h3v20h-3zM75 979h3v20h-3zM89 979h2v20h-2zM107 979h2v20h-2zM116 979h4v20h-4zM123 979h3v20h-3zM128 979h8v20h-8zM168 979h4v20h-4zM209 979h4v20h-4zM219 979h16v20h-16zM242 979h4v20h-4zM260 979h6v20h-6zM277 979h3v20h-3zM287 979h13v20h-13zM310 979h9v20h-9zM323 979h4v20h-4zM331 979h3v20h-3zM340 979h7v20h-7zM351 979h3v20h-3zM358 979h4v20h-4zM369 979h3v20h-3zM126 999h2v20h-2zM197 999h3v20h-3zM283 999h4v20h-4zM303 999h3v20h-3zM334 999h3v20h-3zM358 999h7v20h-7zM380 999h3v20h-3zM46 1039h5v20h-5zM43 1059h3v20h-3zM85 1059h4v20h-4zM98 1059h2v20h-2zM140 1059h3v20h-3zM216 1059h3v20h-3zM40 1079h3v20h-3zM48 1079h3v20h-3zM81 1079h4v20h-4zM98 1079h6v20h-6zM120 1079h3v20h-3zM143 1079h4v20h-4zM154 1079h4v20h-4zM175 1079h2v20h-2zM182 1079h3v20h-3zM43 1099h3v20h-3zM48 1099h7v20h-7zM58 1099h3v20h-3zM78 1099h3v20h-3zM100 1099h7v20h-7zM109 1099h4v20h-4zM126 1099h2v20h-2zM136 1099h4v20h-4zM150 1099h4v20h-4zM158 1099h3v20h-3zM175 1099h2v20h-2zM185 1099h3v20h-3zM194 1099h3v20h-3zM203 1099h3v20h-3zM216 1099h11v20h-11zM263 1099h3v20h-3zM269 1099h4v20h-4zM280 1099h3v20h-3zM290 1099h7v20h-7zM300 1099h3v20h-3zM316 1099h3v20h-3zM340 1099h4v20h-4z"/>
<path fill="#f0e4e4" d="M249 839h7v20h-7zM263 839h6v20h-6zM273 839h4v20h-4zM280 839h3v20h-3zM287 839h3v20h-3zM297 839h3v20h-3zM303 839h3v20h-3zM313 839h6v20h-6zM331 839h3v20h-3zM347 839h4v20h-4zM365 839h4v20h-4zM372 839h4v20h-4zM269 859h4v20h-4zM283 859h4v20h-4zM303 859h7v20h-7zM323 859h4v20h-4zM340 859h4v20h-4zM347 859h7v20h-7zM227 879h8v20h-8zM256 879h4v20h-4zM266 879h3v20h-3zM347 879h4v20h-4zM365 879h4v20h-4zM376 879h4v20h-4zM227 899h8v20h-8zM256 899h4v20h-4zM263 899h3v20h-3zM280 899h3v20h-3zM287 899h3v20h-3zM219 919h8v20h-8zM253 919h7v20h-7zM310 919h3v20h-3zM323 919h4v20h-4zM344 919h3v20h-3zM372 919h4v20h-4zM380 919h3v20h-3zM203 939h3v20h-3zM213 939h6v20h-6zM260 939h3v20h-3zM297 939h3v20h-3zM331 939h3v20h-3zM347 939h4v20h-4zM46 959h5v20h-5zM68 959h7v20h-7zM89 959h2v20h-2zM94 959h4v20h-4zM104 959h3v20h-3zM128 959h5v20h-5zM143 959h4v20h-4zM158 959h3v20h-3zM175 959h2v20h-2zM197 959h3v20h-3zM206 959h10v20h-10zM239 959h3v20h-3zM376 959h4v20h-4zM48 979h7v20h-7zM58 979h3v20h-3zM64 979h4v20h-4zM72 979h3v20h-3zM78 979h11v20h-11zM91 979h3v20h-3zM98 979h9v20h-9zM113 979h3v20h-3zM120 979h3v20h-3zM126 979h2v20h-2zM136 979h18v20h-18zM158 979h10v20h-10zM172 979h5v20h-5zM182 979h15v20h-15zM203 979h3v20h-3zM213 979h6v20h-6zM235 979h4v20h-4zM246 979h3v20h-3zM256 979h4v20h-4zM266 979h7v20h-7zM48 999h3v20h-3zM64 999h4v20h-4zM72 999h3v20h-3zM94 999h6v20h-6zM113 999h3v20h-3zM123 999h3v20h-3zM140 999h3v20h-3zM147 999h11v20h-11zM168 999h4v20h-4zM175 999h7v20h-7zM194 999h3v20h-3zM219 999h8v20h-8zM235 999h4v20h-4zM246 999h3v20h-3zM253 999h10v20h-10zM269 999h8v20h-8zM280 999h3v20h-3zM290 999h7v20h-7zM310 999h3v20h-3zM319 999h4v20h-4zM327 999h7v20h-7zM344 999h3v20h-3zM365 999h4v20h-4zM40 1039h6v20h-6zM58 1039h3v20h-3zM68 1039h4v20h-4zM46 1059h2v20h-2zM51 1059h4v20h-4zM100 1059h4v20h-4zM120 1059h3v20h-3zM182 1059h3v20h-3zM206 1059h3v20h-3zM51 1079h4v20h-4zM61 1079h3v20h-3zM68 1079h7v20h-7zM78 1079h3v20h-3zM94 1079h4v20h-4zM123 1079h3v20h-3zM133 1079h7v20h-7zM150 1079h4v20h-4zM158 1079h3v20h-3zM165 1079h3v20h-3zM172 1079h3v20h-3zM177 1079h5v20h-5zM188 1079h6v20h-6zM200 1079h3v20h-3zM209 1079h10v20h-10zM123 1099h3v20h-3zM168 1099h7v20h-7zM191 1099h3v20h-3zM197 1099h3v20h-3zM227 1099h4v20h-4zM239 1099h3v20h-3zM246 1099h3v20h-3zM256 1099h7v20h-7zM266 1099h3v20h-3zM283 1099h7v20h-7zM303 1099h13v20h-13zM319 1099h4v20h-4zM337 1099h3v20h-3zM344 1099h3v20h-3zM354 1099h4v20h-4zM376 1099h4v20h-4z"/>
<path fill="#f0dede" d="M260 839h3v20h-3zM337 839h3v20h-3zM216 859h3v20h-3zM223 859h8v20h-8zM277 859h3v20h-3zM219 899h4v20h-4zM260 899h3v20h-3zM266 899h3v20h-3zM269 919h4v20h-4zM58 939h3v20h-3zM72 939h3v20h-3zM94 939h4v20h-4zM150 939h4v20h-4zM219 939h4v20h-4zM231 939h4v20h-4zM40 959h3v20h-3zM51 959h7v20h-7zM61 959h7v20h-7zM75 959h6v20h-6zM85 959h4v20h-4zM91 959h3v20h-3zM98 959h2v20h-2zM107 959h2v20h-2zM116 959h4v20h-4zM123 959h5v20h-5zM136 959h4v20h-4zM147 959h7v20h-7zM161 959h4v20h-4zM172 959h3v20h-3zM182 959h3v20h-3zM203 959h3v20h-3zM46 979h2v20h-2zM249 979h4v20h-4zM337 979h3v20h-3zM40 999h8v20h-8zM51 999h4v20h-4zM61 999h3v20h-3zM75 999h3v20h-3zM81 999h13v20h-13zM100 999h4v20h-4zM109 999h4v20h-4zM120 999h3v20h-3zM128 999h5v20h-5zM136 999h4v20h-4zM143 999h4v20h-4zM165 999h3v20h-3zM172 999h3v20h-3zM182 999h3v20h-3zM191 999h3v20h-3zM200 999h9v20h-9zM216 999h3v20h-3zM231 999h4v20h-4zM239 999h3v20h-3zM249 999h4v20h-4zM263 999h3v20h-3zM277 999h3v20h-3zM297 999h6v20h-6zM316 999h3v20h-3zM323 999h4v20h-4zM337 999h3v20h-3zM347 999h7v20h-7zM372 999h4v20h-4zM85 1039h6v20h-6zM40 1059h3v20h-3zM61 1059h3v20h-3zM72 1059h3v20h-3zM113 1059h7v20h-7zM123 1059h5v20h-5zM165 1059h3v20h-3zM249 1059h4v20h-4zM266 1059h3v20h-3zM43 1079h3v20h-3zM113 1079h3v20h-3zM194 1079h3v20h-3zM323 1099h11v20h-11zM347 1099h7v20h-7zM362 1099h7v20h-7zM380 1099h3v20h-3z"/>
<path fill="#f6eaea" d="M269 839h4v20h-4zM310 839h3v20h-3zM376 839h4v20h-4zM239 859h3v20h-3zM316 859h3v20h-3zM334 859h3v20h-3zM344 859h3v20h-3zM249 879h4v20h-4zM290 879h3v20h-3zM358 879h4v20h-4zM239 899h3v20h-3zM331 899h3v20h-3zM354 899h4v20h-4zM380 899h3v20h-3zM242 919h4v20h-4zM337 919h3v20h-3zM347 919h4v20h-4zM354 919h4v20h-4zM246 939h7v20h-7zM287 939h3v20h-3zM306 939h4v20h-4zM313 939h6v20h-6zM337 939h3v20h-3zM344 939h3v20h-3zM354 939h4v20h-4zM365 939h4v20h-4zM380 939h3v20h-3zM223 959h8v20h-8zM249 959h4v20h-4zM260 959h3v20h-3zM273 959h4v20h-4zM283 959h4v20h-4zM290 959h3v20h-3zM306 959h4v20h-4zM316 959h3v20h-3zM344 959h3v20h-3zM362 959h14v20h-14zM380 959h3v20h-3zM68 979h4v20h-4zM109 979h4v20h-4zM154 979h4v20h-4zM177 979h5v20h-5zM197 979h6v20h-6zM206 979h3v20h-3zM273 979h4v20h-4zM303 979h7v20h-7zM319 979h4v20h-4zM334 979h3v20h-3zM347 979h4v20h-4zM362 979h3v20h-3zM380 979h3v20h-3zM369 999h3v20h-3zM55 1039h3v20h-3zM75 1039h3v20h-3zM126 1039h2v20h-2zM219 1059h4v20h-4zM46 1079h2v20h-2zM128 1079h5v20h-5zM140 1079h3v20h-3zM46 1099h2v20h-2zM55 1099h3v20h-3zM61 1099h3v20h-3zM72 1099h3v20h-3zM85 1099h4v20h-4zM120 1099h3v20h-3zM128 1099h8v20h-8zM143 1099h4v20h-4zM165 1099h3v20h-3zM177 1099h8v20h-8zM200 1099h3v20h-3zM206 1099h10v20h-10zM231 1099h8v20h-8zM242 1099h4v20h-4zM249 1099h7v20h-7zM277 1099h3v20h-3zM334 1099h3v20h-3z"/>
<path fill="#eac0c0" d="M40 859h3v20h-3zM188 919h3v20h-3zM75 939h3v20h-3zM85 939h4v20h-4zM116 939h4v20h-4zM143 939h4v20h-4zM128 1039h5v20h-5zM334 1059h3v20h-3zM344 1059h3v20h-3zM365 1059h4v20h-4zM235 1079h4v20h-4zM266 1079h3v20h-3zM337 1079h3v20h-3z"/>
<path fill="#de9090" d="M46 859h2v20h-2zM113 859h3v20h-3zM58 919h3v20h-3zM133 1039h3v20h-3zM280 1079h3v20h-3zM293 1079h4v20h-4zM310 1079h3v20h-3zM331 1079h3v20h-3zM273 1099h4v20h-4z"/>
<path fill="#d87e7e" d="M48 859h3v20h-3zM197 859h3v20h-3zM213 879h3v20h-3zM209 899h4v20h-4zM209 1039h4v20h-4zM260 1079h3v20h-3zM283 1079h4v20h-4zM347 1079h4v20h-4zM372 1079h4v20h-4z"/>
<path fill="#de8a8a" d="M51 859h4v20h-4zM89 859h2v20h-2zM182 859h3v20h-3zM209 879h4v20h-4zM194 919h3v20h-3zM40 1019h3v20h-3zM177 1039h5v20h-5z"/>
<path fill="#d26666" d="M55 859h3v20h-3zM94 859h4v20h-4zM100 859h4v20h-4zM126 859h2v20h-2zM133 859h3v20h-3zM140 859h3v20h-3zM172 859h3v20h-3zM81 919h4v20h-4zM107 919h2v20h-2zM128 919h12v20h-12zM43 1019h5v20h-5zM165 1039h3v20h-3zM340 1039h4v20h-4zM365 1079h4v20h-4z"/>
<path fill="#d87878" d="M61 859h3v20h-3zM177 859h5v20h-5zM185 859h3v20h-3zM40 919h3v20h-3zM72 919h3v20h-3zM91 919h3v20h-3zM188 1039h3v20h-3zM269 1039h4v20h-4zM283 1039h4v20h-4zM293 1039h4v20h-4zM351 1079h3v20h-3z"/>
<path fill="#d87272" d="M64 859h4v20h-4zM147 859h3v20h-3zM188 859h3v20h-3zM177 919h5v20h-5zM72 1019h3v20h-3zM191 1039h3v20h-3zM216 1039h3v20h-3zM280 1039h3v20h-3zM316 1079h3v20h-3zM327 1079h4v20h-4z"/>
<path fill="#cc4242" d="M72 859h3v20h-3zM161 859h4v20h-4zM185 899h3v20h-3zM104 919h3v20h-3zM154 919h4v20h-4zM150 1039h4v20h-4zM194 1039h3v20h-3zM354 1039h4v20h-4zM380 1079h3v20h-3z"/>
<path fill="#d26060" d="M75 859h3v20h-3zM109 859h4v20h-4zM55 1019h6v20h-6zM197 1039h3v20h-3zM347 1039h4v20h-4zM344 1079h3v20h-3z"/>
<path fill="#d25454" d="M85 859h4v20h-4z"/>
<path fill="#e4aeae" d="M91 859h3v20h-3zM194 859h3v20h-3zM98 919h2v20h-2zM260 1059h3v20h-3zM283 1059h4v20h-4zM369 1059h3v20h-3zM287 1079h3v20h-3zM300 1079h3v20h-3z"/>
<path fill="#ba3030" d="M98 859h2v20h-2zM113 879h3v20h-3zM191 879h3v20h-3zM197 879h3v20h-3zM64 899h4v20h-4zM100 899h4v20h-4zM133 899h3v20h-3zM64 1019h4v20h-4zM100 1019h4v20h-4zM116 1019h4v20h-4zM136 1019h4v20h-4zM158 1019h3v20h-3zM206 1019h3v20h-3zM227 1019h4v20h-4zM300 1019h6v20h-6zM231 1039h4v20h-4zM256 1039h7v20h-7zM290 1039h3v20h-3zM303 1039h3v20h-3zM310 1039h3v20h-3zM380 1039h3v20h-3z"/>
<path fill="#d86c6c" d="M116 859h4v20h-4zM191 859h3v20h-3zM206 879h3v20h-3zM51 919h4v20h-4zM203 919h3v20h-3zM168 1039h4v20h-4zM334 1079h3v20h-3z"/>
<path fill="#cc4e4e" d="M158 859h3v20h-3zM203 899h3v20h-3zM48 919h3v20h-3zM94 919h4v20h-4zM123 919h3v20h-3zM107 1019h2v20h-2zM143 1039h4v20h-4zM182 1039h3v20h-3z"/>
<path fill="#e4a2a2" d="M165 859h3v20h-3zM200 919h3v20h-3zM337 1059h3v20h-3zM231 1079h4v20h-4zM253 1079h3v20h-3zM376 1079h4v20h-4z"/>
<path fill="#cc5454" d="M168 859h4v20h-4zM55 919h3v20h-3zM61 919h3v20h-3zM75 919h3v20h-3zM150 919h4v20h-4zM197 919h3v20h-3zM177 1019h5v20h-5zM213 1039h3v20h-3zM351 1039h3v20h-3zM340 1079h4v20h-4z"/>
<path fill="#eababa" d="M200 859h3v20h-3zM209 859h4v20h-4zM100 939h4v20h-4zM185 939h3v20h-3zM140 1039h3v20h-3zM319 1059h4v20h-4zM223 1079h4v20h-4zM256 1079h4v20h-4zM290 1079h3v20h-3z"/>
<path fill="#eac6c6" d="M203 859h3v20h-3zM206 919h3v20h-3zM43 939h3v20h-3zM48 939h3v20h-3zM55 939h3v20h-3zM64 939h4v20h-4zM78 939h3v20h-3zM89 939h2v20h-2zM120 939h3v20h-3zM154 939h4v20h-4zM175 939h2v20h-2zM239 979h3v20h-3zM123 1039h3v20h-3zM253 1059h3v20h-3zM290 1059h3v20h-3zM300 1059h3v20h-3zM347 1059h4v20h-4zM372 1059h4v20h-4zM227 1079h4v20h-4z"/>
<path fill="#f0d2d2" d="M219 859h4v20h-4zM223 899h4v20h-4zM46 939h2v20h-2zM68 939h4v20h-4zM91 939h3v20h-3zM104 939h3v20h-3zM123 939h3v20h-3zM128 939h8v20h-8zM161 939h4v20h-4zM172 939h3v20h-3zM177 939h8v20h-8zM188 939h3v20h-3zM200 939h3v20h-3zM209 939h4v20h-4zM120 959h3v20h-3zM188 959h3v20h-3zM194 959h3v20h-3zM55 999h3v20h-3zM107 999h2v20h-2zM133 999h3v20h-3zM161 999h4v20h-4zM188 999h3v20h-3zM209 999h7v20h-7zM94 1039h4v20h-4zM104 1039h3v20h-3zM75 1059h3v20h-3zM81 1059h4v20h-4zM128 1059h5v20h-5zM136 1059h4v20h-4zM147 1059h3v20h-3zM154 1059h4v20h-4zM168 1059h4v20h-4zM188 1059h6v20h-6zM200 1059h3v20h-3zM213 1059h3v20h-3zM227 1059h4v20h-4zM235 1059h4v20h-4zM246 1059h3v20h-3zM256 1059h4v20h-4zM273 1059h4v20h-4zM306 1059h13v20h-13zM354 1059h11v20h-11zM376 1059h4v20h-4zM372 1099h4v20h-4z"/>
<path fill="#f0d8d8" d="M231 859h4v20h-4zM223 879h4v20h-4zM340 879h4v20h-4zM303 919h3v20h-3zM51 939h4v20h-4zM81 939h4v20h-4zM113 939h3v20h-3zM147 939h3v20h-3zM194 939h6v20h-6zM206 939h3v20h-3zM43 959h3v20h-3zM58 959h3v20h-3zM81 959h4v20h-4zM100 959h4v20h-4zM109 959h4v20h-4zM133 959h3v20h-3zM140 959h3v20h-3zM165 959h7v20h-7zM177 959h5v20h-5zM185 959h3v20h-3zM191 959h3v20h-3zM200 959h3v20h-3zM58 999h3v20h-3zM68 999h4v20h-4zM78 999h3v20h-3zM104 999h3v20h-3zM116 999h4v20h-4zM185 999h3v20h-3zM227 999h4v20h-4zM242 999h4v20h-4zM266 999h3v20h-3zM287 999h3v20h-3zM306 999h4v20h-4zM313 999h3v20h-3zM340 999h4v20h-4zM81 1039h4v20h-4zM98 1039h2v20h-2zM109 1039h4v20h-4zM48 1059h3v20h-3zM58 1059h3v20h-3zM68 1059h4v20h-4zM78 1059h3v20h-3zM89 1059h5v20h-5zM104 1059h9v20h-9zM133 1059h3v20h-3zM143 1059h4v20h-4zM150 1059h4v20h-4zM158 1059h7v20h-7zM172 1059h10v20h-10zM185 1059h3v20h-3zM194 1059h6v20h-6zM203 1059h3v20h-3zM223 1059h4v20h-4zM242 1059h4v20h-4zM263 1059h3v20h-3zM277 1059h3v20h-3zM297 1059h3v20h-3zM327 1059h4v20h-4zM340 1059h4v20h-4zM107 1079h2v20h-2zM358 1099h4v20h-4zM369 1099h3v20h-3z"/>
<path fill="#c03030" d="M89 879h2v20h-2zM165 879h3v20h-3zM51 899h4v20h-4zM68 899h4v20h-4zM161 899h4v20h-4zM100 919h4v20h-4zM147 919h3v20h-3zM81 1019h8v20h-8zM140 1019h3v20h-3zM147 1019h3v20h-3zM331 1019h3v20h-3zM185 1039h3v20h-3zM206 1039h3v20h-3zM223 1039h4v20h-4zM239 1039h3v20h-3z"/>
<path fill="#ae1e1e" d="M91 879h3v20h-3zM98 879h2v20h-2zM126 879h2v20h-2zM154 879h4v20h-4zM182 879h3v20h-3zM107 899h2v20h-2zM158 899h3v20h-3zM165 919h3v20h-3zM143 1019h4v20h-4zM219 1019h4v20h-4zM235 1019h4v20h-4zM273 1019h4v20h-4zM351 1019h3v20h-3zM362 1019h3v20h-3zM369 1019h7v20h-7zM372 1039h4v20h-4z"/>
<path fill="#e4a8a8" d="M216 879h3v20h-3zM213 899h3v20h-3zM140 919h3v20h-3zM213 919h6v20h-6zM191 939h3v20h-3zM107 1039h2v20h-2zM147 1039h3v20h-3zM154 1039h4v20h-4zM242 1079h4v20h-4zM263 1079h3v20h-3zM297 1079h3v20h-3zM188 1099h3v20h-3z"/>
<path fill="#de8484" d="M89 919h2v20h-2zM323 1059h4v20h-4zM246 1079h3v20h-3zM273 1079h7v20h-7zM313 1079h3v20h-3zM358 1079h4v20h-4z"/>
<path fill="#e49c9c" d="M191 919h3v20h-3zM100 1039h4v20h-4zM113 1039h10v20h-10zM55 1059h3v20h-3zM269 1079h4v20h-4zM323 1079h4v20h-4zM354 1079h4v20h-4zM362 1079h3v20h-3zM369 1079h3v20h-3z"/>
<path fill="#c64242" d="M61 1019h3v20h-3z"/>
<path fill="#d26c6c" d="M78 1019h3v20h-3z"/>
</g>
<rect x="19.90" y="559.30" width="171.60" height="0.80" fill="#ffffff"/>
<text x="194.1" y="427.3" font-size="9.35" fill="#111" stroke="#111" stroke-width="0.22">Scgb3a1 (module-5)</text>
<text x="194.1" y="437.3" font-size="9.35" fill="#111" stroke="#111" stroke-width="0.22">Muc5b (module-2)</text>
<text x="194.1" y="447.4" font-size="9.35" fill="#111" stroke="#111" stroke-width="0.22">Bpifb1 (module-5)</text>
<text x="194.1" y="457.4" font-size="9.35" fill="#111" stroke="#111" stroke-width="0.22">Reg3g (module-5)</text>
<text x="194.1" y="467.4" font-size="9.35" fill="#111" stroke="#111" stroke-width="0.22">Tff2 (module-5)</text>
<text x="194.1" y="477.4" font-size="9.35" fill="#111" stroke="#111" stroke-width="0.22">Lgr6 (module-5)</text>
<text x="194.1" y="487.5" font-size="9.35" fill="#111" stroke="#111" stroke-width="0.22">Pax9 (module-5)</text>
<text x="194.1" y="497.5" font-size="9.35" fill="#111" stroke="#111" stroke-width="0.22">Six1 (module-2)</text>
<text x="194.1" y="507.5" font-size="9.35" fill="#111" stroke="#111" stroke-width="0.22">Tfcp2l1</text>
<text x="194.1" y="517.6" font-size="9.35" fill="#111" stroke="#111" stroke-width="0.22">Hp (module-3)</text>
<text x="194.1" y="527.6" font-size="9.35" fill="#111" stroke="#111" stroke-width="0.22">Sftpb (module-1)</text>
<text x="194.1" y="537.6" font-size="9.35" fill="#111" stroke="#111" stroke-width="0.22">Atp8a1 (module-1)</text>
<text x="194.1" y="547.7" font-size="9.35" fill="#111" stroke="#111" stroke-width="0.22">Igfbp6 (module-9)</text>
<text x="194.1" y="557.7" font-size="9.35" fill="#111" stroke="#111" stroke-width="0.22">Sftpc (module-1)</text>
<text x="194.1" y="567.7" font-size="9.35" fill="#111" stroke="#111" stroke-width="0.22">Scgb1a1 (module-3)</text>
<text x="282.2" y="442.8" font-size="9.35" fill="#111" stroke="#111" stroke-width="0.22">log<tspan font-size="6" dy="2">2</tspan></text>
<text x="282.2" y="453.4" font-size="9.35" fill="#111" stroke="#111" stroke-width="0.22">(UMIs+1)</text>
<defs><linearGradient id="cbE" x1="0" x2="0" y1="0" y2="1"><stop offset="0" stop-color="#871010"/><stop offset="0.45" stop-color="#b41e1e"/><stop offset="0.75" stop-color="#d88080"/><stop offset="1" stop-color="#f6f2f2"/></linearGradient></defs>
<rect x="283.90" y="459.50" width="7.60" height="55.90" fill="url(#cbE)"/>
<text x="295.2" y="465.4" font-size="9.35" fill="#111" stroke="#111" stroke-width="0.22">8</text>
<text x="295.2" y="478.0" font-size="9.35" fill="#111" stroke="#111" stroke-width="0.22">6</text>
<text x="295.2" y="490.8" font-size="9.35" fill="#111" stroke="#111" stroke-width="0.22">4</text>
<text x="295.2" y="503.9" font-size="9.35" fill="#111" stroke="#111" stroke-width="0.22">2</text>
<text x="295.2" y="516.2" font-size="9.35" fill="#111" stroke="#111" stroke-width="0.22">0</text>
<text x="284.6" y="529.0" font-size="9.35" fill="#111" stroke="#111" stroke-width="0.22">Cluster</text>
<rect x="284.60" y="531.00" width="8.20" height="7.90" fill="#b8b8b8"/>
<rect x="284.60" y="539.60" width="8.20" height="7.90" fill="#0000ff"/>
<text x="294.5" y="538.1" font-size="9.35" fill="#111" stroke="#111" stroke-width="0.22">S2 (1)</text>
<text x="294.5" y="547.0" font-size="9.35" fill="#111" stroke="#111" stroke-width="0.22">S1 (5)</text>
<text x="0.8" y="618.0" font-size="13" fill="#111" stroke="#111" stroke-width="0.22">F</text>
<text x="94.9" y="617.7" font-size="10.67" fill="#111" stroke="#111" stroke-width="0.22">Spatial analysis of airway secretory cells</text>
<defs><clipPath id="lc"><path d="M1.5 632 C2 624 8 622.5 18 622.3 C32 621.8 48 624 62 631 C80 641 96 655 108 673 C116 686 119 697 116 702 C105 716 88 737 72 757 C58 775 44 795 36 812 L33 812 C29 798 25 782 22 765 C19 745 16 725 14.5 705 C13.5 695 12 686 9 681 C6 676 3 671 4 667 C5 660 3 648 1.5 640 Z"/></clipPath><filter id="spk" x="0" y="0" width="1" height="1" filterUnits="objectBoundingBox"><feTurbulence type="fractalNoise" baseFrequency="1.6" numOctaves="1" seed="4" result="n"/><feColorMatrix in="n" type="matrix" values="0 0 0 0 0  0 0 0 0 0  0 0 0 0 0  2.5 0 0 0 -0.9"/></filter><filter id="spk2" x="0" y="0" width="1" height="1" filterUnits="objectBoundingBox"><feTurbulence type="fractalNoise" baseFrequency="0.9" numOctaves="2" seed="9" result="n"/><feColorMatrix in="n" type="matrix" values="0 0 0 0 0  0 0 0 0 0  0 0 0 0 0  6 0 0 0 -3.9"/></filter></defs>
<g clip-path="url(#lc)">
<rect x="0.00" y="620.00" width="122.00" height="192.00" fill="#f3f3f3"/>
<rect x="0.00" y="620.00" width="122.00" height="192.00" fill="#000" filter="url(#spk)" opacity="0.17"/>
<rect x="0.00" y="620.00" width="122.00" height="192.00" fill="#000" filter="url(#spk2)" opacity="0.45"/>
</g>
<path d="M3 668 C6 667 10 668 13 672 M4 677 C7 678 10 680 13 679" fill="none" stroke="#333" stroke-width="1.2"/>
<path d="M13 674 C16 670 22 669 28 672 C36 676 44 679 50 684 C48 687 42 688 37 688 C34 691 35 696 36.5 702 C38 708 39.5 713 41.5 719 C43 725 44.5 731 44.5 736 C46 741 48 747 48 753 C47 755 45.5 755 45 752 C44 746 42 741 40 736 C37 730 34 724 32.5 716 C31 709 30 702 29 696 C27 690 22 686 17 683 C14 681 12 678 13 674 Z" fill="#fff" stroke="#444" stroke-width="0.6"/>
<path d="M22 641 C24 645 23 650 25 652" fill="none" stroke="#333" stroke-width="0.8" opacity="0.8"/>
<path d="M36 658 C40 660 44 657 46 660" fill="none" stroke="#333" stroke-width="0.8" opacity="0.8"/>
<path d="M63 648 C66 652 64 656 67 659" fill="none" stroke="#333" stroke-width="0.8" opacity="0.8"/>
<path d="M55 663 C58 662 60 665 58 668" fill="none" stroke="#333" stroke-width="0.8" opacity="0.8"/>
<path d="M71 680 C74 684 80 682 82 686" fill="none" stroke="#333" stroke-width="0.8" opacity="0.8"/>
<path d="M88 668 C90 672 92 676 94 678" fill="none" stroke="#333" stroke-width="0.8" opacity="0.8"/>
<path d="M50 705 C53 708 52 712 55 713" fill="none" stroke="#333" stroke-width="0.8" opacity="0.8"/>
<path d="M66 705 C68 708 72 707 73 711" fill="none" stroke="#333" stroke-width="0.8" opacity="0.8"/>
<path d="M40 760 C43 762 45 765 44 768" fill="none" stroke="#333" stroke-width="0.8" opacity="0.8"/>
<path d="M36 780 C39 782 41 784 40 788" fill="none" stroke="#333" stroke-width="0.8" opacity="0.8"/>
<path d="M62 695 C64 690 70 690 72 694" fill="none" stroke="#333" stroke-width="0.8" opacity="0.8"/>
<path d="M9 654 C12 657 14 659 17 661" fill="none" stroke="#333" stroke-width="0.8" opacity="0.8"/>
<ellipse cx="33" cy="650" rx="3" ry="2" fill="#fff" stroke="#333" stroke-width="0.7"/>
<ellipse cx="58" cy="660" rx="2.5" ry="2" fill="#fff" stroke="#333" stroke-width="0.7"/>
<ellipse cx="67" cy="676" rx="3.5" ry="2" fill="#fff" stroke="#333" stroke-width="0.7"/>
<ellipse cx="51" cy="702" rx="2" ry="3" fill="#fff" stroke="#333" stroke-width="0.7"/>
<ellipse cx="66" cy="708" rx="2.5" ry="2" fill="#fff" stroke="#333" stroke-width="0.7"/>
<ellipse cx="40" cy="765" rx="2.5" ry="1.6" fill="#fff" stroke="#333" stroke-width="0.7"/>
<ellipse cx="34" cy="782" rx="3" ry="1.5" fill="#fff" stroke="#333" stroke-width="0.7"/>
<ellipse cx="43" cy="741" rx="2" ry="1.5" fill="#fff" stroke="#333" stroke-width="0.7"/>
<text x="9.3" y="629.3" font-size="9.6" fill="#ff00ff" stroke="#ff00ff" stroke-width="0.22">D</text>
<rect x="8.4" y="631.2" width="6.8" height="6.2" fill="none" stroke="#ff00ff" stroke-width="1.3" stroke-dasharray="1.3 1.1"/>
<text x="43.5" y="633.4" font-size="9.6" fill="#ff00ff" stroke="#ff00ff" stroke-width="0.22">D</text>
<rect x="42.8" y="635.4" width="4.8" height="5.8" fill="none" stroke="#ff00ff" stroke-width="1.3" stroke-dasharray="1.3 1.1"/>
<text x="20.0" y="683.5" font-size="9.6" fill="#ff00ff" stroke="#ff00ff" stroke-width="0.22">P</text>
<rect x="19" y="671.5" width="8" height="3.5" fill="none" stroke="#ff00ff" stroke-width="1.3" stroke-dasharray="1.3 1.1" transform="rotate(35 23.0 673.2)"/>
<rect x="14.5" y="685.5" width="10" height="3.5" fill="none" stroke="#ff00ff" stroke-width="1.3" stroke-dasharray="1.3 1.1" transform="rotate(55 19.5 687.2)"/>
<text x="28.0" y="698.5" font-size="9.6" fill="#ff00ff" stroke="#ff00ff" stroke-width="0.22">I1</text>
<rect x="35.5" y="690.5" width="4" height="10" fill="none" stroke="#ff00ff" stroke-width="1.3" stroke-dasharray="1.3 1.1" transform="rotate(-10 37.5 695.5)"/>
<text x="26.8" y="729.5" font-size="9.6" fill="#ff00ff" stroke="#ff00ff" stroke-width="0.22">I2</text>
<rect x="35.5" y="717.5" width="5" height="15" fill="none" stroke="#ff00ff" stroke-width="1.3" stroke-dasharray="1.3 1.1" transform="rotate(-20 38.0 725.0)"/>
<text x="52.5" y="749.0" font-size="9.6" fill="#ff00ff" stroke="#ff00ff" stroke-width="0.22">I3</text>
<rect x="42.5" y="739.5" width="5.5" height="9.5" fill="none" stroke="#ff00ff" stroke-width="1.3" stroke-dasharray="1.3 1.1"/>
<text x="79.5" y="683.5" font-size="9.6" fill="#ff00ff" stroke="#ff00ff" stroke-width="0.22">I3</text>
<rect x="73.5" y="675.5" width="4.5" height="6" fill="none" stroke="#ff00ff" stroke-width="1.3" stroke-dasharray="1.3 1.1"/>
<rect x="100.60" y="801.40" width="6.60" height="1.80" fill="#000"/>
<text x="88.8" y="810.6" font-size="9.35" fill="#111" stroke="#111" stroke-width="0.22">0.5</text>
<text x="101.2" y="810.6" font-size="9.35" fill="#111" stroke="#111" stroke-width="0.22">mm</text>
<path d="M125.9 637.0 C142.2 639.2 154.0 654.0 159.9 671.8 S165.8 708.7 164.4 714.6 S159.9 725.0 158.2 727.2" fill="none" stroke="#1a1a1a" stroke-width="1.15"/>
<path d="M134.0 628.1 C142.2 633.3 149.6 642.2 156.2 642.2 S168.8 636.3 173.2 631.1" fill="none" stroke="#1a1a1a" stroke-width="1.15"/>
<path d="M173.2 634.0 C168.8 638.5 161.4 642.2 160.7 646.6 S168.8 653.3 180.6 648.4" fill="none" stroke="#1a1a1a" stroke-width="1.15"/>
<path d="M182.1 654.0 C174.7 656.2 164.4 656.2 163.2 658.7 S167.3 667.6 182.8 667.0" fill="none" stroke="#1a1a1a" stroke-width="1.15"/>
<path d="M183.6 671.8 C177.7 672.1 169.5 671.8 169.2 673.2 S173.2 687.3 182.8 688.3" fill="none" stroke="#1a1a1a" stroke-width="1.15"/>
<path d="M183.9 690.2 C178.4 689.8 171.0 687.3 170.0 689.5 S170.3 705.8 182.8 709.0" fill="none" stroke="#1a1a1a" stroke-width="1.15"/>
<path d="M183.6 710.9 C179.1 709.5 171.8 706.5 168.5 710.9 S164.4 723.5 162.1 727.9" fill="none" stroke="#1a1a1a" stroke-width="1.15"/>
<path d="M167.0 716.9 C168.8 719.8 171.0 722.0 172.5 725.3" fill="none" stroke="#1a1a1a" stroke-width="1.15"/>
<path d="M165.1 721.7 C167.3 722.8 169.5 724.3 171.0 726.5" fill="none" stroke="#1a1a1a" stroke-width="1.15"/>
<line x1="142.20" y1="657.70" x2="184.30" y2="657.70" stroke="#222" stroke-width="1.6"/>
<line x1="142.20" y1="673.20" x2="184.30" y2="673.20" stroke="#222" stroke-width="1.6"/>
<line x1="142.20" y1="687.60" x2="184.30" y2="687.60" stroke="#222" stroke-width="1.6"/>
<line x1="142.20" y1="711.00" x2="184.30" y2="711.00" stroke="#222" stroke-width="1.6"/>
<text x="177.7" y="637.7" font-size="9.35" fill="#111" stroke="#111" stroke-width="0.22">L1</text>
<text x="183.6" y="656.0" font-size="9.35" fill="#111" stroke="#111" stroke-width="0.22">L2</text>
<text x="185.5" y="674.7" font-size="9.35" fill="#111" stroke="#111" stroke-width="0.22">L3</text>
<text x="186.5" y="695.4" font-size="9.35" fill="#111" stroke="#111" stroke-width="0.22">L4</text>
<text x="185.5" y="715.4" font-size="9.35" fill="#111" stroke="#111" stroke-width="0.22">L5</text>
<text x="135.8" y="651.0" font-size="9.35" fill="#111" stroke="#111" stroke-width="0.22">P</text>
<text x="135.8" y="668.0" font-size="9.35" fill="#111" stroke="#111" stroke-width="0.22">I1</text>
<text x="135.8" y="682.9" font-size="9.35" fill="#111" stroke="#111" stroke-width="0.22">I2</text>
<text x="135.8" y="701.3" font-size="9.35" fill="#111" stroke="#111" stroke-width="0.22">I3</text>
<text x="135.8" y="726.5" font-size="9.35" fill="#111" stroke="#111" stroke-width="0.22">D</text>
<rect x="125.80" y="737.20" width="59.60" height="74.60" fill="#fff"/>
<line x1="125.80" y1="737.20" x2="185.40" y2="737.20" stroke="#4a4a4a" stroke-width="0.9"/>
<line x1="125.80" y1="738.10" x2="185.40" y2="738.10" stroke="#c8c8c8" stroke-width="0.6"/>
<line x1="125.80" y1="748.10" x2="185.40" y2="748.10" stroke="#4a4a4a" stroke-width="0.9"/>
<line x1="125.80" y1="749.00" x2="185.40" y2="749.00" stroke="#c8c8c8" stroke-width="0.6"/>
<line x1="125.80" y1="758.40" x2="185.40" y2="758.40" stroke="#4a4a4a" stroke-width="0.9"/>
<line x1="125.80" y1="759.30" x2="185.40" y2="759.30" stroke="#c8c8c8" stroke-width="0.6"/>
<line x1="125.80" y1="769.10" x2="185.40" y2="769.10" stroke="#4a4a4a" stroke-width="0.9"/>
<line x1="125.80" y1="770.00" x2="185.40" y2="770.00" stroke="#c8c8c8" stroke-width="0.6"/>
<line x1="125.80" y1="779.60" x2="185.40" y2="779.60" stroke="#4a4a4a" stroke-width="0.9"/>
<line x1="125.80" y1="780.50" x2="185.40" y2="780.50" stroke="#c8c8c8" stroke-width="0.6"/>
<line x1="125.80" y1="790.50" x2="185.40" y2="790.50" stroke="#4a4a4a" stroke-width="0.9"/>
<line x1="125.80" y1="791.40" x2="185.40" y2="791.40" stroke="#c8c8c8" stroke-width="0.6"/>
<line x1="125.80" y1="801.20" x2="185.40" y2="801.20" stroke="#4a4a4a" stroke-width="0.9"/>
<line x1="125.80" y1="802.10" x2="185.40" y2="802.10" stroke="#c8c8c8" stroke-width="0.6"/>
<line x1="125.80" y1="811.80" x2="185.40" y2="811.80" stroke="#4a4a4a" stroke-width="0.9"/>
<line x1="125.80" y1="812.70" x2="185.40" y2="812.70" stroke="#c8c8c8" stroke-width="0.6"/>
<line x1="125.80" y1="737.20" x2="125.80" y2="811.80" stroke="#4a4a4a" stroke-width="0.9"/>
<line x1="126.70" y1="737.20" x2="126.70" y2="811.80" stroke="#c8c8c8" stroke-width="0.6"/>
<line x1="158.90" y1="737.20" x2="158.90" y2="811.80" stroke="#4a4a4a" stroke-width="0.9"/>
<line x1="159.80" y1="737.20" x2="159.80" y2="811.80" stroke="#c8c8c8" stroke-width="0.6"/>
<line x1="185.40" y1="737.20" x2="185.40" y2="811.80" stroke="#4a4a4a" stroke-width="0.9"/>
<line x1="186.30" y1="737.20" x2="186.30" y2="811.80" stroke="#c8c8c8" stroke-width="0.6"/>
<text x="142.8" y="745.9" font-size="9.85" text-anchor="middle" fill="#111" stroke="#111" stroke-width="0.22">Domain</text>
<text x="172.6" y="745.9" font-size="9.85" text-anchor="middle" fill="#111" stroke="#111" stroke-width="0.22">Cells</text>
<text x="142.8" y="756.2" font-size="9.85" text-anchor="middle" fill="#111" stroke="#111" stroke-width="0.22">P</text>
<text x="172.6" y="756.2" font-size="9.85" text-anchor="middle" fill="#111" stroke="#111" stroke-width="0.22">1558</text>
<text x="142.8" y="766.9" font-size="9.85" text-anchor="middle" fill="#111" stroke="#111" stroke-width="0.22">I1</text>
<text x="172.6" y="766.9" font-size="9.85" text-anchor="middle" fill="#111" stroke="#111" stroke-width="0.22">331</text>
<text x="142.8" y="777.4" font-size="9.85" text-anchor="middle" fill="#111" stroke="#111" stroke-width="0.22">I2</text>
<text x="172.6" y="777.4" font-size="9.85" text-anchor="middle" fill="#111" stroke="#111" stroke-width="0.22">908</text>
<text x="142.8" y="788.3" font-size="9.85" text-anchor="middle" fill="#111" stroke="#111" stroke-width="0.22">I3</text>
<text x="172.6" y="788.3" font-size="9.85" text-anchor="middle" fill="#111" stroke="#111" stroke-width="0.22">2328</text>
<text x="142.8" y="799.0" font-size="9.85" text-anchor="middle" fill="#111" stroke="#111" stroke-width="0.22">D</text>
<text x="172.6" y="799.0" font-size="9.85" text-anchor="middle" fill="#111" stroke="#111" stroke-width="0.22">781</text>
<text x="142.8" y="809.6" font-size="9.85" text-anchor="middle" fill="#111" stroke="#111" stroke-width="0.22">Total</text>
<text x="172.6" y="809.6" font-size="9.85" text-anchor="middle" fill="#111" stroke="#111" stroke-width="0.22">5906</text>
<path d="M235.4 631.7 V626.5 H313 V634 M215.6 635 V631.7 H255.7 V635 M286 636 V634 H338.7 V636" fill="none" stroke="#555" stroke-width="0.9"/>
<path d="M203 636 V634.8 H212 V636 M220 636 V634.6 H232 V636 M240 636 V634.2 H262 V636 M246 634.2 V633.4 H258 V634.2 M272 636 V634.8 H284 V636 M300 634 V633.2 H320 V634 M325 636 V634.9 H346 V636" fill="none" stroke="#777" stroke-width="0.8"/>
<line x1="199.50" y1="636.10" x2="351.00" y2="636.10" stroke="#222" stroke-width="1.0"/>
<g transform="scale(.5)" shape-rendering="crispEdges">
<path fill="#1a3cff" d="M399 1273h3v18h-3zM402 1273h3v18h-3zM408 1273h4v18h-4zM412 1273h3v18h-3zM415 1273h3v18h-3zM418 1273h4v18h-4zM422 1273h2v18h-2zM424 1273h4v18h-4zM428 1273h4v18h-4zM432 1273h3v18h-3zM435 1273h3v18h-3zM438 1273h4v18h-4zM445 1273h4v18h-4zM449 1273h4v18h-4zM460 1273h2v18h-2zM462 1273h3v18h-3zM465 1273h3v18h-3zM468 1273h3v18h-3zM471 1273h4v18h-4zM475 1273h4v18h-4zM479 1273h4v18h-4zM483 1273h3v18h-3zM486 1273h4v18h-4zM497 1273h4v18h-4zM504 1273h3v18h-3zM510 1273h3v18h-3zM527 1273h3v18h-3zM530 1273h4v18h-4z"/>
<path fill="#788cff" d="M405 1273h3v18h-3zM442 1273h3v18h-3z"/>
<path fill="#196919" d="M453 1273h4v18h-4zM457 1273h3v18h-3zM515 1273h4v18h-4zM534 1273h3v18h-3zM537 1273h3v18h-3z"/>
<path fill="#8ca519" d="M490 1273h4v18h-4zM494 1273h3v18h-3zM501 1273h3v18h-3zM507 1273h3v18h-3zM513 1273h2v18h-2zM540 1273h2v18h-2zM542 1273h3v18h-3zM548 1273h3v18h-3zM555 1273h3v18h-3zM578 1273h3v18h-3zM603 1273h4v18h-4zM660 1273h3v18h-3zM687 1273h3v18h-3z"/>
<path fill="#aabe1e" d="M519 1273h4v18h-4zM523 1273h4v18h-4z"/>
<path fill="#f5cd0f" d="M545 1273h3v18h-3zM551 1273h4v18h-4zM558 1273h4v18h-4zM565 1273h4v18h-4zM569 1273h3v18h-3zM581 1273h4v18h-4zM585 1273h3v18h-3zM594 1273h2v18h-2zM596 1273h4v18h-4zM600 1273h3v18h-3zM611 1273h3v18h-3zM614 1273h3v18h-3zM617 1273h3v18h-3zM620 1273h3v18h-3zM626 1273h3v18h-3zM632 1273h4v18h-4zM636 1273h2v18h-2zM641 1273h4v18h-4zM648 1273h3v18h-3zM651 1273h3v18h-3zM654 1273h3v18h-3zM657 1273h3v18h-3zM665 1273h3v18h-3zM672 1273h3v18h-3zM675 1273h4v18h-4zM684 1273h3v18h-3zM690 1273h4v18h-4zM694 1273h2v18h-2zM699 1273h3v18h-3z"/>
<path fill="#b98c23" d="M562 1273h3v18h-3zM572 1273h3v18h-3zM663 1273h2v18h-2zM668 1273h4v18h-4zM679 1273h2v18h-2z"/>
<path fill="#d7aa1e" d="M575 1273h3v18h-3zM588 1273h3v18h-3zM591 1273h3v18h-3zM607 1273h4v18h-4zM623 1273h3v18h-3zM629 1273h3v18h-3zM638 1273h3v18h-3zM645 1273h3v18h-3zM681 1273h3v18h-3zM696 1273h3v18h-3z"/>
<path fill="#2d2dc8" d="M399 1293h3v16h-3zM411 1293h3v16h-3zM417 1293h3v16h-3zM420 1293h3v16h-3zM425 1293h3v16h-3zM445 1293h2v16h-2zM464 1293h3v16h-3zM476 1293h2v16h-2zM482 1293h3v16h-3zM492 1293h3v16h-3zM502 1293h3v16h-3zM514 1293h2v16h-2zM523 1293h3v16h-3zM526 1293h3v16h-3zM534 1293h4v16h-4z"/>
<path fill="#dc1919" d="M402 1293h3v16h-3zM405 1293h3v16h-3zM434 1293h3v16h-3zM437 1293h3v16h-3zM447 1293h2v16h-2zM454 1293h2v16h-2zM467 1293h2v16h-2zM469 1293h4v16h-4zM495 1293h2v16h-2zM500 1293h2v16h-2zM518 1293h3v16h-3zM521 1293h2v16h-2zM529 1293h3v16h-3zM532 1293h2v16h-2z"/>
<path fill="#1e641e" d="M408 1293h3v16h-3zM414 1293h3v16h-3zM428 1293h3v16h-3zM462 1293h2v16h-2zM488 1293h4v16h-4zM505 1293h3v16h-3zM512 1293h2v16h-2z"/>
<path fill="#78283c" d="M423 1293h2v16h-2zM431 1293h3v16h-3zM440 1293h2v16h-2zM442 1293h3v16h-3zM449 1293h3v16h-3zM452 1293h2v16h-2zM456 1293h3v16h-3zM459 1293h3v16h-3zM473 1293h3v16h-3zM478 1293h4v16h-4zM485 1293h3v16h-3zM497 1293h3v16h-3zM508 1293h4v16h-4zM516 1293h2v16h-2z"/>
<path fill="#3228d7" d="M538 1293h3v16h-3zM543 1293h3v16h-3zM558 1293h3v16h-3zM579 1293h3v16h-3zM582 1293h3v16h-3zM588 1293h2v16h-2zM596 1293h3v16h-3zM617 1293h3v16h-3zM628 1293h3v16h-3zM638 1293h3v16h-3zM641 1293h4v16h-4zM645 1293h3v16h-3zM648 1293h3v16h-3zM651 1293h3v16h-3zM656 1293h3v16h-3zM667 1293h4v16h-4zM673 1293h2v16h-2zM675 1293h3v16h-3zM690 1293h3v16h-3zM693 1293h3v16h-3zM696 1293h2v16h-2zM701 1293h1v16h-1z"/>
<path fill="#c81e32" d="M541 1293h2v16h-2zM561 1293h2v16h-2zM563 1293h2v16h-2zM565 1293h3v16h-3zM576 1293h3v16h-3zM593 1293h3v16h-3zM654 1293h2v16h-2zM681 1293h3v16h-3zM687 1293h3v16h-3z"/>
<path fill="#285a32" d="M546 1293h3v16h-3zM549 1293h3v16h-3zM568 1293h3v16h-3zM574 1293h2v16h-2zM590 1293h3v16h-3zM601 1293h3v16h-3zM614 1293h3v16h-3zM623 1293h2v16h-2zM625 1293h3v16h-3zM635 1293h3v16h-3zM659 1293h3v16h-3zM662 1293h2v16h-2z"/>
<path fill="#642896" d="M552 1293h3v16h-3zM555 1293h3v16h-3zM571 1293h3v16h-3zM585 1293h3v16h-3zM599 1293h2v16h-2zM604 1293h3v16h-3zM607 1293h4v16h-4zM611 1293h3v16h-3zM620 1293h3v16h-3zM631 1293h4v16h-4zM664 1293h3v16h-3zM671 1293h2v16h-2zM678 1293h3v16h-3zM684 1293h3v16h-3zM698 1293h3v16h-3z"/>
</g>
<rect x="199.50" y="655.00" width="33.90" height="8.00" fill="#8b0000"/>
<rect x="233.40" y="655.00" width="36.20" height="8.00" fill="#b03a5e"/>
<rect x="269.60" y="655.00" width="81.40" height="8.00" fill="#000"/>
<text x="216.4" y="662.4" font-size="9.35" text-anchor="middle" fill="#000" stroke="#000" stroke-width="0.22">A</text>
<text x="251.5" y="662.4" font-size="9.35" text-anchor="middle" fill="#111" stroke="#111" stroke-width="0.22">B</text>
<text x="311.5" y="662.4" font-size="9.35" text-anchor="middle" fill="#fff" stroke="#fff" stroke-width="0.22">C</text>
<g transform="scale(.5)" shape-rendering="crispEdges">
<path fill="#fcd8ae" d="M399 1328h4v18h-4zM675 1511h4v18h-4zM527 1602h4v19h-4z"/>
<path fill="#f6b460" d="M403 1328h3v18h-3zM454 1346h5v18h-5zM421 1602h4v19h-4zM489 1602h2v19h-2zM495 1602h4v19h-4zM554 1602h3v19h-3z"/>
<path fill="#fce4c0" d="M406 1328h4v18h-4zM470 1328h4v18h-4zM477 1492h3v19h-3zM577 1492h4v19h-4zM641 1602h3v19h-3z"/>
<path fill="#eae4ea" d="M410 1328h3v18h-3zM484 1328h5v18h-5zM515 1328h4v18h-4zM536 1328h3v18h-3zM417 1492h4v19h-4zM425 1492h3v19h-3zM451 1492h3v19h-3zM536 1492h3v19h-3zM666 1492h3v19h-3zM675 1492h4v19h-4z"/>
<path fill="#f0a84e" d="M413 1328h4v18h-4zM421 1364h4v19h-4zM626 1602h3v19h-3z"/>
<path fill="#f6ba6c" d="M417 1328h4v18h-4zM410 1346h3v18h-3zM622 1492h4v19h-4zM696 1492h5v19h-5zM454 1602h5v19h-5zM503 1602h4v19h-4zM566 1602h3v19h-3zM669 1602h3v19h-3z"/>
<path fill="#90480c" d="M421 1328h4v18h-4z"/>
<path fill="#f0a848" d="M425 1328h3v18h-3zM480 1328h4v18h-4zM692 1492h4v19h-4zM428 1602h4v19h-4z"/>
<path fill="#f0a242" d="M428 1328h4v18h-4zM519 1328h4v18h-4zM432 1346h3v18h-3zM428 1492h4v19h-4zM399 1602h4v19h-4zM451 1602h3v19h-3zM507 1602h4v19h-4zM629 1602h4v19h-4z"/>
<path fill="#d87e1e" d="M432 1328h3v18h-3z"/>
<path fill="#ea9c3c" d="M435 1328h4v18h-4zM448 1328h3v18h-3zM652 1492h5v19h-5zM539 1602h4v19h-4zM569 1602h4v19h-4zM581 1602h4v19h-4zM666 1602h3v19h-3z"/>
<path fill="#de8a24" d="M439 1328h4v18h-4zM448 1346h3v18h-3zM669 1492h3v19h-3z"/>
<path fill="#e49030" d="M443 1328h5v18h-5zM406 1346h4v18h-4zM701 1511h1v18h-1zM499 1602h4v19h-4zM562 1602h4v19h-4zM652 1602h5v19h-5zM675 1602h4v19h-4zM683 1602h4v19h-4z"/>
<path fill="#fccc90" d="M451 1328h3v18h-3zM466 1328h4v18h-4zM425 1346h3v18h-3zM557 1602h5v19h-5zM588 1602h4v19h-4z"/>
<path fill="#fcdeba" d="M454 1328h5v18h-5z"/>
<path fill="#e49636" d="M459 1328h3v18h-3zM608 1492h4v19h-4zM629 1492h4v19h-4zM466 1602h4v19h-4zM600 1602h4v19h-4zM633 1602h4v19h-4z"/>
<path fill="#96480c" d="M462 1328h4v18h-4z"/>
<path fill="#c0bad8" d="M474 1328h3v18h-3zM527 1346h4v18h-4zM536 1364h3v19h-3zM410 1383h3v18h-3zM399 1401h4v18h-4zM399 1419h4v19h-4zM470 1492h4v19h-4zM557 1492h5v19h-5zM581 1492h4v19h-4zM600 1492h4v19h-4zM588 1511h4v18h-4zM637 1511h4v18h-4z"/>
<path fill="#d2d2e4" d="M477 1328h3v18h-3zM495 1328h4v18h-4zM531 1328h5v18h-5zM596 1492h4v19h-4zM566 1511h3v18h-3zM585 1511h3v18h-3zM612 1511h3v18h-3zM648 1511h4v18h-4zM692 1511h4v18h-4z"/>
<path fill="#aea8d2" d="M489 1328h2v18h-2zM495 1346h8v18h-8zM425 1419h3v19h-3zM459 1492h3v19h-3zM546 1492h4v19h-4z"/>
<path fill="#c0bade" d="M491 1328h4v18h-4zM477 1346h3v18h-3z"/>
<path fill="#f6eade" d="M499 1328h4v18h-4zM443 1364h5v19h-5zM459 1383h3v18h-3zM466 1492h4v19h-4z"/>
<path fill="#c6c0de" d="M503 1328h4v18h-4zM484 1346h5v18h-5zM410 1364h3v19h-3zM531 1383h5v18h-5zM435 1492h8v19h-8zM557 1511h5v18h-5zM581 1511h4v18h-4z"/>
<path fill="#f6ead2" d="M507 1328h4v18h-4zM403 1492h7v19h-7zM669 1511h3v18h-3z"/>
<path fill="#dedeea" d="M511 1328h4v18h-4zM466 1383h8v18h-8zM503 1383h4v18h-4zM511 1492h4v19h-4zM519 1492h4v19h-4zM539 1492h4v19h-4zM615 1492h4v19h-4z"/>
<path fill="#a8a2cc" d="M523 1328h4v18h-4z"/>
<path fill="#6c5a9c" d="M527 1328h4v18h-4zM573 1419h4v19h-4zM523 1511h4v18h-4z"/>
<path fill="#36065a" d="M539 1328h4v18h-4zM588 1328h4v18h-4zM644 1328h4v18h-4zM515 1346h4v18h-4zM577 1346h4v18h-4zM588 1346h4v18h-4zM629 1346h4v18h-4zM661 1346h5v18h-5zM672 1346h3v18h-3zM657 1364h4v19h-4zM701 1364h1v19h-1zM515 1383h4v18h-4zM543 1383h3v18h-3zM588 1383h4v18h-4zM622 1383h4v18h-4zM692 1383h4v18h-4zM477 1401h3v18h-3zM554 1401h3v18h-3zM566 1401h3v18h-3zM588 1401h4v18h-4zM604 1401h4v18h-4zM629 1401h8v18h-8zM669 1401h3v18h-3zM692 1401h4v18h-4zM604 1419h4v19h-4zM637 1419h4v19h-4zM648 1419h4v19h-4zM531 1438h5v18h-5zM410 1456h3v18h-3zM439 1456h4v18h-4zM451 1456h3v18h-3zM470 1456h4v18h-4zM484 1456h5v18h-5zM515 1456h4v18h-4zM543 1456h3v18h-3zM550 1456h4v18h-4zM569 1456h4v18h-4zM577 1456h4v18h-4zM588 1456h8v18h-8zM626 1456h7v18h-7zM637 1456h4v18h-4zM657 1456h9v18h-9zM672 1456h7v18h-7zM696 1456h5v18h-5zM399 1474h7v18h-7zM507 1474h4v18h-4zM399 1511h4v18h-4zM406 1511h4v18h-4zM428 1511h4v18h-4zM399 1547h7v19h-7zM413 1547h4v19h-4zM425 1547h3v19h-3zM439 1547h4v19h-4zM474 1547h6v19h-6zM489 1547h6v19h-6zM499 1547h8v19h-8zM519 1547h4v19h-4zM536 1547h3v19h-3zM562 1547h4v19h-4zM569 1547h4v19h-4zM581 1547h4v19h-4zM619 1547h3v19h-3zM672 1547h3v19h-3zM683 1547h9v19h-9zM406 1566h4v18h-4zM417 1566h4v18h-4zM428 1566h4v18h-4zM451 1566h3v18h-3zM462 1566h4v18h-4zM484 1566h5v18h-5zM495 1566h4v18h-4zM543 1566h3v18h-3zM577 1566h8v18h-8zM410 1584h7v18h-7zM425 1584h3v18h-3zM439 1584h12v18h-12zM459 1584h7v18h-7zM523 1584h4v18h-4zM550 1584h4v18h-4zM557 1584h9v18h-9zM608 1584h7v18h-7zM626 1584h11v18h-11zM657 1584h4v18h-4zM666 1584h3v18h-3zM672 1584h3v18h-3zM701 1584h1v18h-1z"/>
<path fill="#66549c" d="M543 1328h3v18h-3zM543 1346h3v18h-3zM507 1529h4v18h-4zM683 1529h4v18h-4z"/>
<path fill="#3c1266" d="M546 1328h4v18h-4zM641 1328h3v18h-3zM687 1346h9v18h-9zM592 1364h4v19h-4zM679 1383h4v18h-4zM592 1401h4v18h-4zM641 1401h3v18h-3zM672 1401h3v18h-3zM523 1456h4v18h-4zM454 1511h5v18h-5zM474 1511h3v18h-3z"/>
<path fill="#8478b4" d="M550 1328h4v18h-4z"/>
<path fill="#421872" d="M554 1328h3v18h-3zM592 1328h4v18h-4zM672 1328h3v18h-3zM515 1364h4v19h-4zM666 1364h3v19h-3zM577 1383h4v18h-4zM612 1383h7v18h-7zM657 1383h4v18h-4zM596 1401h4v18h-4zM554 1419h3v19h-3zM600 1419h4v19h-4zM612 1419h3v19h-3zM462 1529h4v18h-4zM641 1529h3v18h-3z"/>
<path fill="#300048" d="M557 1328h9v18h-9zM596 1328h4v18h-4zM604 1328h11v18h-11zM619 1328h3v18h-3zM626 1328h3v18h-3zM633 1328h4v18h-4zM648 1328h4v18h-4zM675 1328h4v18h-4zM696 1328h6v18h-6zM554 1346h8v18h-8zM566 1346h11v18h-11zM592 1346h8v18h-8zM612 1346h7v18h-7zM633 1346h8v18h-8zM644 1346h8v18h-8zM666 1346h6v18h-6zM696 1346h5v18h-5zM466 1364h4v19h-4zM539 1364h4v19h-4zM546 1364h8v19h-8zM581 1364h4v19h-4zM604 1364h4v19h-4zM615 1364h7v19h-7zM629 1364h4v19h-4zM637 1364h4v19h-4zM652 1364h5v19h-5zM679 1364h4v19h-4zM687 1364h5v19h-5zM550 1383h4v18h-4zM557 1383h5v18h-5zM604 1383h8v18h-8zM661 1383h5v18h-5zM648 1401h4v18h-4zM615 1456h4v18h-4zM687 1456h5v18h-5zM562 1474h4v18h-4zM569 1474h4v18h-4zM577 1474h4v18h-4zM592 1474h4v18h-4zM600 1474h4v18h-4zM622 1474h4v18h-4zM629 1474h4v18h-4zM417 1511h4v18h-4zM435 1511h4v18h-4zM569 1566h4v18h-4z"/>
<path fill="#30064e" d="M566 1328h3v18h-3zM669 1364h3v19h-3zM399 1438h7v18h-7zM425 1438h3v18h-3zM432 1438h3v18h-3zM499 1438h4v18h-4zM523 1438h4v18h-4zM557 1438h5v18h-5zM683 1438h4v18h-4zM413 1474h4v18h-4zM491 1474h4v18h-4zM543 1474h7v18h-7zM566 1474h3v18h-3zM596 1474h4v18h-4zM661 1474h8v18h-8zM683 1474h4v18h-4zM462 1511h4v18h-4zM448 1547h3v19h-3zM546 1547h8v19h-8zM557 1547h5v19h-5zM608 1547h4v19h-4zM657 1547h4v19h-4zM399 1566h4v18h-4zM619 1566h7v18h-7zM661 1566h5v18h-5zM692 1566h4v18h-4zM451 1584h3v18h-3zM696 1584h5v18h-5z"/>
<path fill="#3c0c66" d="M569 1328h4v18h-4zM577 1328h4v18h-4zM661 1328h8v18h-8zM550 1346h4v18h-4zM619 1346h3v18h-3zM652 1346h9v18h-9zM470 1364h4v19h-4zM569 1364h4v19h-4zM683 1383h9v18h-9zM531 1401h5v18h-5zM652 1401h5v18h-5zM701 1401h1v18h-1zM626 1419h7v19h-7zM672 1419h3v19h-3zM413 1511h4v18h-4zM425 1511h3v18h-3zM687 1529h5v18h-5zM531 1547h5v19h-5z"/>
<path fill="#3c126c" d="M573 1328h4v18h-4zM669 1328h3v18h-3zM604 1346h4v18h-4zM480 1364h4v19h-4zM612 1364h3v19h-3zM696 1364h5v19h-5zM701 1383h1v18h-1zM550 1401h4v18h-4zM615 1401h4v18h-4zM523 1419h4v19h-4zM557 1419h9v19h-9zM657 1419h4v19h-4zM666 1419h6v19h-6zM692 1419h4v19h-4zM503 1529h4v18h-4z"/>
<path fill="#300654" d="M581 1328h4v18h-4zM600 1328h4v18h-4zM615 1328h4v18h-4zM629 1328h4v18h-4zM581 1346h7v18h-7zM573 1364h4v19h-4zM596 1364h4v19h-4zM626 1364h3v19h-3zM648 1364h4v19h-4zM539 1383h4v18h-4zM566 1383h7v18h-7zM592 1383h4v18h-4zM600 1383h4v18h-4zM562 1401h4v18h-4zM573 1401h8v18h-8zM612 1401h3v18h-3zM661 1401h5v18h-5zM679 1401h4v18h-4zM644 1419h4v19h-4zM406 1438h19v18h-19zM435 1438h35v18h-35zM484 1438h7v18h-7zM495 1438h4v18h-4zM503 1438h4v18h-4zM511 1438h12v18h-12zM527 1438h4v18h-4zM536 1438h3v18h-3zM543 1438h3v18h-3zM562 1438h4v18h-4zM608 1438h7v18h-7zM633 1438h4v18h-4zM657 1438h4v18h-4zM406 1456h4v18h-4zM474 1456h3v18h-3zM495 1456h4v18h-4zM507 1456h8v18h-8zM527 1456h12v18h-12zM554 1456h3v18h-3zM562 1456h4v18h-4zM600 1456h8v18h-8zM612 1456h3v18h-3zM619 1456h7v18h-7zM633 1456h4v18h-4zM641 1456h16v18h-16zM666 1456h3v18h-3zM683 1456h4v18h-4zM692 1456h4v18h-4zM701 1456h1v18h-1zM406 1474h7v18h-7zM425 1474h7v18h-7zM435 1474h8v18h-8zM448 1474h6v18h-6zM459 1474h15v18h-15zM477 1474h12v18h-12zM495 1474h4v18h-4zM503 1474h4v18h-4zM511 1474h4v18h-4zM519 1474h4v18h-4zM539 1474h4v18h-4zM554 1474h8v18h-8zM573 1474h4v18h-4zM585 1474h3v18h-3zM652 1474h5v18h-5zM675 1474h4v18h-4zM432 1511h3v18h-3zM443 1511h5v18h-5zM459 1511h3v18h-3zM406 1547h7v19h-7zM417 1547h8v19h-8zM428 1547h7v19h-7zM443 1547h5v19h-5zM454 1547h5v19h-5zM466 1547h8v19h-8zM495 1547h4v19h-4zM507 1547h4v19h-4zM523 1547h8v19h-8zM539 1547h4v19h-4zM554 1547h3v19h-3zM566 1547h3v19h-3zM577 1547h4v19h-4zM588 1547h20v19h-20zM615 1547h4v19h-4zM626 1547h11v19h-11zM641 1547h3v19h-3zM648 1547h9v19h-9zM669 1547h3v19h-3zM679 1547h4v19h-4zM692 1547h4v19h-4zM701 1547h1v19h-1zM403 1566h3v18h-3zM410 1566h7v18h-7zM421 1566h7v18h-7zM435 1566h4v18h-4zM443 1566h8v18h-8zM459 1566h3v18h-3zM470 1566h10v18h-10zM489 1566h2v18h-2zM499 1566h20v18h-20zM523 1566h16v18h-16zM546 1566h4v18h-4zM557 1566h12v18h-12zM573 1566h4v18h-4zM585 1566h7v18h-7zM596 1566h8v18h-8zM612 1566h3v18h-3zM629 1566h23v18h-23zM666 1566h9v18h-9zM679 1566h4v18h-4zM696 1566h6v18h-6zM403 1584h7v18h-7zM432 1584h3v18h-3zM454 1584h5v18h-5zM466 1584h8v18h-8zM489 1584h10v18h-10zM503 1584h8v18h-8zM515 1584h8v18h-8zM527 1584h9v18h-9zM539 1584h11v18h-11zM554 1584h3v18h-3zM566 1584h11v18h-11zM581 1584h7v18h-7zM592 1584h4v18h-4zM600 1584h8v18h-8zM615 1584h4v18h-4zM637 1584h15v18h-15zM661 1584h5v18h-5zM669 1584h3v18h-3zM675 1584h21v18h-21z"/>
<path fill="#30004e" d="M585 1328h3v18h-3zM622 1328h4v18h-4zM652 1328h9v18h-9zM679 1328h4v18h-4zM692 1328h4v18h-4zM539 1346h4v18h-4zM622 1346h7v18h-7zM641 1346h3v18h-3zM675 1346h4v18h-4zM683 1346h4v18h-4zM701 1346h1v18h-1zM484 1364h5v19h-5zM543 1364h3v19h-3zM585 1364h3v19h-3zM641 1364h3v19h-3zM672 1364h3v19h-3zM683 1364h4v19h-4zM666 1383h3v18h-3zM539 1401h4v18h-4zM600 1401h4v18h-4zM619 1401h7v18h-7zM687 1401h5v18h-5zM428 1438h4v18h-4zM470 1438h14v18h-14zM507 1438h4v18h-4zM539 1438h4v18h-4zM546 1438h11v18h-11zM566 1438h42v18h-42zM615 1438h14v18h-14zM637 1438h20v18h-20zM661 1438h22v18h-22zM687 1438h15v18h-15zM466 1456h4v18h-4zM566 1456h3v18h-3zM421 1474h4v18h-4zM432 1474h3v18h-3zM443 1474h5v18h-5zM454 1474h5v18h-5zM474 1474h3v18h-3zM499 1474h4v18h-4zM515 1474h4v18h-4zM523 1474h16v18h-16zM550 1474h4v18h-4zM581 1474h4v18h-4zM588 1474h4v18h-4zM604 1474h18v18h-18zM626 1474h3v18h-3zM633 1474h19v18h-19zM657 1474h4v18h-4zM669 1474h6v18h-6zM679 1474h4v18h-4zM687 1474h15v18h-15zM403 1511h3v18h-3zM451 1511h3v18h-3zM459 1547h3v19h-3zM543 1547h3v19h-3zM573 1547h4v19h-4zM585 1547h3v19h-3zM622 1547h4v19h-4zM637 1547h4v19h-4zM644 1547h4v19h-4zM661 1547h8v19h-8zM675 1547h4v19h-4zM466 1566h4v18h-4zM480 1566h4v18h-4zM539 1566h4v18h-4zM550 1566h7v18h-7zM592 1566h4v18h-4zM604 1566h8v18h-8zM615 1566h4v18h-4zM626 1566h3v18h-3zM652 1566h5v18h-5zM687 1566h5v18h-5zM399 1584h4v18h-4zM484 1584h5v18h-5zM588 1584h4v18h-4zM596 1584h4v18h-4zM619 1584h3v18h-3zM652 1584h5v18h-5z"/>
<path fill="#421878" d="M637 1328h4v18h-4zM523 1364h4v19h-4zM546 1401h4v18h-4zM581 1419h4v19h-4zM585 1456h3v18h-3zM413 1529h4v18h-4zM489 1529h2v18h-2z"/>
<path fill="#360c60" d="M683 1328h9v18h-9zM562 1346h4v18h-4zM600 1346h4v18h-4zM608 1346h4v18h-4zM692 1364h4v19h-4zM543 1401h3v18h-3zM626 1401h3v18h-3zM637 1401h4v18h-4zM657 1401h4v18h-4zM666 1401h3v18h-3zM515 1419h4v19h-4zM633 1419h4v19h-4zM399 1456h4v18h-4zM417 1456h4v18h-4zM425 1456h3v18h-3zM459 1456h3v18h-3zM477 1456h3v18h-3zM499 1456h4v18h-4zM539 1456h4v18h-4zM581 1456h4v18h-4zM596 1456h4v18h-4zM669 1456h3v18h-3zM679 1456h4v18h-4zM439 1511h4v18h-4zM511 1547h4v19h-4zM491 1566h4v18h-4zM577 1584h4v18h-4z"/>
<path fill="#fcd8a2" d="M399 1346h4v18h-4zM443 1346h5v18h-5zM428 1383h4v18h-4zM489 1492h2v19h-2zM637 1492h4v19h-4zM648 1492h4v19h-4zM672 1492h3v19h-3zM679 1511h4v18h-4zM491 1602h4v19h-4zM692 1602h4v19h-4z"/>
<path fill="#fce4cc" d="M403 1346h3v18h-3zM679 1492h4v19h-4z"/>
<path fill="#fcead2" d="M413 1346h4v18h-4zM592 1511h4v18h-4z"/>
<path fill="#f6ba66" d="M417 1346h4v18h-4zM696 1602h5v19h-5z"/>
<path fill="#f6c078" d="M421 1346h4v18h-4zM612 1492h3v19h-3zM687 1492h5v19h-5zM696 1511h5v18h-5zM474 1602h3v19h-3z"/>
<path fill="#fcc684" d="M428 1346h4v18h-4zM403 1383h3v18h-3zM683 1511h4v18h-4zM687 1602h5v19h-5z"/>
<path fill="#f6f0ea" d="M435 1346h4v18h-4zM489 1346h2v18h-2zM417 1364h4v19h-4zM480 1383h4v18h-4zM421 1492h4v19h-4zM596 1511h4v18h-4zM672 1511h3v18h-3zM477 1602h3v19h-3z"/>
<path fill="#cc7212" d="M439 1346h4v18h-4z"/>
<path fill="#f0a248" d="M451 1346h3v18h-3z"/>
<path fill="#de8a2a" d="M459 1346h3v18h-3zM448 1602h3v19h-3zM470 1602h4v19h-4zM577 1602h4v19h-4zM644 1602h4v19h-4z"/>
<path fill="#ccc6e4" d="M462 1346h4v18h-4zM417 1383h4v18h-4zM554 1492h3v19h-3z"/>
<path fill="#7e6cae" d="M466 1346h4v18h-4zM511 1346h4v18h-4zM417 1401h4v18h-4zM495 1401h4v18h-4zM536 1511h3v18h-3zM432 1529h3v18h-3zM633 1529h4v18h-4z"/>
<path fill="#d8d8ea" d="M470 1346h4v18h-4zM454 1383h5v18h-5zM495 1383h4v18h-4zM503 1492h4v19h-4z"/>
<path fill="#a29cc6" d="M474 1346h3v18h-3zM507 1364h4v19h-4zM425 1383h3v18h-3zM499 1383h4v18h-4zM499 1492h4v19h-4zM539 1511h4v18h-4z"/>
<path fill="#6c549c" d="M480 1346h4v18h-4zM675 1383h4v18h-4zM459 1401h3v18h-3zM696 1419h6v19h-6zM531 1511h5v18h-5zM448 1529h3v18h-3zM484 1529h5v18h-5z"/>
<path fill="#543084" d="M491 1346h4v18h-4zM600 1364h4v19h-4zM652 1383h5v18h-5zM462 1401h4v18h-4zM519 1401h4v18h-4zM503 1419h4v19h-4zM608 1419h4v19h-4zM491 1511h4v18h-4zM403 1529h3v18h-3zM417 1529h4v18h-4zM428 1529h4v18h-4zM557 1529h5v18h-5zM573 1529h4v18h-4zM675 1529h4v18h-4zM454 1566h5v18h-5z"/>
<path fill="#9c90c0" d="M503 1346h4v18h-4zM413 1401h4v18h-4zM626 1511h3v18h-3z"/>
<path fill="#f6f0e4" d="M507 1346h4v18h-4zM439 1364h4v19h-4zM531 1492h5v19h-5z"/>
<path fill="#9c90c6" d="M519 1346h4v18h-4z"/>
<path fill="#fcd8a8" d="M523 1346h4v18h-4zM413 1383h4v18h-4zM661 1511h5v18h-5z"/>
<path fill="#786ca8" d="M531 1346h5v18h-5z"/>
<path fill="#9684ba" d="M536 1346h3v18h-3zM519 1511h4v18h-4z"/>
<path fill="#604290" d="M546 1346h4v18h-4zM406 1364h4v19h-4zM489 1364h2v19h-2zM503 1364h4v19h-4zM519 1364h4v19h-4zM519 1419h4v19h-4zM503 1456h4v18h-4zM421 1529h4v18h-4zM577 1529h4v18h-4zM596 1529h4v18h-4zM629 1529h4v18h-4zM648 1529h4v18h-4zM669 1529h3v18h-3z"/>
<path fill="#3c0c60" d="M679 1346h4v18h-4zM566 1364h3v19h-3zM622 1364h4v19h-4zM562 1383h4v18h-4zM696 1383h5v18h-5zM491 1401h4v18h-4zM608 1401h4v18h-4zM619 1419h3v19h-3zM687 1419h5v19h-5zM403 1456h3v18h-3zM432 1456h7v18h-7zM462 1456h4v18h-4zM489 1456h2v18h-2zM421 1511h4v18h-4zM428 1584h4v18h-4z"/>
<path fill="#f0eaea" d="M399 1364h4v19h-4zM459 1364h3v19h-3zM432 1383h3v18h-3zM536 1383h3v18h-3zM515 1492h4v19h-4zM543 1492h3v19h-3zM554 1511h3v18h-3zM633 1511h4v18h-4z"/>
<path fill="#d2cce4" d="M403 1364h3v19h-3zM489 1383h2v18h-2zM527 1492h4v19h-4zM629 1511h4v18h-4z"/>
<path fill="#604296" d="M413 1364h4v19h-4z"/>
<path fill="#f6ead8" d="M425 1364h3v19h-3zM573 1602h4v19h-4z"/>
<path fill="#b4aed2" d="M428 1364h4v19h-4zM421 1383h4v18h-4zM491 1492h4v19h-4zM543 1511h3v18h-3zM600 1511h4v18h-4zM615 1511h4v18h-4zM641 1511h3v18h-3z"/>
<path fill="#7260a2" d="M432 1364h3v19h-3zM519 1383h4v18h-4zM413 1419h4v19h-4zM435 1419h4v19h-4zM484 1419h5v19h-5zM566 1419h3v19h-3zM484 1511h5v18h-5zM604 1511h4v18h-4zM495 1529h4v18h-4zM619 1529h3v18h-3zM626 1529h3v18h-3z"/>
<path fill="#fcdeae" d="M435 1364h4v19h-4zM604 1492h4v19h-4zM410 1602h3v19h-3zM622 1602h4v19h-4z"/>
<path fill="#968aba" d="M448 1364h3v19h-3zM410 1419h3v19h-3z"/>
<path fill="#ea9636" d="M451 1364h3v19h-3zM641 1492h3v19h-3zM648 1602h4v19h-4z"/>
<path fill="#f6eae4" d="M454 1364h5v19h-5z"/>
<path fill="#f6c072" d="M462 1364h4v19h-4z"/>
<path fill="#725aa2" d="M474 1364h3v19h-3zM491 1383h4v18h-4zM421 1419h4v19h-4zM527 1419h4v19h-4zM539 1529h4v18h-4z"/>
<path fill="#9084ba" d="M477 1364h3v19h-3zM507 1383h4v18h-4zM585 1419h3v19h-3zM652 1511h5v18h-5z"/>
<path fill="#664896" d="M491 1364h4v19h-4zM406 1383h4v18h-4zM466 1419h4v19h-4zM477 1419h3v19h-3zM495 1511h4v18h-4z"/>
<path fill="#481878" d="M495 1364h4v19h-4zM562 1364h4v19h-4zM546 1383h4v18h-4zM527 1401h4v18h-4zM569 1419h4v19h-4zM615 1419h4v19h-4zM652 1419h5v19h-5zM661 1419h5v19h-5zM679 1419h4v19h-4zM454 1529h5v18h-5zM543 1529h3v18h-3zM672 1529h3v18h-3z"/>
<path fill="#54368a" d="M499 1364h4v19h-4zM511 1364h4v19h-4zM489 1419h2v19h-2zM527 1529h4v18h-4zM612 1529h3v18h-3zM652 1529h5v18h-5z"/>
<path fill="#bab4d8" d="M527 1364h4v19h-4zM435 1383h4v18h-4zM443 1383h5v18h-5zM523 1383h4v18h-4zM428 1401h4v18h-4zM428 1419h7v19h-7zM550 1492h4v19h-4zM511 1511h8v18h-8zM550 1511h4v18h-4zM573 1511h8v18h-8z"/>
<path fill="#481e78" d="M531 1364h5v19h-5zM573 1383h4v18h-4zM648 1383h4v18h-4zM622 1419h4v19h-4zM523 1529h4v18h-4z"/>
<path fill="#42126c" d="M554 1364h3v19h-3zM661 1364h5v19h-5zM554 1383h3v18h-3zM619 1383h3v18h-3zM629 1383h4v18h-4zM644 1383h4v18h-4zM511 1401h4v18h-4zM557 1401h5v18h-5zM581 1401h7v18h-7zM696 1401h5v18h-5zM531 1419h5v19h-5zM543 1419h3v19h-3zM592 1419h4v19h-4zM675 1419h4v19h-4zM696 1529h5v18h-5z"/>
<path fill="#360c5a" d="M557 1364h5v19h-5zM608 1364h4v19h-4zM644 1364h4v19h-4zM596 1383h4v18h-4zM683 1401h4v18h-4zM413 1456h4v18h-4zM443 1456h8v18h-8zM519 1456h4v18h-4zM546 1456h4v18h-4zM557 1456h5v18h-5zM448 1511h3v18h-3zM451 1547h3v19h-3zM432 1566h3v18h-3zM417 1584h8v18h-8zM477 1584h3v18h-3z"/>
<path fill="#421272" d="M577 1364h4v19h-4zM633 1383h4v18h-4zM641 1383h3v18h-3zM672 1383h3v18h-3zM507 1401h4v18h-4zM546 1419h8v19h-8zM588 1419h4v19h-4zM491 1529h4v18h-4z"/>
<path fill="#360654" d="M588 1364h4v19h-4zM569 1401h4v18h-4zM644 1401h4v18h-4zM675 1401h4v18h-4zM539 1419h4v19h-4zM491 1438h4v18h-4zM629 1438h4v18h-4zM421 1456h4v18h-4zM428 1456h4v18h-4zM480 1456h4v18h-4zM491 1456h4v18h-4zM608 1456h4v18h-4zM417 1474h4v18h-4zM489 1474h2v18h-2zM410 1511h3v18h-3zM435 1547h4v19h-4zM462 1547h4v19h-4zM480 1547h9v19h-9zM515 1547h4v19h-4zM612 1547h3v19h-3zM696 1547h5v19h-5zM439 1566h4v18h-4zM519 1566h4v18h-4zM657 1566h4v18h-4zM675 1566h4v18h-4zM683 1566h4v18h-4zM435 1584h4v18h-4zM474 1584h3v18h-3zM480 1584h4v18h-4zM499 1584h4v18h-4zM511 1584h4v18h-4zM536 1584h3v18h-3zM622 1584h4v18h-4z"/>
<path fill="#4e247e" d="M633 1364h4v19h-4zM443 1401h5v18h-5zM466 1401h8v18h-8zM480 1401h4v18h-4zM507 1419h4v19h-4zM596 1419h4v19h-4zM641 1419h3v19h-3zM683 1419h4v19h-4zM573 1456h4v18h-4zM477 1511h3v18h-3zM410 1529h3v18h-3zM451 1529h3v18h-3zM459 1529h3v18h-3zM515 1529h4v18h-4zM585 1529h3v18h-3zM692 1529h4v18h-4zM701 1529h1v18h-1z"/>
<path fill="#4e2a84" d="M675 1364h4v19h-4zM511 1383h4v18h-4zM489 1401h2v18h-2zM499 1401h4v18h-4zM515 1401h4v18h-4zM499 1419h4v19h-4zM399 1529h4v18h-4zM562 1529h4v18h-4zM604 1529h4v18h-4zM679 1529h4v18h-4z"/>
<path fill="#c0c0de" d="M399 1383h4v18h-4zM454 1492h5v19h-5z"/>
<path fill="#c67212" d="M439 1383h4v18h-4zM484 1602h5v19h-5z"/>
<path fill="#fcdeb4" d="M448 1383h3v18h-3zM480 1492h4v19h-4zM687 1511h5v18h-5z"/>
<path fill="#968ac0" d="M451 1383h3v18h-3zM474 1383h3v18h-3zM410 1401h3v18h-3zM491 1419h4v19h-4z"/>
<path fill="#ccc6de" d="M462 1383h4v18h-4zM622 1511h4v18h-4z"/>
<path fill="#5a3c90" d="M477 1383h3v18h-3zM503 1401h4v18h-4zM454 1456h5v18h-5zM466 1529h4v18h-4zM499 1529h4v18h-4zM592 1529h4v18h-4z"/>
<path fill="#8a78b4" d="M484 1383h5v18h-5zM403 1401h3v18h-3zM523 1492h4v19h-4zM562 1492h4v19h-4zM503 1511h4v18h-4zM569 1511h4v18h-4z"/>
<path fill="#d8d2e4" d="M527 1383h4v18h-4zM619 1511h3v18h-3z"/>
<path fill="#7866a8" d="M581 1383h4v18h-4zM435 1401h4v18h-4zM451 1401h3v18h-3zM448 1419h3v19h-3zM577 1419h4v19h-4zM499 1511h4v18h-4zM546 1511h4v18h-4zM569 1529h4v18h-4z"/>
<path fill="#54308a" d="M585 1383h3v18h-3zM489 1511h2v18h-2zM527 1511h4v18h-4z"/>
<path fill="#481e7e" d="M626 1383h3v18h-3zM425 1401h3v18h-3zM474 1401h3v18h-3zM484 1401h5v18h-5zM615 1529h4v18h-4zM657 1529h4v18h-4z"/>
<path fill="#664e9c" d="M637 1383h4v18h-4zM511 1419h4v19h-4zM546 1529h4v18h-4zM588 1529h4v18h-4z"/>
<path fill="#8472ae" d="M669 1383h3v18h-3zM454 1401h5v18h-5zM480 1511h4v18h-4z"/>
<path fill="#604896" d="M406 1401h4v18h-4zM495 1419h4v19h-4zM507 1511h4v18h-4zM439 1529h4v18h-4zM474 1529h3v18h-3zM554 1529h3v18h-3z"/>
<path fill="#5a3c8a" d="M421 1401h4v18h-4zM406 1529h4v18h-4zM470 1529h4v18h-4zM519 1529h4v18h-4zM581 1529h4v18h-4zM600 1529h4v18h-4zM622 1529h4v18h-4zM666 1529h3v18h-3z"/>
<path fill="#a296c6" d="M432 1401h3v18h-3zM439 1401h4v18h-4zM451 1419h3v19h-3zM474 1419h3v19h-3zM569 1492h4v19h-4z"/>
<path fill="#b4a8d2" d="M448 1401h3v18h-3z"/>
<path fill="#4e2a7e" d="M523 1401h4v18h-4zM511 1529h4v18h-4zM661 1529h5v18h-5z"/>
<path fill="#7e6ca8" d="M536 1401h3v18h-3zM417 1419h4v19h-4zM480 1419h4v19h-4zM399 1492h4v19h-4zM448 1492h3v19h-3zM435 1529h4v18h-4z"/>
<path fill="#7e72ae" d="M403 1419h3v19h-3zM443 1419h5v19h-5z"/>
<path fill="#8a7eb4" d="M406 1419h4v19h-4z"/>
<path fill="#ded8ea" d="M439 1419h4v19h-4zM443 1492h5v19h-5z"/>
<path fill="#aea8cc" d="M454 1419h5v19h-5zM573 1492h4v19h-4z"/>
<path fill="#603c90" d="M459 1419h3v19h-3zM466 1511h4v18h-4z"/>
<path fill="#6c5aa2" d="M462 1419h4v19h-4zM550 1529h4v18h-4z"/>
<path fill="#5a368a" d="M470 1419h4v19h-4zM477 1529h3v18h-3zM566 1529h3v18h-3zM637 1529h4v18h-4zM644 1529h4v18h-4z"/>
<path fill="#664e96" d="M536 1419h3v19h-3zM413 1492h4v19h-4zM425 1529h3v18h-3zM608 1529h4v18h-4z"/>
<path fill="#fcd89c" d="M410 1492h3v19h-3zM679 1602h4v19h-4z"/>
<path fill="#d8d2ea" d="M432 1492h3v19h-3zM585 1492h3v19h-3zM562 1511h4v18h-4z"/>
<path fill="#e4deea" d="M462 1492h4v19h-4zM484 1492h5v19h-5zM495 1492h4v19h-4z"/>
<path fill="#aea2cc" d="M474 1492h3v19h-3z"/>
<path fill="#e4e4ea" d="M507 1492h4v19h-4zM608 1511h4v18h-4zM644 1511h4v18h-4z"/>
<path fill="#fcd296" d="M566 1492h3v19h-3zM657 1492h4v19h-4zM511 1602h4v19h-4z"/>
<path fill="#9c96c6" d="M588 1492h4v19h-4z"/>
<path fill="#a89ccc" d="M592 1492h4v19h-4z"/>
<path fill="#f6ba72" d="M619 1492h3v19h-3zM644 1492h4v19h-4zM604 1602h4v19h-4z"/>
<path fill="#f0ae54" d="M626 1492h3v19h-3zM683 1492h4v19h-4zM443 1602h5v19h-5zM519 1602h4v19h-4z"/>
<path fill="#d8841e" d="M633 1492h4v19h-4zM439 1602h4v19h-4z"/>
<path fill="#d27812" d="M661 1492h5v19h-5z"/>
<path fill="#d88424" d="M701 1492h1v19h-1zM403 1602h3v19h-3z"/>
<path fill="#babad8" d="M470 1511h4v18h-4z"/>
<path fill="#f6eaea" d="M657 1511h4v18h-4z"/>
<path fill="#eaa242" d="M666 1511h3v18h-3zM615 1602h4v19h-4z"/>
<path fill="#542a84" d="M443 1529h5v18h-5zM480 1529h4v18h-4zM531 1529h8v18h-8z"/>
<path fill="#f0ae5a" d="M406 1602h4v19h-4zM480 1602h4v19h-4zM536 1602h3v19h-3zM592 1602h4v19h-4z"/>
<path fill="#f6c684" d="M413 1602h4v19h-4z"/>
<path fill="#f6c67e" d="M417 1602h4v19h-4zM425 1602h3v19h-3zM546 1602h4v19h-4zM657 1602h4v19h-4z"/>
<path fill="#fcd29c" d="M432 1602h3v19h-3zM523 1602h4v19h-4zM608 1602h4v19h-4z"/>
<path fill="#fccc8a" d="M435 1602h4v19h-4zM459 1602h7v19h-7zM596 1602h4v19h-4zM619 1602h3v19h-3zM637 1602h4v19h-4z"/>
<path fill="#f6b466" d="M515 1602h4v19h-4z"/>
<path fill="#fce4c6" d="M531 1602h5v19h-5z"/>
<path fill="#e49630" d="M543 1602h3v19h-3z"/>
<path fill="#d27818" d="M550 1602h4v19h-4z"/>
<path fill="#d27e18" d="M585 1602h3v19h-3z"/>
<path fill="#f6b45a" d="M612 1602h3v19h-3zM701 1602h1v19h-1z"/>
<path fill="#b46012" d="M661 1602h5v19h-5z"/>
<path fill="#de8424" d="M672 1602h3v19h-3z"/>
</g>
<rect x="233.4" y="636.4" width="36.20000000000002" height="173.9" fill="none" stroke="#e01818" stroke-width="0.9"/>
<text x="352.4" y="644.6" font-size="9.35" fill="#111" stroke="#111" stroke-width="0.22">Domain</text>
<text x="352.4" y="653.7" font-size="9.35" fill="#111" stroke="#111" stroke-width="0.22">Animal</text>
<text x="352.4" y="662.7" font-size="9.35" fill="#111" stroke="#111" stroke-width="0.22">Cluster</text>
<text x="352.4" y="671.8" font-size="9.35" fill="#111" stroke="#111" stroke-width="0.22">Scgb3a1</text>
<text x="352.4" y="680.9" font-size="9.35" fill="#111" stroke="#111" stroke-width="0.22">Bpifb1</text>
<text x="352.4" y="690.0" font-size="9.35" fill="#111" stroke="#111" stroke-width="0.22">Reg3g</text>
<text x="352.4" y="699.0" font-size="9.35" fill="#111" stroke="#111" stroke-width="0.22">Muc5b</text>
<text x="352.4" y="708.1" font-size="9.35" fill="#111" stroke="#111" stroke-width="0.22">Tff2</text>
<text x="352.4" y="717.2" font-size="9.35" fill="#111" stroke="#111" stroke-width="0.22">Lgr6</text>
<text x="352.4" y="726.2" font-size="9.35" fill="#111" stroke="#111" stroke-width="0.22">Pax9</text>
<text x="352.4" y="735.3" font-size="9.35" fill="#111" stroke="#111" stroke-width="0.22">Six1</text>
<text x="352.4" y="744.4" font-size="9.35" fill="#111" stroke="#111" stroke-width="0.22">Tfcp2l1</text>
<text x="352.4" y="753.4" font-size="9.35" fill="#111" stroke="#111" stroke-width="0.22">Hp</text>
<text x="352.4" y="762.5" font-size="9.35" fill="#111" stroke="#111" stroke-width="0.22">Sftpb</text>
<text x="352.4" y="771.6" font-size="9.35" fill="#111" stroke="#111" stroke-width="0.22">Atp8a1</text>
<text x="352.4" y="780.7" font-size="9.35" fill="#111" stroke="#111" stroke-width="0.22">Ager</text>
<text x="352.4" y="789.7" font-size="9.35" fill="#111" stroke="#111" stroke-width="0.22">Igfbp6</text>
<text x="352.4" y="798.8" font-size="9.35" fill="#111" stroke="#111" stroke-width="0.22">Sftpc</text>
<text x="352.4" y="807.9" font-size="9.35" fill="#111" stroke="#111" stroke-width="0.22">Scgb1a1</text>
<text x="393.7" y="623.7" font-size="9.35" fill="#111" stroke="#111" stroke-width="0.22">log<tspan font-size="6" dy="2">2</tspan></text>
<text x="393.7" y="632.9" font-size="9.35" fill="#111" stroke="#111" stroke-width="0.22">(dots+1)</text>
<defs><linearGradient id="cbF" x1="0" x2="0" y1="0" y2="1"><stop offset="0" stop-color="#7f3b08"/><stop offset="0.17" stop-color="#c0640c"/><stop offset="0.33" stop-color="#f5b060"/><stop offset="0.5" stop-color="#f4eeea"/><stop offset="0.67" stop-color="#b2abd2"/><stop offset="0.83" stop-color="#6a4f9c"/><stop offset="1" stop-color="#2d004b"/></linearGradient></defs>
<rect x="394.20" y="638.60" width="9.90" height="53.40" fill="url(#cbF)"/>
<text x="404.8" y="641.6" font-size="9.35" fill="#111" stroke="#111" stroke-width="0.22">6</text>
<text x="404.8" y="650.5" font-size="9.35" fill="#111" stroke="#111" stroke-width="0.22">5</text>
<text x="404.8" y="659.4" font-size="9.35" fill="#111" stroke="#111" stroke-width="0.22">4</text>
<text x="404.8" y="668.3" font-size="9.35" fill="#111" stroke="#111" stroke-width="0.22">3</text>
<text x="404.8" y="677.2" font-size="9.35" fill="#111" stroke="#111" stroke-width="0.22">2</text>
<text x="404.8" y="686.1" font-size="9.35" fill="#111" stroke="#111" stroke-width="0.22">1</text>
<text x="404.8" y="695.0" font-size="9.35" fill="#111" stroke="#111" stroke-width="0.22">0</text>
<text x="393.7" y="706.9" font-size="9.35" fill="#111" stroke="#111" stroke-width="0.22">Domain</text>
<rect x="394.20" y="709.40" width="9.90" height="9.00" fill="#0000ff"/>
<text x="405.3" y="718.0" font-size="9.35" fill="#111" stroke="#111" stroke-width="0.22">P</text>
<rect x="394.20" y="718.40" width="9.90" height="9.00" fill="#add8e6"/>
<text x="405.3" y="727.0" font-size="9.35" fill="#111" stroke="#111" stroke-width="0.22">I1</text>
<rect x="394.20" y="727.40" width="9.90" height="9.00" fill="#006400"/>
<text x="405.3" y="736.0" font-size="9.35" fill="#111" stroke="#111" stroke-width="0.22">I2</text>
<rect x="394.20" y="736.40" width="9.90" height="9.00" fill="#ffd700"/>
<text x="405.3" y="745.0" font-size="9.35" fill="#111" stroke="#111" stroke-width="0.22">I3</text>
<rect x="394.20" y="745.40" width="9.90" height="9.00" fill="#8b4513"/>
<text x="405.3" y="754.0" font-size="9.35" fill="#111" stroke="#111" stroke-width="0.22">D</text>
<text x="393.7" y="774.7" font-size="9.35" fill="#111" stroke="#111" stroke-width="0.22">Animal</text>
<rect x="394.20" y="777.20" width="9.90" height="9.20" fill="#ff0000"/>
<text x="405.3" y="785.4" font-size="9.35" fill="#111" stroke="#111" stroke-width="0.22">m1</text>
<rect x="394.20" y="786.40" width="9.90" height="9.20" fill="#0000ff"/>
<text x="405.3" y="794.6" font-size="9.35" fill="#111" stroke="#111" stroke-width="0.22">m2</text>
<rect x="394.20" y="795.60" width="9.90" height="9.20" fill="#006400"/>
<text x="405.3" y="803.8" font-size="9.35" fill="#111" stroke="#111" stroke-width="0.22">m3</text>
</svg>
</body></html>
